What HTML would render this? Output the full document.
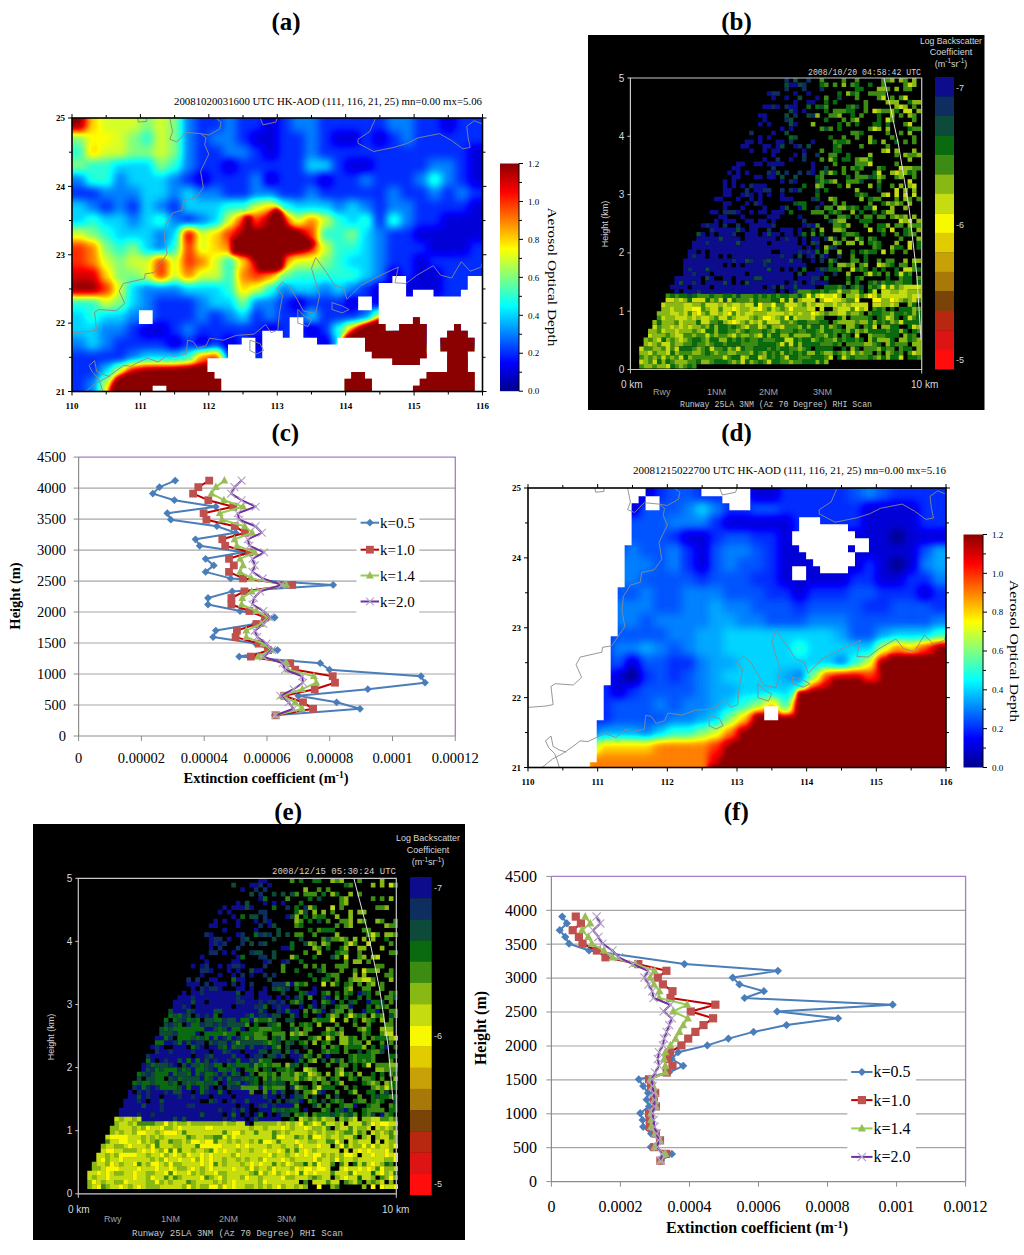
<!DOCTYPE html><html><head><meta charset="utf-8"><style>html,body{margin:0;padding:0;background:#fff;overflow:hidden;width:1024px;height:1255px;}svg{display:block;}</style></head><body><svg width="1024" height="1255" viewBox="0 0 1024 1255">
<defs><filter id="jet" color-interpolation-filters="sRGB" x="0" y="0" width="1" height="1"><feComponentTransfer><feFuncR type="table" tableValues="0 0 0 0 0.5 1 1 1 0.545"/><feFuncG type="table" tableValues="0 0 0.5 1 1 1 0.5 0 0"/><feFuncB type="table" tableValues="0.545 1 1 1 0.5 0 0 0 0"/></feComponentTransfer></filter></defs>
<rect width="1024" height="1255" fill="#fff"/>
<text x="286.0" y="30.0" font-family="Liberation Serif" font-size="25" fill="#000" text-anchor="middle" font-weight="bold" >(a)</text>
<text x="736.5" y="30.0" font-family="Liberation Serif" font-size="25" fill="#000" text-anchor="middle" font-weight="bold" >(b)</text>
<text x="285.3" y="440.7" font-family="Liberation Serif" font-size="25" fill="#000" text-anchor="middle" font-weight="bold" >(c)</text>
<text x="736.5" y="440.7" font-family="Liberation Serif" font-size="25" fill="#000" text-anchor="middle" font-weight="bold" >(d)</text>
<text x="288.1" y="819.8" font-family="Liberation Serif" font-size="25" fill="#000" text-anchor="middle" font-weight="bold" >(e)</text>
<text x="736.3" y="819.8" font-family="Liberation Serif" font-size="25" fill="#000" text-anchor="middle" font-weight="bold" >(f)</text>
<clipPath id="clipA"><rect x="72" y="118" width="410.50" height="273.50"/></clipPath>
<filter id="blA" color-interpolation-filters="sRGB" x="-5%" y="-5%" width="110%" height="110%"><feGaussianBlur stdDeviation="4.0"/></filter>
<filter id="sbA" color-interpolation-filters="sRGB" x="-20%" y="-20%" width="140%" height="140%"><feGaussianBlur stdDeviation="2"/></filter>
<g clip-path="url(#clipA)">
<g filter="url(#jet)">
<g filter="url(#blA)">
<rect x="44.6" y="90.7" width="14.3" height="14.3" fill="#ffffff"/>
<rect x="58.3" y="90.7" width="14.3" height="14.3" fill="#ffffff"/>
<rect x="72.0" y="90.7" width="14.3" height="14.3" fill="#ffffff"/>
<rect x="85.7" y="90.7" width="14.3" height="14.3" fill="#aaaaaa"/>
<rect x="99.4" y="90.7" width="14.3" height="14.3" fill="#959595"/>
<rect x="113.0" y="90.7" width="14.3" height="14.3" fill="#959595"/>
<rect x="126.7" y="90.7" width="14.3" height="14.3" fill="#959595"/>
<rect x="140.4" y="90.7" width="14.3" height="14.3" fill="#808080"/>
<rect x="154.1" y="90.7" width="14.3" height="14.3" fill="#959595"/>
<rect x="167.8" y="90.7" width="14.3" height="14.3" fill="#808080"/>
<rect x="181.5" y="90.7" width="14.3" height="14.3" fill="#404040"/>
<rect x="195.2" y="90.7" width="14.3" height="14.3" fill="#2b2b2b"/>
<rect x="208.8" y="90.7" width="14.3" height="14.3" fill="#2b2b2b"/>
<rect x="222.5" y="90.7" width="14.3" height="14.3" fill="#404040"/>
<rect x="236.2" y="90.7" width="14.3" height="14.3" fill="#2b2b2b"/>
<rect x="249.9" y="90.7" width="14.3" height="14.3" fill="#2b2b2b"/>
<rect x="263.6" y="90.7" width="14.3" height="14.3" fill="#151515"/>
<rect x="277.2" y="90.7" width="14.3" height="14.3" fill="#2b2b2b"/>
<rect x="290.9" y="90.7" width="14.3" height="14.3" fill="#404040"/>
<rect x="304.6" y="90.7" width="14.3" height="14.3" fill="#404040"/>
<rect x="318.3" y="90.7" width="14.3" height="14.3" fill="#2b2b2b"/>
<rect x="332.0" y="90.7" width="14.3" height="14.3" fill="#2b2b2b"/>
<rect x="345.7" y="90.7" width="14.3" height="14.3" fill="#2b2b2b"/>
<rect x="359.4" y="90.7" width="14.3" height="14.3" fill="#2b2b2b"/>
<rect x="373.0" y="90.7" width="14.3" height="14.3" fill="#2b2b2b"/>
<rect x="386.7" y="90.7" width="14.3" height="14.3" fill="#404040"/>
<rect x="400.4" y="90.7" width="14.3" height="14.3" fill="#404040"/>
<rect x="414.1" y="90.7" width="14.3" height="14.3" fill="#2b2b2b"/>
<rect x="427.8" y="90.7" width="14.3" height="14.3" fill="#2b2b2b"/>
<rect x="441.4" y="90.7" width="14.3" height="14.3" fill="#151515"/>
<rect x="455.1" y="90.7" width="14.3" height="14.3" fill="#2b2b2b"/>
<rect x="468.8" y="90.7" width="14.3" height="14.3" fill="#2b2b2b"/>
<rect x="482.5" y="90.7" width="14.3" height="14.3" fill="#2b2b2b"/>
<rect x="496.2" y="90.7" width="14.3" height="14.3" fill="#2b2b2b"/>
<rect x="44.6" y="104.3" width="14.3" height="14.3" fill="#ffffff"/>
<rect x="58.3" y="104.3" width="14.3" height="14.3" fill="#ffffff"/>
<rect x="72.0" y="104.3" width="14.3" height="14.3" fill="#ffffff"/>
<rect x="85.7" y="104.3" width="14.3" height="14.3" fill="#aaaaaa"/>
<rect x="99.4" y="104.3" width="14.3" height="14.3" fill="#959595"/>
<rect x="113.0" y="104.3" width="14.3" height="14.3" fill="#959595"/>
<rect x="126.7" y="104.3" width="14.3" height="14.3" fill="#959595"/>
<rect x="140.4" y="104.3" width="14.3" height="14.3" fill="#808080"/>
<rect x="154.1" y="104.3" width="14.3" height="14.3" fill="#959595"/>
<rect x="167.8" y="104.3" width="14.3" height="14.3" fill="#808080"/>
<rect x="181.5" y="104.3" width="14.3" height="14.3" fill="#404040"/>
<rect x="195.2" y="104.3" width="14.3" height="14.3" fill="#2b2b2b"/>
<rect x="208.8" y="104.3" width="14.3" height="14.3" fill="#2b2b2b"/>
<rect x="222.5" y="104.3" width="14.3" height="14.3" fill="#404040"/>
<rect x="236.2" y="104.3" width="14.3" height="14.3" fill="#2b2b2b"/>
<rect x="249.9" y="104.3" width="14.3" height="14.3" fill="#2b2b2b"/>
<rect x="263.6" y="104.3" width="14.3" height="14.3" fill="#151515"/>
<rect x="277.2" y="104.3" width="14.3" height="14.3" fill="#2b2b2b"/>
<rect x="290.9" y="104.3" width="14.3" height="14.3" fill="#404040"/>
<rect x="304.6" y="104.3" width="14.3" height="14.3" fill="#404040"/>
<rect x="318.3" y="104.3" width="14.3" height="14.3" fill="#2b2b2b"/>
<rect x="332.0" y="104.3" width="14.3" height="14.3" fill="#2b2b2b"/>
<rect x="345.7" y="104.3" width="14.3" height="14.3" fill="#2b2b2b"/>
<rect x="359.4" y="104.3" width="14.3" height="14.3" fill="#2b2b2b"/>
<rect x="373.0" y="104.3" width="14.3" height="14.3" fill="#2b2b2b"/>
<rect x="386.7" y="104.3" width="14.3" height="14.3" fill="#404040"/>
<rect x="400.4" y="104.3" width="14.3" height="14.3" fill="#404040"/>
<rect x="414.1" y="104.3" width="14.3" height="14.3" fill="#2b2b2b"/>
<rect x="427.8" y="104.3" width="14.3" height="14.3" fill="#2b2b2b"/>
<rect x="441.4" y="104.3" width="14.3" height="14.3" fill="#151515"/>
<rect x="455.1" y="104.3" width="14.3" height="14.3" fill="#2b2b2b"/>
<rect x="468.8" y="104.3" width="14.3" height="14.3" fill="#2b2b2b"/>
<rect x="482.5" y="104.3" width="14.3" height="14.3" fill="#2b2b2b"/>
<rect x="496.2" y="104.3" width="14.3" height="14.3" fill="#2b2b2b"/>
<rect x="44.6" y="118.0" width="14.3" height="14.3" fill="#ffffff"/>
<rect x="58.3" y="118.0" width="14.3" height="14.3" fill="#ffffff"/>
<rect x="72.0" y="118.0" width="14.3" height="14.3" fill="#ffffff"/>
<rect x="85.7" y="118.0" width="14.3" height="14.3" fill="#aaaaaa"/>
<rect x="99.4" y="118.0" width="14.3" height="14.3" fill="#959595"/>
<rect x="113.0" y="118.0" width="14.3" height="14.3" fill="#959595"/>
<rect x="126.7" y="118.0" width="14.3" height="14.3" fill="#959595"/>
<rect x="140.4" y="118.0" width="14.3" height="14.3" fill="#808080"/>
<rect x="154.1" y="118.0" width="14.3" height="14.3" fill="#959595"/>
<rect x="167.8" y="118.0" width="14.3" height="14.3" fill="#808080"/>
<rect x="181.5" y="118.0" width="14.3" height="14.3" fill="#404040"/>
<rect x="195.2" y="118.0" width="14.3" height="14.3" fill="#2b2b2b"/>
<rect x="208.8" y="118.0" width="14.3" height="14.3" fill="#2b2b2b"/>
<rect x="222.5" y="118.0" width="14.3" height="14.3" fill="#404040"/>
<rect x="236.2" y="118.0" width="14.3" height="14.3" fill="#2b2b2b"/>
<rect x="249.9" y="118.0" width="14.3" height="14.3" fill="#2b2b2b"/>
<rect x="263.6" y="118.0" width="14.3" height="14.3" fill="#151515"/>
<rect x="277.2" y="118.0" width="14.3" height="14.3" fill="#2b2b2b"/>
<rect x="290.9" y="118.0" width="14.3" height="14.3" fill="#404040"/>
<rect x="304.6" y="118.0" width="14.3" height="14.3" fill="#404040"/>
<rect x="318.3" y="118.0" width="14.3" height="14.3" fill="#2b2b2b"/>
<rect x="332.0" y="118.0" width="14.3" height="14.3" fill="#2b2b2b"/>
<rect x="345.7" y="118.0" width="14.3" height="14.3" fill="#2b2b2b"/>
<rect x="359.4" y="118.0" width="14.3" height="14.3" fill="#2b2b2b"/>
<rect x="373.0" y="118.0" width="14.3" height="14.3" fill="#2b2b2b"/>
<rect x="386.7" y="118.0" width="14.3" height="14.3" fill="#404040"/>
<rect x="400.4" y="118.0" width="14.3" height="14.3" fill="#404040"/>
<rect x="414.1" y="118.0" width="14.3" height="14.3" fill="#2b2b2b"/>
<rect x="427.8" y="118.0" width="14.3" height="14.3" fill="#2b2b2b"/>
<rect x="441.4" y="118.0" width="14.3" height="14.3" fill="#151515"/>
<rect x="455.1" y="118.0" width="14.3" height="14.3" fill="#2b2b2b"/>
<rect x="468.8" y="118.0" width="14.3" height="14.3" fill="#2b2b2b"/>
<rect x="482.5" y="118.0" width="14.3" height="14.3" fill="#2b2b2b"/>
<rect x="496.2" y="118.0" width="14.3" height="14.3" fill="#2b2b2b"/>
<rect x="44.6" y="131.7" width="14.3" height="14.3" fill="#808080"/>
<rect x="58.3" y="131.7" width="14.3" height="14.3" fill="#808080"/>
<rect x="72.0" y="131.7" width="14.3" height="14.3" fill="#808080"/>
<rect x="85.7" y="131.7" width="14.3" height="14.3" fill="#9f9f9f"/>
<rect x="99.4" y="131.7" width="14.3" height="14.3" fill="#9f9f9f"/>
<rect x="113.0" y="131.7" width="14.3" height="14.3" fill="#959595"/>
<rect x="126.7" y="131.7" width="14.3" height="14.3" fill="#808080"/>
<rect x="140.4" y="131.7" width="14.3" height="14.3" fill="#6a6a6a"/>
<rect x="154.1" y="131.7" width="14.3" height="14.3" fill="#959595"/>
<rect x="167.8" y="131.7" width="14.3" height="14.3" fill="#808080"/>
<rect x="181.5" y="131.7" width="14.3" height="14.3" fill="#404040"/>
<rect x="195.2" y="131.7" width="14.3" height="14.3" fill="#2b2b2b"/>
<rect x="208.8" y="131.7" width="14.3" height="14.3" fill="#404040"/>
<rect x="222.5" y="131.7" width="14.3" height="14.3" fill="#404040"/>
<rect x="236.2" y="131.7" width="14.3" height="14.3" fill="#2b2b2b"/>
<rect x="249.9" y="131.7" width="14.3" height="14.3" fill="#151515"/>
<rect x="263.6" y="131.7" width="14.3" height="14.3" fill="#151515"/>
<rect x="277.2" y="131.7" width="14.3" height="14.3" fill="#2b2b2b"/>
<rect x="290.9" y="131.7" width="14.3" height="14.3" fill="#2b2b2b"/>
<rect x="304.6" y="131.7" width="14.3" height="14.3" fill="#404040"/>
<rect x="318.3" y="131.7" width="14.3" height="14.3" fill="#2b2b2b"/>
<rect x="332.0" y="131.7" width="14.3" height="14.3" fill="#151515"/>
<rect x="345.7" y="131.7" width="14.3" height="14.3" fill="#151515"/>
<rect x="359.4" y="131.7" width="14.3" height="14.3" fill="#2b2b2b"/>
<rect x="373.0" y="131.7" width="14.3" height="14.3" fill="#151515"/>
<rect x="386.7" y="131.7" width="14.3" height="14.3" fill="#2b2b2b"/>
<rect x="400.4" y="131.7" width="14.3" height="14.3" fill="#404040"/>
<rect x="414.1" y="131.7" width="14.3" height="14.3" fill="#2b2b2b"/>
<rect x="427.8" y="131.7" width="14.3" height="14.3" fill="#2b2b2b"/>
<rect x="441.4" y="131.7" width="14.3" height="14.3" fill="#2b2b2b"/>
<rect x="455.1" y="131.7" width="14.3" height="14.3" fill="#2b2b2b"/>
<rect x="468.8" y="131.7" width="14.3" height="14.3" fill="#2b2b2b"/>
<rect x="482.5" y="131.7" width="14.3" height="14.3" fill="#2b2b2b"/>
<rect x="496.2" y="131.7" width="14.3" height="14.3" fill="#2b2b2b"/>
<rect x="44.6" y="145.3" width="14.3" height="14.3" fill="#6a6a6a"/>
<rect x="58.3" y="145.3" width="14.3" height="14.3" fill="#6a6a6a"/>
<rect x="72.0" y="145.3" width="14.3" height="14.3" fill="#6a6a6a"/>
<rect x="85.7" y="145.3" width="14.3" height="14.3" fill="#aaaaaa"/>
<rect x="99.4" y="145.3" width="14.3" height="14.3" fill="#959595"/>
<rect x="113.0" y="145.3" width="14.3" height="14.3" fill="#959595"/>
<rect x="126.7" y="145.3" width="14.3" height="14.3" fill="#808080"/>
<rect x="140.4" y="145.3" width="14.3" height="14.3" fill="#808080"/>
<rect x="154.1" y="145.3" width="14.3" height="14.3" fill="#959595"/>
<rect x="167.8" y="145.3" width="14.3" height="14.3" fill="#808080"/>
<rect x="181.5" y="145.3" width="14.3" height="14.3" fill="#404040"/>
<rect x="195.2" y="145.3" width="14.3" height="14.3" fill="#2b2b2b"/>
<rect x="208.8" y="145.3" width="14.3" height="14.3" fill="#2b2b2b"/>
<rect x="222.5" y="145.3" width="14.3" height="14.3" fill="#404040"/>
<rect x="236.2" y="145.3" width="14.3" height="14.3" fill="#404040"/>
<rect x="249.9" y="145.3" width="14.3" height="14.3" fill="#2b2b2b"/>
<rect x="263.6" y="145.3" width="14.3" height="14.3" fill="#151515"/>
<rect x="277.2" y="145.3" width="14.3" height="14.3" fill="#2b2b2b"/>
<rect x="290.9" y="145.3" width="14.3" height="14.3" fill="#2b2b2b"/>
<rect x="304.6" y="145.3" width="14.3" height="14.3" fill="#404040"/>
<rect x="318.3" y="145.3" width="14.3" height="14.3" fill="#2b2b2b"/>
<rect x="332.0" y="145.3" width="14.3" height="14.3" fill="#2b2b2b"/>
<rect x="345.7" y="145.3" width="14.3" height="14.3" fill="#2b2b2b"/>
<rect x="359.4" y="145.3" width="14.3" height="14.3" fill="#2b2b2b"/>
<rect x="373.0" y="145.3" width="14.3" height="14.3" fill="#2b2b2b"/>
<rect x="386.7" y="145.3" width="14.3" height="14.3" fill="#2b2b2b"/>
<rect x="400.4" y="145.3" width="14.3" height="14.3" fill="#2b2b2b"/>
<rect x="414.1" y="145.3" width="14.3" height="14.3" fill="#2b2b2b"/>
<rect x="427.8" y="145.3" width="14.3" height="14.3" fill="#2b2b2b"/>
<rect x="441.4" y="145.3" width="14.3" height="14.3" fill="#2b2b2b"/>
<rect x="455.1" y="145.3" width="14.3" height="14.3" fill="#2b2b2b"/>
<rect x="468.8" y="145.3" width="14.3" height="14.3" fill="#151515"/>
<rect x="482.5" y="145.3" width="14.3" height="14.3" fill="#151515"/>
<rect x="496.2" y="145.3" width="14.3" height="14.3" fill="#151515"/>
<rect x="44.6" y="159.0" width="14.3" height="14.3" fill="#808080"/>
<rect x="58.3" y="159.0" width="14.3" height="14.3" fill="#808080"/>
<rect x="72.0" y="159.0" width="14.3" height="14.3" fill="#808080"/>
<rect x="85.7" y="159.0" width="14.3" height="14.3" fill="#6a6a6a"/>
<rect x="99.4" y="159.0" width="14.3" height="14.3" fill="#6a6a6a"/>
<rect x="113.0" y="159.0" width="14.3" height="14.3" fill="#555555"/>
<rect x="126.7" y="159.0" width="14.3" height="14.3" fill="#555555"/>
<rect x="140.4" y="159.0" width="14.3" height="14.3" fill="#555555"/>
<rect x="154.1" y="159.0" width="14.3" height="14.3" fill="#808080"/>
<rect x="167.8" y="159.0" width="14.3" height="14.3" fill="#6a6a6a"/>
<rect x="181.5" y="159.0" width="14.3" height="14.3" fill="#404040"/>
<rect x="195.2" y="159.0" width="14.3" height="14.3" fill="#2b2b2b"/>
<rect x="208.8" y="159.0" width="14.3" height="14.3" fill="#2b2b2b"/>
<rect x="222.5" y="159.0" width="14.3" height="14.3" fill="#151515"/>
<rect x="236.2" y="159.0" width="14.3" height="14.3" fill="#2b2b2b"/>
<rect x="249.9" y="159.0" width="14.3" height="14.3" fill="#2b2b2b"/>
<rect x="263.6" y="159.0" width="14.3" height="14.3" fill="#2b2b2b"/>
<rect x="277.2" y="159.0" width="14.3" height="14.3" fill="#2b2b2b"/>
<rect x="290.9" y="159.0" width="14.3" height="14.3" fill="#2b2b2b"/>
<rect x="304.6" y="159.0" width="14.3" height="14.3" fill="#555555"/>
<rect x="318.3" y="159.0" width="14.3" height="14.3" fill="#555555"/>
<rect x="332.0" y="159.0" width="14.3" height="14.3" fill="#2b2b2b"/>
<rect x="345.7" y="159.0" width="14.3" height="14.3" fill="#151515"/>
<rect x="359.4" y="159.0" width="14.3" height="14.3" fill="#151515"/>
<rect x="373.0" y="159.0" width="14.3" height="14.3" fill="#2b2b2b"/>
<rect x="386.7" y="159.0" width="14.3" height="14.3" fill="#2b2b2b"/>
<rect x="400.4" y="159.0" width="14.3" height="14.3" fill="#2b2b2b"/>
<rect x="414.1" y="159.0" width="14.3" height="14.3" fill="#2b2b2b"/>
<rect x="427.8" y="159.0" width="14.3" height="14.3" fill="#404040"/>
<rect x="441.4" y="159.0" width="14.3" height="14.3" fill="#404040"/>
<rect x="455.1" y="159.0" width="14.3" height="14.3" fill="#2b2b2b"/>
<rect x="468.8" y="159.0" width="14.3" height="14.3" fill="#151515"/>
<rect x="482.5" y="159.0" width="14.3" height="14.3" fill="#151515"/>
<rect x="496.2" y="159.0" width="14.3" height="14.3" fill="#151515"/>
<rect x="44.6" y="172.7" width="14.3" height="14.3" fill="#404040"/>
<rect x="58.3" y="172.7" width="14.3" height="14.3" fill="#404040"/>
<rect x="72.0" y="172.7" width="14.3" height="14.3" fill="#404040"/>
<rect x="85.7" y="172.7" width="14.3" height="14.3" fill="#6a6a6a"/>
<rect x="99.4" y="172.7" width="14.3" height="14.3" fill="#6a6a6a"/>
<rect x="113.0" y="172.7" width="14.3" height="14.3" fill="#404040"/>
<rect x="126.7" y="172.7" width="14.3" height="14.3" fill="#555555"/>
<rect x="140.4" y="172.7" width="14.3" height="14.3" fill="#555555"/>
<rect x="154.1" y="172.7" width="14.3" height="14.3" fill="#555555"/>
<rect x="167.8" y="172.7" width="14.3" height="14.3" fill="#404040"/>
<rect x="181.5" y="172.7" width="14.3" height="14.3" fill="#2b2b2b"/>
<rect x="195.2" y="172.7" width="14.3" height="14.3" fill="#151515"/>
<rect x="208.8" y="172.7" width="14.3" height="14.3" fill="#2b2b2b"/>
<rect x="222.5" y="172.7" width="14.3" height="14.3" fill="#2b2b2b"/>
<rect x="236.2" y="172.7" width="14.3" height="14.3" fill="#2b2b2b"/>
<rect x="249.9" y="172.7" width="14.3" height="14.3" fill="#404040"/>
<rect x="263.6" y="172.7" width="14.3" height="14.3" fill="#151515"/>
<rect x="277.2" y="172.7" width="14.3" height="14.3" fill="#2b2b2b"/>
<rect x="290.9" y="172.7" width="14.3" height="14.3" fill="#2b2b2b"/>
<rect x="304.6" y="172.7" width="14.3" height="14.3" fill="#2b2b2b"/>
<rect x="318.3" y="172.7" width="14.3" height="14.3" fill="#151515"/>
<rect x="332.0" y="172.7" width="14.3" height="14.3" fill="#2b2b2b"/>
<rect x="345.7" y="172.7" width="14.3" height="14.3" fill="#2b2b2b"/>
<rect x="359.4" y="172.7" width="14.3" height="14.3" fill="#404040"/>
<rect x="373.0" y="172.7" width="14.3" height="14.3" fill="#2b2b2b"/>
<rect x="386.7" y="172.7" width="14.3" height="14.3" fill="#2b2b2b"/>
<rect x="400.4" y="172.7" width="14.3" height="14.3" fill="#2b2b2b"/>
<rect x="414.1" y="172.7" width="14.3" height="14.3" fill="#404040"/>
<rect x="427.8" y="172.7" width="14.3" height="14.3" fill="#6a6a6a"/>
<rect x="441.4" y="172.7" width="14.3" height="14.3" fill="#404040"/>
<rect x="455.1" y="172.7" width="14.3" height="14.3" fill="#2b2b2b"/>
<rect x="468.8" y="172.7" width="14.3" height="14.3" fill="#151515"/>
<rect x="482.5" y="172.7" width="14.3" height="14.3" fill="#151515"/>
<rect x="496.2" y="172.7" width="14.3" height="14.3" fill="#151515"/>
<rect x="44.6" y="186.4" width="14.3" height="14.3" fill="#2b2b2b"/>
<rect x="58.3" y="186.4" width="14.3" height="14.3" fill="#2b2b2b"/>
<rect x="72.0" y="186.4" width="14.3" height="14.3" fill="#2b2b2b"/>
<rect x="85.7" y="186.4" width="14.3" height="14.3" fill="#2b2b2b"/>
<rect x="99.4" y="186.4" width="14.3" height="14.3" fill="#404040"/>
<rect x="113.0" y="186.4" width="14.3" height="14.3" fill="#404040"/>
<rect x="126.7" y="186.4" width="14.3" height="14.3" fill="#404040"/>
<rect x="140.4" y="186.4" width="14.3" height="14.3" fill="#555555"/>
<rect x="154.1" y="186.4" width="14.3" height="14.3" fill="#555555"/>
<rect x="167.8" y="186.4" width="14.3" height="14.3" fill="#404040"/>
<rect x="181.5" y="186.4" width="14.3" height="14.3" fill="#555555"/>
<rect x="195.2" y="186.4" width="14.3" height="14.3" fill="#404040"/>
<rect x="208.8" y="186.4" width="14.3" height="14.3" fill="#404040"/>
<rect x="222.5" y="186.4" width="14.3" height="14.3" fill="#2b2b2b"/>
<rect x="236.2" y="186.4" width="14.3" height="14.3" fill="#2b2b2b"/>
<rect x="249.9" y="186.4" width="14.3" height="14.3" fill="#404040"/>
<rect x="263.6" y="186.4" width="14.3" height="14.3" fill="#404040"/>
<rect x="277.2" y="186.4" width="14.3" height="14.3" fill="#2b2b2b"/>
<rect x="290.9" y="186.4" width="14.3" height="14.3" fill="#2b2b2b"/>
<rect x="304.6" y="186.4" width="14.3" height="14.3" fill="#404040"/>
<rect x="318.3" y="186.4" width="14.3" height="14.3" fill="#2b2b2b"/>
<rect x="332.0" y="186.4" width="14.3" height="14.3" fill="#2b2b2b"/>
<rect x="345.7" y="186.4" width="14.3" height="14.3" fill="#2b2b2b"/>
<rect x="359.4" y="186.4" width="14.3" height="14.3" fill="#2b2b2b"/>
<rect x="373.0" y="186.4" width="14.3" height="14.3" fill="#2b2b2b"/>
<rect x="386.7" y="186.4" width="14.3" height="14.3" fill="#404040"/>
<rect x="400.4" y="186.4" width="14.3" height="14.3" fill="#2b2b2b"/>
<rect x="414.1" y="186.4" width="14.3" height="14.3" fill="#2b2b2b"/>
<rect x="427.8" y="186.4" width="14.3" height="14.3" fill="#404040"/>
<rect x="441.4" y="186.4" width="14.3" height="14.3" fill="#2b2b2b"/>
<rect x="455.1" y="186.4" width="14.3" height="14.3" fill="#404040"/>
<rect x="468.8" y="186.4" width="14.3" height="14.3" fill="#2b2b2b"/>
<rect x="482.5" y="186.4" width="14.3" height="14.3" fill="#2b2b2b"/>
<rect x="496.2" y="186.4" width="14.3" height="14.3" fill="#2b2b2b"/>
<rect x="44.6" y="200.1" width="14.3" height="14.3" fill="#555555"/>
<rect x="58.3" y="200.1" width="14.3" height="14.3" fill="#555555"/>
<rect x="72.0" y="200.1" width="14.3" height="14.3" fill="#555555"/>
<rect x="85.7" y="200.1" width="14.3" height="14.3" fill="#404040"/>
<rect x="99.4" y="200.1" width="14.3" height="14.3" fill="#2b2b2b"/>
<rect x="113.0" y="200.1" width="14.3" height="14.3" fill="#404040"/>
<rect x="126.7" y="200.1" width="14.3" height="14.3" fill="#2b2b2b"/>
<rect x="140.4" y="200.1" width="14.3" height="14.3" fill="#555555"/>
<rect x="154.1" y="200.1" width="14.3" height="14.3" fill="#404040"/>
<rect x="167.8" y="200.1" width="14.3" height="14.3" fill="#2b2b2b"/>
<rect x="181.5" y="200.1" width="14.3" height="14.3" fill="#555555"/>
<rect x="195.2" y="200.1" width="14.3" height="14.3" fill="#555555"/>
<rect x="208.8" y="200.1" width="14.3" height="14.3" fill="#555555"/>
<rect x="222.5" y="200.1" width="14.3" height="14.3" fill="#6a6a6a"/>
<rect x="236.2" y="200.1" width="14.3" height="14.3" fill="#6a6a6a"/>
<rect x="249.9" y="200.1" width="14.3" height="14.3" fill="#959595"/>
<rect x="263.6" y="200.1" width="14.3" height="14.3" fill="#aaaaaa"/>
<rect x="277.2" y="200.1" width="14.3" height="14.3" fill="#6a6a6a"/>
<rect x="290.9" y="200.1" width="14.3" height="14.3" fill="#555555"/>
<rect x="304.6" y="200.1" width="14.3" height="14.3" fill="#555555"/>
<rect x="318.3" y="200.1" width="14.3" height="14.3" fill="#555555"/>
<rect x="332.0" y="200.1" width="14.3" height="14.3" fill="#404040"/>
<rect x="345.7" y="200.1" width="14.3" height="14.3" fill="#555555"/>
<rect x="359.4" y="200.1" width="14.3" height="14.3" fill="#404040"/>
<rect x="373.0" y="200.1" width="14.3" height="14.3" fill="#2b2b2b"/>
<rect x="386.7" y="200.1" width="14.3" height="14.3" fill="#404040"/>
<rect x="400.4" y="200.1" width="14.3" height="14.3" fill="#404040"/>
<rect x="414.1" y="200.1" width="14.3" height="14.3" fill="#2b2b2b"/>
<rect x="427.8" y="200.1" width="14.3" height="14.3" fill="#2b2b2b"/>
<rect x="441.4" y="200.1" width="14.3" height="14.3" fill="#2b2b2b"/>
<rect x="455.1" y="200.1" width="14.3" height="14.3" fill="#2b2b2b"/>
<rect x="468.8" y="200.1" width="14.3" height="14.3" fill="#151515"/>
<rect x="482.5" y="200.1" width="14.3" height="14.3" fill="#151515"/>
<rect x="496.2" y="200.1" width="14.3" height="14.3" fill="#151515"/>
<rect x="44.6" y="213.7" width="14.3" height="14.3" fill="#555555"/>
<rect x="58.3" y="213.7" width="14.3" height="14.3" fill="#555555"/>
<rect x="72.0" y="213.7" width="14.3" height="14.3" fill="#555555"/>
<rect x="85.7" y="213.7" width="14.3" height="14.3" fill="#6a6a6a"/>
<rect x="99.4" y="213.7" width="14.3" height="14.3" fill="#555555"/>
<rect x="113.0" y="213.7" width="14.3" height="14.3" fill="#555555"/>
<rect x="126.7" y="213.7" width="14.3" height="14.3" fill="#404040"/>
<rect x="140.4" y="213.7" width="14.3" height="14.3" fill="#555555"/>
<rect x="154.1" y="213.7" width="14.3" height="14.3" fill="#6a6a6a"/>
<rect x="167.8" y="213.7" width="14.3" height="14.3" fill="#404040"/>
<rect x="181.5" y="213.7" width="14.3" height="14.3" fill="#2b2b2b"/>
<rect x="195.2" y="213.7" width="14.3" height="14.3" fill="#404040"/>
<rect x="208.8" y="213.7" width="14.3" height="14.3" fill="#555555"/>
<rect x="222.5" y="213.7" width="14.3" height="14.3" fill="#959595"/>
<rect x="236.2" y="213.7" width="14.3" height="14.3" fill="#d4d4d4"/>
<rect x="249.9" y="213.7" width="14.3" height="14.3" fill="#d4d4d4"/>
<rect x="263.6" y="213.7" width="14.3" height="14.3" fill="#ffffff"/>
<rect x="277.2" y="213.7" width="14.3" height="14.3" fill="#d4d4d4"/>
<rect x="290.9" y="213.7" width="14.3" height="14.3" fill="#959595"/>
<rect x="304.6" y="213.7" width="14.3" height="14.3" fill="#bfbfbf"/>
<rect x="318.3" y="213.7" width="14.3" height="14.3" fill="#959595"/>
<rect x="332.0" y="213.7" width="14.3" height="14.3" fill="#6a6a6a"/>
<rect x="345.7" y="213.7" width="14.3" height="14.3" fill="#555555"/>
<rect x="359.4" y="213.7" width="14.3" height="14.3" fill="#6a6a6a"/>
<rect x="373.0" y="213.7" width="14.3" height="14.3" fill="#2b2b2b"/>
<rect x="386.7" y="213.7" width="14.3" height="14.3" fill="#6a6a6a"/>
<rect x="400.4" y="213.7" width="14.3" height="14.3" fill="#404040"/>
<rect x="414.1" y="213.7" width="14.3" height="14.3" fill="#2b2b2b"/>
<rect x="427.8" y="213.7" width="14.3" height="14.3" fill="#2b2b2b"/>
<rect x="441.4" y="213.7" width="14.3" height="14.3" fill="#151515"/>
<rect x="455.1" y="213.7" width="14.3" height="14.3" fill="#151515"/>
<rect x="468.8" y="213.7" width="14.3" height="14.3" fill="#151515"/>
<rect x="482.5" y="213.7" width="14.3" height="14.3" fill="#151515"/>
<rect x="496.2" y="213.7" width="14.3" height="14.3" fill="#151515"/>
<rect x="44.6" y="227.4" width="14.3" height="14.3" fill="#959595"/>
<rect x="58.3" y="227.4" width="14.3" height="14.3" fill="#959595"/>
<rect x="72.0" y="227.4" width="14.3" height="14.3" fill="#959595"/>
<rect x="85.7" y="227.4" width="14.3" height="14.3" fill="#808080"/>
<rect x="99.4" y="227.4" width="14.3" height="14.3" fill="#6a6a6a"/>
<rect x="113.0" y="227.4" width="14.3" height="14.3" fill="#555555"/>
<rect x="126.7" y="227.4" width="14.3" height="14.3" fill="#555555"/>
<rect x="140.4" y="227.4" width="14.3" height="14.3" fill="#555555"/>
<rect x="154.1" y="227.4" width="14.3" height="14.3" fill="#404040"/>
<rect x="167.8" y="227.4" width="14.3" height="14.3" fill="#555555"/>
<rect x="181.5" y="227.4" width="14.3" height="14.3" fill="#eaeaea"/>
<rect x="195.2" y="227.4" width="14.3" height="14.3" fill="#959595"/>
<rect x="208.8" y="227.4" width="14.3" height="14.3" fill="#aaaaaa"/>
<rect x="222.5" y="227.4" width="14.3" height="14.3" fill="#d4d4d4"/>
<rect x="236.2" y="227.4" width="14.3" height="14.3" fill="#ffffff"/>
<rect x="249.9" y="227.4" width="14.3" height="14.3" fill="#ffffff"/>
<rect x="263.6" y="227.4" width="14.3" height="14.3" fill="#ffffff"/>
<rect x="277.2" y="227.4" width="14.3" height="14.3" fill="#ffffff"/>
<rect x="290.9" y="227.4" width="14.3" height="14.3" fill="#ffffff"/>
<rect x="304.6" y="227.4" width="14.3" height="14.3" fill="#d4d4d4"/>
<rect x="318.3" y="227.4" width="14.3" height="14.3" fill="#6a6a6a"/>
<rect x="332.0" y="227.4" width="14.3" height="14.3" fill="#6a6a6a"/>
<rect x="345.7" y="227.4" width="14.3" height="14.3" fill="#808080"/>
<rect x="359.4" y="227.4" width="14.3" height="14.3" fill="#555555"/>
<rect x="373.0" y="227.4" width="14.3" height="14.3" fill="#404040"/>
<rect x="386.7" y="227.4" width="14.3" height="14.3" fill="#2b2b2b"/>
<rect x="400.4" y="227.4" width="14.3" height="14.3" fill="#2b2b2b"/>
<rect x="414.1" y="227.4" width="14.3" height="14.3" fill="#151515"/>
<rect x="427.8" y="227.4" width="14.3" height="14.3" fill="#151515"/>
<rect x="441.4" y="227.4" width="14.3" height="14.3" fill="#151515"/>
<rect x="455.1" y="227.4" width="14.3" height="14.3" fill="#151515"/>
<rect x="468.8" y="227.4" width="14.3" height="14.3" fill="#151515"/>
<rect x="482.5" y="227.4" width="14.3" height="14.3" fill="#151515"/>
<rect x="496.2" y="227.4" width="14.3" height="14.3" fill="#151515"/>
<rect x="44.6" y="241.1" width="14.3" height="14.3" fill="#d4d4d4"/>
<rect x="58.3" y="241.1" width="14.3" height="14.3" fill="#d4d4d4"/>
<rect x="72.0" y="241.1" width="14.3" height="14.3" fill="#d4d4d4"/>
<rect x="85.7" y="241.1" width="14.3" height="14.3" fill="#bfbfbf"/>
<rect x="99.4" y="241.1" width="14.3" height="14.3" fill="#808080"/>
<rect x="113.0" y="241.1" width="14.3" height="14.3" fill="#6a6a6a"/>
<rect x="126.7" y="241.1" width="14.3" height="14.3" fill="#808080"/>
<rect x="140.4" y="241.1" width="14.3" height="14.3" fill="#555555"/>
<rect x="154.1" y="241.1" width="14.3" height="14.3" fill="#404040"/>
<rect x="167.8" y="241.1" width="14.3" height="14.3" fill="#6a6a6a"/>
<rect x="181.5" y="241.1" width="14.3" height="14.3" fill="#d4d4d4"/>
<rect x="195.2" y="241.1" width="14.3" height="14.3" fill="#959595"/>
<rect x="208.8" y="241.1" width="14.3" height="14.3" fill="#aaaaaa"/>
<rect x="222.5" y="241.1" width="14.3" height="14.3" fill="#bfbfbf"/>
<rect x="236.2" y="241.1" width="14.3" height="14.3" fill="#ffffff"/>
<rect x="249.9" y="241.1" width="14.3" height="14.3" fill="#ffffff"/>
<rect x="263.6" y="241.1" width="14.3" height="14.3" fill="#ffffff"/>
<rect x="277.2" y="241.1" width="14.3" height="14.3" fill="#ffffff"/>
<rect x="290.9" y="241.1" width="14.3" height="14.3" fill="#ffffff"/>
<rect x="304.6" y="241.1" width="14.3" height="14.3" fill="#d4d4d4"/>
<rect x="318.3" y="241.1" width="14.3" height="14.3" fill="#959595"/>
<rect x="332.0" y="241.1" width="14.3" height="14.3" fill="#6a6a6a"/>
<rect x="345.7" y="241.1" width="14.3" height="14.3" fill="#6a6a6a"/>
<rect x="359.4" y="241.1" width="14.3" height="14.3" fill="#555555"/>
<rect x="373.0" y="241.1" width="14.3" height="14.3" fill="#404040"/>
<rect x="386.7" y="241.1" width="14.3" height="14.3" fill="#2b2b2b"/>
<rect x="400.4" y="241.1" width="14.3" height="14.3" fill="#2b2b2b"/>
<rect x="414.1" y="241.1" width="14.3" height="14.3" fill="#2b2b2b"/>
<rect x="427.8" y="241.1" width="14.3" height="14.3" fill="#151515"/>
<rect x="441.4" y="241.1" width="14.3" height="14.3" fill="#151515"/>
<rect x="455.1" y="241.1" width="14.3" height="14.3" fill="#151515"/>
<rect x="468.8" y="241.1" width="14.3" height="14.3" fill="#2b2b2b"/>
<rect x="482.5" y="241.1" width="14.3" height="14.3" fill="#2b2b2b"/>
<rect x="496.2" y="241.1" width="14.3" height="14.3" fill="#2b2b2b"/>
<rect x="44.6" y="254.8" width="14.3" height="14.3" fill="#d4d4d4"/>
<rect x="58.3" y="254.8" width="14.3" height="14.3" fill="#d4d4d4"/>
<rect x="72.0" y="254.8" width="14.3" height="14.3" fill="#d4d4d4"/>
<rect x="85.7" y="254.8" width="14.3" height="14.3" fill="#bfbfbf"/>
<rect x="99.4" y="254.8" width="14.3" height="14.3" fill="#959595"/>
<rect x="113.0" y="254.8" width="14.3" height="14.3" fill="#808080"/>
<rect x="126.7" y="254.8" width="14.3" height="14.3" fill="#959595"/>
<rect x="140.4" y="254.8" width="14.3" height="14.3" fill="#959595"/>
<rect x="154.1" y="254.8" width="14.3" height="14.3" fill="#d4d4d4"/>
<rect x="167.8" y="254.8" width="14.3" height="14.3" fill="#959595"/>
<rect x="181.5" y="254.8" width="14.3" height="14.3" fill="#d4d4d4"/>
<rect x="195.2" y="254.8" width="14.3" height="14.3" fill="#bfbfbf"/>
<rect x="208.8" y="254.8" width="14.3" height="14.3" fill="#959595"/>
<rect x="222.5" y="254.8" width="14.3" height="14.3" fill="#6a6a6a"/>
<rect x="236.2" y="254.8" width="14.3" height="14.3" fill="#aaaaaa"/>
<rect x="249.9" y="254.8" width="14.3" height="14.3" fill="#eaeaea"/>
<rect x="263.6" y="254.8" width="14.3" height="14.3" fill="#ffffff"/>
<rect x="277.2" y="254.8" width="14.3" height="14.3" fill="#bfbfbf"/>
<rect x="290.9" y="254.8" width="14.3" height="14.3" fill="#959595"/>
<rect x="304.6" y="254.8" width="14.3" height="14.3" fill="#959595"/>
<rect x="318.3" y="254.8" width="14.3" height="14.3" fill="#808080"/>
<rect x="332.0" y="254.8" width="14.3" height="14.3" fill="#6a6a6a"/>
<rect x="345.7" y="254.8" width="14.3" height="14.3" fill="#555555"/>
<rect x="359.4" y="254.8" width="14.3" height="14.3" fill="#555555"/>
<rect x="373.0" y="254.8" width="14.3" height="14.3" fill="#404040"/>
<rect x="386.7" y="254.8" width="14.3" height="14.3" fill="#2b2b2b"/>
<rect x="400.4" y="254.8" width="14.3" height="14.3" fill="#2b2b2b"/>
<rect x="414.1" y="254.8" width="14.3" height="14.3" fill="#151515"/>
<rect x="427.8" y="254.8" width="14.3" height="14.3" fill="#2b2b2b"/>
<rect x="441.4" y="254.8" width="14.3" height="14.3" fill="#2b2b2b"/>
<rect x="455.1" y="254.8" width="14.3" height="14.3" fill="#2b2b2b"/>
<rect x="468.8" y="254.8" width="14.3" height="14.3" fill="#2b2b2b"/>
<rect x="482.5" y="254.8" width="14.3" height="14.3" fill="#2b2b2b"/>
<rect x="496.2" y="254.8" width="14.3" height="14.3" fill="#2b2b2b"/>
<rect x="44.6" y="268.4" width="14.3" height="14.3" fill="#eaeaea"/>
<rect x="58.3" y="268.4" width="14.3" height="14.3" fill="#eaeaea"/>
<rect x="72.0" y="268.4" width="14.3" height="14.3" fill="#eaeaea"/>
<rect x="85.7" y="268.4" width="14.3" height="14.3" fill="#eaeaea"/>
<rect x="99.4" y="268.4" width="14.3" height="14.3" fill="#aaaaaa"/>
<rect x="113.0" y="268.4" width="14.3" height="14.3" fill="#808080"/>
<rect x="126.7" y="268.4" width="14.3" height="14.3" fill="#808080"/>
<rect x="140.4" y="268.4" width="14.3" height="14.3" fill="#959595"/>
<rect x="154.1" y="268.4" width="14.3" height="14.3" fill="#d4d4d4"/>
<rect x="167.8" y="268.4" width="14.3" height="14.3" fill="#959595"/>
<rect x="181.5" y="268.4" width="14.3" height="14.3" fill="#bfbfbf"/>
<rect x="195.2" y="268.4" width="14.3" height="14.3" fill="#959595"/>
<rect x="208.8" y="268.4" width="14.3" height="14.3" fill="#959595"/>
<rect x="222.5" y="268.4" width="14.3" height="14.3" fill="#6a6a6a"/>
<rect x="236.2" y="268.4" width="14.3" height="14.3" fill="#bfbfbf"/>
<rect x="249.9" y="268.4" width="14.3" height="14.3" fill="#d4d4d4"/>
<rect x="263.6" y="268.4" width="14.3" height="14.3" fill="#bfbfbf"/>
<rect x="277.2" y="268.4" width="14.3" height="14.3" fill="#808080"/>
<rect x="290.9" y="268.4" width="14.3" height="14.3" fill="#6a6a6a"/>
<rect x="304.6" y="268.4" width="14.3" height="14.3" fill="#6a6a6a"/>
<rect x="318.3" y="268.4" width="14.3" height="14.3" fill="#6a6a6a"/>
<rect x="332.0" y="268.4" width="14.3" height="14.3" fill="#6a6a6a"/>
<rect x="345.7" y="268.4" width="14.3" height="14.3" fill="#6a6a6a"/>
<rect x="359.4" y="268.4" width="14.3" height="14.3" fill="#555555"/>
<rect x="373.0" y="268.4" width="14.3" height="14.3" fill="#404040"/>
<rect x="386.7" y="268.4" width="14.3" height="14.3" fill="#151515"/>
<rect x="400.4" y="268.4" width="14.3" height="14.3" fill="#2b2b2b"/>
<rect x="414.1" y="268.4" width="14.3" height="14.3" fill="#151515"/>
<rect x="427.8" y="268.4" width="14.3" height="14.3" fill="#151515"/>
<rect x="441.4" y="268.4" width="14.3" height="14.3" fill="#2b2b2b"/>
<rect x="455.1" y="268.4" width="14.3" height="14.3" fill="#2b2b2b"/>
<rect x="468.8" y="268.4" width="14.3" height="14.3" fill="#2b2b2b"/>
<rect x="482.5" y="268.4" width="14.3" height="14.3" fill="#2b2b2b"/>
<rect x="496.2" y="268.4" width="14.3" height="14.3" fill="#2b2b2b"/>
<rect x="44.6" y="282.1" width="14.3" height="14.3" fill="#ffffff"/>
<rect x="58.3" y="282.1" width="14.3" height="14.3" fill="#ffffff"/>
<rect x="72.0" y="282.1" width="14.3" height="14.3" fill="#ffffff"/>
<rect x="85.7" y="282.1" width="14.3" height="14.3" fill="#ffffff"/>
<rect x="99.4" y="282.1" width="14.3" height="14.3" fill="#d4d4d4"/>
<rect x="113.0" y="282.1" width="14.3" height="14.3" fill="#959595"/>
<rect x="126.7" y="282.1" width="14.3" height="14.3" fill="#555555"/>
<rect x="140.4" y="282.1" width="14.3" height="14.3" fill="#404040"/>
<rect x="154.1" y="282.1" width="14.3" height="14.3" fill="#404040"/>
<rect x="167.8" y="282.1" width="14.3" height="14.3" fill="#404040"/>
<rect x="181.5" y="282.1" width="14.3" height="14.3" fill="#555555"/>
<rect x="195.2" y="282.1" width="14.3" height="14.3" fill="#555555"/>
<rect x="208.8" y="282.1" width="14.3" height="14.3" fill="#555555"/>
<rect x="222.5" y="282.1" width="14.3" height="14.3" fill="#6a6a6a"/>
<rect x="236.2" y="282.1" width="14.3" height="14.3" fill="#aaaaaa"/>
<rect x="249.9" y="282.1" width="14.3" height="14.3" fill="#959595"/>
<rect x="263.6" y="282.1" width="14.3" height="14.3" fill="#6a6a6a"/>
<rect x="277.2" y="282.1" width="14.3" height="14.3" fill="#404040"/>
<rect x="290.9" y="282.1" width="14.3" height="14.3" fill="#555555"/>
<rect x="304.6" y="282.1" width="14.3" height="14.3" fill="#555555"/>
<rect x="318.3" y="282.1" width="14.3" height="14.3" fill="#404040"/>
<rect x="332.0" y="282.1" width="14.3" height="14.3" fill="#555555"/>
<rect x="345.7" y="282.1" width="14.3" height="14.3" fill="#404040"/>
<rect x="359.4" y="282.1" width="14.3" height="14.3" fill="#2b2b2b"/>
<rect x="373.0" y="282.1" width="14.3" height="14.3" fill="#151515"/>
<rect x="386.7" y="282.1" width="14.3" height="14.3" fill="#151515"/>
<rect x="400.4" y="282.1" width="14.3" height="14.3" fill="#151515"/>
<rect x="414.1" y="282.1" width="14.3" height="14.3" fill="#151515"/>
<rect x="427.8" y="282.1" width="14.3" height="14.3" fill="#151515"/>
<rect x="441.4" y="282.1" width="14.3" height="14.3" fill="#2b2b2b"/>
<rect x="455.1" y="282.1" width="14.3" height="14.3" fill="#2b2b2b"/>
<rect x="468.8" y="282.1" width="14.3" height="14.3" fill="#2b2b2b"/>
<rect x="482.5" y="282.1" width="14.3" height="14.3" fill="#2b2b2b"/>
<rect x="496.2" y="282.1" width="14.3" height="14.3" fill="#2b2b2b"/>
<rect x="44.6" y="295.8" width="14.3" height="14.3" fill="#6a6a6a"/>
<rect x="58.3" y="295.8" width="14.3" height="14.3" fill="#6a6a6a"/>
<rect x="72.0" y="295.8" width="14.3" height="14.3" fill="#6a6a6a"/>
<rect x="85.7" y="295.8" width="14.3" height="14.3" fill="#6a6a6a"/>
<rect x="99.4" y="295.8" width="14.3" height="14.3" fill="#959595"/>
<rect x="113.0" y="295.8" width="14.3" height="14.3" fill="#808080"/>
<rect x="126.7" y="295.8" width="14.3" height="14.3" fill="#555555"/>
<rect x="140.4" y="295.8" width="14.3" height="14.3" fill="#404040"/>
<rect x="154.1" y="295.8" width="14.3" height="14.3" fill="#2b2b2b"/>
<rect x="167.8" y="295.8" width="14.3" height="14.3" fill="#2b2b2b"/>
<rect x="181.5" y="295.8" width="14.3" height="14.3" fill="#2b2b2b"/>
<rect x="195.2" y="295.8" width="14.3" height="14.3" fill="#404040"/>
<rect x="208.8" y="295.8" width="14.3" height="14.3" fill="#555555"/>
<rect x="222.5" y="295.8" width="14.3" height="14.3" fill="#555555"/>
<rect x="236.2" y="295.8" width="14.3" height="14.3" fill="#808080"/>
<rect x="249.9" y="295.8" width="14.3" height="14.3" fill="#404040"/>
<rect x="263.6" y="295.8" width="14.3" height="14.3" fill="#404040"/>
<rect x="277.2" y="295.8" width="14.3" height="14.3" fill="#2b2b2b"/>
<rect x="290.9" y="295.8" width="14.3" height="14.3" fill="#151515"/>
<rect x="304.6" y="295.8" width="14.3" height="14.3" fill="#2b2b2b"/>
<rect x="318.3" y="295.8" width="14.3" height="14.3" fill="#2b2b2b"/>
<rect x="332.0" y="295.8" width="14.3" height="14.3" fill="#2b2b2b"/>
<rect x="345.7" y="295.8" width="14.3" height="14.3" fill="#151515"/>
<rect x="359.4" y="295.8" width="14.3" height="14.3" fill="#2b2b2b"/>
<rect x="373.0" y="295.8" width="14.3" height="14.3" fill="#151515"/>
<rect x="386.7" y="295.8" width="14.3" height="14.3" fill="#2b2b2b"/>
<rect x="400.4" y="295.8" width="14.3" height="14.3" fill="#2b2b2b"/>
<rect x="414.1" y="295.8" width="14.3" height="14.3" fill="#2b2b2b"/>
<rect x="427.8" y="295.8" width="14.3" height="14.3" fill="#2b2b2b"/>
<rect x="441.4" y="295.8" width="14.3" height="14.3" fill="#2b2b2b"/>
<rect x="455.1" y="295.8" width="14.3" height="14.3" fill="#2b2b2b"/>
<rect x="468.8" y="295.8" width="14.3" height="14.3" fill="#2b2b2b"/>
<rect x="482.5" y="295.8" width="14.3" height="14.3" fill="#2b2b2b"/>
<rect x="496.2" y="295.8" width="14.3" height="14.3" fill="#2b2b2b"/>
<rect x="44.6" y="309.5" width="14.3" height="14.3" fill="#555555"/>
<rect x="58.3" y="309.5" width="14.3" height="14.3" fill="#555555"/>
<rect x="72.0" y="309.5" width="14.3" height="14.3" fill="#555555"/>
<rect x="85.7" y="309.5" width="14.3" height="14.3" fill="#6a6a6a"/>
<rect x="99.4" y="309.5" width="14.3" height="14.3" fill="#555555"/>
<rect x="113.0" y="309.5" width="14.3" height="14.3" fill="#555555"/>
<rect x="126.7" y="309.5" width="14.3" height="14.3" fill="#404040"/>
<rect x="140.4" y="309.5" width="14.3" height="14.3" fill="#404040"/>
<rect x="154.1" y="309.5" width="14.3" height="14.3" fill="#2b2b2b"/>
<rect x="167.8" y="309.5" width="14.3" height="14.3" fill="#2b2b2b"/>
<rect x="181.5" y="309.5" width="14.3" height="14.3" fill="#2b2b2b"/>
<rect x="195.2" y="309.5" width="14.3" height="14.3" fill="#404040"/>
<rect x="208.8" y="309.5" width="14.3" height="14.3" fill="#2b2b2b"/>
<rect x="222.5" y="309.5" width="14.3" height="14.3" fill="#404040"/>
<rect x="236.2" y="309.5" width="14.3" height="14.3" fill="#555555"/>
<rect x="249.9" y="309.5" width="14.3" height="14.3" fill="#2b2b2b"/>
<rect x="263.6" y="309.5" width="14.3" height="14.3" fill="#404040"/>
<rect x="277.2" y="309.5" width="14.3" height="14.3" fill="#2b2b2b"/>
<rect x="290.9" y="309.5" width="14.3" height="14.3" fill="#2b2b2b"/>
<rect x="304.6" y="309.5" width="14.3" height="14.3" fill="#555555"/>
<rect x="318.3" y="309.5" width="14.3" height="14.3" fill="#2b2b2b"/>
<rect x="332.0" y="309.5" width="14.3" height="14.3" fill="#2b2b2b"/>
<rect x="345.7" y="309.5" width="14.3" height="14.3" fill="#2b2b2b"/>
<rect x="359.4" y="309.5" width="14.3" height="14.3" fill="#404040"/>
<rect x="373.0" y="309.5" width="14.3" height="14.3" fill="#959595"/>
<rect x="386.7" y="309.5" width="14.3" height="14.3" fill="#2b2b2b"/>
<rect x="400.4" y="309.5" width="14.3" height="14.3" fill="#2b2b2b"/>
<rect x="414.1" y="309.5" width="14.3" height="14.3" fill="#2b2b2b"/>
<rect x="427.8" y="309.5" width="14.3" height="14.3" fill="#2b2b2b"/>
<rect x="441.4" y="309.5" width="14.3" height="14.3" fill="#2b2b2b"/>
<rect x="455.1" y="309.5" width="14.3" height="14.3" fill="#2b2b2b"/>
<rect x="468.8" y="309.5" width="14.3" height="14.3" fill="#2b2b2b"/>
<rect x="482.5" y="309.5" width="14.3" height="14.3" fill="#2b2b2b"/>
<rect x="496.2" y="309.5" width="14.3" height="14.3" fill="#2b2b2b"/>
<rect x="44.6" y="323.1" width="14.3" height="14.3" fill="#555555"/>
<rect x="58.3" y="323.1" width="14.3" height="14.3" fill="#555555"/>
<rect x="72.0" y="323.1" width="14.3" height="14.3" fill="#555555"/>
<rect x="85.7" y="323.1" width="14.3" height="14.3" fill="#555555"/>
<rect x="99.4" y="323.1" width="14.3" height="14.3" fill="#404040"/>
<rect x="113.0" y="323.1" width="14.3" height="14.3" fill="#404040"/>
<rect x="126.7" y="323.1" width="14.3" height="14.3" fill="#2b2b2b"/>
<rect x="140.4" y="323.1" width="14.3" height="14.3" fill="#151515"/>
<rect x="154.1" y="323.1" width="14.3" height="14.3" fill="#151515"/>
<rect x="167.8" y="323.1" width="14.3" height="14.3" fill="#2b2b2b"/>
<rect x="181.5" y="323.1" width="14.3" height="14.3" fill="#404040"/>
<rect x="195.2" y="323.1" width="14.3" height="14.3" fill="#2b2b2b"/>
<rect x="208.8" y="323.1" width="14.3" height="14.3" fill="#2b2b2b"/>
<rect x="222.5" y="323.1" width="14.3" height="14.3" fill="#2b2b2b"/>
<rect x="236.2" y="323.1" width="14.3" height="14.3" fill="#2b2b2b"/>
<rect x="249.9" y="323.1" width="14.3" height="14.3" fill="#2b2b2b"/>
<rect x="263.6" y="323.1" width="14.3" height="14.3" fill="#151515"/>
<rect x="277.2" y="323.1" width="14.3" height="14.3" fill="#2b2b2b"/>
<rect x="290.9" y="323.1" width="14.3" height="14.3" fill="#2b2b2b"/>
<rect x="304.6" y="323.1" width="14.3" height="14.3" fill="#151515"/>
<rect x="318.3" y="323.1" width="14.3" height="14.3" fill="#2b2b2b"/>
<rect x="332.0" y="323.1" width="14.3" height="14.3" fill="#6a6a6a"/>
<rect x="345.7" y="323.1" width="14.3" height="14.3" fill="#bfbfbf"/>
<rect x="359.4" y="323.1" width="14.3" height="14.3" fill="#ffffff"/>
<rect x="373.0" y="323.1" width="14.3" height="14.3" fill="#ffffff"/>
<rect x="386.7" y="323.1" width="14.3" height="14.3" fill="#2b2b2b"/>
<rect x="400.4" y="323.1" width="14.3" height="14.3" fill="#151515"/>
<rect x="414.1" y="323.1" width="14.3" height="14.3" fill="#151515"/>
<rect x="427.8" y="323.1" width="14.3" height="14.3" fill="#151515"/>
<rect x="441.4" y="323.1" width="14.3" height="14.3" fill="#151515"/>
<rect x="455.1" y="323.1" width="14.3" height="14.3" fill="#2b2b2b"/>
<rect x="468.8" y="323.1" width="14.3" height="14.3" fill="#2b2b2b"/>
<rect x="482.5" y="323.1" width="14.3" height="14.3" fill="#2b2b2b"/>
<rect x="496.2" y="323.1" width="14.3" height="14.3" fill="#2b2b2b"/>
<rect x="44.6" y="336.8" width="14.3" height="14.3" fill="#404040"/>
<rect x="58.3" y="336.8" width="14.3" height="14.3" fill="#404040"/>
<rect x="72.0" y="336.8" width="14.3" height="14.3" fill="#404040"/>
<rect x="85.7" y="336.8" width="14.3" height="14.3" fill="#555555"/>
<rect x="99.4" y="336.8" width="14.3" height="14.3" fill="#404040"/>
<rect x="113.0" y="336.8" width="14.3" height="14.3" fill="#2b2b2b"/>
<rect x="126.7" y="336.8" width="14.3" height="14.3" fill="#2b2b2b"/>
<rect x="140.4" y="336.8" width="14.3" height="14.3" fill="#2b2b2b"/>
<rect x="154.1" y="336.8" width="14.3" height="14.3" fill="#2b2b2b"/>
<rect x="167.8" y="336.8" width="14.3" height="14.3" fill="#151515"/>
<rect x="181.5" y="336.8" width="14.3" height="14.3" fill="#2b2b2b"/>
<rect x="195.2" y="336.8" width="14.3" height="14.3" fill="#151515"/>
<rect x="208.8" y="336.8" width="14.3" height="14.3" fill="#2b2b2b"/>
<rect x="222.5" y="336.8" width="14.3" height="14.3" fill="#151515"/>
<rect x="236.2" y="336.8" width="14.3" height="14.3" fill="#2b2b2b"/>
<rect x="249.9" y="336.8" width="14.3" height="14.3" fill="#151515"/>
<rect x="263.6" y="336.8" width="14.3" height="14.3" fill="#2b2b2b"/>
<rect x="277.2" y="336.8" width="14.3" height="14.3" fill="#2b2b2b"/>
<rect x="290.9" y="336.8" width="14.3" height="14.3" fill="#2b2b2b"/>
<rect x="304.6" y="336.8" width="14.3" height="14.3" fill="#2b2b2b"/>
<rect x="318.3" y="336.8" width="14.3" height="14.3" fill="#151515"/>
<rect x="332.0" y="336.8" width="14.3" height="14.3" fill="#555555"/>
<rect x="345.7" y="336.8" width="14.3" height="14.3" fill="#ffffff"/>
<rect x="359.4" y="336.8" width="14.3" height="14.3" fill="#ffffff"/>
<rect x="373.0" y="336.8" width="14.3" height="14.3" fill="#ffffff"/>
<rect x="386.7" y="336.8" width="14.3" height="14.3" fill="#2b2b2b"/>
<rect x="400.4" y="336.8" width="14.3" height="14.3" fill="#2b2b2b"/>
<rect x="414.1" y="336.8" width="14.3" height="14.3" fill="#2b2b2b"/>
<rect x="427.8" y="336.8" width="14.3" height="14.3" fill="#2b2b2b"/>
<rect x="441.4" y="336.8" width="14.3" height="14.3" fill="#2b2b2b"/>
<rect x="455.1" y="336.8" width="14.3" height="14.3" fill="#2b2b2b"/>
<rect x="468.8" y="336.8" width="14.3" height="14.3" fill="#2b2b2b"/>
<rect x="482.5" y="336.8" width="14.3" height="14.3" fill="#2b2b2b"/>
<rect x="496.2" y="336.8" width="14.3" height="14.3" fill="#2b2b2b"/>
<rect x="44.6" y="350.5" width="14.3" height="14.3" fill="#2b2b2b"/>
<rect x="58.3" y="350.5" width="14.3" height="14.3" fill="#2b2b2b"/>
<rect x="72.0" y="350.5" width="14.3" height="14.3" fill="#2b2b2b"/>
<rect x="85.7" y="350.5" width="14.3" height="14.3" fill="#2b2b2b"/>
<rect x="99.4" y="350.5" width="14.3" height="14.3" fill="#2b2b2b"/>
<rect x="113.0" y="350.5" width="14.3" height="14.3" fill="#2b2b2b"/>
<rect x="126.7" y="350.5" width="14.3" height="14.3" fill="#404040"/>
<rect x="140.4" y="350.5" width="14.3" height="14.3" fill="#555555"/>
<rect x="154.1" y="350.5" width="14.3" height="14.3" fill="#555555"/>
<rect x="167.8" y="350.5" width="14.3" height="14.3" fill="#555555"/>
<rect x="181.5" y="350.5" width="14.3" height="14.3" fill="#6a6a6a"/>
<rect x="195.2" y="350.5" width="14.3" height="14.3" fill="#bfbfbf"/>
<rect x="208.8" y="350.5" width="14.3" height="14.3" fill="#d4d4d4"/>
<rect x="222.5" y="350.5" width="14.3" height="14.3" fill="#2b2b2b"/>
<rect x="236.2" y="350.5" width="14.3" height="14.3" fill="#2b2b2b"/>
<rect x="249.9" y="350.5" width="14.3" height="14.3" fill="#2b2b2b"/>
<rect x="263.6" y="350.5" width="14.3" height="14.3" fill="#2b2b2b"/>
<rect x="277.2" y="350.5" width="14.3" height="14.3" fill="#2b2b2b"/>
<rect x="290.9" y="350.5" width="14.3" height="14.3" fill="#2b2b2b"/>
<rect x="304.6" y="350.5" width="14.3" height="14.3" fill="#2b2b2b"/>
<rect x="318.3" y="350.5" width="14.3" height="14.3" fill="#2b2b2b"/>
<rect x="332.0" y="350.5" width="14.3" height="14.3" fill="#6a6a6a"/>
<rect x="345.7" y="350.5" width="14.3" height="14.3" fill="#d4d4d4"/>
<rect x="359.4" y="350.5" width="14.3" height="14.3" fill="#eaeaea"/>
<rect x="373.0" y="350.5" width="14.3" height="14.3" fill="#ffffff"/>
<rect x="386.7" y="350.5" width="14.3" height="14.3" fill="#ffffff"/>
<rect x="400.4" y="350.5" width="14.3" height="14.3" fill="#ffffff"/>
<rect x="414.1" y="350.5" width="14.3" height="14.3" fill="#ffffff"/>
<rect x="427.8" y="350.5" width="14.3" height="14.3" fill="#ffffff"/>
<rect x="441.4" y="350.5" width="14.3" height="14.3" fill="#ffffff"/>
<rect x="455.1" y="350.5" width="14.3" height="14.3" fill="#ffffff"/>
<rect x="468.8" y="350.5" width="14.3" height="14.3" fill="#ffffff"/>
<rect x="482.5" y="350.5" width="14.3" height="14.3" fill="#ffffff"/>
<rect x="496.2" y="350.5" width="14.3" height="14.3" fill="#ffffff"/>
<rect x="44.6" y="364.1" width="14.3" height="14.3" fill="#2b2b2b"/>
<rect x="58.3" y="364.1" width="14.3" height="14.3" fill="#2b2b2b"/>
<rect x="72.0" y="364.1" width="14.3" height="14.3" fill="#2b2b2b"/>
<rect x="85.7" y="364.1" width="14.3" height="14.3" fill="#2b2b2b"/>
<rect x="99.4" y="364.1" width="14.3" height="14.3" fill="#555555"/>
<rect x="113.0" y="364.1" width="14.3" height="14.3" fill="#959595"/>
<rect x="126.7" y="364.1" width="14.3" height="14.3" fill="#eaeaea"/>
<rect x="140.4" y="364.1" width="14.3" height="14.3" fill="#ffffff"/>
<rect x="154.1" y="364.1" width="14.3" height="14.3" fill="#ffffff"/>
<rect x="167.8" y="364.1" width="14.3" height="14.3" fill="#ffffff"/>
<rect x="181.5" y="364.1" width="14.3" height="14.3" fill="#ffffff"/>
<rect x="195.2" y="364.1" width="14.3" height="14.3" fill="#ffffff"/>
<rect x="208.8" y="364.1" width="14.3" height="14.3" fill="#ffffff"/>
<rect x="222.5" y="364.1" width="14.3" height="14.3" fill="#ffffff"/>
<rect x="236.2" y="364.1" width="14.3" height="14.3" fill="#2b2b2b"/>
<rect x="249.9" y="364.1" width="14.3" height="14.3" fill="#2b2b2b"/>
<rect x="263.6" y="364.1" width="14.3" height="14.3" fill="#2b2b2b"/>
<rect x="277.2" y="364.1" width="14.3" height="14.3" fill="#2b2b2b"/>
<rect x="290.9" y="364.1" width="14.3" height="14.3" fill="#2b2b2b"/>
<rect x="304.6" y="364.1" width="14.3" height="14.3" fill="#2b2b2b"/>
<rect x="318.3" y="364.1" width="14.3" height="14.3" fill="#2b2b2b"/>
<rect x="332.0" y="364.1" width="14.3" height="14.3" fill="#2b2b2b"/>
<rect x="345.7" y="364.1" width="14.3" height="14.3" fill="#ffffff"/>
<rect x="359.4" y="364.1" width="14.3" height="14.3" fill="#ffffff"/>
<rect x="373.0" y="364.1" width="14.3" height="14.3" fill="#ffffff"/>
<rect x="386.7" y="364.1" width="14.3" height="14.3" fill="#ffffff"/>
<rect x="400.4" y="364.1" width="14.3" height="14.3" fill="#ffffff"/>
<rect x="414.1" y="364.1" width="14.3" height="14.3" fill="#ffffff"/>
<rect x="427.8" y="364.1" width="14.3" height="14.3" fill="#ffffff"/>
<rect x="441.4" y="364.1" width="14.3" height="14.3" fill="#ffffff"/>
<rect x="455.1" y="364.1" width="14.3" height="14.3" fill="#ffffff"/>
<rect x="468.8" y="364.1" width="14.3" height="14.3" fill="#ffffff"/>
<rect x="482.5" y="364.1" width="14.3" height="14.3" fill="#ffffff"/>
<rect x="496.2" y="364.1" width="14.3" height="14.3" fill="#ffffff"/>
<rect x="44.6" y="377.8" width="14.3" height="14.3" fill="#2b2b2b"/>
<rect x="58.3" y="377.8" width="14.3" height="14.3" fill="#2b2b2b"/>
<rect x="72.0" y="377.8" width="14.3" height="14.3" fill="#2b2b2b"/>
<rect x="85.7" y="377.8" width="14.3" height="14.3" fill="#404040"/>
<rect x="99.4" y="377.8" width="14.3" height="14.3" fill="#959595"/>
<rect x="113.0" y="377.8" width="14.3" height="14.3" fill="#ffffff"/>
<rect x="126.7" y="377.8" width="14.3" height="14.3" fill="#ffffff"/>
<rect x="140.4" y="377.8" width="14.3" height="14.3" fill="#ffffff"/>
<rect x="154.1" y="377.8" width="14.3" height="14.3" fill="#ffffff"/>
<rect x="167.8" y="377.8" width="14.3" height="14.3" fill="#ffffff"/>
<rect x="181.5" y="377.8" width="14.3" height="14.3" fill="#ffffff"/>
<rect x="195.2" y="377.8" width="14.3" height="14.3" fill="#ffffff"/>
<rect x="208.8" y="377.8" width="14.3" height="14.3" fill="#ffffff"/>
<rect x="222.5" y="377.8" width="14.3" height="14.3" fill="#ffffff"/>
<rect x="236.2" y="377.8" width="14.3" height="14.3" fill="#2b2b2b"/>
<rect x="249.9" y="377.8" width="14.3" height="14.3" fill="#2b2b2b"/>
<rect x="263.6" y="377.8" width="14.3" height="14.3" fill="#2b2b2b"/>
<rect x="277.2" y="377.8" width="14.3" height="14.3" fill="#2b2b2b"/>
<rect x="290.9" y="377.8" width="14.3" height="14.3" fill="#2b2b2b"/>
<rect x="304.6" y="377.8" width="14.3" height="14.3" fill="#2b2b2b"/>
<rect x="318.3" y="377.8" width="14.3" height="14.3" fill="#2b2b2b"/>
<rect x="332.0" y="377.8" width="14.3" height="14.3" fill="#2b2b2b"/>
<rect x="345.7" y="377.8" width="14.3" height="14.3" fill="#ffffff"/>
<rect x="359.4" y="377.8" width="14.3" height="14.3" fill="#ffffff"/>
<rect x="373.0" y="377.8" width="14.3" height="14.3" fill="#ffffff"/>
<rect x="386.7" y="377.8" width="14.3" height="14.3" fill="#ffffff"/>
<rect x="400.4" y="377.8" width="14.3" height="14.3" fill="#ffffff"/>
<rect x="414.1" y="377.8" width="14.3" height="14.3" fill="#ffffff"/>
<rect x="427.8" y="377.8" width="14.3" height="14.3" fill="#ffffff"/>
<rect x="441.4" y="377.8" width="14.3" height="14.3" fill="#ffffff"/>
<rect x="455.1" y="377.8" width="14.3" height="14.3" fill="#ffffff"/>
<rect x="468.8" y="377.8" width="14.3" height="14.3" fill="#ffffff"/>
<rect x="482.5" y="377.8" width="14.3" height="14.3" fill="#ffffff"/>
<rect x="496.2" y="377.8" width="14.3" height="14.3" fill="#ffffff"/>
<rect x="44.6" y="391.5" width="14.3" height="14.3" fill="#2b2b2b"/>
<rect x="58.3" y="391.5" width="14.3" height="14.3" fill="#2b2b2b"/>
<rect x="72.0" y="391.5" width="14.3" height="14.3" fill="#2b2b2b"/>
<rect x="85.7" y="391.5" width="14.3" height="14.3" fill="#404040"/>
<rect x="99.4" y="391.5" width="14.3" height="14.3" fill="#959595"/>
<rect x="113.0" y="391.5" width="14.3" height="14.3" fill="#ffffff"/>
<rect x="126.7" y="391.5" width="14.3" height="14.3" fill="#ffffff"/>
<rect x="140.4" y="391.5" width="14.3" height="14.3" fill="#ffffff"/>
<rect x="154.1" y="391.5" width="14.3" height="14.3" fill="#ffffff"/>
<rect x="167.8" y="391.5" width="14.3" height="14.3" fill="#ffffff"/>
<rect x="181.5" y="391.5" width="14.3" height="14.3" fill="#ffffff"/>
<rect x="195.2" y="391.5" width="14.3" height="14.3" fill="#ffffff"/>
<rect x="208.8" y="391.5" width="14.3" height="14.3" fill="#ffffff"/>
<rect x="222.5" y="391.5" width="14.3" height="14.3" fill="#ffffff"/>
<rect x="236.2" y="391.5" width="14.3" height="14.3" fill="#2b2b2b"/>
<rect x="249.9" y="391.5" width="14.3" height="14.3" fill="#2b2b2b"/>
<rect x="263.6" y="391.5" width="14.3" height="14.3" fill="#2b2b2b"/>
<rect x="277.2" y="391.5" width="14.3" height="14.3" fill="#2b2b2b"/>
<rect x="290.9" y="391.5" width="14.3" height="14.3" fill="#2b2b2b"/>
<rect x="304.6" y="391.5" width="14.3" height="14.3" fill="#2b2b2b"/>
<rect x="318.3" y="391.5" width="14.3" height="14.3" fill="#2b2b2b"/>
<rect x="332.0" y="391.5" width="14.3" height="14.3" fill="#2b2b2b"/>
<rect x="345.7" y="391.5" width="14.3" height="14.3" fill="#ffffff"/>
<rect x="359.4" y="391.5" width="14.3" height="14.3" fill="#ffffff"/>
<rect x="373.0" y="391.5" width="14.3" height="14.3" fill="#ffffff"/>
<rect x="386.7" y="391.5" width="14.3" height="14.3" fill="#ffffff"/>
<rect x="400.4" y="391.5" width="14.3" height="14.3" fill="#ffffff"/>
<rect x="414.1" y="391.5" width="14.3" height="14.3" fill="#ffffff"/>
<rect x="427.8" y="391.5" width="14.3" height="14.3" fill="#ffffff"/>
<rect x="441.4" y="391.5" width="14.3" height="14.3" fill="#ffffff"/>
<rect x="455.1" y="391.5" width="14.3" height="14.3" fill="#ffffff"/>
<rect x="468.8" y="391.5" width="14.3" height="14.3" fill="#ffffff"/>
<rect x="482.5" y="391.5" width="14.3" height="14.3" fill="#ffffff"/>
<rect x="496.2" y="391.5" width="14.3" height="14.3" fill="#ffffff"/>
<rect x="44.6" y="405.2" width="14.3" height="14.3" fill="#2b2b2b"/>
<rect x="58.3" y="405.2" width="14.3" height="14.3" fill="#2b2b2b"/>
<rect x="72.0" y="405.2" width="14.3" height="14.3" fill="#2b2b2b"/>
<rect x="85.7" y="405.2" width="14.3" height="14.3" fill="#404040"/>
<rect x="99.4" y="405.2" width="14.3" height="14.3" fill="#959595"/>
<rect x="113.0" y="405.2" width="14.3" height="14.3" fill="#ffffff"/>
<rect x="126.7" y="405.2" width="14.3" height="14.3" fill="#ffffff"/>
<rect x="140.4" y="405.2" width="14.3" height="14.3" fill="#ffffff"/>
<rect x="154.1" y="405.2" width="14.3" height="14.3" fill="#ffffff"/>
<rect x="167.8" y="405.2" width="14.3" height="14.3" fill="#ffffff"/>
<rect x="181.5" y="405.2" width="14.3" height="14.3" fill="#ffffff"/>
<rect x="195.2" y="405.2" width="14.3" height="14.3" fill="#ffffff"/>
<rect x="208.8" y="405.2" width="14.3" height="14.3" fill="#ffffff"/>
<rect x="222.5" y="405.2" width="14.3" height="14.3" fill="#ffffff"/>
<rect x="236.2" y="405.2" width="14.3" height="14.3" fill="#2b2b2b"/>
<rect x="249.9" y="405.2" width="14.3" height="14.3" fill="#2b2b2b"/>
<rect x="263.6" y="405.2" width="14.3" height="14.3" fill="#2b2b2b"/>
<rect x="277.2" y="405.2" width="14.3" height="14.3" fill="#2b2b2b"/>
<rect x="290.9" y="405.2" width="14.3" height="14.3" fill="#2b2b2b"/>
<rect x="304.6" y="405.2" width="14.3" height="14.3" fill="#2b2b2b"/>
<rect x="318.3" y="405.2" width="14.3" height="14.3" fill="#2b2b2b"/>
<rect x="332.0" y="405.2" width="14.3" height="14.3" fill="#2b2b2b"/>
<rect x="345.7" y="405.2" width="14.3" height="14.3" fill="#ffffff"/>
<rect x="359.4" y="405.2" width="14.3" height="14.3" fill="#ffffff"/>
<rect x="373.0" y="405.2" width="14.3" height="14.3" fill="#ffffff"/>
<rect x="386.7" y="405.2" width="14.3" height="14.3" fill="#ffffff"/>
<rect x="400.4" y="405.2" width="14.3" height="14.3" fill="#ffffff"/>
<rect x="414.1" y="405.2" width="14.3" height="14.3" fill="#ffffff"/>
<rect x="427.8" y="405.2" width="14.3" height="14.3" fill="#ffffff"/>
<rect x="441.4" y="405.2" width="14.3" height="14.3" fill="#ffffff"/>
<rect x="455.1" y="405.2" width="14.3" height="14.3" fill="#ffffff"/>
<rect x="468.8" y="405.2" width="14.3" height="14.3" fill="#ffffff"/>
<rect x="482.5" y="405.2" width="14.3" height="14.3" fill="#ffffff"/>
<rect x="496.2" y="405.2" width="14.3" height="14.3" fill="#ffffff"/>
</g>
<g filter="url(#sbA)">
<path d="M231 238L243 236L244 216L252 216L253 229L268 229L270 212L276.6 207L283 212L287 226L300 232L312 240L316 243L310 250L295 252L285 255L284 268L278 272L258 272L255 262L248 256L231 254Z" fill="#ffffff"/>
<path d="M108 393L112 385L117 377L126 373L150 370.5L171 369.5L190 367L204 364.5L210 362L210 393Z" fill="#ffffff"/>
<path d="M339 342L345 336L357 328L370 322L381 318L386 318L386 346L339 346Z" fill="#ffffff"/>
</g>
</g>
<path d="M138.95 310.30H145.80V324.00H138.95ZM145.80 310.30H152.65V324.00H145.80ZM152.65 385.65H159.50V392.50H152.65ZM159.50 385.65H166.35V392.50H159.50ZM207.45 358.25H214.30V371.95H207.45ZM214.30 358.25H221.15V378.80H214.30ZM221.15 358.25H228.00V392.50H221.15ZM228.00 344.55H234.85V392.50H228.00ZM234.85 344.55H241.70V392.50H234.85ZM241.70 337.70H248.55V392.50H241.70ZM248.55 337.70H255.40V392.50H248.55ZM255.40 358.25H262.25V392.50H255.40ZM262.25 330.85H269.10V392.50H262.25ZM269.10 330.85H275.95V392.50H269.10ZM275.95 330.85H282.80V392.50H275.95ZM282.80 337.70H289.65V392.50H282.80ZM289.65 317.15H296.50V392.50H289.65ZM296.50 317.15H303.35V392.50H296.50ZM303.35 337.70H310.20V392.50H303.35ZM310.20 337.70H317.05V392.50H310.20ZM317.05 344.55H323.90V392.50H317.05ZM323.90 344.55H330.75V392.50H323.90ZM330.75 344.55H337.60V392.50H330.75ZM337.60 337.70H344.45V392.50H337.60ZM344.45 337.70H351.30V378.80H344.45ZM351.30 337.70H358.15V371.95H351.30ZM358.15 296.60H365.00V310.30H358.15ZM358.15 337.70H365.00V371.95H358.15ZM365.00 296.60H371.85V310.30H365.00ZM365.00 351.40H371.85V378.80H365.00ZM371.85 358.25H378.70V392.50H371.85ZM378.70 282.90H385.55V324.00H378.70ZM378.70 358.25H385.55V392.50H378.70ZM385.55 282.90H392.40V330.85H385.55ZM385.55 358.25H392.40V392.50H385.55ZM392.40 276.05H399.25V330.85H392.40ZM392.40 365.10H399.25V392.50H392.40ZM399.25 276.05H406.10V324.00H399.25ZM399.25 365.10H406.10V392.50H399.25ZM406.10 296.60H412.95V324.00H406.10ZM406.10 365.10H412.95V392.50H406.10ZM412.95 289.75H419.80V317.15H412.95ZM412.95 365.10H419.80V385.65H412.95ZM419.80 289.75H426.65V324.00H419.80ZM419.80 358.25H426.65V378.80H419.80ZM426.65 289.75H433.50V371.95H426.65ZM433.50 296.60H440.35V371.95H433.50ZM440.35 296.60H447.20V337.70H440.35ZM440.35 351.40H447.20V371.95H440.35ZM447.20 296.60H454.05V330.85H447.20ZM454.05 296.60H460.90V324.00H454.05ZM460.90 289.75H467.75V330.85H460.90ZM467.75 276.05H474.60V337.70H467.75ZM467.75 351.40H474.60V371.95H467.75ZM474.60 276.05H481.45V392.50H474.60ZM481.45 276.05H488.30V392.50H481.45ZM488.30 276.05H495.15V392.50H488.30Z" fill="#fff"/>
<path d="M207.45 371.95H214.30V392.50H207.45ZM214.30 378.80H221.15V392.50H214.30ZM344.45 378.80H351.30V392.50H344.45ZM351.30 371.95H358.15V392.50H351.30ZM358.15 371.95H365.00V392.50H358.15ZM365.00 337.70H371.85V351.40H365.00ZM365.00 378.80H371.85V392.50H365.00ZM371.85 337.70H378.70V358.25H371.85ZM378.70 324.00H385.55V358.25H378.70ZM385.55 330.85H392.40V358.25H385.55ZM392.40 330.85H399.25V365.10H392.40ZM399.25 324.00H406.10V365.10H399.25ZM406.10 324.00H412.95V365.10H406.10ZM412.95 317.15H419.80V365.10H412.95ZM412.95 385.65H419.80V392.50H412.95ZM419.80 324.00H426.65V358.25H419.80ZM419.80 378.80H426.65V392.50H419.80ZM426.65 371.95H433.50V392.50H426.65ZM433.50 371.95H440.35V392.50H433.50ZM440.35 337.70H447.20V351.40H440.35ZM440.35 371.95H447.20V392.50H440.35ZM447.20 330.85H454.05V392.50H447.20ZM454.05 324.00H460.90V392.50H454.05ZM460.90 330.85H467.75V392.50H460.90ZM467.75 337.70H474.60V351.40H467.75ZM467.75 371.95H474.60V392.50H467.75Z" fill="#8b0000"/>
</g>
<path d="M169.8 118.0L172.6 131.7L169.8 139.2L176.7 141.9L186.3 132.4L200.6 133.7L206.1 137.8L204.7 144.7L208.8 154.2L200.6 171.3L203.4 187.7L195.8 198.0L183.5 200.7L182.2 210.3L172.6 213.0L165.7 224.0L164.4 238.3L167.1 253.4L166.4 254.8L154.1 272.5L145.2 273.9L144.5 278.7L123.3 283.5L119.2 291.0L124.7 303.3L116.5 310.8L98.7 309.5L94.6 312.2L96.6 330.0L89.8 331.3L72.0 332.7M85.7 391.5L95.9 383.3L106.2 377.8L115.1 371.7L123.3 365.5L130.8 366.2L139.0 362.1L147.3 358.0L158.2 362.1L168.5 353.9L173.9 356.6L186.3 353.9L187.6 340.2L193.1 341.6L197.9 348.4L206.1 345.7L209.5 338.2L223.2 340.2L236.2 335.4L254.0 334.1L265.6 324.5L271.1 332.7L277.9 330.0L279.3 313.6L282.7 295.1L276.6 288.3L282.7 282.1L290.9 288.9L297.1 299.2L303.2 310.8L315.6 313.6L319.7 295.1L311.5 268.4L315.6 257.5L326.5 272.5L334.7 285.5L343.6 288.3L347.0 299.2L360.7 285.5L380.6 275.3L398.3 267.1L394.9 282.8L405.9 283.5L416.8 275.3L433.2 265.7L440.8 275.3L451.7 278.0L461.3 261.6L470.2 271.2L481.1 267.1L482.5 261.6M375.1 119.4L369.6 131.7L358.0 139.2L358.0 143.3L373.7 151.5L394.2 147.4L407.2 143.3L418.2 137.8L439.4 133.7L451.7 140.6L462.7 148.8L470.2 147.4L468.1 137.8L466.8 126.2L474.3 120.7L481.1 123.5L482.5 122.8M260.1 118.0L262.9 124.8L275.9 122.1L277.2 118.0M137.7 118.0L138.4 122.1L146.6 121.4L146.6 118.0M200.6 133.7L208.8 135.1L219.8 128.9L221.1 122.1L215.7 118.0M102.8 391.5L100.7 384.7L98.0 377.8L92.5 372.4L89.1 365.5L94.6 360.7L96.6 371.0L102.8 374.4L109.6 376.5M297.8 309.5L304.6 316.3L311.5 319.7L308.0 326.5L297.8 323.1L297.8 309.5M332.0 302.6L342.2 306.0L349.1 309.5L342.2 312.9L332.0 309.5L332.0 302.6M249.9 340.2L260.1 343.6L263.6 350.5L256.7 353.9L249.9 350.5L249.9 340.2" fill="none" stroke="#8a8a8a" stroke-width="0.9" clip-path="url(#clipA)"/>
<line x1="72.00" y1="118" x2="72.00" y2="114" stroke="#000" stroke-width="1"/>
<line x1="72.00" y1="391.5" x2="72.00" y2="395.5" stroke="#000" stroke-width="1"/>
<text x="72.0" y="408.5" font-family="Liberation Serif" font-size="9" fill="#000" text-anchor="middle" font-weight="bold" >110</text>
<line x1="106.21" y1="118" x2="106.21" y2="115" stroke="#000" stroke-width="1"/>
<line x1="106.21" y1="391.5" x2="106.21" y2="394.5" stroke="#000" stroke-width="1"/>
<line x1="140.42" y1="118" x2="140.42" y2="114" stroke="#000" stroke-width="1"/>
<line x1="140.42" y1="391.5" x2="140.42" y2="395.5" stroke="#000" stroke-width="1"/>
<text x="140.4" y="408.5" font-family="Liberation Serif" font-size="9" fill="#000" text-anchor="middle" font-weight="bold" >111</text>
<line x1="174.62" y1="118" x2="174.62" y2="115" stroke="#000" stroke-width="1"/>
<line x1="174.62" y1="391.5" x2="174.62" y2="394.5" stroke="#000" stroke-width="1"/>
<line x1="208.83" y1="118" x2="208.83" y2="114" stroke="#000" stroke-width="1"/>
<line x1="208.83" y1="391.5" x2="208.83" y2="395.5" stroke="#000" stroke-width="1"/>
<text x="208.8" y="408.5" font-family="Liberation Serif" font-size="9" fill="#000" text-anchor="middle" font-weight="bold" >112</text>
<line x1="243.04" y1="118" x2="243.04" y2="115" stroke="#000" stroke-width="1"/>
<line x1="243.04" y1="391.5" x2="243.04" y2="394.5" stroke="#000" stroke-width="1"/>
<line x1="277.25" y1="118" x2="277.25" y2="114" stroke="#000" stroke-width="1"/>
<line x1="277.25" y1="391.5" x2="277.25" y2="395.5" stroke="#000" stroke-width="1"/>
<text x="277.2" y="408.5" font-family="Liberation Serif" font-size="9" fill="#000" text-anchor="middle" font-weight="bold" >113</text>
<line x1="311.46" y1="118" x2="311.46" y2="115" stroke="#000" stroke-width="1"/>
<line x1="311.46" y1="391.5" x2="311.46" y2="394.5" stroke="#000" stroke-width="1"/>
<line x1="345.67" y1="118" x2="345.67" y2="114" stroke="#000" stroke-width="1"/>
<line x1="345.67" y1="391.5" x2="345.67" y2="395.5" stroke="#000" stroke-width="1"/>
<text x="345.7" y="408.5" font-family="Liberation Serif" font-size="9" fill="#000" text-anchor="middle" font-weight="bold" >114</text>
<line x1="379.88" y1="118" x2="379.88" y2="115" stroke="#000" stroke-width="1"/>
<line x1="379.88" y1="391.5" x2="379.88" y2="394.5" stroke="#000" stroke-width="1"/>
<line x1="414.08" y1="118" x2="414.08" y2="114" stroke="#000" stroke-width="1"/>
<line x1="414.08" y1="391.5" x2="414.08" y2="395.5" stroke="#000" stroke-width="1"/>
<text x="414.1" y="408.5" font-family="Liberation Serif" font-size="9" fill="#000" text-anchor="middle" font-weight="bold" >115</text>
<line x1="448.29" y1="118" x2="448.29" y2="115" stroke="#000" stroke-width="1"/>
<line x1="448.29" y1="391.5" x2="448.29" y2="394.5" stroke="#000" stroke-width="1"/>
<line x1="482.50" y1="118" x2="482.50" y2="114" stroke="#000" stroke-width="1"/>
<line x1="482.50" y1="391.5" x2="482.50" y2="395.5" stroke="#000" stroke-width="1"/>
<text x="482.5" y="408.5" font-family="Liberation Serif" font-size="9" fill="#000" text-anchor="middle" font-weight="bold" >116</text>
<line x1="72" y1="391.50" x2="68" y2="391.50" stroke="#000" stroke-width="1"/>
<line x1="482.5" y1="391.50" x2="486.5" y2="391.50" stroke="#000" stroke-width="1"/>
<text x="65.0" y="394.7" font-family="Liberation Serif" font-size="9" fill="#000" text-anchor="end" font-weight="bold" >21</text>
<line x1="72" y1="357.31" x2="69" y2="357.31" stroke="#000" stroke-width="1"/>
<line x1="482.5" y1="357.31" x2="485.5" y2="357.31" stroke="#000" stroke-width="1"/>
<line x1="72" y1="323.12" x2="68" y2="323.12" stroke="#000" stroke-width="1"/>
<line x1="482.5" y1="323.12" x2="486.5" y2="323.12" stroke="#000" stroke-width="1"/>
<text x="65.0" y="326.3" font-family="Liberation Serif" font-size="9" fill="#000" text-anchor="end" font-weight="bold" >22</text>
<line x1="72" y1="288.94" x2="69" y2="288.94" stroke="#000" stroke-width="1"/>
<line x1="482.5" y1="288.94" x2="485.5" y2="288.94" stroke="#000" stroke-width="1"/>
<line x1="72" y1="254.75" x2="68" y2="254.75" stroke="#000" stroke-width="1"/>
<line x1="482.5" y1="254.75" x2="486.5" y2="254.75" stroke="#000" stroke-width="1"/>
<text x="65.0" y="257.9" font-family="Liberation Serif" font-size="9" fill="#000" text-anchor="end" font-weight="bold" >23</text>
<line x1="72" y1="220.56" x2="69" y2="220.56" stroke="#000" stroke-width="1"/>
<line x1="482.5" y1="220.56" x2="485.5" y2="220.56" stroke="#000" stroke-width="1"/>
<line x1="72" y1="186.38" x2="68" y2="186.38" stroke="#000" stroke-width="1"/>
<line x1="482.5" y1="186.38" x2="486.5" y2="186.38" stroke="#000" stroke-width="1"/>
<text x="65.0" y="189.6" font-family="Liberation Serif" font-size="9" fill="#000" text-anchor="end" font-weight="bold" >24</text>
<line x1="72" y1="152.19" x2="69" y2="152.19" stroke="#000" stroke-width="1"/>
<line x1="482.5" y1="152.19" x2="485.5" y2="152.19" stroke="#000" stroke-width="1"/>
<line x1="72" y1="118.00" x2="68" y2="118.00" stroke="#000" stroke-width="1"/>
<line x1="482.5" y1="118.00" x2="486.5" y2="118.00" stroke="#000" stroke-width="1"/>
<text x="65.0" y="121.2" font-family="Liberation Serif" font-size="9" fill="#000" text-anchor="end" font-weight="bold" >25</text>
<rect x="72" y="118" width="410.50" height="273.50" fill="none" stroke="#000" stroke-width="1.6"/>
<text x="174.0" y="104.5" font-family="Liberation Serif" font-size="10" fill="#000" text-anchor="start" font-weight="normal" textLength="308" lengthAdjust="spacingAndGlyphs">20081020031600 UTC HK-AOD (111, 116, 21, 25) mn=0.00 mx=5.06</text>
<linearGradient id="cb500" x1="0" y1="0" x2="0" y2="1"><stop offset="0" stop-color="#8b0000"/><stop offset="0.125" stop-color="#ff0000"/><stop offset="0.375" stop-color="#ffff00"/><stop offset="0.625" stop-color="#00ffff"/><stop offset="0.875" stop-color="#0000ff"/><stop offset="1" stop-color="#00008b"/></linearGradient>
<rect x="500" y="163.5" width="19" height="227.70" fill="url(#cb500)"/>
<line x1="519" y1="391.20" x2="523" y2="391.20" stroke="#000" stroke-width="1"/>
<text x="528.0" y="394.4" font-family="Liberation Serif" font-size="9" fill="#000" text-anchor="start" font-weight="normal" >0.0</text>
<line x1="519" y1="372.22" x2="522" y2="372.22" stroke="#000" stroke-width="1"/>
<line x1="519" y1="353.25" x2="523" y2="353.25" stroke="#000" stroke-width="1"/>
<text x="528.0" y="356.4" font-family="Liberation Serif" font-size="9" fill="#000" text-anchor="start" font-weight="normal" >0.2</text>
<line x1="519" y1="334.27" x2="522" y2="334.27" stroke="#000" stroke-width="1"/>
<line x1="519" y1="315.30" x2="523" y2="315.30" stroke="#000" stroke-width="1"/>
<text x="528.0" y="318.5" font-family="Liberation Serif" font-size="9" fill="#000" text-anchor="start" font-weight="normal" >0.4</text>
<line x1="519" y1="296.32" x2="522" y2="296.32" stroke="#000" stroke-width="1"/>
<line x1="519" y1="277.35" x2="523" y2="277.35" stroke="#000" stroke-width="1"/>
<text x="528.0" y="280.6" font-family="Liberation Serif" font-size="9" fill="#000" text-anchor="start" font-weight="normal" >0.6</text>
<line x1="519" y1="258.38" x2="522" y2="258.38" stroke="#000" stroke-width="1"/>
<line x1="519" y1="239.40" x2="523" y2="239.40" stroke="#000" stroke-width="1"/>
<text x="528.0" y="242.6" font-family="Liberation Serif" font-size="9" fill="#000" text-anchor="start" font-weight="normal" >0.8</text>
<line x1="519" y1="220.43" x2="522" y2="220.43" stroke="#000" stroke-width="1"/>
<line x1="519" y1="201.45" x2="523" y2="201.45" stroke="#000" stroke-width="1"/>
<text x="528.0" y="204.6" font-family="Liberation Serif" font-size="9" fill="#000" text-anchor="start" font-weight="normal" >1.0</text>
<line x1="519" y1="182.47" x2="522" y2="182.47" stroke="#000" stroke-width="1"/>
<line x1="519" y1="163.50" x2="523" y2="163.50" stroke="#000" stroke-width="1"/>
<text x="528.0" y="166.7" font-family="Liberation Serif" font-size="9" fill="#000" text-anchor="start" font-weight="normal" >1.2</text>
<line x1="519" y1="163.5" x2="519" y2="391.2" stroke="#000" stroke-width="1"/>
<text transform="translate(548,277) rotate(90)" font-family="Liberation Serif" font-size="11.5" text-anchor="middle" textLength="139" lengthAdjust="spacingAndGlyphs">Aerosol Optical Depth</text>
<clipPath id="clipD"><rect x="528" y="488" width="418.00" height="279.50"/></clipPath>
<filter id="blD" color-interpolation-filters="sRGB" x="-5%" y="-5%" width="110%" height="110%"><feGaussianBlur stdDeviation="4.2"/></filter>
<filter id="sbD" color-interpolation-filters="sRGB" x="-20%" y="-20%" width="140%" height="140%"><feGaussianBlur stdDeviation="2"/></filter>
<g clip-path="url(#clipD)">
<g filter="url(#jet)">
<g filter="url(#blD)">
<rect x="500.1" y="460.1" width="14.5" height="14.6" fill="#2b2b2b"/>
<rect x="514.1" y="460.1" width="14.5" height="14.6" fill="#2b2b2b"/>
<rect x="528.0" y="460.1" width="14.5" height="14.6" fill="#2b2b2b"/>
<rect x="541.9" y="460.1" width="14.5" height="14.6" fill="#2b2b2b"/>
<rect x="555.9" y="460.1" width="14.5" height="14.6" fill="#2b2b2b"/>
<rect x="569.8" y="460.1" width="14.5" height="14.6" fill="#2b2b2b"/>
<rect x="583.7" y="460.1" width="14.5" height="14.6" fill="#2b2b2b"/>
<rect x="597.7" y="460.1" width="14.5" height="14.6" fill="#2b2b2b"/>
<rect x="611.6" y="460.1" width="14.5" height="14.6" fill="#2b2b2b"/>
<rect x="625.5" y="460.1" width="14.5" height="14.6" fill="#151515"/>
<rect x="639.5" y="460.1" width="14.5" height="14.6" fill="#151515"/>
<rect x="653.4" y="460.1" width="14.5" height="14.6" fill="#2b2b2b"/>
<rect x="667.3" y="460.1" width="14.5" height="14.6" fill="#353535"/>
<rect x="681.3" y="460.1" width="14.5" height="14.6" fill="#353535"/>
<rect x="695.2" y="460.1" width="14.5" height="14.6" fill="#2b2b2b"/>
<rect x="709.1" y="460.1" width="14.5" height="14.6" fill="#2b2b2b"/>
<rect x="723.1" y="460.1" width="14.5" height="14.6" fill="#2b2b2b"/>
<rect x="737.0" y="460.1" width="14.5" height="14.6" fill="#2b2b2b"/>
<rect x="750.9" y="460.1" width="14.5" height="14.6" fill="#151515"/>
<rect x="764.9" y="460.1" width="14.5" height="14.6" fill="#151515"/>
<rect x="778.8" y="460.1" width="14.5" height="14.6" fill="#2b2b2b"/>
<rect x="792.7" y="460.1" width="14.5" height="14.6" fill="#2b2b2b"/>
<rect x="806.7" y="460.1" width="14.5" height="14.6" fill="#2b2b2b"/>
<rect x="820.6" y="460.1" width="14.5" height="14.6" fill="#2b2b2b"/>
<rect x="834.5" y="460.1" width="14.5" height="14.6" fill="#2b2b2b"/>
<rect x="848.5" y="460.1" width="14.5" height="14.6" fill="#353535"/>
<rect x="862.4" y="460.1" width="14.5" height="14.6" fill="#404040"/>
<rect x="876.3" y="460.1" width="14.5" height="14.6" fill="#353535"/>
<rect x="890.3" y="460.1" width="14.5" height="14.6" fill="#2b2b2b"/>
<rect x="904.2" y="460.1" width="14.5" height="14.6" fill="#2b2b2b"/>
<rect x="918.1" y="460.1" width="14.5" height="14.6" fill="#2b2b2b"/>
<rect x="932.1" y="460.1" width="14.5" height="14.6" fill="#2b2b2b"/>
<rect x="946.0" y="460.1" width="14.5" height="14.6" fill="#2b2b2b"/>
<rect x="959.9" y="460.1" width="14.5" height="14.6" fill="#2b2b2b"/>
<rect x="500.1" y="474.0" width="14.5" height="14.6" fill="#2b2b2b"/>
<rect x="514.1" y="474.0" width="14.5" height="14.6" fill="#2b2b2b"/>
<rect x="528.0" y="474.0" width="14.5" height="14.6" fill="#2b2b2b"/>
<rect x="541.9" y="474.0" width="14.5" height="14.6" fill="#2b2b2b"/>
<rect x="555.9" y="474.0" width="14.5" height="14.6" fill="#2b2b2b"/>
<rect x="569.8" y="474.0" width="14.5" height="14.6" fill="#2b2b2b"/>
<rect x="583.7" y="474.0" width="14.5" height="14.6" fill="#2b2b2b"/>
<rect x="597.7" y="474.0" width="14.5" height="14.6" fill="#2b2b2b"/>
<rect x="611.6" y="474.0" width="14.5" height="14.6" fill="#2b2b2b"/>
<rect x="625.5" y="474.0" width="14.5" height="14.6" fill="#151515"/>
<rect x="639.5" y="474.0" width="14.5" height="14.6" fill="#151515"/>
<rect x="653.4" y="474.0" width="14.5" height="14.6" fill="#2b2b2b"/>
<rect x="667.3" y="474.0" width="14.5" height="14.6" fill="#353535"/>
<rect x="681.3" y="474.0" width="14.5" height="14.6" fill="#353535"/>
<rect x="695.2" y="474.0" width="14.5" height="14.6" fill="#2b2b2b"/>
<rect x="709.1" y="474.0" width="14.5" height="14.6" fill="#2b2b2b"/>
<rect x="723.1" y="474.0" width="14.5" height="14.6" fill="#2b2b2b"/>
<rect x="737.0" y="474.0" width="14.5" height="14.6" fill="#2b2b2b"/>
<rect x="750.9" y="474.0" width="14.5" height="14.6" fill="#151515"/>
<rect x="764.9" y="474.0" width="14.5" height="14.6" fill="#151515"/>
<rect x="778.8" y="474.0" width="14.5" height="14.6" fill="#2b2b2b"/>
<rect x="792.7" y="474.0" width="14.5" height="14.6" fill="#2b2b2b"/>
<rect x="806.7" y="474.0" width="14.5" height="14.6" fill="#2b2b2b"/>
<rect x="820.6" y="474.0" width="14.5" height="14.6" fill="#2b2b2b"/>
<rect x="834.5" y="474.0" width="14.5" height="14.6" fill="#2b2b2b"/>
<rect x="848.5" y="474.0" width="14.5" height="14.6" fill="#353535"/>
<rect x="862.4" y="474.0" width="14.5" height="14.6" fill="#404040"/>
<rect x="876.3" y="474.0" width="14.5" height="14.6" fill="#353535"/>
<rect x="890.3" y="474.0" width="14.5" height="14.6" fill="#2b2b2b"/>
<rect x="904.2" y="474.0" width="14.5" height="14.6" fill="#2b2b2b"/>
<rect x="918.1" y="474.0" width="14.5" height="14.6" fill="#2b2b2b"/>
<rect x="932.1" y="474.0" width="14.5" height="14.6" fill="#2b2b2b"/>
<rect x="946.0" y="474.0" width="14.5" height="14.6" fill="#2b2b2b"/>
<rect x="959.9" y="474.0" width="14.5" height="14.6" fill="#2b2b2b"/>
<rect x="500.1" y="488.0" width="14.5" height="14.6" fill="#2b2b2b"/>
<rect x="514.1" y="488.0" width="14.5" height="14.6" fill="#2b2b2b"/>
<rect x="528.0" y="488.0" width="14.5" height="14.6" fill="#2b2b2b"/>
<rect x="541.9" y="488.0" width="14.5" height="14.6" fill="#2b2b2b"/>
<rect x="555.9" y="488.0" width="14.5" height="14.6" fill="#2b2b2b"/>
<rect x="569.8" y="488.0" width="14.5" height="14.6" fill="#2b2b2b"/>
<rect x="583.7" y="488.0" width="14.5" height="14.6" fill="#2b2b2b"/>
<rect x="597.7" y="488.0" width="14.5" height="14.6" fill="#2b2b2b"/>
<rect x="611.6" y="488.0" width="14.5" height="14.6" fill="#2b2b2b"/>
<rect x="625.5" y="488.0" width="14.5" height="14.6" fill="#151515"/>
<rect x="639.5" y="488.0" width="14.5" height="14.6" fill="#151515"/>
<rect x="653.4" y="488.0" width="14.5" height="14.6" fill="#2b2b2b"/>
<rect x="667.3" y="488.0" width="14.5" height="14.6" fill="#353535"/>
<rect x="681.3" y="488.0" width="14.5" height="14.6" fill="#353535"/>
<rect x="695.2" y="488.0" width="14.5" height="14.6" fill="#2b2b2b"/>
<rect x="709.1" y="488.0" width="14.5" height="14.6" fill="#2b2b2b"/>
<rect x="723.1" y="488.0" width="14.5" height="14.6" fill="#2b2b2b"/>
<rect x="737.0" y="488.0" width="14.5" height="14.6" fill="#2b2b2b"/>
<rect x="750.9" y="488.0" width="14.5" height="14.6" fill="#151515"/>
<rect x="764.9" y="488.0" width="14.5" height="14.6" fill="#151515"/>
<rect x="778.8" y="488.0" width="14.5" height="14.6" fill="#2b2b2b"/>
<rect x="792.7" y="488.0" width="14.5" height="14.6" fill="#2b2b2b"/>
<rect x="806.7" y="488.0" width="14.5" height="14.6" fill="#2b2b2b"/>
<rect x="820.6" y="488.0" width="14.5" height="14.6" fill="#2b2b2b"/>
<rect x="834.5" y="488.0" width="14.5" height="14.6" fill="#2b2b2b"/>
<rect x="848.5" y="488.0" width="14.5" height="14.6" fill="#353535"/>
<rect x="862.4" y="488.0" width="14.5" height="14.6" fill="#404040"/>
<rect x="876.3" y="488.0" width="14.5" height="14.6" fill="#353535"/>
<rect x="890.3" y="488.0" width="14.5" height="14.6" fill="#2b2b2b"/>
<rect x="904.2" y="488.0" width="14.5" height="14.6" fill="#2b2b2b"/>
<rect x="918.1" y="488.0" width="14.5" height="14.6" fill="#2b2b2b"/>
<rect x="932.1" y="488.0" width="14.5" height="14.6" fill="#2b2b2b"/>
<rect x="946.0" y="488.0" width="14.5" height="14.6" fill="#2b2b2b"/>
<rect x="959.9" y="488.0" width="14.5" height="14.6" fill="#2b2b2b"/>
<rect x="500.1" y="502.0" width="14.5" height="14.6" fill="#2b2b2b"/>
<rect x="514.1" y="502.0" width="14.5" height="14.6" fill="#2b2b2b"/>
<rect x="528.0" y="502.0" width="14.5" height="14.6" fill="#2b2b2b"/>
<rect x="541.9" y="502.0" width="14.5" height="14.6" fill="#2b2b2b"/>
<rect x="555.9" y="502.0" width="14.5" height="14.6" fill="#2b2b2b"/>
<rect x="569.8" y="502.0" width="14.5" height="14.6" fill="#2b2b2b"/>
<rect x="583.7" y="502.0" width="14.5" height="14.6" fill="#2b2b2b"/>
<rect x="597.7" y="502.0" width="14.5" height="14.6" fill="#2b2b2b"/>
<rect x="611.6" y="502.0" width="14.5" height="14.6" fill="#2b2b2b"/>
<rect x="625.5" y="502.0" width="14.5" height="14.6" fill="#151515"/>
<rect x="639.5" y="502.0" width="14.5" height="14.6" fill="#353535"/>
<rect x="653.4" y="502.0" width="14.5" height="14.6" fill="#353535"/>
<rect x="667.3" y="502.0" width="14.5" height="14.6" fill="#353535"/>
<rect x="681.3" y="502.0" width="14.5" height="14.6" fill="#404040"/>
<rect x="695.2" y="502.0" width="14.5" height="14.6" fill="#555555"/>
<rect x="709.1" y="502.0" width="14.5" height="14.6" fill="#404040"/>
<rect x="723.1" y="502.0" width="14.5" height="14.6" fill="#2b2b2b"/>
<rect x="737.0" y="502.0" width="14.5" height="14.6" fill="#2b2b2b"/>
<rect x="750.9" y="502.0" width="14.5" height="14.6" fill="#353535"/>
<rect x="764.9" y="502.0" width="14.5" height="14.6" fill="#353535"/>
<rect x="778.8" y="502.0" width="14.5" height="14.6" fill="#2b2b2b"/>
<rect x="792.7" y="502.0" width="14.5" height="14.6" fill="#2b2b2b"/>
<rect x="806.7" y="502.0" width="14.5" height="14.6" fill="#2b2b2b"/>
<rect x="820.6" y="502.0" width="14.5" height="14.6" fill="#2b2b2b"/>
<rect x="834.5" y="502.0" width="14.5" height="14.6" fill="#2b2b2b"/>
<rect x="848.5" y="502.0" width="14.5" height="14.6" fill="#2b2b2b"/>
<rect x="862.4" y="502.0" width="14.5" height="14.6" fill="#151515"/>
<rect x="876.3" y="502.0" width="14.5" height="14.6" fill="#151515"/>
<rect x="890.3" y="502.0" width="14.5" height="14.6" fill="#151515"/>
<rect x="904.2" y="502.0" width="14.5" height="14.6" fill="#151515"/>
<rect x="918.1" y="502.0" width="14.5" height="14.6" fill="#2b2b2b"/>
<rect x="932.1" y="502.0" width="14.5" height="14.6" fill="#2b2b2b"/>
<rect x="946.0" y="502.0" width="14.5" height="14.6" fill="#2b2b2b"/>
<rect x="959.9" y="502.0" width="14.5" height="14.6" fill="#2b2b2b"/>
<rect x="500.1" y="516.0" width="14.5" height="14.6" fill="#2b2b2b"/>
<rect x="514.1" y="516.0" width="14.5" height="14.6" fill="#2b2b2b"/>
<rect x="528.0" y="516.0" width="14.5" height="14.6" fill="#2b2b2b"/>
<rect x="541.9" y="516.0" width="14.5" height="14.6" fill="#2b2b2b"/>
<rect x="555.9" y="516.0" width="14.5" height="14.6" fill="#2b2b2b"/>
<rect x="569.8" y="516.0" width="14.5" height="14.6" fill="#2b2b2b"/>
<rect x="583.7" y="516.0" width="14.5" height="14.6" fill="#2b2b2b"/>
<rect x="597.7" y="516.0" width="14.5" height="14.6" fill="#2b2b2b"/>
<rect x="611.6" y="516.0" width="14.5" height="14.6" fill="#2b2b2b"/>
<rect x="625.5" y="516.0" width="14.5" height="14.6" fill="#353535"/>
<rect x="639.5" y="516.0" width="14.5" height="14.6" fill="#353535"/>
<rect x="653.4" y="516.0" width="14.5" height="14.6" fill="#353535"/>
<rect x="667.3" y="516.0" width="14.5" height="14.6" fill="#404040"/>
<rect x="681.3" y="516.0" width="14.5" height="14.6" fill="#404040"/>
<rect x="695.2" y="516.0" width="14.5" height="14.6" fill="#404040"/>
<rect x="709.1" y="516.0" width="14.5" height="14.6" fill="#2b2b2b"/>
<rect x="723.1" y="516.0" width="14.5" height="14.6" fill="#151515"/>
<rect x="737.0" y="516.0" width="14.5" height="14.6" fill="#151515"/>
<rect x="750.9" y="516.0" width="14.5" height="14.6" fill="#151515"/>
<rect x="764.9" y="516.0" width="14.5" height="14.6" fill="#151515"/>
<rect x="778.8" y="516.0" width="14.5" height="14.6" fill="#151515"/>
<rect x="792.7" y="516.0" width="14.5" height="14.6" fill="#2b2b2b"/>
<rect x="806.7" y="516.0" width="14.5" height="14.6" fill="#2b2b2b"/>
<rect x="820.6" y="516.0" width="14.5" height="14.6" fill="#2b2b2b"/>
<rect x="834.5" y="516.0" width="14.5" height="14.6" fill="#2b2b2b"/>
<rect x="848.5" y="516.0" width="14.5" height="14.6" fill="#2b2b2b"/>
<rect x="862.4" y="516.0" width="14.5" height="14.6" fill="#151515"/>
<rect x="876.3" y="516.0" width="14.5" height="14.6" fill="#151515"/>
<rect x="890.3" y="516.0" width="14.5" height="14.6" fill="#151515"/>
<rect x="904.2" y="516.0" width="14.5" height="14.6" fill="#151515"/>
<rect x="918.1" y="516.0" width="14.5" height="14.6" fill="#2b2b2b"/>
<rect x="932.1" y="516.0" width="14.5" height="14.6" fill="#2b2b2b"/>
<rect x="946.0" y="516.0" width="14.5" height="14.6" fill="#2b2b2b"/>
<rect x="959.9" y="516.0" width="14.5" height="14.6" fill="#2b2b2b"/>
<rect x="500.1" y="529.9" width="14.5" height="14.6" fill="#2b2b2b"/>
<rect x="514.1" y="529.9" width="14.5" height="14.6" fill="#2b2b2b"/>
<rect x="528.0" y="529.9" width="14.5" height="14.6" fill="#2b2b2b"/>
<rect x="541.9" y="529.9" width="14.5" height="14.6" fill="#2b2b2b"/>
<rect x="555.9" y="529.9" width="14.5" height="14.6" fill="#2b2b2b"/>
<rect x="569.8" y="529.9" width="14.5" height="14.6" fill="#2b2b2b"/>
<rect x="583.7" y="529.9" width="14.5" height="14.6" fill="#2b2b2b"/>
<rect x="597.7" y="529.9" width="14.5" height="14.6" fill="#2b2b2b"/>
<rect x="611.6" y="529.9" width="14.5" height="14.6" fill="#2b2b2b"/>
<rect x="625.5" y="529.9" width="14.5" height="14.6" fill="#353535"/>
<rect x="639.5" y="529.9" width="14.5" height="14.6" fill="#353535"/>
<rect x="653.4" y="529.9" width="14.5" height="14.6" fill="#353535"/>
<rect x="667.3" y="529.9" width="14.5" height="14.6" fill="#2b2b2b"/>
<rect x="681.3" y="529.9" width="14.5" height="14.6" fill="#151515"/>
<rect x="695.2" y="529.9" width="14.5" height="14.6" fill="#151515"/>
<rect x="709.1" y="529.9" width="14.5" height="14.6" fill="#2b2b2b"/>
<rect x="723.1" y="529.9" width="14.5" height="14.6" fill="#353535"/>
<rect x="737.0" y="529.9" width="14.5" height="14.6" fill="#353535"/>
<rect x="750.9" y="529.9" width="14.5" height="14.6" fill="#2b2b2b"/>
<rect x="764.9" y="529.9" width="14.5" height="14.6" fill="#2b2b2b"/>
<rect x="778.8" y="529.9" width="14.5" height="14.6" fill="#151515"/>
<rect x="792.7" y="529.9" width="14.5" height="14.6" fill="#2b2b2b"/>
<rect x="806.7" y="529.9" width="14.5" height="14.6" fill="#151515"/>
<rect x="820.6" y="529.9" width="14.5" height="14.6" fill="#151515"/>
<rect x="834.5" y="529.9" width="14.5" height="14.6" fill="#151515"/>
<rect x="848.5" y="529.9" width="14.5" height="14.6" fill="#151515"/>
<rect x="862.4" y="529.9" width="14.5" height="14.6" fill="#151515"/>
<rect x="876.3" y="529.9" width="14.5" height="14.6" fill="#151515"/>
<rect x="890.3" y="529.9" width="14.5" height="14.6" fill="#000000"/>
<rect x="904.2" y="529.9" width="14.5" height="14.6" fill="#151515"/>
<rect x="918.1" y="529.9" width="14.5" height="14.6" fill="#151515"/>
<rect x="932.1" y="529.9" width="14.5" height="14.6" fill="#151515"/>
<rect x="946.0" y="529.9" width="14.5" height="14.6" fill="#151515"/>
<rect x="959.9" y="529.9" width="14.5" height="14.6" fill="#151515"/>
<rect x="500.1" y="543.9" width="14.5" height="14.6" fill="#2b2b2b"/>
<rect x="514.1" y="543.9" width="14.5" height="14.6" fill="#2b2b2b"/>
<rect x="528.0" y="543.9" width="14.5" height="14.6" fill="#2b2b2b"/>
<rect x="541.9" y="543.9" width="14.5" height="14.6" fill="#2b2b2b"/>
<rect x="555.9" y="543.9" width="14.5" height="14.6" fill="#2b2b2b"/>
<rect x="569.8" y="543.9" width="14.5" height="14.6" fill="#2b2b2b"/>
<rect x="583.7" y="543.9" width="14.5" height="14.6" fill="#2b2b2b"/>
<rect x="597.7" y="543.9" width="14.5" height="14.6" fill="#2b2b2b"/>
<rect x="611.6" y="543.9" width="14.5" height="14.6" fill="#353535"/>
<rect x="625.5" y="543.9" width="14.5" height="14.6" fill="#404040"/>
<rect x="639.5" y="543.9" width="14.5" height="14.6" fill="#353535"/>
<rect x="653.4" y="543.9" width="14.5" height="14.6" fill="#353535"/>
<rect x="667.3" y="543.9" width="14.5" height="14.6" fill="#404040"/>
<rect x="681.3" y="543.9" width="14.5" height="14.6" fill="#2b2b2b"/>
<rect x="695.2" y="543.9" width="14.5" height="14.6" fill="#151515"/>
<rect x="709.1" y="543.9" width="14.5" height="14.6" fill="#353535"/>
<rect x="723.1" y="543.9" width="14.5" height="14.6" fill="#404040"/>
<rect x="737.0" y="543.9" width="14.5" height="14.6" fill="#404040"/>
<rect x="750.9" y="543.9" width="14.5" height="14.6" fill="#353535"/>
<rect x="764.9" y="543.9" width="14.5" height="14.6" fill="#2b2b2b"/>
<rect x="778.8" y="543.9" width="14.5" height="14.6" fill="#151515"/>
<rect x="792.7" y="543.9" width="14.5" height="14.6" fill="#151515"/>
<rect x="806.7" y="543.9" width="14.5" height="14.6" fill="#151515"/>
<rect x="820.6" y="543.9" width="14.5" height="14.6" fill="#151515"/>
<rect x="834.5" y="543.9" width="14.5" height="14.6" fill="#151515"/>
<rect x="848.5" y="543.9" width="14.5" height="14.6" fill="#151515"/>
<rect x="862.4" y="543.9" width="14.5" height="14.6" fill="#151515"/>
<rect x="876.3" y="543.9" width="14.5" height="14.6" fill="#151515"/>
<rect x="890.3" y="543.9" width="14.5" height="14.6" fill="#151515"/>
<rect x="904.2" y="543.9" width="14.5" height="14.6" fill="#151515"/>
<rect x="918.1" y="543.9" width="14.5" height="14.6" fill="#353535"/>
<rect x="932.1" y="543.9" width="14.5" height="14.6" fill="#4a4a4a"/>
<rect x="946.0" y="543.9" width="14.5" height="14.6" fill="#4a4a4a"/>
<rect x="959.9" y="543.9" width="14.5" height="14.6" fill="#4a4a4a"/>
<rect x="500.1" y="557.9" width="14.5" height="14.6" fill="#2b2b2b"/>
<rect x="514.1" y="557.9" width="14.5" height="14.6" fill="#2b2b2b"/>
<rect x="528.0" y="557.9" width="14.5" height="14.6" fill="#2b2b2b"/>
<rect x="541.9" y="557.9" width="14.5" height="14.6" fill="#2b2b2b"/>
<rect x="555.9" y="557.9" width="14.5" height="14.6" fill="#2b2b2b"/>
<rect x="569.8" y="557.9" width="14.5" height="14.6" fill="#2b2b2b"/>
<rect x="583.7" y="557.9" width="14.5" height="14.6" fill="#2b2b2b"/>
<rect x="597.7" y="557.9" width="14.5" height="14.6" fill="#2b2b2b"/>
<rect x="611.6" y="557.9" width="14.5" height="14.6" fill="#404040"/>
<rect x="625.5" y="557.9" width="14.5" height="14.6" fill="#404040"/>
<rect x="639.5" y="557.9" width="14.5" height="14.6" fill="#404040"/>
<rect x="653.4" y="557.9" width="14.5" height="14.6" fill="#353535"/>
<rect x="667.3" y="557.9" width="14.5" height="14.6" fill="#404040"/>
<rect x="681.3" y="557.9" width="14.5" height="14.6" fill="#2b2b2b"/>
<rect x="695.2" y="557.9" width="14.5" height="14.6" fill="#151515"/>
<rect x="709.1" y="557.9" width="14.5" height="14.6" fill="#353535"/>
<rect x="723.1" y="557.9" width="14.5" height="14.6" fill="#404040"/>
<rect x="737.0" y="557.9" width="14.5" height="14.6" fill="#353535"/>
<rect x="750.9" y="557.9" width="14.5" height="14.6" fill="#353535"/>
<rect x="764.9" y="557.9" width="14.5" height="14.6" fill="#2b2b2b"/>
<rect x="778.8" y="557.9" width="14.5" height="14.6" fill="#151515"/>
<rect x="792.7" y="557.9" width="14.5" height="14.6" fill="#151515"/>
<rect x="806.7" y="557.9" width="14.5" height="14.6" fill="#151515"/>
<rect x="820.6" y="557.9" width="14.5" height="14.6" fill="#151515"/>
<rect x="834.5" y="557.9" width="14.5" height="14.6" fill="#151515"/>
<rect x="848.5" y="557.9" width="14.5" height="14.6" fill="#151515"/>
<rect x="862.4" y="557.9" width="14.5" height="14.6" fill="#2b2b2b"/>
<rect x="876.3" y="557.9" width="14.5" height="14.6" fill="#151515"/>
<rect x="890.3" y="557.9" width="14.5" height="14.6" fill="#000000"/>
<rect x="904.2" y="557.9" width="14.5" height="14.6" fill="#151515"/>
<rect x="918.1" y="557.9" width="14.5" height="14.6" fill="#404040"/>
<rect x="932.1" y="557.9" width="14.5" height="14.6" fill="#4a4a4a"/>
<rect x="946.0" y="557.9" width="14.5" height="14.6" fill="#4a4a4a"/>
<rect x="959.9" y="557.9" width="14.5" height="14.6" fill="#4a4a4a"/>
<rect x="500.1" y="571.9" width="14.5" height="14.6" fill="#2b2b2b"/>
<rect x="514.1" y="571.9" width="14.5" height="14.6" fill="#2b2b2b"/>
<rect x="528.0" y="571.9" width="14.5" height="14.6" fill="#2b2b2b"/>
<rect x="541.9" y="571.9" width="14.5" height="14.6" fill="#2b2b2b"/>
<rect x="555.9" y="571.9" width="14.5" height="14.6" fill="#2b2b2b"/>
<rect x="569.8" y="571.9" width="14.5" height="14.6" fill="#2b2b2b"/>
<rect x="583.7" y="571.9" width="14.5" height="14.6" fill="#2b2b2b"/>
<rect x="597.7" y="571.9" width="14.5" height="14.6" fill="#2b2b2b"/>
<rect x="611.6" y="571.9" width="14.5" height="14.6" fill="#404040"/>
<rect x="625.5" y="571.9" width="14.5" height="14.6" fill="#404040"/>
<rect x="639.5" y="571.9" width="14.5" height="14.6" fill="#353535"/>
<rect x="653.4" y="571.9" width="14.5" height="14.6" fill="#353535"/>
<rect x="667.3" y="571.9" width="14.5" height="14.6" fill="#353535"/>
<rect x="681.3" y="571.9" width="14.5" height="14.6" fill="#353535"/>
<rect x="695.2" y="571.9" width="14.5" height="14.6" fill="#2b2b2b"/>
<rect x="709.1" y="571.9" width="14.5" height="14.6" fill="#353535"/>
<rect x="723.1" y="571.9" width="14.5" height="14.6" fill="#353535"/>
<rect x="737.0" y="571.9" width="14.5" height="14.6" fill="#353535"/>
<rect x="750.9" y="571.9" width="14.5" height="14.6" fill="#2b2b2b"/>
<rect x="764.9" y="571.9" width="14.5" height="14.6" fill="#2b2b2b"/>
<rect x="778.8" y="571.9" width="14.5" height="14.6" fill="#151515"/>
<rect x="792.7" y="571.9" width="14.5" height="14.6" fill="#151515"/>
<rect x="806.7" y="571.9" width="14.5" height="14.6" fill="#151515"/>
<rect x="820.6" y="571.9" width="14.5" height="14.6" fill="#151515"/>
<rect x="834.5" y="571.9" width="14.5" height="14.6" fill="#151515"/>
<rect x="848.5" y="571.9" width="14.5" height="14.6" fill="#2b2b2b"/>
<rect x="862.4" y="571.9" width="14.5" height="14.6" fill="#2b2b2b"/>
<rect x="876.3" y="571.9" width="14.5" height="14.6" fill="#151515"/>
<rect x="890.3" y="571.9" width="14.5" height="14.6" fill="#151515"/>
<rect x="904.2" y="571.9" width="14.5" height="14.6" fill="#2b2b2b"/>
<rect x="918.1" y="571.9" width="14.5" height="14.6" fill="#2b2b2b"/>
<rect x="932.1" y="571.9" width="14.5" height="14.6" fill="#404040"/>
<rect x="946.0" y="571.9" width="14.5" height="14.6" fill="#404040"/>
<rect x="959.9" y="571.9" width="14.5" height="14.6" fill="#404040"/>
<rect x="500.1" y="585.8" width="14.5" height="14.6" fill="#2b2b2b"/>
<rect x="514.1" y="585.8" width="14.5" height="14.6" fill="#2b2b2b"/>
<rect x="528.0" y="585.8" width="14.5" height="14.6" fill="#2b2b2b"/>
<rect x="541.9" y="585.8" width="14.5" height="14.6" fill="#2b2b2b"/>
<rect x="555.9" y="585.8" width="14.5" height="14.6" fill="#2b2b2b"/>
<rect x="569.8" y="585.8" width="14.5" height="14.6" fill="#2b2b2b"/>
<rect x="583.7" y="585.8" width="14.5" height="14.6" fill="#2b2b2b"/>
<rect x="597.7" y="585.8" width="14.5" height="14.6" fill="#2b2b2b"/>
<rect x="611.6" y="585.8" width="14.5" height="14.6" fill="#353535"/>
<rect x="625.5" y="585.8" width="14.5" height="14.6" fill="#353535"/>
<rect x="639.5" y="585.8" width="14.5" height="14.6" fill="#404040"/>
<rect x="653.4" y="585.8" width="14.5" height="14.6" fill="#353535"/>
<rect x="667.3" y="585.8" width="14.5" height="14.6" fill="#353535"/>
<rect x="681.3" y="585.8" width="14.5" height="14.6" fill="#404040"/>
<rect x="695.2" y="585.8" width="14.5" height="14.6" fill="#404040"/>
<rect x="709.1" y="585.8" width="14.5" height="14.6" fill="#404040"/>
<rect x="723.1" y="585.8" width="14.5" height="14.6" fill="#353535"/>
<rect x="737.0" y="585.8" width="14.5" height="14.6" fill="#353535"/>
<rect x="750.9" y="585.8" width="14.5" height="14.6" fill="#353535"/>
<rect x="764.9" y="585.8" width="14.5" height="14.6" fill="#2b2b2b"/>
<rect x="778.8" y="585.8" width="14.5" height="14.6" fill="#2b2b2b"/>
<rect x="792.7" y="585.8" width="14.5" height="14.6" fill="#151515"/>
<rect x="806.7" y="585.8" width="14.5" height="14.6" fill="#2b2b2b"/>
<rect x="820.6" y="585.8" width="14.5" height="14.6" fill="#2b2b2b"/>
<rect x="834.5" y="585.8" width="14.5" height="14.6" fill="#2b2b2b"/>
<rect x="848.5" y="585.8" width="14.5" height="14.6" fill="#353535"/>
<rect x="862.4" y="585.8" width="14.5" height="14.6" fill="#353535"/>
<rect x="876.3" y="585.8" width="14.5" height="14.6" fill="#2b2b2b"/>
<rect x="890.3" y="585.8" width="14.5" height="14.6" fill="#2b2b2b"/>
<rect x="904.2" y="585.8" width="14.5" height="14.6" fill="#2b2b2b"/>
<rect x="918.1" y="585.8" width="14.5" height="14.6" fill="#151515"/>
<rect x="932.1" y="585.8" width="14.5" height="14.6" fill="#2b2b2b"/>
<rect x="946.0" y="585.8" width="14.5" height="14.6" fill="#2b2b2b"/>
<rect x="959.9" y="585.8" width="14.5" height="14.6" fill="#2b2b2b"/>
<rect x="500.1" y="599.8" width="14.5" height="14.6" fill="#2b2b2b"/>
<rect x="514.1" y="599.8" width="14.5" height="14.6" fill="#2b2b2b"/>
<rect x="528.0" y="599.8" width="14.5" height="14.6" fill="#2b2b2b"/>
<rect x="541.9" y="599.8" width="14.5" height="14.6" fill="#2b2b2b"/>
<rect x="555.9" y="599.8" width="14.5" height="14.6" fill="#2b2b2b"/>
<rect x="569.8" y="599.8" width="14.5" height="14.6" fill="#2b2b2b"/>
<rect x="583.7" y="599.8" width="14.5" height="14.6" fill="#2b2b2b"/>
<rect x="597.7" y="599.8" width="14.5" height="14.6" fill="#2b2b2b"/>
<rect x="611.6" y="599.8" width="14.5" height="14.6" fill="#404040"/>
<rect x="625.5" y="599.8" width="14.5" height="14.6" fill="#404040"/>
<rect x="639.5" y="599.8" width="14.5" height="14.6" fill="#404040"/>
<rect x="653.4" y="599.8" width="14.5" height="14.6" fill="#353535"/>
<rect x="667.3" y="599.8" width="14.5" height="14.6" fill="#353535"/>
<rect x="681.3" y="599.8" width="14.5" height="14.6" fill="#404040"/>
<rect x="695.2" y="599.8" width="14.5" height="14.6" fill="#404040"/>
<rect x="709.1" y="599.8" width="14.5" height="14.6" fill="#4a4a4a"/>
<rect x="723.1" y="599.8" width="14.5" height="14.6" fill="#404040"/>
<rect x="737.0" y="599.8" width="14.5" height="14.6" fill="#404040"/>
<rect x="750.9" y="599.8" width="14.5" height="14.6" fill="#353535"/>
<rect x="764.9" y="599.8" width="14.5" height="14.6" fill="#353535"/>
<rect x="778.8" y="599.8" width="14.5" height="14.6" fill="#353535"/>
<rect x="792.7" y="599.8" width="14.5" height="14.6" fill="#2b2b2b"/>
<rect x="806.7" y="599.8" width="14.5" height="14.6" fill="#353535"/>
<rect x="820.6" y="599.8" width="14.5" height="14.6" fill="#353535"/>
<rect x="834.5" y="599.8" width="14.5" height="14.6" fill="#353535"/>
<rect x="848.5" y="599.8" width="14.5" height="14.6" fill="#353535"/>
<rect x="862.4" y="599.8" width="14.5" height="14.6" fill="#2b2b2b"/>
<rect x="876.3" y="599.8" width="14.5" height="14.6" fill="#2b2b2b"/>
<rect x="890.3" y="599.8" width="14.5" height="14.6" fill="#353535"/>
<rect x="904.2" y="599.8" width="14.5" height="14.6" fill="#353535"/>
<rect x="918.1" y="599.8" width="14.5" height="14.6" fill="#353535"/>
<rect x="932.1" y="599.8" width="14.5" height="14.6" fill="#2b2b2b"/>
<rect x="946.0" y="599.8" width="14.5" height="14.6" fill="#2b2b2b"/>
<rect x="959.9" y="599.8" width="14.5" height="14.6" fill="#2b2b2b"/>
<rect x="500.1" y="613.8" width="14.5" height="14.6" fill="#2b2b2b"/>
<rect x="514.1" y="613.8" width="14.5" height="14.6" fill="#2b2b2b"/>
<rect x="528.0" y="613.8" width="14.5" height="14.6" fill="#2b2b2b"/>
<rect x="541.9" y="613.8" width="14.5" height="14.6" fill="#2b2b2b"/>
<rect x="555.9" y="613.8" width="14.5" height="14.6" fill="#2b2b2b"/>
<rect x="569.8" y="613.8" width="14.5" height="14.6" fill="#2b2b2b"/>
<rect x="583.7" y="613.8" width="14.5" height="14.6" fill="#2b2b2b"/>
<rect x="597.7" y="613.8" width="14.5" height="14.6" fill="#2b2b2b"/>
<rect x="611.6" y="613.8" width="14.5" height="14.6" fill="#404040"/>
<rect x="625.5" y="613.8" width="14.5" height="14.6" fill="#404040"/>
<rect x="639.5" y="613.8" width="14.5" height="14.6" fill="#353535"/>
<rect x="653.4" y="613.8" width="14.5" height="14.6" fill="#404040"/>
<rect x="667.3" y="613.8" width="14.5" height="14.6" fill="#404040"/>
<rect x="681.3" y="613.8" width="14.5" height="14.6" fill="#404040"/>
<rect x="695.2" y="613.8" width="14.5" height="14.6" fill="#404040"/>
<rect x="709.1" y="613.8" width="14.5" height="14.6" fill="#4a4a4a"/>
<rect x="723.1" y="613.8" width="14.5" height="14.6" fill="#4a4a4a"/>
<rect x="737.0" y="613.8" width="14.5" height="14.6" fill="#404040"/>
<rect x="750.9" y="613.8" width="14.5" height="14.6" fill="#404040"/>
<rect x="764.9" y="613.8" width="14.5" height="14.6" fill="#353535"/>
<rect x="778.8" y="613.8" width="14.5" height="14.6" fill="#353535"/>
<rect x="792.7" y="613.8" width="14.5" height="14.6" fill="#353535"/>
<rect x="806.7" y="613.8" width="14.5" height="14.6" fill="#404040"/>
<rect x="820.6" y="613.8" width="14.5" height="14.6" fill="#404040"/>
<rect x="834.5" y="613.8" width="14.5" height="14.6" fill="#404040"/>
<rect x="848.5" y="613.8" width="14.5" height="14.6" fill="#353535"/>
<rect x="862.4" y="613.8" width="14.5" height="14.6" fill="#353535"/>
<rect x="876.3" y="613.8" width="14.5" height="14.6" fill="#353535"/>
<rect x="890.3" y="613.8" width="14.5" height="14.6" fill="#353535"/>
<rect x="904.2" y="613.8" width="14.5" height="14.6" fill="#353535"/>
<rect x="918.1" y="613.8" width="14.5" height="14.6" fill="#353535"/>
<rect x="932.1" y="613.8" width="14.5" height="14.6" fill="#404040"/>
<rect x="946.0" y="613.8" width="14.5" height="14.6" fill="#404040"/>
<rect x="959.9" y="613.8" width="14.5" height="14.6" fill="#404040"/>
<rect x="500.1" y="627.8" width="14.5" height="14.6" fill="#2b2b2b"/>
<rect x="514.1" y="627.8" width="14.5" height="14.6" fill="#2b2b2b"/>
<rect x="528.0" y="627.8" width="14.5" height="14.6" fill="#2b2b2b"/>
<rect x="541.9" y="627.8" width="14.5" height="14.6" fill="#2b2b2b"/>
<rect x="555.9" y="627.8" width="14.5" height="14.6" fill="#2b2b2b"/>
<rect x="569.8" y="627.8" width="14.5" height="14.6" fill="#2b2b2b"/>
<rect x="583.7" y="627.8" width="14.5" height="14.6" fill="#2b2b2b"/>
<rect x="597.7" y="627.8" width="14.5" height="14.6" fill="#2b2b2b"/>
<rect x="611.6" y="627.8" width="14.5" height="14.6" fill="#353535"/>
<rect x="625.5" y="627.8" width="14.5" height="14.6" fill="#353535"/>
<rect x="639.5" y="627.8" width="14.5" height="14.6" fill="#353535"/>
<rect x="653.4" y="627.8" width="14.5" height="14.6" fill="#353535"/>
<rect x="667.3" y="627.8" width="14.5" height="14.6" fill="#404040"/>
<rect x="681.3" y="627.8" width="14.5" height="14.6" fill="#404040"/>
<rect x="695.2" y="627.8" width="14.5" height="14.6" fill="#4a4a4a"/>
<rect x="709.1" y="627.8" width="14.5" height="14.6" fill="#4a4a4a"/>
<rect x="723.1" y="627.8" width="14.5" height="14.6" fill="#555555"/>
<rect x="737.0" y="627.8" width="14.5" height="14.6" fill="#555555"/>
<rect x="750.9" y="627.8" width="14.5" height="14.6" fill="#555555"/>
<rect x="764.9" y="627.8" width="14.5" height="14.6" fill="#555555"/>
<rect x="778.8" y="627.8" width="14.5" height="14.6" fill="#555555"/>
<rect x="792.7" y="627.8" width="14.5" height="14.6" fill="#555555"/>
<rect x="806.7" y="627.8" width="14.5" height="14.6" fill="#555555"/>
<rect x="820.6" y="627.8" width="14.5" height="14.6" fill="#555555"/>
<rect x="834.5" y="627.8" width="14.5" height="14.6" fill="#4a4a4a"/>
<rect x="848.5" y="627.8" width="14.5" height="14.6" fill="#353535"/>
<rect x="862.4" y="627.8" width="14.5" height="14.6" fill="#353535"/>
<rect x="876.3" y="627.8" width="14.5" height="14.6" fill="#4a4a4a"/>
<rect x="890.3" y="627.8" width="14.5" height="14.6" fill="#555555"/>
<rect x="904.2" y="627.8" width="14.5" height="14.6" fill="#555555"/>
<rect x="918.1" y="627.8" width="14.5" height="14.6" fill="#555555"/>
<rect x="932.1" y="627.8" width="14.5" height="14.6" fill="#6a6a6a"/>
<rect x="946.0" y="627.8" width="14.5" height="14.6" fill="#6a6a6a"/>
<rect x="959.9" y="627.8" width="14.5" height="14.6" fill="#6a6a6a"/>
<rect x="500.1" y="641.7" width="14.5" height="14.6" fill="#2b2b2b"/>
<rect x="514.1" y="641.7" width="14.5" height="14.6" fill="#2b2b2b"/>
<rect x="528.0" y="641.7" width="14.5" height="14.6" fill="#2b2b2b"/>
<rect x="541.9" y="641.7" width="14.5" height="14.6" fill="#2b2b2b"/>
<rect x="555.9" y="641.7" width="14.5" height="14.6" fill="#2b2b2b"/>
<rect x="569.8" y="641.7" width="14.5" height="14.6" fill="#2b2b2b"/>
<rect x="583.7" y="641.7" width="14.5" height="14.6" fill="#2b2b2b"/>
<rect x="597.7" y="641.7" width="14.5" height="14.6" fill="#2b2b2b"/>
<rect x="611.6" y="641.7" width="14.5" height="14.6" fill="#404040"/>
<rect x="625.5" y="641.7" width="14.5" height="14.6" fill="#404040"/>
<rect x="639.5" y="641.7" width="14.5" height="14.6" fill="#4a4a4a"/>
<rect x="653.4" y="641.7" width="14.5" height="14.6" fill="#404040"/>
<rect x="667.3" y="641.7" width="14.5" height="14.6" fill="#353535"/>
<rect x="681.3" y="641.7" width="14.5" height="14.6" fill="#404040"/>
<rect x="695.2" y="641.7" width="14.5" height="14.6" fill="#4a4a4a"/>
<rect x="709.1" y="641.7" width="14.5" height="14.6" fill="#4a4a4a"/>
<rect x="723.1" y="641.7" width="14.5" height="14.6" fill="#555555"/>
<rect x="737.0" y="641.7" width="14.5" height="14.6" fill="#555555"/>
<rect x="750.9" y="641.7" width="14.5" height="14.6" fill="#555555"/>
<rect x="764.9" y="641.7" width="14.5" height="14.6" fill="#555555"/>
<rect x="778.8" y="641.7" width="14.5" height="14.6" fill="#555555"/>
<rect x="792.7" y="641.7" width="14.5" height="14.6" fill="#6a6a6a"/>
<rect x="806.7" y="641.7" width="14.5" height="14.6" fill="#555555"/>
<rect x="820.6" y="641.7" width="14.5" height="14.6" fill="#555555"/>
<rect x="834.5" y="641.7" width="14.5" height="14.6" fill="#555555"/>
<rect x="848.5" y="641.7" width="14.5" height="14.6" fill="#555555"/>
<rect x="862.4" y="641.7" width="14.5" height="14.6" fill="#555555"/>
<rect x="876.3" y="641.7" width="14.5" height="14.6" fill="#959595"/>
<rect x="890.3" y="641.7" width="14.5" height="14.6" fill="#bfbfbf"/>
<rect x="904.2" y="641.7" width="14.5" height="14.6" fill="#aaaaaa"/>
<rect x="918.1" y="641.7" width="14.5" height="14.6" fill="#d4d4d4"/>
<rect x="932.1" y="641.7" width="14.5" height="14.6" fill="#ffffff"/>
<rect x="946.0" y="641.7" width="14.5" height="14.6" fill="#ffffff"/>
<rect x="959.9" y="641.7" width="14.5" height="14.6" fill="#ffffff"/>
<rect x="500.1" y="655.7" width="14.5" height="14.6" fill="#2b2b2b"/>
<rect x="514.1" y="655.7" width="14.5" height="14.6" fill="#2b2b2b"/>
<rect x="528.0" y="655.7" width="14.5" height="14.6" fill="#2b2b2b"/>
<rect x="541.9" y="655.7" width="14.5" height="14.6" fill="#2b2b2b"/>
<rect x="555.9" y="655.7" width="14.5" height="14.6" fill="#2b2b2b"/>
<rect x="569.8" y="655.7" width="14.5" height="14.6" fill="#2b2b2b"/>
<rect x="583.7" y="655.7" width="14.5" height="14.6" fill="#2b2b2b"/>
<rect x="597.7" y="655.7" width="14.5" height="14.6" fill="#2b2b2b"/>
<rect x="611.6" y="655.7" width="14.5" height="14.6" fill="#353535"/>
<rect x="625.5" y="655.7" width="14.5" height="14.6" fill="#151515"/>
<rect x="639.5" y="655.7" width="14.5" height="14.6" fill="#353535"/>
<rect x="653.4" y="655.7" width="14.5" height="14.6" fill="#353535"/>
<rect x="667.3" y="655.7" width="14.5" height="14.6" fill="#2b2b2b"/>
<rect x="681.3" y="655.7" width="14.5" height="14.6" fill="#2b2b2b"/>
<rect x="695.2" y="655.7" width="14.5" height="14.6" fill="#404040"/>
<rect x="709.1" y="655.7" width="14.5" height="14.6" fill="#4a4a4a"/>
<rect x="723.1" y="655.7" width="14.5" height="14.6" fill="#4a4a4a"/>
<rect x="737.0" y="655.7" width="14.5" height="14.6" fill="#555555"/>
<rect x="750.9" y="655.7" width="14.5" height="14.6" fill="#555555"/>
<rect x="764.9" y="655.7" width="14.5" height="14.6" fill="#555555"/>
<rect x="778.8" y="655.7" width="14.5" height="14.6" fill="#555555"/>
<rect x="792.7" y="655.7" width="14.5" height="14.6" fill="#555555"/>
<rect x="806.7" y="655.7" width="14.5" height="14.6" fill="#555555"/>
<rect x="820.6" y="655.7" width="14.5" height="14.6" fill="#555555"/>
<rect x="834.5" y="655.7" width="14.5" height="14.6" fill="#404040"/>
<rect x="848.5" y="655.7" width="14.5" height="14.6" fill="#6a6a6a"/>
<rect x="862.4" y="655.7" width="14.5" height="14.6" fill="#959595"/>
<rect x="876.3" y="655.7" width="14.5" height="14.6" fill="#ffffff"/>
<rect x="890.3" y="655.7" width="14.5" height="14.6" fill="#ffffff"/>
<rect x="904.2" y="655.7" width="14.5" height="14.6" fill="#ffffff"/>
<rect x="918.1" y="655.7" width="14.5" height="14.6" fill="#ffffff"/>
<rect x="932.1" y="655.7" width="14.5" height="14.6" fill="#ffffff"/>
<rect x="946.0" y="655.7" width="14.5" height="14.6" fill="#ffffff"/>
<rect x="959.9" y="655.7" width="14.5" height="14.6" fill="#ffffff"/>
<rect x="500.1" y="669.7" width="14.5" height="14.6" fill="#2b2b2b"/>
<rect x="514.1" y="669.7" width="14.5" height="14.6" fill="#2b2b2b"/>
<rect x="528.0" y="669.7" width="14.5" height="14.6" fill="#2b2b2b"/>
<rect x="541.9" y="669.7" width="14.5" height="14.6" fill="#2b2b2b"/>
<rect x="555.9" y="669.7" width="14.5" height="14.6" fill="#2b2b2b"/>
<rect x="569.8" y="669.7" width="14.5" height="14.6" fill="#2b2b2b"/>
<rect x="583.7" y="669.7" width="14.5" height="14.6" fill="#2b2b2b"/>
<rect x="597.7" y="669.7" width="14.5" height="14.6" fill="#2b2b2b"/>
<rect x="611.6" y="669.7" width="14.5" height="14.6" fill="#151515"/>
<rect x="625.5" y="669.7" width="14.5" height="14.6" fill="#000000"/>
<rect x="639.5" y="669.7" width="14.5" height="14.6" fill="#2b2b2b"/>
<rect x="653.4" y="669.7" width="14.5" height="14.6" fill="#353535"/>
<rect x="667.3" y="669.7" width="14.5" height="14.6" fill="#2b2b2b"/>
<rect x="681.3" y="669.7" width="14.5" height="14.6" fill="#353535"/>
<rect x="695.2" y="669.7" width="14.5" height="14.6" fill="#404040"/>
<rect x="709.1" y="669.7" width="14.5" height="14.6" fill="#4a4a4a"/>
<rect x="723.1" y="669.7" width="14.5" height="14.6" fill="#555555"/>
<rect x="737.0" y="669.7" width="14.5" height="14.6" fill="#555555"/>
<rect x="750.9" y="669.7" width="14.5" height="14.6" fill="#555555"/>
<rect x="764.9" y="669.7" width="14.5" height="14.6" fill="#555555"/>
<rect x="778.8" y="669.7" width="14.5" height="14.6" fill="#4a4a4a"/>
<rect x="792.7" y="669.7" width="14.5" height="14.6" fill="#404040"/>
<rect x="806.7" y="669.7" width="14.5" height="14.6" fill="#808080"/>
<rect x="820.6" y="669.7" width="14.5" height="14.6" fill="#d4d4d4"/>
<rect x="834.5" y="669.7" width="14.5" height="14.6" fill="#eaeaea"/>
<rect x="848.5" y="669.7" width="14.5" height="14.6" fill="#eaeaea"/>
<rect x="862.4" y="669.7" width="14.5" height="14.6" fill="#d4d4d4"/>
<rect x="876.3" y="669.7" width="14.5" height="14.6" fill="#eaeaea"/>
<rect x="890.3" y="669.7" width="14.5" height="14.6" fill="#ffffff"/>
<rect x="904.2" y="669.7" width="14.5" height="14.6" fill="#ffffff"/>
<rect x="918.1" y="669.7" width="14.5" height="14.6" fill="#ffffff"/>
<rect x="932.1" y="669.7" width="14.5" height="14.6" fill="#ffffff"/>
<rect x="946.0" y="669.7" width="14.5" height="14.6" fill="#ffffff"/>
<rect x="959.9" y="669.7" width="14.5" height="14.6" fill="#ffffff"/>
<rect x="500.1" y="683.6" width="14.5" height="14.6" fill="#2b2b2b"/>
<rect x="514.1" y="683.6" width="14.5" height="14.6" fill="#2b2b2b"/>
<rect x="528.0" y="683.6" width="14.5" height="14.6" fill="#2b2b2b"/>
<rect x="541.9" y="683.6" width="14.5" height="14.6" fill="#2b2b2b"/>
<rect x="555.9" y="683.6" width="14.5" height="14.6" fill="#2b2b2b"/>
<rect x="569.8" y="683.6" width="14.5" height="14.6" fill="#2b2b2b"/>
<rect x="583.7" y="683.6" width="14.5" height="14.6" fill="#2b2b2b"/>
<rect x="597.7" y="683.6" width="14.5" height="14.6" fill="#2b2b2b"/>
<rect x="611.6" y="683.6" width="14.5" height="14.6" fill="#151515"/>
<rect x="625.5" y="683.6" width="14.5" height="14.6" fill="#2b2b2b"/>
<rect x="639.5" y="683.6" width="14.5" height="14.6" fill="#353535"/>
<rect x="653.4" y="683.6" width="14.5" height="14.6" fill="#353535"/>
<rect x="667.3" y="683.6" width="14.5" height="14.6" fill="#353535"/>
<rect x="681.3" y="683.6" width="14.5" height="14.6" fill="#353535"/>
<rect x="695.2" y="683.6" width="14.5" height="14.6" fill="#404040"/>
<rect x="709.1" y="683.6" width="14.5" height="14.6" fill="#4a4a4a"/>
<rect x="723.1" y="683.6" width="14.5" height="14.6" fill="#4a4a4a"/>
<rect x="737.0" y="683.6" width="14.5" height="14.6" fill="#555555"/>
<rect x="750.9" y="683.6" width="14.5" height="14.6" fill="#555555"/>
<rect x="764.9" y="683.6" width="14.5" height="14.6" fill="#555555"/>
<rect x="778.8" y="683.6" width="14.5" height="14.6" fill="#555555"/>
<rect x="792.7" y="683.6" width="14.5" height="14.6" fill="#6a6a6a"/>
<rect x="806.7" y="683.6" width="14.5" height="14.6" fill="#eaeaea"/>
<rect x="820.6" y="683.6" width="14.5" height="14.6" fill="#ffffff"/>
<rect x="834.5" y="683.6" width="14.5" height="14.6" fill="#ffffff"/>
<rect x="848.5" y="683.6" width="14.5" height="14.6" fill="#ffffff"/>
<rect x="862.4" y="683.6" width="14.5" height="14.6" fill="#ffffff"/>
<rect x="876.3" y="683.6" width="14.5" height="14.6" fill="#ffffff"/>
<rect x="890.3" y="683.6" width="14.5" height="14.6" fill="#ffffff"/>
<rect x="904.2" y="683.6" width="14.5" height="14.6" fill="#ffffff"/>
<rect x="918.1" y="683.6" width="14.5" height="14.6" fill="#ffffff"/>
<rect x="932.1" y="683.6" width="14.5" height="14.6" fill="#ffffff"/>
<rect x="946.0" y="683.6" width="14.5" height="14.6" fill="#ffffff"/>
<rect x="959.9" y="683.6" width="14.5" height="14.6" fill="#ffffff"/>
<rect x="500.1" y="697.6" width="14.5" height="14.6" fill="#2b2b2b"/>
<rect x="514.1" y="697.6" width="14.5" height="14.6" fill="#2b2b2b"/>
<rect x="528.0" y="697.6" width="14.5" height="14.6" fill="#2b2b2b"/>
<rect x="541.9" y="697.6" width="14.5" height="14.6" fill="#2b2b2b"/>
<rect x="555.9" y="697.6" width="14.5" height="14.6" fill="#2b2b2b"/>
<rect x="569.8" y="697.6" width="14.5" height="14.6" fill="#2b2b2b"/>
<rect x="583.7" y="697.6" width="14.5" height="14.6" fill="#2b2b2b"/>
<rect x="597.7" y="697.6" width="14.5" height="14.6" fill="#2b2b2b"/>
<rect x="611.6" y="697.6" width="14.5" height="14.6" fill="#353535"/>
<rect x="625.5" y="697.6" width="14.5" height="14.6" fill="#353535"/>
<rect x="639.5" y="697.6" width="14.5" height="14.6" fill="#353535"/>
<rect x="653.4" y="697.6" width="14.5" height="14.6" fill="#404040"/>
<rect x="667.3" y="697.6" width="14.5" height="14.6" fill="#353535"/>
<rect x="681.3" y="697.6" width="14.5" height="14.6" fill="#404040"/>
<rect x="695.2" y="697.6" width="14.5" height="14.6" fill="#404040"/>
<rect x="709.1" y="697.6" width="14.5" height="14.6" fill="#4a4a4a"/>
<rect x="723.1" y="697.6" width="14.5" height="14.6" fill="#555555"/>
<rect x="737.0" y="697.6" width="14.5" height="14.6" fill="#6a6a6a"/>
<rect x="750.9" y="697.6" width="14.5" height="14.6" fill="#808080"/>
<rect x="764.9" y="697.6" width="14.5" height="14.6" fill="#aaaaaa"/>
<rect x="778.8" y="697.6" width="14.5" height="14.6" fill="#6a6a6a"/>
<rect x="792.7" y="697.6" width="14.5" height="14.6" fill="#eaeaea"/>
<rect x="806.7" y="697.6" width="14.5" height="14.6" fill="#ffffff"/>
<rect x="820.6" y="697.6" width="14.5" height="14.6" fill="#ffffff"/>
<rect x="834.5" y="697.6" width="14.5" height="14.6" fill="#ffffff"/>
<rect x="848.5" y="697.6" width="14.5" height="14.6" fill="#ffffff"/>
<rect x="862.4" y="697.6" width="14.5" height="14.6" fill="#ffffff"/>
<rect x="876.3" y="697.6" width="14.5" height="14.6" fill="#ffffff"/>
<rect x="890.3" y="697.6" width="14.5" height="14.6" fill="#ffffff"/>
<rect x="904.2" y="697.6" width="14.5" height="14.6" fill="#ffffff"/>
<rect x="918.1" y="697.6" width="14.5" height="14.6" fill="#ffffff"/>
<rect x="932.1" y="697.6" width="14.5" height="14.6" fill="#ffffff"/>
<rect x="946.0" y="697.6" width="14.5" height="14.6" fill="#ffffff"/>
<rect x="959.9" y="697.6" width="14.5" height="14.6" fill="#ffffff"/>
<rect x="500.1" y="711.6" width="14.5" height="14.6" fill="#2b2b2b"/>
<rect x="514.1" y="711.6" width="14.5" height="14.6" fill="#2b2b2b"/>
<rect x="528.0" y="711.6" width="14.5" height="14.6" fill="#2b2b2b"/>
<rect x="541.9" y="711.6" width="14.5" height="14.6" fill="#2b2b2b"/>
<rect x="555.9" y="711.6" width="14.5" height="14.6" fill="#2b2b2b"/>
<rect x="569.8" y="711.6" width="14.5" height="14.6" fill="#2b2b2b"/>
<rect x="583.7" y="711.6" width="14.5" height="14.6" fill="#2b2b2b"/>
<rect x="597.7" y="711.6" width="14.5" height="14.6" fill="#2b2b2b"/>
<rect x="611.6" y="711.6" width="14.5" height="14.6" fill="#353535"/>
<rect x="625.5" y="711.6" width="14.5" height="14.6" fill="#353535"/>
<rect x="639.5" y="711.6" width="14.5" height="14.6" fill="#353535"/>
<rect x="653.4" y="711.6" width="14.5" height="14.6" fill="#353535"/>
<rect x="667.3" y="711.6" width="14.5" height="14.6" fill="#404040"/>
<rect x="681.3" y="711.6" width="14.5" height="14.6" fill="#404040"/>
<rect x="695.2" y="711.6" width="14.5" height="14.6" fill="#4a4a4a"/>
<rect x="709.1" y="711.6" width="14.5" height="14.6" fill="#555555"/>
<rect x="723.1" y="711.6" width="14.5" height="14.6" fill="#808080"/>
<rect x="737.0" y="711.6" width="14.5" height="14.6" fill="#aaaaaa"/>
<rect x="750.9" y="711.6" width="14.5" height="14.6" fill="#ffffff"/>
<rect x="764.9" y="711.6" width="14.5" height="14.6" fill="#ffffff"/>
<rect x="778.8" y="711.6" width="14.5" height="14.6" fill="#bfbfbf"/>
<rect x="792.7" y="711.6" width="14.5" height="14.6" fill="#ffffff"/>
<rect x="806.7" y="711.6" width="14.5" height="14.6" fill="#ffffff"/>
<rect x="820.6" y="711.6" width="14.5" height="14.6" fill="#ffffff"/>
<rect x="834.5" y="711.6" width="14.5" height="14.6" fill="#ffffff"/>
<rect x="848.5" y="711.6" width="14.5" height="14.6" fill="#ffffff"/>
<rect x="862.4" y="711.6" width="14.5" height="14.6" fill="#ffffff"/>
<rect x="876.3" y="711.6" width="14.5" height="14.6" fill="#ffffff"/>
<rect x="890.3" y="711.6" width="14.5" height="14.6" fill="#ffffff"/>
<rect x="904.2" y="711.6" width="14.5" height="14.6" fill="#ffffff"/>
<rect x="918.1" y="711.6" width="14.5" height="14.6" fill="#ffffff"/>
<rect x="932.1" y="711.6" width="14.5" height="14.6" fill="#ffffff"/>
<rect x="946.0" y="711.6" width="14.5" height="14.6" fill="#ffffff"/>
<rect x="959.9" y="711.6" width="14.5" height="14.6" fill="#ffffff"/>
<rect x="500.1" y="725.6" width="14.5" height="14.6" fill="#2b2b2b"/>
<rect x="514.1" y="725.6" width="14.5" height="14.6" fill="#2b2b2b"/>
<rect x="528.0" y="725.6" width="14.5" height="14.6" fill="#2b2b2b"/>
<rect x="541.9" y="725.6" width="14.5" height="14.6" fill="#2b2b2b"/>
<rect x="555.9" y="725.6" width="14.5" height="14.6" fill="#2b2b2b"/>
<rect x="569.8" y="725.6" width="14.5" height="14.6" fill="#2b2b2b"/>
<rect x="583.7" y="725.6" width="14.5" height="14.6" fill="#353535"/>
<rect x="597.7" y="725.6" width="14.5" height="14.6" fill="#4a4a4a"/>
<rect x="611.6" y="725.6" width="14.5" height="14.6" fill="#4a4a4a"/>
<rect x="625.5" y="725.6" width="14.5" height="14.6" fill="#4a4a4a"/>
<rect x="639.5" y="725.6" width="14.5" height="14.6" fill="#404040"/>
<rect x="653.4" y="725.6" width="14.5" height="14.6" fill="#555555"/>
<rect x="667.3" y="725.6" width="14.5" height="14.6" fill="#6a6a6a"/>
<rect x="681.3" y="725.6" width="14.5" height="14.6" fill="#6a6a6a"/>
<rect x="695.2" y="725.6" width="14.5" height="14.6" fill="#808080"/>
<rect x="709.1" y="725.6" width="14.5" height="14.6" fill="#959595"/>
<rect x="723.1" y="725.6" width="14.5" height="14.6" fill="#bfbfbf"/>
<rect x="737.0" y="725.6" width="14.5" height="14.6" fill="#ffffff"/>
<rect x="750.9" y="725.6" width="14.5" height="14.6" fill="#ffffff"/>
<rect x="764.9" y="725.6" width="14.5" height="14.6" fill="#ffffff"/>
<rect x="778.8" y="725.6" width="14.5" height="14.6" fill="#ffffff"/>
<rect x="792.7" y="725.6" width="14.5" height="14.6" fill="#ffffff"/>
<rect x="806.7" y="725.6" width="14.5" height="14.6" fill="#ffffff"/>
<rect x="820.6" y="725.6" width="14.5" height="14.6" fill="#ffffff"/>
<rect x="834.5" y="725.6" width="14.5" height="14.6" fill="#ffffff"/>
<rect x="848.5" y="725.6" width="14.5" height="14.6" fill="#ffffff"/>
<rect x="862.4" y="725.6" width="14.5" height="14.6" fill="#ffffff"/>
<rect x="876.3" y="725.6" width="14.5" height="14.6" fill="#ffffff"/>
<rect x="890.3" y="725.6" width="14.5" height="14.6" fill="#ffffff"/>
<rect x="904.2" y="725.6" width="14.5" height="14.6" fill="#ffffff"/>
<rect x="918.1" y="725.6" width="14.5" height="14.6" fill="#ffffff"/>
<rect x="932.1" y="725.6" width="14.5" height="14.6" fill="#ffffff"/>
<rect x="946.0" y="725.6" width="14.5" height="14.6" fill="#ffffff"/>
<rect x="959.9" y="725.6" width="14.5" height="14.6" fill="#ffffff"/>
<rect x="500.1" y="739.5" width="14.5" height="14.6" fill="#2b2b2b"/>
<rect x="514.1" y="739.5" width="14.5" height="14.6" fill="#2b2b2b"/>
<rect x="528.0" y="739.5" width="14.5" height="14.6" fill="#2b2b2b"/>
<rect x="541.9" y="739.5" width="14.5" height="14.6" fill="#2b2b2b"/>
<rect x="555.9" y="739.5" width="14.5" height="14.6" fill="#2b2b2b"/>
<rect x="569.8" y="739.5" width="14.5" height="14.6" fill="#2b2b2b"/>
<rect x="583.7" y="739.5" width="14.5" height="14.6" fill="#808080"/>
<rect x="597.7" y="739.5" width="14.5" height="14.6" fill="#aaaaaa"/>
<rect x="611.6" y="739.5" width="14.5" height="14.6" fill="#aaaaaa"/>
<rect x="625.5" y="739.5" width="14.5" height="14.6" fill="#aaaaaa"/>
<rect x="639.5" y="739.5" width="14.5" height="14.6" fill="#aaaaaa"/>
<rect x="653.4" y="739.5" width="14.5" height="14.6" fill="#bfbfbf"/>
<rect x="667.3" y="739.5" width="14.5" height="14.6" fill="#bfbfbf"/>
<rect x="681.3" y="739.5" width="14.5" height="14.6" fill="#bfbfbf"/>
<rect x="695.2" y="739.5" width="14.5" height="14.6" fill="#bfbfbf"/>
<rect x="709.1" y="739.5" width="14.5" height="14.6" fill="#d4d4d4"/>
<rect x="723.1" y="739.5" width="14.5" height="14.6" fill="#ffffff"/>
<rect x="737.0" y="739.5" width="14.5" height="14.6" fill="#ffffff"/>
<rect x="750.9" y="739.5" width="14.5" height="14.6" fill="#ffffff"/>
<rect x="764.9" y="739.5" width="14.5" height="14.6" fill="#ffffff"/>
<rect x="778.8" y="739.5" width="14.5" height="14.6" fill="#ffffff"/>
<rect x="792.7" y="739.5" width="14.5" height="14.6" fill="#ffffff"/>
<rect x="806.7" y="739.5" width="14.5" height="14.6" fill="#ffffff"/>
<rect x="820.6" y="739.5" width="14.5" height="14.6" fill="#ffffff"/>
<rect x="834.5" y="739.5" width="14.5" height="14.6" fill="#ffffff"/>
<rect x="848.5" y="739.5" width="14.5" height="14.6" fill="#ffffff"/>
<rect x="862.4" y="739.5" width="14.5" height="14.6" fill="#ffffff"/>
<rect x="876.3" y="739.5" width="14.5" height="14.6" fill="#ffffff"/>
<rect x="890.3" y="739.5" width="14.5" height="14.6" fill="#ffffff"/>
<rect x="904.2" y="739.5" width="14.5" height="14.6" fill="#ffffff"/>
<rect x="918.1" y="739.5" width="14.5" height="14.6" fill="#ffffff"/>
<rect x="932.1" y="739.5" width="14.5" height="14.6" fill="#ffffff"/>
<rect x="946.0" y="739.5" width="14.5" height="14.6" fill="#ffffff"/>
<rect x="959.9" y="739.5" width="14.5" height="14.6" fill="#ffffff"/>
<rect x="500.1" y="753.5" width="14.5" height="14.6" fill="#2b2b2b"/>
<rect x="514.1" y="753.5" width="14.5" height="14.6" fill="#2b2b2b"/>
<rect x="528.0" y="753.5" width="14.5" height="14.6" fill="#2b2b2b"/>
<rect x="541.9" y="753.5" width="14.5" height="14.6" fill="#2b2b2b"/>
<rect x="555.9" y="753.5" width="14.5" height="14.6" fill="#2b2b2b"/>
<rect x="569.8" y="753.5" width="14.5" height="14.6" fill="#2b2b2b"/>
<rect x="583.7" y="753.5" width="14.5" height="14.6" fill="#bfbfbf"/>
<rect x="597.7" y="753.5" width="14.5" height="14.6" fill="#bfbfbf"/>
<rect x="611.6" y="753.5" width="14.5" height="14.6" fill="#bfbfbf"/>
<rect x="625.5" y="753.5" width="14.5" height="14.6" fill="#bfbfbf"/>
<rect x="639.5" y="753.5" width="14.5" height="14.6" fill="#bfbfbf"/>
<rect x="653.4" y="753.5" width="14.5" height="14.6" fill="#bfbfbf"/>
<rect x="667.3" y="753.5" width="14.5" height="14.6" fill="#bfbfbf"/>
<rect x="681.3" y="753.5" width="14.5" height="14.6" fill="#bfbfbf"/>
<rect x="695.2" y="753.5" width="14.5" height="14.6" fill="#bfbfbf"/>
<rect x="709.1" y="753.5" width="14.5" height="14.6" fill="#eaeaea"/>
<rect x="723.1" y="753.5" width="14.5" height="14.6" fill="#ffffff"/>
<rect x="737.0" y="753.5" width="14.5" height="14.6" fill="#ffffff"/>
<rect x="750.9" y="753.5" width="14.5" height="14.6" fill="#ffffff"/>
<rect x="764.9" y="753.5" width="14.5" height="14.6" fill="#ffffff"/>
<rect x="778.8" y="753.5" width="14.5" height="14.6" fill="#ffffff"/>
<rect x="792.7" y="753.5" width="14.5" height="14.6" fill="#ffffff"/>
<rect x="806.7" y="753.5" width="14.5" height="14.6" fill="#ffffff"/>
<rect x="820.6" y="753.5" width="14.5" height="14.6" fill="#ffffff"/>
<rect x="834.5" y="753.5" width="14.5" height="14.6" fill="#ffffff"/>
<rect x="848.5" y="753.5" width="14.5" height="14.6" fill="#ffffff"/>
<rect x="862.4" y="753.5" width="14.5" height="14.6" fill="#ffffff"/>
<rect x="876.3" y="753.5" width="14.5" height="14.6" fill="#ffffff"/>
<rect x="890.3" y="753.5" width="14.5" height="14.6" fill="#ffffff"/>
<rect x="904.2" y="753.5" width="14.5" height="14.6" fill="#ffffff"/>
<rect x="918.1" y="753.5" width="14.5" height="14.6" fill="#ffffff"/>
<rect x="932.1" y="753.5" width="14.5" height="14.6" fill="#ffffff"/>
<rect x="946.0" y="753.5" width="14.5" height="14.6" fill="#ffffff"/>
<rect x="959.9" y="753.5" width="14.5" height="14.6" fill="#ffffff"/>
<rect x="500.1" y="767.5" width="14.5" height="14.6" fill="#2b2b2b"/>
<rect x="514.1" y="767.5" width="14.5" height="14.6" fill="#2b2b2b"/>
<rect x="528.0" y="767.5" width="14.5" height="14.6" fill="#2b2b2b"/>
<rect x="541.9" y="767.5" width="14.5" height="14.6" fill="#2b2b2b"/>
<rect x="555.9" y="767.5" width="14.5" height="14.6" fill="#2b2b2b"/>
<rect x="569.8" y="767.5" width="14.5" height="14.6" fill="#2b2b2b"/>
<rect x="583.7" y="767.5" width="14.5" height="14.6" fill="#bfbfbf"/>
<rect x="597.7" y="767.5" width="14.5" height="14.6" fill="#bfbfbf"/>
<rect x="611.6" y="767.5" width="14.5" height="14.6" fill="#bfbfbf"/>
<rect x="625.5" y="767.5" width="14.5" height="14.6" fill="#bfbfbf"/>
<rect x="639.5" y="767.5" width="14.5" height="14.6" fill="#bfbfbf"/>
<rect x="653.4" y="767.5" width="14.5" height="14.6" fill="#bfbfbf"/>
<rect x="667.3" y="767.5" width="14.5" height="14.6" fill="#bfbfbf"/>
<rect x="681.3" y="767.5" width="14.5" height="14.6" fill="#bfbfbf"/>
<rect x="695.2" y="767.5" width="14.5" height="14.6" fill="#bfbfbf"/>
<rect x="709.1" y="767.5" width="14.5" height="14.6" fill="#eaeaea"/>
<rect x="723.1" y="767.5" width="14.5" height="14.6" fill="#ffffff"/>
<rect x="737.0" y="767.5" width="14.5" height="14.6" fill="#ffffff"/>
<rect x="750.9" y="767.5" width="14.5" height="14.6" fill="#ffffff"/>
<rect x="764.9" y="767.5" width="14.5" height="14.6" fill="#ffffff"/>
<rect x="778.8" y="767.5" width="14.5" height="14.6" fill="#ffffff"/>
<rect x="792.7" y="767.5" width="14.5" height="14.6" fill="#ffffff"/>
<rect x="806.7" y="767.5" width="14.5" height="14.6" fill="#ffffff"/>
<rect x="820.6" y="767.5" width="14.5" height="14.6" fill="#ffffff"/>
<rect x="834.5" y="767.5" width="14.5" height="14.6" fill="#ffffff"/>
<rect x="848.5" y="767.5" width="14.5" height="14.6" fill="#ffffff"/>
<rect x="862.4" y="767.5" width="14.5" height="14.6" fill="#ffffff"/>
<rect x="876.3" y="767.5" width="14.5" height="14.6" fill="#ffffff"/>
<rect x="890.3" y="767.5" width="14.5" height="14.6" fill="#ffffff"/>
<rect x="904.2" y="767.5" width="14.5" height="14.6" fill="#ffffff"/>
<rect x="918.1" y="767.5" width="14.5" height="14.6" fill="#ffffff"/>
<rect x="932.1" y="767.5" width="14.5" height="14.6" fill="#ffffff"/>
<rect x="946.0" y="767.5" width="14.5" height="14.6" fill="#ffffff"/>
<rect x="959.9" y="767.5" width="14.5" height="14.6" fill="#ffffff"/>
<rect x="500.1" y="781.5" width="14.5" height="14.6" fill="#2b2b2b"/>
<rect x="514.1" y="781.5" width="14.5" height="14.6" fill="#2b2b2b"/>
<rect x="528.0" y="781.5" width="14.5" height="14.6" fill="#2b2b2b"/>
<rect x="541.9" y="781.5" width="14.5" height="14.6" fill="#2b2b2b"/>
<rect x="555.9" y="781.5" width="14.5" height="14.6" fill="#2b2b2b"/>
<rect x="569.8" y="781.5" width="14.5" height="14.6" fill="#2b2b2b"/>
<rect x="583.7" y="781.5" width="14.5" height="14.6" fill="#bfbfbf"/>
<rect x="597.7" y="781.5" width="14.5" height="14.6" fill="#bfbfbf"/>
<rect x="611.6" y="781.5" width="14.5" height="14.6" fill="#bfbfbf"/>
<rect x="625.5" y="781.5" width="14.5" height="14.6" fill="#bfbfbf"/>
<rect x="639.5" y="781.5" width="14.5" height="14.6" fill="#bfbfbf"/>
<rect x="653.4" y="781.5" width="14.5" height="14.6" fill="#bfbfbf"/>
<rect x="667.3" y="781.5" width="14.5" height="14.6" fill="#bfbfbf"/>
<rect x="681.3" y="781.5" width="14.5" height="14.6" fill="#bfbfbf"/>
<rect x="695.2" y="781.5" width="14.5" height="14.6" fill="#bfbfbf"/>
<rect x="709.1" y="781.5" width="14.5" height="14.6" fill="#eaeaea"/>
<rect x="723.1" y="781.5" width="14.5" height="14.6" fill="#ffffff"/>
<rect x="737.0" y="781.5" width="14.5" height="14.6" fill="#ffffff"/>
<rect x="750.9" y="781.5" width="14.5" height="14.6" fill="#ffffff"/>
<rect x="764.9" y="781.5" width="14.5" height="14.6" fill="#ffffff"/>
<rect x="778.8" y="781.5" width="14.5" height="14.6" fill="#ffffff"/>
<rect x="792.7" y="781.5" width="14.5" height="14.6" fill="#ffffff"/>
<rect x="806.7" y="781.5" width="14.5" height="14.6" fill="#ffffff"/>
<rect x="820.6" y="781.5" width="14.5" height="14.6" fill="#ffffff"/>
<rect x="834.5" y="781.5" width="14.5" height="14.6" fill="#ffffff"/>
<rect x="848.5" y="781.5" width="14.5" height="14.6" fill="#ffffff"/>
<rect x="862.4" y="781.5" width="14.5" height="14.6" fill="#ffffff"/>
<rect x="876.3" y="781.5" width="14.5" height="14.6" fill="#ffffff"/>
<rect x="890.3" y="781.5" width="14.5" height="14.6" fill="#ffffff"/>
<rect x="904.2" y="781.5" width="14.5" height="14.6" fill="#ffffff"/>
<rect x="918.1" y="781.5" width="14.5" height="14.6" fill="#ffffff"/>
<rect x="932.1" y="781.5" width="14.5" height="14.6" fill="#ffffff"/>
<rect x="946.0" y="781.5" width="14.5" height="14.6" fill="#ffffff"/>
<rect x="959.9" y="781.5" width="14.5" height="14.6" fill="#ffffff"/>
</g>
<g filter="url(#sbD)">
<path d="M709 770L709 764.7L720 764.7L720 757.9L725.4 757.9L725.4 748.3L732.3 748.3L732.3 741.5L741.8 741.5L741.8 733.3L750 733.3L750 723.7L755.5 723.7L755.5 715.5L796.5 715.5L796.5 690.5L831.2 689.5L831.2 678.6L862.7 678.6L862.7 682.7L880.5 682.7L880.5 662.2L888.7 662.2L888.7 655.3L939.3 655.3L939.3 645.8L952 645.8L952 770Z" fill="#ffffff"/>
</g>
</g>
<path d="M526.92 482.20H533.90V776.20H526.92ZM533.90 482.20H540.88V776.20H533.90ZM540.88 482.20H547.86V776.20H540.88ZM547.86 482.20H554.84V776.20H547.86ZM554.84 482.20H561.82V776.20H554.84ZM561.82 482.20H568.80V776.20H561.82ZM568.80 482.20H575.78V776.20H568.80ZM575.78 482.20H582.76V776.20H575.78ZM582.76 482.20H589.74V776.20H582.76ZM589.74 482.20H596.72V762.20H589.74ZM596.72 482.20H603.70V720.20H596.72ZM603.70 482.20H610.68V685.20H603.70ZM610.68 482.20H617.66V636.20H610.68ZM617.66 482.20H624.64V587.20H617.66ZM624.64 482.20H631.62V545.20H624.64ZM631.62 482.20H638.60V503.20H631.62ZM638.60 482.20H645.58V496.20H638.60ZM645.58 496.20H652.56V510.20H645.58ZM652.56 496.20H659.54V510.20H652.56ZM701.42 482.20H708.40V496.20H701.42ZM708.40 482.20H715.38V496.20H708.40ZM715.38 482.20H722.36V496.20H715.38ZM722.36 482.20H729.34V503.20H722.36ZM729.34 482.20H736.32V510.20H729.34ZM736.32 482.20H743.30V510.20H736.32ZM743.30 482.20H750.28V510.20H743.30ZM764.24 706.20H771.22V720.20H764.24ZM771.22 706.20H778.20V720.20H771.22ZM792.16 531.20H799.14V545.20H792.16ZM792.16 566.20H799.14V580.20H792.16ZM799.14 517.20H806.12V552.20H799.14ZM799.14 566.20H806.12V580.20H799.14ZM806.12 517.20H813.10V559.20H806.12ZM813.10 517.20H820.08V566.20H813.10ZM820.08 524.20H827.06V573.20H820.08ZM827.06 524.20H834.04V573.20H827.06ZM834.04 524.20H841.02V573.20H834.04ZM841.02 524.20H848.00V573.20H841.02ZM848.00 531.20H854.98V545.20H848.00ZM848.00 552.20H854.98V566.20H848.00ZM854.98 538.20H861.96V552.20H854.98ZM861.96 538.20H868.94V552.20H861.96Z" fill="#fff"/>
</g>
<path d="M627.6 488.0L630.4 502.0L627.6 509.7L634.6 512.5L644.3 502.7L659.0 504.1L664.5 508.3L663.2 515.3L667.3 525.0L659.0 542.5L661.8 559.3L654.1 569.8L641.6 572.5L640.2 582.3L630.4 585.1L623.4 596.3L622.0 611.0L624.8 626.4L624.1 627.8L611.6 645.9L602.5 647.3L601.8 652.2L580.2 657.1L576.1 664.8L581.6 677.4L573.3 685.0L555.2 683.7L551.0 686.4L553.1 704.6L546.1 706.0L528.0 707.4M541.9 767.5L552.4 759.1L562.8 753.5L571.9 747.2L580.2 740.9L587.9 741.6L596.3 737.5L604.6 733.3L615.8 737.5L626.2 729.1L631.8 731.9L644.3 729.1L645.7 715.1L651.3 716.5L656.2 723.5L664.5 720.7L668.0 713.0L682.0 715.1L695.2 710.2L713.3 708.8L725.2 699.0L730.7 707.4L737.7 704.6L739.1 687.8L742.6 669.0L736.3 662.0L742.6 655.7L750.9 662.7L757.2 673.2L763.5 685.0L776.0 687.8L780.2 669.0L771.8 641.7L776.0 630.5L787.2 645.9L795.5 659.2L804.6 662.0L808.1 673.2L822.0 659.2L842.2 648.7L860.3 640.3L856.8 656.4L868.0 657.1L879.1 648.7L895.8 638.9L903.5 648.7L914.6 651.5L924.4 634.7L933.5 644.5L944.6 640.3L946.0 634.7M836.6 489.4L831.0 502.0L819.2 509.7L819.2 513.9L835.2 522.2L856.1 518.0L869.4 513.9L880.5 508.3L902.1 504.1L914.6 511.1L925.8 519.4L933.5 518.0L931.4 508.3L930.0 496.4L937.6 490.8L944.6 493.6L946.0 492.9M719.6 488.0L722.4 495.0L735.6 492.2L737.0 488.0M594.9 488.0L595.6 492.2L603.9 491.5L603.9 488.0M659.0 504.1L667.3 505.5L678.5 499.2L679.9 492.2L674.3 488.0M559.4 767.5L557.3 760.5L554.5 753.5L548.9 747.9L545.4 740.9L551.0 736.1L553.1 746.5L559.4 750.0L566.3 752.1M757.9 683.7L764.9 690.6L771.8 694.1L768.4 701.1L757.9 697.6L757.9 683.7M792.7 676.7L803.2 680.2L810.1 683.7L803.2 687.1L792.7 683.7L792.7 676.7M709.1 715.1L719.6 718.6L723.1 725.6L716.1 729.1L709.1 725.6L709.1 715.1" fill="none" stroke="#8a8a8a" stroke-width="0.9" clip-path="url(#clipD)"/>
<line x1="528.00" y1="488" x2="528.00" y2="484" stroke="#000" stroke-width="1"/>
<line x1="528.00" y1="767.5" x2="528.00" y2="771.5" stroke="#000" stroke-width="1"/>
<text x="528.0" y="784.5" font-family="Liberation Serif" font-size="9" fill="#000" text-anchor="middle" font-weight="bold" >110</text>
<line x1="562.83" y1="488" x2="562.83" y2="485" stroke="#000" stroke-width="1"/>
<line x1="562.83" y1="767.5" x2="562.83" y2="770.5" stroke="#000" stroke-width="1"/>
<line x1="597.67" y1="488" x2="597.67" y2="484" stroke="#000" stroke-width="1"/>
<line x1="597.67" y1="767.5" x2="597.67" y2="771.5" stroke="#000" stroke-width="1"/>
<text x="597.7" y="784.5" font-family="Liberation Serif" font-size="9" fill="#000" text-anchor="middle" font-weight="bold" >111</text>
<line x1="632.50" y1="488" x2="632.50" y2="485" stroke="#000" stroke-width="1"/>
<line x1="632.50" y1="767.5" x2="632.50" y2="770.5" stroke="#000" stroke-width="1"/>
<line x1="667.33" y1="488" x2="667.33" y2="484" stroke="#000" stroke-width="1"/>
<line x1="667.33" y1="767.5" x2="667.33" y2="771.5" stroke="#000" stroke-width="1"/>
<text x="667.3" y="784.5" font-family="Liberation Serif" font-size="9" fill="#000" text-anchor="middle" font-weight="bold" >112</text>
<line x1="702.17" y1="488" x2="702.17" y2="485" stroke="#000" stroke-width="1"/>
<line x1="702.17" y1="767.5" x2="702.17" y2="770.5" stroke="#000" stroke-width="1"/>
<line x1="737.00" y1="488" x2="737.00" y2="484" stroke="#000" stroke-width="1"/>
<line x1="737.00" y1="767.5" x2="737.00" y2="771.5" stroke="#000" stroke-width="1"/>
<text x="737.0" y="784.5" font-family="Liberation Serif" font-size="9" fill="#000" text-anchor="middle" font-weight="bold" >113</text>
<line x1="771.83" y1="488" x2="771.83" y2="485" stroke="#000" stroke-width="1"/>
<line x1="771.83" y1="767.5" x2="771.83" y2="770.5" stroke="#000" stroke-width="1"/>
<line x1="806.67" y1="488" x2="806.67" y2="484" stroke="#000" stroke-width="1"/>
<line x1="806.67" y1="767.5" x2="806.67" y2="771.5" stroke="#000" stroke-width="1"/>
<text x="806.7" y="784.5" font-family="Liberation Serif" font-size="9" fill="#000" text-anchor="middle" font-weight="bold" >114</text>
<line x1="841.50" y1="488" x2="841.50" y2="485" stroke="#000" stroke-width="1"/>
<line x1="841.50" y1="767.5" x2="841.50" y2="770.5" stroke="#000" stroke-width="1"/>
<line x1="876.33" y1="488" x2="876.33" y2="484" stroke="#000" stroke-width="1"/>
<line x1="876.33" y1="767.5" x2="876.33" y2="771.5" stroke="#000" stroke-width="1"/>
<text x="876.3" y="784.5" font-family="Liberation Serif" font-size="9" fill="#000" text-anchor="middle" font-weight="bold" >115</text>
<line x1="911.17" y1="488" x2="911.17" y2="485" stroke="#000" stroke-width="1"/>
<line x1="911.17" y1="767.5" x2="911.17" y2="770.5" stroke="#000" stroke-width="1"/>
<line x1="946.00" y1="488" x2="946.00" y2="484" stroke="#000" stroke-width="1"/>
<line x1="946.00" y1="767.5" x2="946.00" y2="771.5" stroke="#000" stroke-width="1"/>
<text x="946.0" y="784.5" font-family="Liberation Serif" font-size="9" fill="#000" text-anchor="middle" font-weight="bold" >116</text>
<line x1="528" y1="767.50" x2="524" y2="767.50" stroke="#000" stroke-width="1"/>
<line x1="946" y1="767.50" x2="950" y2="767.50" stroke="#000" stroke-width="1"/>
<text x="521.0" y="770.7" font-family="Liberation Serif" font-size="9" fill="#000" text-anchor="end" font-weight="bold" >21</text>
<line x1="528" y1="732.56" x2="525" y2="732.56" stroke="#000" stroke-width="1"/>
<line x1="946" y1="732.56" x2="949" y2="732.56" stroke="#000" stroke-width="1"/>
<line x1="528" y1="697.62" x2="524" y2="697.62" stroke="#000" stroke-width="1"/>
<line x1="946" y1="697.62" x2="950" y2="697.62" stroke="#000" stroke-width="1"/>
<text x="521.0" y="700.8" font-family="Liberation Serif" font-size="9" fill="#000" text-anchor="end" font-weight="bold" >22</text>
<line x1="528" y1="662.69" x2="525" y2="662.69" stroke="#000" stroke-width="1"/>
<line x1="946" y1="662.69" x2="949" y2="662.69" stroke="#000" stroke-width="1"/>
<line x1="528" y1="627.75" x2="524" y2="627.75" stroke="#000" stroke-width="1"/>
<line x1="946" y1="627.75" x2="950" y2="627.75" stroke="#000" stroke-width="1"/>
<text x="521.0" y="631.0" font-family="Liberation Serif" font-size="9" fill="#000" text-anchor="end" font-weight="bold" >23</text>
<line x1="528" y1="592.81" x2="525" y2="592.81" stroke="#000" stroke-width="1"/>
<line x1="946" y1="592.81" x2="949" y2="592.81" stroke="#000" stroke-width="1"/>
<line x1="528" y1="557.88" x2="524" y2="557.88" stroke="#000" stroke-width="1"/>
<line x1="946" y1="557.88" x2="950" y2="557.88" stroke="#000" stroke-width="1"/>
<text x="521.0" y="561.1" font-family="Liberation Serif" font-size="9" fill="#000" text-anchor="end" font-weight="bold" >24</text>
<line x1="528" y1="522.94" x2="525" y2="522.94" stroke="#000" stroke-width="1"/>
<line x1="946" y1="522.94" x2="949" y2="522.94" stroke="#000" stroke-width="1"/>
<line x1="528" y1="488.00" x2="524" y2="488.00" stroke="#000" stroke-width="1"/>
<line x1="946" y1="488.00" x2="950" y2="488.00" stroke="#000" stroke-width="1"/>
<text x="521.0" y="491.2" font-family="Liberation Serif" font-size="9" fill="#000" text-anchor="end" font-weight="bold" >25</text>
<rect x="528" y="488" width="418.00" height="279.50" fill="none" stroke="#000" stroke-width="1.6"/>
<text x="633.0" y="474.0" font-family="Liberation Serif" font-size="10" fill="#000" text-anchor="start" font-weight="normal" textLength="313" lengthAdjust="spacingAndGlyphs">20081215022700 UTC HK-AOD (111, 116, 21, 25) mn=0.00 mx=5.16</text>
<linearGradient id="cb963" x1="0" y1="0" x2="0" y2="1"><stop offset="0" stop-color="#8b0000"/><stop offset="0.125" stop-color="#ff0000"/><stop offset="0.375" stop-color="#ffff00"/><stop offset="0.625" stop-color="#00ffff"/><stop offset="0.875" stop-color="#0000ff"/><stop offset="1" stop-color="#00008b"/></linearGradient>
<rect x="963.5" y="534.5" width="19.5" height="233.00" fill="url(#cb963)"/>
<line x1="983" y1="767.50" x2="987" y2="767.50" stroke="#000" stroke-width="1"/>
<text x="992.0" y="770.7" font-family="Liberation Serif" font-size="9" fill="#000" text-anchor="start" font-weight="normal" >0.0</text>
<line x1="983" y1="748.08" x2="986" y2="748.08" stroke="#000" stroke-width="1"/>
<line x1="983" y1="728.67" x2="987" y2="728.67" stroke="#000" stroke-width="1"/>
<text x="992.0" y="731.9" font-family="Liberation Serif" font-size="9" fill="#000" text-anchor="start" font-weight="normal" >0.2</text>
<line x1="983" y1="709.25" x2="986" y2="709.25" stroke="#000" stroke-width="1"/>
<line x1="983" y1="689.83" x2="987" y2="689.83" stroke="#000" stroke-width="1"/>
<text x="992.0" y="693.0" font-family="Liberation Serif" font-size="9" fill="#000" text-anchor="start" font-weight="normal" >0.4</text>
<line x1="983" y1="670.42" x2="986" y2="670.42" stroke="#000" stroke-width="1"/>
<line x1="983" y1="651.00" x2="987" y2="651.00" stroke="#000" stroke-width="1"/>
<text x="992.0" y="654.2" font-family="Liberation Serif" font-size="9" fill="#000" text-anchor="start" font-weight="normal" >0.6</text>
<line x1="983" y1="631.58" x2="986" y2="631.58" stroke="#000" stroke-width="1"/>
<line x1="983" y1="612.17" x2="987" y2="612.17" stroke="#000" stroke-width="1"/>
<text x="992.0" y="615.4" font-family="Liberation Serif" font-size="9" fill="#000" text-anchor="start" font-weight="normal" >0.8</text>
<line x1="983" y1="592.75" x2="986" y2="592.75" stroke="#000" stroke-width="1"/>
<line x1="983" y1="573.33" x2="987" y2="573.33" stroke="#000" stroke-width="1"/>
<text x="992.0" y="576.5" font-family="Liberation Serif" font-size="9" fill="#000" text-anchor="start" font-weight="normal" >1.0</text>
<line x1="983" y1="553.92" x2="986" y2="553.92" stroke="#000" stroke-width="1"/>
<line x1="983" y1="534.50" x2="987" y2="534.50" stroke="#000" stroke-width="1"/>
<text x="992.0" y="537.7" font-family="Liberation Serif" font-size="9" fill="#000" text-anchor="start" font-weight="normal" >1.2</text>
<line x1="983" y1="534.5" x2="983" y2="767.5" stroke="#000" stroke-width="1"/>
<text transform="translate(1010,651) rotate(90)" font-family="Liberation Serif" font-size="11.5" text-anchor="middle" textLength="142" lengthAdjust="spacingAndGlyphs">Aerosol Optical Depth</text>
<rect x="588" y="35" width="396.5" height="375" fill="#000"/>
<path d="M784.4 78.0h4.55v4.55h-4.55zM806.4 78.0h4.55v4.55h-4.55zM802.0 82.4h4.55v4.55h-4.55zM784.4 86.8h4.55v4.55h-4.55zM802.0 86.8h4.55v4.55h-4.55zM819.6 86.8h4.55v4.55h-4.55zM771.2 91.2h4.55v4.55h-4.55zM775.6 91.2h4.55v4.55h-4.55zM771.2 104.4h4.55v4.55h-4.55zM784.4 104.4h4.55v4.55h-4.55zM793.2 113.2h4.55v4.55h-4.55zM810.8 113.2h4.55v4.55h-4.55zM784.4 117.6h4.55v4.55h-4.55zM749.2 130.8h4.55v4.55h-4.55zM788.8 139.6h4.55v4.55h-4.55zM797.6 144.0h4.55v4.55h-4.55zM802.0 152.8h4.55v4.55h-4.55zM815.2 152.8h4.55v4.55h-4.55zM775.6 157.2h4.55v4.55h-4.55zM802.0 157.2h4.55v4.55h-4.55zM771.2 166.0h4.55v4.55h-4.55zM766.8 170.4h4.55v4.55h-4.55zM784.4 170.4h4.55v4.55h-4.55zM797.6 170.4h4.55v4.55h-4.55zM806.4 170.4h4.55v4.55h-4.55zM788.8 179.2h4.55v4.55h-4.55zM749.2 183.6h4.55v4.55h-4.55zM744.8 188.0h4.55v4.55h-4.55zM762.4 188.0h4.55v4.55h-4.55zM766.8 188.0h4.55v4.55h-4.55zM780.0 188.0h4.55v4.55h-4.55zM788.8 188.0h4.55v4.55h-4.55zM744.8 192.4h4.55v4.55h-4.55zM810.8 196.8h4.55v4.55h-4.55zM753.6 201.2h4.55v4.55h-4.55zM815.2 205.6h4.55v4.55h-4.55zM722.8 210.0h4.55v4.55h-4.55zM727.2 210.0h4.55v4.55h-4.55zM731.6 210.0h4.55v4.55h-4.55zM802.0 218.8h4.55v4.55h-4.55zM705.2 223.2h4.55v4.55h-4.55zM722.8 223.2h4.55v4.55h-4.55zM736.0 223.2h4.55v4.55h-4.55zM771.2 223.2h4.55v4.55h-4.55zM806.4 223.2h4.55v4.55h-4.55zM709.6 227.6h4.55v4.55h-4.55zM766.8 227.6h4.55v4.55h-4.55zM731.6 232.0h4.55v4.55h-4.55zM784.4 236.4h4.55v4.55h-4.55zM824.0 236.4h4.55v4.55h-4.55zM705.2 240.8h4.55v4.55h-4.55zM815.2 240.8h4.55v4.55h-4.55zM832.8 245.2h4.55v4.55h-4.55zM797.6 249.6h4.55v4.55h-4.55zM806.4 249.6h4.55v4.55h-4.55zM692.0 254.0h4.55v4.55h-4.55zM780.0 254.0h4.55v4.55h-4.55zM810.8 254.0h4.55v4.55h-4.55zM837.2 254.0h4.55v4.55h-4.55zM731.6 258.4h4.55v4.55h-4.55zM749.2 258.4h4.55v4.55h-4.55zM762.4 258.4h4.55v4.55h-4.55zM819.6 258.4h4.55v4.55h-4.55zM762.4 262.8h4.55v4.55h-4.55zM687.6 267.2h4.55v4.55h-4.55zM824.0 267.2h4.55v4.55h-4.55zM692.0 271.6h4.55v4.55h-4.55zM832.8 271.6h4.55v4.55h-4.55zM810.8 276.0h4.55v4.55h-4.55zM815.2 276.0h4.55v4.55h-4.55zM692.0 280.4h4.55v4.55h-4.55zM793.2 280.4h4.55v4.55h-4.55zM810.8 280.4h4.55v4.55h-4.55zM771.2 284.8h4.55v4.55h-4.55zM696.4 289.2h4.55v4.55h-4.55zM793.2 289.2h4.55v4.55h-4.55z" fill="#0e2e60"/>
<path d="M793.2 78.0h4.55v4.55h-4.55zM784.4 82.4h4.55v4.55h-4.55zM797.6 82.4h4.55v4.55h-4.55zM797.6 95.6h4.55v4.55h-4.55zM837.2 95.6h4.55v4.55h-4.55zM819.6 104.4h4.55v4.55h-4.55zM854.8 104.4h4.55v4.55h-4.55zM788.8 108.8h4.55v4.55h-4.55zM784.4 113.2h4.55v4.55h-4.55zM806.4 113.2h4.55v4.55h-4.55zM788.8 117.6h4.55v4.55h-4.55zM788.8 122.0h4.55v4.55h-4.55zM824.0 126.4h4.55v4.55h-4.55zM784.4 130.8h4.55v4.55h-4.55zM793.2 135.2h4.55v4.55h-4.55zM780.0 144.0h4.55v4.55h-4.55zM806.4 144.0h4.55v4.55h-4.55zM824.0 166.0h4.55v4.55h-4.55zM775.6 170.4h4.55v4.55h-4.55zM824.0 170.4h4.55v4.55h-4.55zM780.0 174.8h4.55v4.55h-4.55zM793.2 174.8h4.55v4.55h-4.55zM868.0 174.8h4.55v4.55h-4.55zM815.2 179.2h4.55v4.55h-4.55zM859.2 179.2h4.55v4.55h-4.55zM797.6 188.0h4.55v4.55h-4.55zM815.2 188.0h4.55v4.55h-4.55zM876.8 188.0h4.55v4.55h-4.55zM815.2 196.8h4.55v4.55h-4.55zM793.2 201.2h4.55v4.55h-4.55zM784.4 205.6h4.55v4.55h-4.55zM868.0 205.6h4.55v4.55h-4.55zM828.4 218.8h4.55v4.55h-4.55zM736.0 227.6h4.55v4.55h-4.55zM810.8 227.6h4.55v4.55h-4.55zM696.4 232.0h4.55v4.55h-4.55zM766.8 232.0h4.55v4.55h-4.55zM718.4 236.4h4.55v4.55h-4.55zM832.8 236.4h4.55v4.55h-4.55zM736.0 240.8h4.55v4.55h-4.55zM810.8 240.8h4.55v4.55h-4.55zM828.4 245.2h4.55v4.55h-4.55zM797.6 254.0h4.55v4.55h-4.55zM819.6 254.0h4.55v4.55h-4.55zM744.8 258.4h4.55v4.55h-4.55zM766.8 258.4h4.55v4.55h-4.55zM788.8 258.4h4.55v4.55h-4.55zM832.8 258.4h4.55v4.55h-4.55zM705.2 267.2h4.55v4.55h-4.55zM766.8 267.2h4.55v4.55h-4.55zM819.6 267.2h4.55v4.55h-4.55zM797.6 271.6h4.55v4.55h-4.55zM705.2 276.0h4.55v4.55h-4.55zM753.6 276.0h4.55v4.55h-4.55zM758.0 276.0h4.55v4.55h-4.55zM678.8 280.4h4.55v4.55h-4.55zM722.8 280.4h4.55v4.55h-4.55zM744.8 280.4h4.55v4.55h-4.55zM876.8 280.4h4.55v4.55h-4.55zM780.0 284.8h4.55v4.55h-4.55zM793.2 284.8h4.55v4.55h-4.55zM841.6 284.8h4.55v4.55h-4.55zM859.2 284.8h4.55v4.55h-4.55zM687.6 293.6h4.55v4.55h-4.55zM736.0 293.6h4.55v4.55h-4.55zM797.6 293.6h4.55v4.55h-4.55zM722.8 298.0h4.55v4.55h-4.55zM793.2 298.0h4.55v4.55h-4.55z" fill="#0e4a3a"/>
<path d="M819.6 78.0h4.55v4.55h-4.55zM841.6 78.0h4.55v4.55h-4.55zM854.8 78.0h4.55v4.55h-4.55zM881.2 78.0h4.55v4.55h-4.55zM885.6 78.0h4.55v4.55h-4.55zM903.2 78.0h4.55v4.55h-4.55zM824.0 82.4h4.55v4.55h-4.55zM832.8 82.4h4.55v4.55h-4.55zM850.4 82.4h4.55v4.55h-4.55zM881.2 82.4h4.55v4.55h-4.55zM903.2 82.4h4.55v4.55h-4.55zM885.6 86.8h4.55v4.55h-4.55zM903.2 86.8h4.55v4.55h-4.55zM907.6 86.8h4.55v4.55h-4.55zM854.8 91.2h4.55v4.55h-4.55zM868.0 91.2h4.55v4.55h-4.55zM872.4 91.2h4.55v4.55h-4.55zM876.8 91.2h4.55v4.55h-4.55zM881.2 91.2h4.55v4.55h-4.55zM824.0 95.6h4.55v4.55h-4.55zM854.8 95.6h4.55v4.55h-4.55zM876.8 95.6h4.55v4.55h-4.55zM890.0 95.6h4.55v4.55h-4.55zM898.8 95.6h4.55v4.55h-4.55zM863.6 100.0h4.55v4.55h-4.55zM824.0 104.4h4.55v4.55h-4.55zM850.4 104.4h4.55v4.55h-4.55zM863.6 104.4h4.55v4.55h-4.55zM912.0 104.4h4.55v4.55h-4.55zM832.8 108.8h4.55v4.55h-4.55zM837.2 108.8h4.55v4.55h-4.55zM841.6 108.8h4.55v4.55h-4.55zM863.6 108.8h4.55v4.55h-4.55zM881.2 108.8h4.55v4.55h-4.55zM885.6 108.8h4.55v4.55h-4.55zM828.4 113.2h4.55v4.55h-4.55zM832.8 113.2h4.55v4.55h-4.55zM859.2 113.2h4.55v4.55h-4.55zM898.8 113.2h4.55v4.55h-4.55zM912.0 113.2h4.55v4.55h-4.55zM841.6 117.6h4.55v4.55h-4.55zM850.4 117.6h4.55v4.55h-4.55zM890.0 117.6h4.55v4.55h-4.55zM912.0 117.6h4.55v4.55h-4.55zM846.0 122.0h4.55v4.55h-4.55zM903.2 122.0h4.55v4.55h-4.55zM819.6 126.4h4.55v4.55h-4.55zM828.4 126.4h4.55v4.55h-4.55zM868.0 126.4h4.55v4.55h-4.55zM912.0 126.4h4.55v4.55h-4.55zM916.4 126.4h4.55v4.55h-4.55zM850.4 130.8h4.55v4.55h-4.55zM854.8 130.8h4.55v4.55h-4.55zM885.6 130.8h4.55v4.55h-4.55zM898.8 130.8h4.55v4.55h-4.55zM841.6 135.2h4.55v4.55h-4.55zM854.8 135.2h4.55v4.55h-4.55zM890.0 135.2h4.55v4.55h-4.55zM912.0 135.2h4.55v4.55h-4.55zM832.8 139.6h4.55v4.55h-4.55zM846.0 139.6h4.55v4.55h-4.55zM903.2 139.6h4.55v4.55h-4.55zM912.0 139.6h4.55v4.55h-4.55zM837.2 144.0h4.55v4.55h-4.55zM859.2 144.0h4.55v4.55h-4.55zM885.6 144.0h4.55v4.55h-4.55zM819.6 148.4h4.55v4.55h-4.55zM828.4 152.8h4.55v4.55h-4.55zM832.8 152.8h4.55v4.55h-4.55zM894.4 152.8h4.55v4.55h-4.55zM907.6 152.8h4.55v4.55h-4.55zM912.0 152.8h4.55v4.55h-4.55zM819.6 157.2h4.55v4.55h-4.55zM854.8 157.2h4.55v4.55h-4.55zM832.8 161.6h4.55v4.55h-4.55zM854.8 161.6h4.55v4.55h-4.55zM859.2 161.6h4.55v4.55h-4.55zM863.6 161.6h4.55v4.55h-4.55zM894.4 161.6h4.55v4.55h-4.55zM841.6 166.0h4.55v4.55h-4.55zM850.4 166.0h4.55v4.55h-4.55zM859.2 166.0h4.55v4.55h-4.55zM876.8 166.0h4.55v4.55h-4.55zM912.0 166.0h4.55v4.55h-4.55zM916.4 166.0h4.55v4.55h-4.55zM819.6 170.4h4.55v4.55h-4.55zM841.6 170.4h4.55v4.55h-4.55zM854.8 170.4h4.55v4.55h-4.55zM912.0 170.4h4.55v4.55h-4.55zM819.6 174.8h4.55v4.55h-4.55zM854.8 174.8h4.55v4.55h-4.55zM859.2 174.8h4.55v4.55h-4.55zM863.6 174.8h4.55v4.55h-4.55zM881.2 174.8h4.55v4.55h-4.55zM894.4 174.8h4.55v4.55h-4.55zM912.0 174.8h4.55v4.55h-4.55zM819.6 179.2h4.55v4.55h-4.55zM828.4 179.2h4.55v4.55h-4.55zM846.0 179.2h4.55v4.55h-4.55zM850.4 179.2h4.55v4.55h-4.55zM854.8 179.2h4.55v4.55h-4.55zM876.8 179.2h4.55v4.55h-4.55zM819.6 183.6h4.55v4.55h-4.55zM890.0 183.6h4.55v4.55h-4.55zM859.2 192.4h4.55v4.55h-4.55zM832.8 196.8h4.55v4.55h-4.55zM872.4 196.8h4.55v4.55h-4.55zM876.8 196.8h4.55v4.55h-4.55zM894.4 196.8h4.55v4.55h-4.55zM907.6 196.8h4.55v4.55h-4.55zM916.4 196.8h4.55v4.55h-4.55zM832.8 201.2h4.55v4.55h-4.55zM841.6 201.2h4.55v4.55h-4.55zM868.0 201.2h4.55v4.55h-4.55zM890.0 201.2h4.55v4.55h-4.55zM898.8 201.2h4.55v4.55h-4.55zM824.0 205.6h4.55v4.55h-4.55zM828.4 205.6h4.55v4.55h-4.55zM850.4 205.6h4.55v4.55h-4.55zM810.8 210.0h4.55v4.55h-4.55zM815.2 210.0h4.55v4.55h-4.55zM819.6 210.0h4.55v4.55h-4.55zM832.8 210.0h4.55v4.55h-4.55zM824.0 214.4h4.55v4.55h-4.55zM837.2 214.4h4.55v4.55h-4.55zM841.6 214.4h4.55v4.55h-4.55zM863.6 214.4h4.55v4.55h-4.55zM868.0 214.4h4.55v4.55h-4.55zM876.8 214.4h4.55v4.55h-4.55zM881.2 214.4h4.55v4.55h-4.55zM890.0 214.4h4.55v4.55h-4.55zM898.8 214.4h4.55v4.55h-4.55zM832.8 218.8h4.55v4.55h-4.55zM815.2 223.2h4.55v4.55h-4.55zM832.8 223.2h4.55v4.55h-4.55zM837.2 223.2h4.55v4.55h-4.55zM863.6 223.2h4.55v4.55h-4.55zM894.4 223.2h4.55v4.55h-4.55zM898.8 223.2h4.55v4.55h-4.55zM912.0 223.2h4.55v4.55h-4.55zM916.4 223.2h4.55v4.55h-4.55zM841.6 227.6h4.55v4.55h-4.55zM881.2 227.6h4.55v4.55h-4.55zM907.6 227.6h4.55v4.55h-4.55zM810.8 232.0h4.55v4.55h-4.55zM846.0 232.0h4.55v4.55h-4.55zM850.4 232.0h4.55v4.55h-4.55zM894.4 232.0h4.55v4.55h-4.55zM907.6 232.0h4.55v4.55h-4.55zM912.0 232.0h4.55v4.55h-4.55zM841.6 236.4h4.55v4.55h-4.55zM868.0 236.4h4.55v4.55h-4.55zM898.8 236.4h4.55v4.55h-4.55zM837.2 240.8h4.55v4.55h-4.55zM872.4 240.8h4.55v4.55h-4.55zM872.4 245.2h4.55v4.55h-4.55zM824.0 249.6h4.55v4.55h-4.55zM863.6 249.6h4.55v4.55h-4.55zM890.0 249.6h4.55v4.55h-4.55zM903.2 249.6h4.55v4.55h-4.55zM850.4 254.0h4.55v4.55h-4.55zM828.4 258.4h4.55v4.55h-4.55zM850.4 258.4h4.55v4.55h-4.55zM854.8 258.4h4.55v4.55h-4.55zM876.8 258.4h4.55v4.55h-4.55zM885.6 258.4h4.55v4.55h-4.55zM890.0 258.4h4.55v4.55h-4.55zM846.0 262.8h4.55v4.55h-4.55zM859.2 262.8h4.55v4.55h-4.55zM885.6 262.8h4.55v4.55h-4.55zM898.8 262.8h4.55v4.55h-4.55zM903.2 262.8h4.55v4.55h-4.55zM912.0 262.8h4.55v4.55h-4.55zM837.2 267.2h4.55v4.55h-4.55zM859.2 267.2h4.55v4.55h-4.55zM912.0 267.2h4.55v4.55h-4.55zM863.6 271.6h4.55v4.55h-4.55zM876.8 271.6h4.55v4.55h-4.55zM885.6 271.6h4.55v4.55h-4.55zM907.6 271.6h4.55v4.55h-4.55zM859.2 276.0h4.55v4.55h-4.55zM898.8 276.0h4.55v4.55h-4.55zM916.4 276.0h4.55v4.55h-4.55zM846.0 280.4h4.55v4.55h-4.55zM872.4 280.4h4.55v4.55h-4.55zM881.2 280.4h4.55v4.55h-4.55zM894.4 280.4h4.55v4.55h-4.55zM898.8 280.4h4.55v4.55h-4.55zM837.2 284.8h4.55v4.55h-4.55zM854.8 284.8h4.55v4.55h-4.55zM868.0 284.8h4.55v4.55h-4.55zM876.8 284.8h4.55v4.55h-4.55zM885.6 284.8h4.55v4.55h-4.55zM894.4 284.8h4.55v4.55h-4.55zM797.6 289.2h4.55v4.55h-4.55zM802.0 289.2h4.55v4.55h-4.55zM806.4 289.2h4.55v4.55h-4.55zM819.6 289.2h4.55v4.55h-4.55zM828.4 289.2h4.55v4.55h-4.55zM832.8 289.2h4.55v4.55h-4.55zM841.6 289.2h4.55v4.55h-4.55zM846.0 289.2h4.55v4.55h-4.55zM665.6 293.6h4.55v4.55h-4.55zM674.4 293.6h4.55v4.55h-4.55zM696.4 293.6h4.55v4.55h-4.55zM700.8 293.6h4.55v4.55h-4.55zM705.2 293.6h4.55v4.55h-4.55zM714.0 293.6h4.55v4.55h-4.55zM718.4 293.6h4.55v4.55h-4.55zM731.6 293.6h4.55v4.55h-4.55zM740.4 293.6h4.55v4.55h-4.55zM744.8 293.6h4.55v4.55h-4.55zM749.2 293.6h4.55v4.55h-4.55zM758.0 293.6h4.55v4.55h-4.55zM766.8 293.6h4.55v4.55h-4.55zM775.6 293.6h4.55v4.55h-4.55zM788.8 293.6h4.55v4.55h-4.55zM793.2 293.6h4.55v4.55h-4.55zM802.0 293.6h4.55v4.55h-4.55zM810.8 293.6h4.55v4.55h-4.55zM859.2 293.6h4.55v4.55h-4.55zM876.8 293.6h4.55v4.55h-4.55zM714.0 298.0h4.55v4.55h-4.55zM736.0 298.0h4.55v4.55h-4.55zM740.4 298.0h4.55v4.55h-4.55zM744.8 298.0h4.55v4.55h-4.55zM758.0 298.0h4.55v4.55h-4.55zM762.4 298.0h4.55v4.55h-4.55zM766.8 298.0h4.55v4.55h-4.55zM846.0 298.0h4.55v4.55h-4.55zM850.4 298.0h4.55v4.55h-4.55zM903.2 298.0h4.55v4.55h-4.55zM916.4 298.0h4.55v4.55h-4.55zM700.8 302.4h4.55v4.55h-4.55zM775.6 302.4h4.55v4.55h-4.55zM780.0 302.4h4.55v4.55h-4.55zM802.0 302.4h4.55v4.55h-4.55zM700.8 306.8h4.55v4.55h-4.55zM718.4 306.8h4.55v4.55h-4.55zM766.8 306.8h4.55v4.55h-4.55zM780.0 306.8h4.55v4.55h-4.55zM850.4 306.8h4.55v4.55h-4.55zM872.4 306.8h4.55v4.55h-4.55zM881.2 306.8h4.55v4.55h-4.55zM916.4 306.8h4.55v4.55h-4.55zM687.6 311.2h4.55v4.55h-4.55zM705.2 311.2h4.55v4.55h-4.55zM731.6 311.2h4.55v4.55h-4.55zM824.0 311.2h4.55v4.55h-4.55zM846.0 311.2h4.55v4.55h-4.55zM859.2 311.2h4.55v4.55h-4.55zM868.0 311.2h4.55v4.55h-4.55zM881.2 311.2h4.55v4.55h-4.55zM885.6 311.2h4.55v4.55h-4.55zM903.2 311.2h4.55v4.55h-4.55zM656.8 315.6h4.55v4.55h-4.55zM714.0 315.6h4.55v4.55h-4.55zM727.2 315.6h4.55v4.55h-4.55zM753.6 315.6h4.55v4.55h-4.55zM780.0 315.6h4.55v4.55h-4.55zM815.2 315.6h4.55v4.55h-4.55zM819.6 315.6h4.55v4.55h-4.55zM850.4 315.6h4.55v4.55h-4.55zM854.8 315.6h4.55v4.55h-4.55zM859.2 315.6h4.55v4.55h-4.55zM863.6 315.6h4.55v4.55h-4.55zM881.2 315.6h4.55v4.55h-4.55zM912.0 315.6h4.55v4.55h-4.55zM674.4 320.0h4.55v4.55h-4.55zM709.6 320.0h4.55v4.55h-4.55zM714.0 320.0h4.55v4.55h-4.55zM744.8 320.0h4.55v4.55h-4.55zM762.4 320.0h4.55v4.55h-4.55zM780.0 320.0h4.55v4.55h-4.55zM784.4 320.0h4.55v4.55h-4.55zM793.2 320.0h4.55v4.55h-4.55zM806.4 320.0h4.55v4.55h-4.55zM810.8 320.0h4.55v4.55h-4.55zM815.2 320.0h4.55v4.55h-4.55zM832.8 320.0h4.55v4.55h-4.55zM854.8 320.0h4.55v4.55h-4.55zM881.2 320.0h4.55v4.55h-4.55zM894.4 320.0h4.55v4.55h-4.55zM656.8 324.4h4.55v4.55h-4.55zM700.8 324.4h4.55v4.55h-4.55zM727.2 324.4h4.55v4.55h-4.55zM736.0 324.4h4.55v4.55h-4.55zM749.2 324.4h4.55v4.55h-4.55zM753.6 324.4h4.55v4.55h-4.55zM784.4 324.4h4.55v4.55h-4.55zM788.8 324.4h4.55v4.55h-4.55zM793.2 324.4h4.55v4.55h-4.55zM832.8 324.4h4.55v4.55h-4.55zM863.6 324.4h4.55v4.55h-4.55zM656.8 328.8h4.55v4.55h-4.55zM692.0 328.8h4.55v4.55h-4.55zM727.2 328.8h4.55v4.55h-4.55zM731.6 328.8h4.55v4.55h-4.55zM740.4 328.8h4.55v4.55h-4.55zM749.2 328.8h4.55v4.55h-4.55zM753.6 328.8h4.55v4.55h-4.55zM758.0 328.8h4.55v4.55h-4.55zM766.8 328.8h4.55v4.55h-4.55zM780.0 328.8h4.55v4.55h-4.55zM784.4 328.8h4.55v4.55h-4.55zM788.8 328.8h4.55v4.55h-4.55zM797.6 328.8h4.55v4.55h-4.55zM802.0 328.8h4.55v4.55h-4.55zM815.2 328.8h4.55v4.55h-4.55zM832.8 328.8h4.55v4.55h-4.55zM837.2 328.8h4.55v4.55h-4.55zM859.2 328.8h4.55v4.55h-4.55zM885.6 328.8h4.55v4.55h-4.55zM916.4 328.8h4.55v4.55h-4.55zM665.6 333.2h4.55v4.55h-4.55zM683.2 333.2h4.55v4.55h-4.55zM687.6 333.2h4.55v4.55h-4.55zM696.4 333.2h4.55v4.55h-4.55zM700.8 333.2h4.55v4.55h-4.55zM709.6 333.2h4.55v4.55h-4.55zM718.4 333.2h4.55v4.55h-4.55zM722.8 333.2h4.55v4.55h-4.55zM736.0 333.2h4.55v4.55h-4.55zM749.2 333.2h4.55v4.55h-4.55zM815.2 333.2h4.55v4.55h-4.55zM819.6 333.2h4.55v4.55h-4.55zM832.8 333.2h4.55v4.55h-4.55zM841.6 333.2h4.55v4.55h-4.55zM872.4 333.2h4.55v4.55h-4.55zM876.8 333.2h4.55v4.55h-4.55zM881.2 333.2h4.55v4.55h-4.55zM912.0 333.2h4.55v4.55h-4.55zM648.0 337.6h4.55v4.55h-4.55zM670.0 337.6h4.55v4.55h-4.55zM687.6 337.6h4.55v4.55h-4.55zM700.8 337.6h4.55v4.55h-4.55zM731.6 337.6h4.55v4.55h-4.55zM740.4 337.6h4.55v4.55h-4.55zM749.2 337.6h4.55v4.55h-4.55zM753.6 337.6h4.55v4.55h-4.55zM762.4 337.6h4.55v4.55h-4.55zM766.8 337.6h4.55v4.55h-4.55zM771.2 337.6h4.55v4.55h-4.55zM797.6 337.6h4.55v4.55h-4.55zM815.2 337.6h4.55v4.55h-4.55zM824.0 337.6h4.55v4.55h-4.55zM828.4 337.6h4.55v4.55h-4.55zM841.6 337.6h4.55v4.55h-4.55zM854.8 337.6h4.55v4.55h-4.55zM912.0 337.6h4.55v4.55h-4.55zM656.8 342.0h4.55v4.55h-4.55zM670.0 342.0h4.55v4.55h-4.55zM683.2 342.0h4.55v4.55h-4.55zM687.6 342.0h4.55v4.55h-4.55zM696.4 342.0h4.55v4.55h-4.55zM700.8 342.0h4.55v4.55h-4.55zM709.6 342.0h4.55v4.55h-4.55zM722.8 342.0h4.55v4.55h-4.55zM740.4 342.0h4.55v4.55h-4.55zM744.8 342.0h4.55v4.55h-4.55zM749.2 342.0h4.55v4.55h-4.55zM753.6 342.0h4.55v4.55h-4.55zM775.6 342.0h4.55v4.55h-4.55zM819.6 342.0h4.55v4.55h-4.55zM824.0 342.0h4.55v4.55h-4.55zM828.4 342.0h4.55v4.55h-4.55zM837.2 342.0h4.55v4.55h-4.55zM846.0 342.0h4.55v4.55h-4.55zM850.4 342.0h4.55v4.55h-4.55zM854.8 342.0h4.55v4.55h-4.55zM859.2 342.0h4.55v4.55h-4.55zM872.4 342.0h4.55v4.55h-4.55zM894.4 342.0h4.55v4.55h-4.55zM898.8 342.0h4.55v4.55h-4.55zM903.2 342.0h4.55v4.55h-4.55zM643.6 346.4h4.55v4.55h-4.55zM648.0 346.4h4.55v4.55h-4.55zM661.2 346.4h4.55v4.55h-4.55zM670.0 346.4h4.55v4.55h-4.55zM692.0 346.4h4.55v4.55h-4.55zM700.8 346.4h4.55v4.55h-4.55zM714.0 346.4h4.55v4.55h-4.55zM718.4 346.4h4.55v4.55h-4.55zM731.6 346.4h4.55v4.55h-4.55zM744.8 346.4h4.55v4.55h-4.55zM749.2 346.4h4.55v4.55h-4.55zM766.8 346.4h4.55v4.55h-4.55zM775.6 346.4h4.55v4.55h-4.55zM788.8 346.4h4.55v4.55h-4.55zM793.2 346.4h4.55v4.55h-4.55zM802.0 346.4h4.55v4.55h-4.55zM863.6 346.4h4.55v4.55h-4.55zM868.0 346.4h4.55v4.55h-4.55zM872.4 346.4h4.55v4.55h-4.55zM885.6 346.4h4.55v4.55h-4.55zM890.0 346.4h4.55v4.55h-4.55zM898.8 346.4h4.55v4.55h-4.55zM652.4 350.8h4.55v4.55h-4.55zM678.8 350.8h4.55v4.55h-4.55zM683.2 350.8h4.55v4.55h-4.55zM687.6 350.8h4.55v4.55h-4.55zM700.8 350.8h4.55v4.55h-4.55zM709.6 350.8h4.55v4.55h-4.55zM718.4 350.8h4.55v4.55h-4.55zM722.8 350.8h4.55v4.55h-4.55zM736.0 350.8h4.55v4.55h-4.55zM740.4 350.8h4.55v4.55h-4.55zM744.8 350.8h4.55v4.55h-4.55zM758.0 350.8h4.55v4.55h-4.55zM771.2 350.8h4.55v4.55h-4.55zM788.8 350.8h4.55v4.55h-4.55zM797.6 350.8h4.55v4.55h-4.55zM819.6 350.8h4.55v4.55h-4.55zM837.2 350.8h4.55v4.55h-4.55zM846.0 350.8h4.55v4.55h-4.55zM854.8 350.8h4.55v4.55h-4.55zM863.6 350.8h4.55v4.55h-4.55zM868.0 350.8h4.55v4.55h-4.55zM876.8 350.8h4.55v4.55h-4.55zM890.0 350.8h4.55v4.55h-4.55zM898.8 350.8h4.55v4.55h-4.55zM907.6 350.8h4.55v4.55h-4.55zM639.2 355.2h4.55v4.55h-4.55zM648.0 355.2h4.55v4.55h-4.55zM656.8 355.2h4.55v4.55h-4.55zM665.6 355.2h4.55v4.55h-4.55zM674.4 355.2h4.55v4.55h-4.55zM692.0 355.2h4.55v4.55h-4.55zM696.4 355.2h4.55v4.55h-4.55zM700.8 355.2h4.55v4.55h-4.55zM705.2 355.2h4.55v4.55h-4.55zM709.6 355.2h4.55v4.55h-4.55zM714.0 355.2h4.55v4.55h-4.55zM718.4 355.2h4.55v4.55h-4.55zM727.2 355.2h4.55v4.55h-4.55zM771.2 355.2h4.55v4.55h-4.55zM780.0 355.2h4.55v4.55h-4.55zM797.6 355.2h4.55v4.55h-4.55zM802.0 355.2h4.55v4.55h-4.55zM806.4 355.2h4.55v4.55h-4.55zM824.0 355.2h4.55v4.55h-4.55zM846.0 355.2h4.55v4.55h-4.55zM854.8 355.2h4.55v4.55h-4.55zM859.2 355.2h4.55v4.55h-4.55zM863.6 355.2h4.55v4.55h-4.55zM872.4 355.2h4.55v4.55h-4.55zM916.4 355.2h4.55v4.55h-4.55zM648.0 359.6h4.55v4.55h-4.55zM670.0 359.6h4.55v4.55h-4.55zM687.6 359.6h4.55v4.55h-4.55zM692.0 359.6h4.55v4.55h-4.55zM709.6 359.6h4.55v4.55h-4.55zM727.2 359.6h4.55v4.55h-4.55zM736.0 359.6h4.55v4.55h-4.55zM753.6 359.6h4.55v4.55h-4.55zM762.4 359.6h4.55v4.55h-4.55zM780.0 359.6h4.55v4.55h-4.55zM784.4 359.6h4.55v4.55h-4.55zM793.2 359.6h4.55v4.55h-4.55zM797.6 359.6h4.55v4.55h-4.55zM639.2 364.0h4.55v4.55h-4.55zM652.4 364.0h4.55v4.55h-4.55zM674.4 364.0h4.55v4.55h-4.55zM683.2 364.0h4.55v4.55h-4.55zM692.0 364.0h4.55v4.55h-4.55z" fill="#3c8c14"/>
<path d="M890.0 78.0h4.55v4.55h-4.55zM898.8 78.0h4.55v4.55h-4.55zM912.0 78.0h4.55v4.55h-4.55zM841.6 82.4h4.55v4.55h-4.55zM912.0 82.4h4.55v4.55h-4.55zM876.8 86.8h4.55v4.55h-4.55zM881.2 86.8h4.55v4.55h-4.55zM894.4 86.8h4.55v4.55h-4.55zM846.0 91.2h4.55v4.55h-4.55zM885.6 100.0h4.55v4.55h-4.55zM890.0 100.0h4.55v4.55h-4.55zM894.4 100.0h4.55v4.55h-4.55zM912.0 100.0h4.55v4.55h-4.55zM916.4 100.0h4.55v4.55h-4.55zM894.4 104.4h4.55v4.55h-4.55zM903.2 104.4h4.55v4.55h-4.55zM876.8 108.8h4.55v4.55h-4.55zM890.0 108.8h4.55v4.55h-4.55zM916.4 108.8h4.55v4.55h-4.55zM815.2 113.2h4.55v4.55h-4.55zM837.2 113.2h4.55v4.55h-4.55zM890.0 113.2h4.55v4.55h-4.55zM907.6 113.2h4.55v4.55h-4.55zM854.8 117.6h4.55v4.55h-4.55zM810.8 122.0h4.55v4.55h-4.55zM876.8 126.4h4.55v4.55h-4.55zM885.6 126.4h4.55v4.55h-4.55zM907.6 130.8h4.55v4.55h-4.55zM868.0 135.2h4.55v4.55h-4.55zM868.0 139.6h4.55v4.55h-4.55zM881.2 139.6h4.55v4.55h-4.55zM881.2 148.4h4.55v4.55h-4.55zM894.4 148.4h4.55v4.55h-4.55zM912.0 148.4h4.55v4.55h-4.55zM868.0 152.8h4.55v4.55h-4.55zM903.2 152.8h4.55v4.55h-4.55zM916.4 152.8h4.55v4.55h-4.55zM828.4 157.2h4.55v4.55h-4.55zM859.2 157.2h4.55v4.55h-4.55zM863.6 157.2h4.55v4.55h-4.55zM907.6 157.2h4.55v4.55h-4.55zM903.2 166.0h4.55v4.55h-4.55zM907.6 166.0h4.55v4.55h-4.55zM828.4 170.4h4.55v4.55h-4.55zM890.0 170.4h4.55v4.55h-4.55zM898.8 170.4h4.55v4.55h-4.55zM903.2 170.4h4.55v4.55h-4.55zM876.8 174.8h4.55v4.55h-4.55zM898.8 174.8h4.55v4.55h-4.55zM832.8 179.2h4.55v4.55h-4.55zM815.2 183.6h4.55v4.55h-4.55zM846.0 183.6h4.55v4.55h-4.55zM868.0 183.6h4.55v4.55h-4.55zM898.8 183.6h4.55v4.55h-4.55zM907.6 183.6h4.55v4.55h-4.55zM854.8 188.0h4.55v4.55h-4.55zM903.2 188.0h4.55v4.55h-4.55zM912.0 188.0h4.55v4.55h-4.55zM881.2 192.4h4.55v4.55h-4.55zM828.4 196.8h4.55v4.55h-4.55zM859.2 196.8h4.55v4.55h-4.55zM903.2 196.8h4.55v4.55h-4.55zM885.6 201.2h4.55v4.55h-4.55zM894.4 201.2h4.55v4.55h-4.55zM907.6 201.2h4.55v4.55h-4.55zM837.2 205.6h4.55v4.55h-4.55zM841.6 205.6h4.55v4.55h-4.55zM890.0 205.6h4.55v4.55h-4.55zM903.2 205.6h4.55v4.55h-4.55zM850.4 210.0h4.55v4.55h-4.55zM885.6 210.0h4.55v4.55h-4.55zM890.0 210.0h4.55v4.55h-4.55zM894.4 214.4h4.55v4.55h-4.55zM903.2 214.4h4.55v4.55h-4.55zM912.0 214.4h4.55v4.55h-4.55zM837.2 218.8h4.55v4.55h-4.55zM841.6 218.8h4.55v4.55h-4.55zM903.2 218.8h4.55v4.55h-4.55zM916.4 218.8h4.55v4.55h-4.55zM846.0 223.2h4.55v4.55h-4.55zM885.6 223.2h4.55v4.55h-4.55zM907.6 223.2h4.55v4.55h-4.55zM819.6 227.6h4.55v4.55h-4.55zM832.8 227.6h4.55v4.55h-4.55zM837.2 227.6h4.55v4.55h-4.55zM916.4 227.6h4.55v4.55h-4.55zM828.4 236.4h4.55v4.55h-4.55zM854.8 236.4h4.55v4.55h-4.55zM916.4 236.4h4.55v4.55h-4.55zM832.8 240.8h4.55v4.55h-4.55zM846.0 240.8h4.55v4.55h-4.55zM850.4 240.8h4.55v4.55h-4.55zM859.2 240.8h4.55v4.55h-4.55zM894.4 240.8h4.55v4.55h-4.55zM824.0 245.2h4.55v4.55h-4.55zM890.0 245.2h4.55v4.55h-4.55zM837.2 249.6h4.55v4.55h-4.55zM903.2 258.4h4.55v4.55h-4.55zM912.0 258.4h4.55v4.55h-4.55zM916.4 258.4h4.55v4.55h-4.55zM837.2 262.8h4.55v4.55h-4.55zM841.6 262.8h4.55v4.55h-4.55zM850.4 262.8h4.55v4.55h-4.55zM863.6 262.8h4.55v4.55h-4.55zM881.2 262.8h4.55v4.55h-4.55zM846.0 271.6h4.55v4.55h-4.55zM898.8 284.8h4.55v4.55h-4.55zM850.4 289.2h4.55v4.55h-4.55zM854.8 289.2h4.55v4.55h-4.55zM890.0 289.2h4.55v4.55h-4.55zM894.4 289.2h4.55v4.55h-4.55zM907.6 289.2h4.55v4.55h-4.55zM912.0 289.2h4.55v4.55h-4.55zM916.4 289.2h4.55v4.55h-4.55zM837.2 293.6h4.55v4.55h-4.55zM846.0 293.6h4.55v4.55h-4.55zM850.4 293.6h4.55v4.55h-4.55zM863.6 293.6h4.55v4.55h-4.55zM907.6 293.6h4.55v4.55h-4.55zM674.4 298.0h4.55v4.55h-4.55zM683.2 298.0h4.55v4.55h-4.55zM709.6 298.0h4.55v4.55h-4.55zM749.2 298.0h4.55v4.55h-4.55zM797.6 298.0h4.55v4.55h-4.55zM819.6 298.0h4.55v4.55h-4.55zM841.6 298.0h4.55v4.55h-4.55zM881.2 298.0h4.55v4.55h-4.55zM885.6 298.0h4.55v4.55h-4.55zM898.8 298.0h4.55v4.55h-4.55zM907.6 298.0h4.55v4.55h-4.55zM665.6 302.4h4.55v4.55h-4.55zM670.0 302.4h4.55v4.55h-4.55zM674.4 302.4h4.55v4.55h-4.55zM678.8 302.4h4.55v4.55h-4.55zM692.0 302.4h4.55v4.55h-4.55zM696.4 302.4h4.55v4.55h-4.55zM718.4 302.4h4.55v4.55h-4.55zM727.2 302.4h4.55v4.55h-4.55zM740.4 302.4h4.55v4.55h-4.55zM762.4 302.4h4.55v4.55h-4.55zM766.8 302.4h4.55v4.55h-4.55zM797.6 302.4h4.55v4.55h-4.55zM810.8 302.4h4.55v4.55h-4.55zM824.0 302.4h4.55v4.55h-4.55zM828.4 302.4h4.55v4.55h-4.55zM837.2 302.4h4.55v4.55h-4.55zM846.0 302.4h4.55v4.55h-4.55zM881.2 302.4h4.55v4.55h-4.55zM885.6 302.4h4.55v4.55h-4.55zM894.4 302.4h4.55v4.55h-4.55zM907.6 302.4h4.55v4.55h-4.55zM661.2 306.8h4.55v4.55h-4.55zM665.6 306.8h4.55v4.55h-4.55zM674.4 306.8h4.55v4.55h-4.55zM678.8 306.8h4.55v4.55h-4.55zM705.2 306.8h4.55v4.55h-4.55zM740.4 306.8h4.55v4.55h-4.55zM744.8 306.8h4.55v4.55h-4.55zM762.4 306.8h4.55v4.55h-4.55zM775.6 306.8h4.55v4.55h-4.55zM784.4 306.8h4.55v4.55h-4.55zM793.2 306.8h4.55v4.55h-4.55zM797.6 306.8h4.55v4.55h-4.55zM802.0 306.8h4.55v4.55h-4.55zM832.8 306.8h4.55v4.55h-4.55zM859.2 306.8h4.55v4.55h-4.55zM912.0 306.8h4.55v4.55h-4.55zM656.8 311.2h4.55v4.55h-4.55zM661.2 311.2h4.55v4.55h-4.55zM665.6 311.2h4.55v4.55h-4.55zM678.8 311.2h4.55v4.55h-4.55zM700.8 311.2h4.55v4.55h-4.55zM718.4 311.2h4.55v4.55h-4.55zM740.4 311.2h4.55v4.55h-4.55zM753.6 311.2h4.55v4.55h-4.55zM758.0 311.2h4.55v4.55h-4.55zM762.4 311.2h4.55v4.55h-4.55zM784.4 311.2h4.55v4.55h-4.55zM793.2 311.2h4.55v4.55h-4.55zM802.0 311.2h4.55v4.55h-4.55zM806.4 311.2h4.55v4.55h-4.55zM819.6 311.2h4.55v4.55h-4.55zM828.4 311.2h4.55v4.55h-4.55zM832.8 311.2h4.55v4.55h-4.55zM850.4 311.2h4.55v4.55h-4.55zM854.8 311.2h4.55v4.55h-4.55zM890.0 311.2h4.55v4.55h-4.55zM912.0 311.2h4.55v4.55h-4.55zM665.6 315.6h4.55v4.55h-4.55zM670.0 315.6h4.55v4.55h-4.55zM687.6 315.6h4.55v4.55h-4.55zM696.4 315.6h4.55v4.55h-4.55zM709.6 315.6h4.55v4.55h-4.55zM731.6 315.6h4.55v4.55h-4.55zM749.2 315.6h4.55v4.55h-4.55zM758.0 315.6h4.55v4.55h-4.55zM775.6 315.6h4.55v4.55h-4.55zM797.6 315.6h4.55v4.55h-4.55zM802.0 315.6h4.55v4.55h-4.55zM806.4 315.6h4.55v4.55h-4.55zM841.6 315.6h4.55v4.55h-4.55zM890.0 315.6h4.55v4.55h-4.55zM652.4 320.0h4.55v4.55h-4.55zM661.2 320.0h4.55v4.55h-4.55zM665.6 320.0h4.55v4.55h-4.55zM670.0 320.0h4.55v4.55h-4.55zM683.2 320.0h4.55v4.55h-4.55zM687.6 320.0h4.55v4.55h-4.55zM692.0 320.0h4.55v4.55h-4.55zM722.8 320.0h4.55v4.55h-4.55zM740.4 320.0h4.55v4.55h-4.55zM753.6 320.0h4.55v4.55h-4.55zM788.8 320.0h4.55v4.55h-4.55zM837.2 320.0h4.55v4.55h-4.55zM841.6 320.0h4.55v4.55h-4.55zM846.0 320.0h4.55v4.55h-4.55zM850.4 320.0h4.55v4.55h-4.55zM859.2 320.0h4.55v4.55h-4.55zM863.6 320.0h4.55v4.55h-4.55zM872.4 320.0h4.55v4.55h-4.55zM890.0 320.0h4.55v4.55h-4.55zM661.2 324.4h4.55v4.55h-4.55zM665.6 324.4h4.55v4.55h-4.55zM674.4 324.4h4.55v4.55h-4.55zM683.2 324.4h4.55v4.55h-4.55zM692.0 324.4h4.55v4.55h-4.55zM696.4 324.4h4.55v4.55h-4.55zM705.2 324.4h4.55v4.55h-4.55zM714.0 324.4h4.55v4.55h-4.55zM740.4 324.4h4.55v4.55h-4.55zM762.4 324.4h4.55v4.55h-4.55zM771.2 324.4h4.55v4.55h-4.55zM775.6 324.4h4.55v4.55h-4.55zM797.6 324.4h4.55v4.55h-4.55zM806.4 324.4h4.55v4.55h-4.55zM819.6 324.4h4.55v4.55h-4.55zM828.4 324.4h4.55v4.55h-4.55zM846.0 324.4h4.55v4.55h-4.55zM850.4 324.4h4.55v4.55h-4.55zM881.2 324.4h4.55v4.55h-4.55zM885.6 324.4h4.55v4.55h-4.55zM916.4 324.4h4.55v4.55h-4.55zM648.0 328.8h4.55v4.55h-4.55zM652.4 328.8h4.55v4.55h-4.55zM665.6 328.8h4.55v4.55h-4.55zM670.0 328.8h4.55v4.55h-4.55zM678.8 328.8h4.55v4.55h-4.55zM683.2 328.8h4.55v4.55h-4.55zM687.6 328.8h4.55v4.55h-4.55zM696.4 328.8h4.55v4.55h-4.55zM714.0 328.8h4.55v4.55h-4.55zM736.0 328.8h4.55v4.55h-4.55zM771.2 328.8h4.55v4.55h-4.55zM819.6 328.8h4.55v4.55h-4.55zM846.0 328.8h4.55v4.55h-4.55zM854.8 328.8h4.55v4.55h-4.55zM863.6 328.8h4.55v4.55h-4.55zM898.8 328.8h4.55v4.55h-4.55zM652.4 333.2h4.55v4.55h-4.55zM656.8 333.2h4.55v4.55h-4.55zM661.2 333.2h4.55v4.55h-4.55zM670.0 333.2h4.55v4.55h-4.55zM692.0 333.2h4.55v4.55h-4.55zM714.0 333.2h4.55v4.55h-4.55zM727.2 333.2h4.55v4.55h-4.55zM740.4 333.2h4.55v4.55h-4.55zM744.8 333.2h4.55v4.55h-4.55zM753.6 333.2h4.55v4.55h-4.55zM766.8 333.2h4.55v4.55h-4.55zM780.0 333.2h4.55v4.55h-4.55zM784.4 333.2h4.55v4.55h-4.55zM793.2 333.2h4.55v4.55h-4.55zM797.6 333.2h4.55v4.55h-4.55zM802.0 333.2h4.55v4.55h-4.55zM806.4 333.2h4.55v4.55h-4.55zM824.0 333.2h4.55v4.55h-4.55zM868.0 333.2h4.55v4.55h-4.55zM903.2 333.2h4.55v4.55h-4.55zM643.6 337.6h4.55v4.55h-4.55zM652.4 337.6h4.55v4.55h-4.55zM665.6 337.6h4.55v4.55h-4.55zM674.4 337.6h4.55v4.55h-4.55zM683.2 337.6h4.55v4.55h-4.55zM705.2 337.6h4.55v4.55h-4.55zM718.4 337.6h4.55v4.55h-4.55zM722.8 337.6h4.55v4.55h-4.55zM810.8 337.6h4.55v4.55h-4.55zM832.8 337.6h4.55v4.55h-4.55zM868.0 337.6h4.55v4.55h-4.55zM876.8 337.6h4.55v4.55h-4.55zM881.2 337.6h4.55v4.55h-4.55zM885.6 337.6h4.55v4.55h-4.55zM898.8 337.6h4.55v4.55h-4.55zM903.2 337.6h4.55v4.55h-4.55zM916.4 337.6h4.55v4.55h-4.55zM643.6 342.0h4.55v4.55h-4.55zM652.4 342.0h4.55v4.55h-4.55zM674.4 342.0h4.55v4.55h-4.55zM678.8 342.0h4.55v4.55h-4.55zM705.2 342.0h4.55v4.55h-4.55zM797.6 342.0h4.55v4.55h-4.55zM863.6 342.0h4.55v4.55h-4.55zM868.0 342.0h4.55v4.55h-4.55zM885.6 342.0h4.55v4.55h-4.55zM912.0 342.0h4.55v4.55h-4.55zM916.4 342.0h4.55v4.55h-4.55zM652.4 346.4h4.55v4.55h-4.55zM656.8 346.4h4.55v4.55h-4.55zM696.4 346.4h4.55v4.55h-4.55zM727.2 346.4h4.55v4.55h-4.55zM797.6 346.4h4.55v4.55h-4.55zM850.4 346.4h4.55v4.55h-4.55zM876.8 346.4h4.55v4.55h-4.55zM916.4 346.4h4.55v4.55h-4.55zM639.2 350.8h4.55v4.55h-4.55zM643.6 350.8h4.55v4.55h-4.55zM656.8 350.8h4.55v4.55h-4.55zM661.2 350.8h4.55v4.55h-4.55zM674.4 350.8h4.55v4.55h-4.55zM692.0 350.8h4.55v4.55h-4.55zM696.4 350.8h4.55v4.55h-4.55zM714.0 350.8h4.55v4.55h-4.55zM727.2 350.8h4.55v4.55h-4.55zM731.6 350.8h4.55v4.55h-4.55zM749.2 350.8h4.55v4.55h-4.55zM762.4 350.8h4.55v4.55h-4.55zM780.0 350.8h4.55v4.55h-4.55zM806.4 350.8h4.55v4.55h-4.55zM810.8 350.8h4.55v4.55h-4.55zM824.0 350.8h4.55v4.55h-4.55zM828.4 350.8h4.55v4.55h-4.55zM841.6 350.8h4.55v4.55h-4.55zM859.2 350.8h4.55v4.55h-4.55zM885.6 350.8h4.55v4.55h-4.55zM916.4 350.8h4.55v4.55h-4.55zM643.6 355.2h4.55v4.55h-4.55zM652.4 355.2h4.55v4.55h-4.55zM670.0 355.2h4.55v4.55h-4.55zM687.6 355.2h4.55v4.55h-4.55zM744.8 355.2h4.55v4.55h-4.55zM762.4 355.2h4.55v4.55h-4.55zM876.8 355.2h4.55v4.55h-4.55zM885.6 355.2h4.55v4.55h-4.55zM643.6 359.6h4.55v4.55h-4.55zM661.2 359.6h4.55v4.55h-4.55zM674.4 359.6h4.55v4.55h-4.55zM678.8 359.6h4.55v4.55h-4.55zM683.2 359.6h4.55v4.55h-4.55zM700.8 359.6h4.55v4.55h-4.55zM705.2 359.6h4.55v4.55h-4.55zM731.6 359.6h4.55v4.55h-4.55zM749.2 359.6h4.55v4.55h-4.55zM788.8 359.6h4.55v4.55h-4.55zM815.2 359.6h4.55v4.55h-4.55zM824.0 359.6h4.55v4.55h-4.55zM643.6 364.0h4.55v4.55h-4.55zM648.0 364.0h4.55v4.55h-4.55zM656.8 364.0h4.55v4.55h-4.55zM661.2 364.0h4.55v4.55h-4.55zM678.8 364.0h4.55v4.55h-4.55z" fill="#88b814"/>
<path d="M788.8 82.4h4.55v4.55h-4.55zM793.2 82.4h4.55v4.55h-4.55zM766.8 91.2h4.55v4.55h-4.55zM793.2 91.2h4.55v4.55h-4.55zM806.4 91.2h4.55v4.55h-4.55zM771.2 95.6h4.55v4.55h-4.55zM784.4 95.6h4.55v4.55h-4.55zM815.2 95.6h4.55v4.55h-4.55zM793.2 100.0h4.55v4.55h-4.55zM806.4 100.0h4.55v4.55h-4.55zM810.8 100.0h4.55v4.55h-4.55zM762.4 104.4h4.55v4.55h-4.55zM766.8 104.4h4.55v4.55h-4.55zM775.6 104.4h4.55v4.55h-4.55zM788.8 104.4h4.55v4.55h-4.55zM793.2 104.4h4.55v4.55h-4.55zM793.2 108.8h4.55v4.55h-4.55zM802.0 108.8h4.55v4.55h-4.55zM758.0 113.2h4.55v4.55h-4.55zM762.4 113.2h4.55v4.55h-4.55zM762.4 117.6h4.55v4.55h-4.55zM758.0 122.0h4.55v4.55h-4.55zM766.8 122.0h4.55v4.55h-4.55zM793.2 122.0h4.55v4.55h-4.55zM780.0 126.4h4.55v4.55h-4.55zM788.8 126.4h4.55v4.55h-4.55zM771.2 130.8h4.55v4.55h-4.55zM758.0 135.2h4.55v4.55h-4.55zM766.8 135.2h4.55v4.55h-4.55zM744.8 139.6h4.55v4.55h-4.55zM749.2 139.6h4.55v4.55h-4.55zM758.0 139.6h4.55v4.55h-4.55zM775.6 139.6h4.55v4.55h-4.55zM780.0 139.6h4.55v4.55h-4.55zM810.8 139.6h4.55v4.55h-4.55zM740.4 144.0h4.55v4.55h-4.55zM744.8 144.0h4.55v4.55h-4.55zM762.4 144.0h4.55v4.55h-4.55zM766.8 144.0h4.55v4.55h-4.55zM775.6 144.0h4.55v4.55h-4.55zM793.2 144.0h4.55v4.55h-4.55zM749.2 148.4h4.55v4.55h-4.55zM762.4 148.4h4.55v4.55h-4.55zM771.2 148.4h4.55v4.55h-4.55zM775.6 148.4h4.55v4.55h-4.55zM802.0 148.4h4.55v4.55h-4.55zM771.2 152.8h4.55v4.55h-4.55zM793.2 152.8h4.55v4.55h-4.55zM762.4 157.2h4.55v4.55h-4.55zM788.8 157.2h4.55v4.55h-4.55zM736.0 161.6h4.55v4.55h-4.55zM740.4 161.6h4.55v4.55h-4.55zM753.6 161.6h4.55v4.55h-4.55zM758.0 161.6h4.55v4.55h-4.55zM766.8 161.6h4.55v4.55h-4.55zM771.2 161.6h4.55v4.55h-4.55zM775.6 161.6h4.55v4.55h-4.55zM780.0 161.6h4.55v4.55h-4.55zM810.8 161.6h4.55v4.55h-4.55zM731.6 166.0h4.55v4.55h-4.55zM736.0 166.0h4.55v4.55h-4.55zM810.8 166.0h4.55v4.55h-4.55zM727.2 170.4h4.55v4.55h-4.55zM736.0 170.4h4.55v4.55h-4.55zM744.8 170.4h4.55v4.55h-4.55zM771.2 170.4h4.55v4.55h-4.55zM810.8 170.4h4.55v4.55h-4.55zM731.6 174.8h4.55v4.55h-4.55zM736.0 174.8h4.55v4.55h-4.55zM753.6 174.8h4.55v4.55h-4.55zM758.0 174.8h4.55v4.55h-4.55zM766.8 174.8h4.55v4.55h-4.55zM771.2 174.8h4.55v4.55h-4.55zM722.8 179.2h4.55v4.55h-4.55zM731.6 179.2h4.55v4.55h-4.55zM780.0 179.2h4.55v4.55h-4.55zM793.2 179.2h4.55v4.55h-4.55zM722.8 183.6h4.55v4.55h-4.55zM731.6 183.6h4.55v4.55h-4.55zM740.4 183.6h4.55v4.55h-4.55zM753.6 183.6h4.55v4.55h-4.55zM758.0 183.6h4.55v4.55h-4.55zM762.4 183.6h4.55v4.55h-4.55zM722.8 188.0h4.55v4.55h-4.55zM727.2 188.0h4.55v4.55h-4.55zM753.6 188.0h4.55v4.55h-4.55zM758.0 188.0h4.55v4.55h-4.55zM793.2 188.0h4.55v4.55h-4.55zM722.8 192.4h4.55v4.55h-4.55zM727.2 192.4h4.55v4.55h-4.55zM740.4 192.4h4.55v4.55h-4.55zM749.2 192.4h4.55v4.55h-4.55zM758.0 192.4h4.55v4.55h-4.55zM766.8 192.4h4.55v4.55h-4.55zM780.0 192.4h4.55v4.55h-4.55zM714.0 196.8h4.55v4.55h-4.55zM718.4 196.8h4.55v4.55h-4.55zM736.0 196.8h4.55v4.55h-4.55zM749.2 196.8h4.55v4.55h-4.55zM758.0 196.8h4.55v4.55h-4.55zM780.0 196.8h4.55v4.55h-4.55zM784.4 196.8h4.55v4.55h-4.55zM788.8 196.8h4.55v4.55h-4.55zM722.8 201.2h4.55v4.55h-4.55zM727.2 201.2h4.55v4.55h-4.55zM744.8 201.2h4.55v4.55h-4.55zM758.0 201.2h4.55v4.55h-4.55zM819.6 201.2h4.55v4.55h-4.55zM722.8 205.6h4.55v4.55h-4.55zM740.4 205.6h4.55v4.55h-4.55zM762.4 205.6h4.55v4.55h-4.55zM780.0 205.6h4.55v4.55h-4.55zM797.6 205.6h4.55v4.55h-4.55zM709.6 210.0h4.55v4.55h-4.55zM714.0 210.0h4.55v4.55h-4.55zM736.0 210.0h4.55v4.55h-4.55zM749.2 210.0h4.55v4.55h-4.55zM758.0 210.0h4.55v4.55h-4.55zM762.4 210.0h4.55v4.55h-4.55zM771.2 210.0h4.55v4.55h-4.55zM775.6 210.0h4.55v4.55h-4.55zM780.0 210.0h4.55v4.55h-4.55zM718.4 214.4h4.55v4.55h-4.55zM722.8 214.4h4.55v4.55h-4.55zM740.4 214.4h4.55v4.55h-4.55zM766.8 214.4h4.55v4.55h-4.55zM771.2 214.4h4.55v4.55h-4.55zM775.6 214.4h4.55v4.55h-4.55zM797.6 214.4h4.55v4.55h-4.55zM714.0 218.8h4.55v4.55h-4.55zM722.8 218.8h4.55v4.55h-4.55zM727.2 218.8h4.55v4.55h-4.55zM731.6 218.8h4.55v4.55h-4.55zM744.8 218.8h4.55v4.55h-4.55zM749.2 218.8h4.55v4.55h-4.55zM758.0 218.8h4.55v4.55h-4.55zM762.4 218.8h4.55v4.55h-4.55zM771.2 218.8h4.55v4.55h-4.55zM700.8 223.2h4.55v4.55h-4.55zM709.6 223.2h4.55v4.55h-4.55zM714.0 223.2h4.55v4.55h-4.55zM749.2 223.2h4.55v4.55h-4.55zM753.6 223.2h4.55v4.55h-4.55zM758.0 223.2h4.55v4.55h-4.55zM762.4 223.2h4.55v4.55h-4.55zM766.8 223.2h4.55v4.55h-4.55zM802.0 223.2h4.55v4.55h-4.55zM810.8 223.2h4.55v4.55h-4.55zM714.0 227.6h4.55v4.55h-4.55zM718.4 227.6h4.55v4.55h-4.55zM722.8 227.6h4.55v4.55h-4.55zM727.2 227.6h4.55v4.55h-4.55zM731.6 227.6h4.55v4.55h-4.55zM740.4 227.6h4.55v4.55h-4.55zM749.2 227.6h4.55v4.55h-4.55zM753.6 227.6h4.55v4.55h-4.55zM780.0 227.6h4.55v4.55h-4.55zM784.4 227.6h4.55v4.55h-4.55zM788.8 227.6h4.55v4.55h-4.55zM797.6 227.6h4.55v4.55h-4.55zM700.8 232.0h4.55v4.55h-4.55zM709.6 232.0h4.55v4.55h-4.55zM718.4 232.0h4.55v4.55h-4.55zM722.8 232.0h4.55v4.55h-4.55zM727.2 232.0h4.55v4.55h-4.55zM744.8 232.0h4.55v4.55h-4.55zM749.2 232.0h4.55v4.55h-4.55zM753.6 232.0h4.55v4.55h-4.55zM762.4 232.0h4.55v4.55h-4.55zM771.2 232.0h4.55v4.55h-4.55zM775.6 232.0h4.55v4.55h-4.55zM784.4 232.0h4.55v4.55h-4.55zM788.8 232.0h4.55v4.55h-4.55zM797.6 232.0h4.55v4.55h-4.55zM696.4 236.4h4.55v4.55h-4.55zM700.8 236.4h4.55v4.55h-4.55zM705.2 236.4h4.55v4.55h-4.55zM709.6 236.4h4.55v4.55h-4.55zM714.0 236.4h4.55v4.55h-4.55zM722.8 236.4h4.55v4.55h-4.55zM727.2 236.4h4.55v4.55h-4.55zM731.6 236.4h4.55v4.55h-4.55zM736.0 236.4h4.55v4.55h-4.55zM744.8 236.4h4.55v4.55h-4.55zM749.2 236.4h4.55v4.55h-4.55zM753.6 236.4h4.55v4.55h-4.55zM758.0 236.4h4.55v4.55h-4.55zM762.4 236.4h4.55v4.55h-4.55zM766.8 236.4h4.55v4.55h-4.55zM771.2 236.4h4.55v4.55h-4.55zM780.0 236.4h4.55v4.55h-4.55zM788.8 236.4h4.55v4.55h-4.55zM793.2 236.4h4.55v4.55h-4.55zM802.0 236.4h4.55v4.55h-4.55zM810.8 236.4h4.55v4.55h-4.55zM815.2 236.4h4.55v4.55h-4.55zM692.0 240.8h4.55v4.55h-4.55zM696.4 240.8h4.55v4.55h-4.55zM700.8 240.8h4.55v4.55h-4.55zM709.6 240.8h4.55v4.55h-4.55zM714.0 240.8h4.55v4.55h-4.55zM718.4 240.8h4.55v4.55h-4.55zM722.8 240.8h4.55v4.55h-4.55zM727.2 240.8h4.55v4.55h-4.55zM731.6 240.8h4.55v4.55h-4.55zM740.4 240.8h4.55v4.55h-4.55zM744.8 240.8h4.55v4.55h-4.55zM749.2 240.8h4.55v4.55h-4.55zM753.6 240.8h4.55v4.55h-4.55zM758.0 240.8h4.55v4.55h-4.55zM762.4 240.8h4.55v4.55h-4.55zM771.2 240.8h4.55v4.55h-4.55zM775.6 240.8h4.55v4.55h-4.55zM780.0 240.8h4.55v4.55h-4.55zM784.4 240.8h4.55v4.55h-4.55zM788.8 240.8h4.55v4.55h-4.55zM793.2 240.8h4.55v4.55h-4.55zM802.0 240.8h4.55v4.55h-4.55zM692.0 245.2h4.55v4.55h-4.55zM696.4 245.2h4.55v4.55h-4.55zM700.8 245.2h4.55v4.55h-4.55zM705.2 245.2h4.55v4.55h-4.55zM709.6 245.2h4.55v4.55h-4.55zM714.0 245.2h4.55v4.55h-4.55zM718.4 245.2h4.55v4.55h-4.55zM722.8 245.2h4.55v4.55h-4.55zM727.2 245.2h4.55v4.55h-4.55zM731.6 245.2h4.55v4.55h-4.55zM736.0 245.2h4.55v4.55h-4.55zM740.4 245.2h4.55v4.55h-4.55zM744.8 245.2h4.55v4.55h-4.55zM749.2 245.2h4.55v4.55h-4.55zM753.6 245.2h4.55v4.55h-4.55zM758.0 245.2h4.55v4.55h-4.55zM762.4 245.2h4.55v4.55h-4.55zM766.8 245.2h4.55v4.55h-4.55zM771.2 245.2h4.55v4.55h-4.55zM775.6 245.2h4.55v4.55h-4.55zM780.0 245.2h4.55v4.55h-4.55zM784.4 245.2h4.55v4.55h-4.55zM788.8 245.2h4.55v4.55h-4.55zM793.2 245.2h4.55v4.55h-4.55zM797.6 245.2h4.55v4.55h-4.55zM806.4 245.2h4.55v4.55h-4.55zM815.2 245.2h4.55v4.55h-4.55zM687.6 249.6h4.55v4.55h-4.55zM692.0 249.6h4.55v4.55h-4.55zM700.8 249.6h4.55v4.55h-4.55zM709.6 249.6h4.55v4.55h-4.55zM714.0 249.6h4.55v4.55h-4.55zM718.4 249.6h4.55v4.55h-4.55zM722.8 249.6h4.55v4.55h-4.55zM727.2 249.6h4.55v4.55h-4.55zM731.6 249.6h4.55v4.55h-4.55zM736.0 249.6h4.55v4.55h-4.55zM740.4 249.6h4.55v4.55h-4.55zM744.8 249.6h4.55v4.55h-4.55zM749.2 249.6h4.55v4.55h-4.55zM753.6 249.6h4.55v4.55h-4.55zM758.0 249.6h4.55v4.55h-4.55zM762.4 249.6h4.55v4.55h-4.55zM766.8 249.6h4.55v4.55h-4.55zM780.0 249.6h4.55v4.55h-4.55zM784.4 249.6h4.55v4.55h-4.55zM788.8 249.6h4.55v4.55h-4.55zM793.2 249.6h4.55v4.55h-4.55zM802.0 249.6h4.55v4.55h-4.55zM810.8 249.6h4.55v4.55h-4.55zM687.6 254.0h4.55v4.55h-4.55zM696.4 254.0h4.55v4.55h-4.55zM700.8 254.0h4.55v4.55h-4.55zM709.6 254.0h4.55v4.55h-4.55zM714.0 254.0h4.55v4.55h-4.55zM722.8 254.0h4.55v4.55h-4.55zM731.6 254.0h4.55v4.55h-4.55zM736.0 254.0h4.55v4.55h-4.55zM740.4 254.0h4.55v4.55h-4.55zM744.8 254.0h4.55v4.55h-4.55zM749.2 254.0h4.55v4.55h-4.55zM753.6 254.0h4.55v4.55h-4.55zM758.0 254.0h4.55v4.55h-4.55zM762.4 254.0h4.55v4.55h-4.55zM766.8 254.0h4.55v4.55h-4.55zM771.2 254.0h4.55v4.55h-4.55zM775.6 254.0h4.55v4.55h-4.55zM784.4 254.0h4.55v4.55h-4.55zM788.8 254.0h4.55v4.55h-4.55zM806.4 254.0h4.55v4.55h-4.55zM824.0 254.0h4.55v4.55h-4.55zM683.2 258.4h4.55v4.55h-4.55zM687.6 258.4h4.55v4.55h-4.55zM692.0 258.4h4.55v4.55h-4.55zM696.4 258.4h4.55v4.55h-4.55zM700.8 258.4h4.55v4.55h-4.55zM705.2 258.4h4.55v4.55h-4.55zM709.6 258.4h4.55v4.55h-4.55zM714.0 258.4h4.55v4.55h-4.55zM718.4 258.4h4.55v4.55h-4.55zM722.8 258.4h4.55v4.55h-4.55zM727.2 258.4h4.55v4.55h-4.55zM736.0 258.4h4.55v4.55h-4.55zM740.4 258.4h4.55v4.55h-4.55zM753.6 258.4h4.55v4.55h-4.55zM758.0 258.4h4.55v4.55h-4.55zM771.2 258.4h4.55v4.55h-4.55zM775.6 258.4h4.55v4.55h-4.55zM780.0 258.4h4.55v4.55h-4.55zM784.4 258.4h4.55v4.55h-4.55zM793.2 258.4h4.55v4.55h-4.55zM797.6 258.4h4.55v4.55h-4.55zM810.8 258.4h4.55v4.55h-4.55zM683.2 262.8h4.55v4.55h-4.55zM687.6 262.8h4.55v4.55h-4.55zM692.0 262.8h4.55v4.55h-4.55zM696.4 262.8h4.55v4.55h-4.55zM700.8 262.8h4.55v4.55h-4.55zM705.2 262.8h4.55v4.55h-4.55zM709.6 262.8h4.55v4.55h-4.55zM714.0 262.8h4.55v4.55h-4.55zM718.4 262.8h4.55v4.55h-4.55zM727.2 262.8h4.55v4.55h-4.55zM736.0 262.8h4.55v4.55h-4.55zM744.8 262.8h4.55v4.55h-4.55zM749.2 262.8h4.55v4.55h-4.55zM753.6 262.8h4.55v4.55h-4.55zM758.0 262.8h4.55v4.55h-4.55zM766.8 262.8h4.55v4.55h-4.55zM771.2 262.8h4.55v4.55h-4.55zM775.6 262.8h4.55v4.55h-4.55zM780.0 262.8h4.55v4.55h-4.55zM784.4 262.8h4.55v4.55h-4.55zM788.8 262.8h4.55v4.55h-4.55zM793.2 262.8h4.55v4.55h-4.55zM797.6 262.8h4.55v4.55h-4.55zM802.0 262.8h4.55v4.55h-4.55zM683.2 267.2h4.55v4.55h-4.55zM692.0 267.2h4.55v4.55h-4.55zM696.4 267.2h4.55v4.55h-4.55zM700.8 267.2h4.55v4.55h-4.55zM709.6 267.2h4.55v4.55h-4.55zM714.0 267.2h4.55v4.55h-4.55zM718.4 267.2h4.55v4.55h-4.55zM722.8 267.2h4.55v4.55h-4.55zM727.2 267.2h4.55v4.55h-4.55zM731.6 267.2h4.55v4.55h-4.55zM736.0 267.2h4.55v4.55h-4.55zM740.4 267.2h4.55v4.55h-4.55zM744.8 267.2h4.55v4.55h-4.55zM749.2 267.2h4.55v4.55h-4.55zM753.6 267.2h4.55v4.55h-4.55zM758.0 267.2h4.55v4.55h-4.55zM762.4 267.2h4.55v4.55h-4.55zM771.2 267.2h4.55v4.55h-4.55zM775.6 267.2h4.55v4.55h-4.55zM784.4 267.2h4.55v4.55h-4.55zM793.2 267.2h4.55v4.55h-4.55zM815.2 267.2h4.55v4.55h-4.55zM683.2 271.6h4.55v4.55h-4.55zM687.6 271.6h4.55v4.55h-4.55zM696.4 271.6h4.55v4.55h-4.55zM700.8 271.6h4.55v4.55h-4.55zM705.2 271.6h4.55v4.55h-4.55zM714.0 271.6h4.55v4.55h-4.55zM718.4 271.6h4.55v4.55h-4.55zM722.8 271.6h4.55v4.55h-4.55zM727.2 271.6h4.55v4.55h-4.55zM731.6 271.6h4.55v4.55h-4.55zM736.0 271.6h4.55v4.55h-4.55zM740.4 271.6h4.55v4.55h-4.55zM749.2 271.6h4.55v4.55h-4.55zM753.6 271.6h4.55v4.55h-4.55zM758.0 271.6h4.55v4.55h-4.55zM762.4 271.6h4.55v4.55h-4.55zM766.8 271.6h4.55v4.55h-4.55zM771.2 271.6h4.55v4.55h-4.55zM775.6 271.6h4.55v4.55h-4.55zM780.0 271.6h4.55v4.55h-4.55zM784.4 271.6h4.55v4.55h-4.55zM788.8 271.6h4.55v4.55h-4.55zM806.4 271.6h4.55v4.55h-4.55zM810.8 271.6h4.55v4.55h-4.55zM815.2 271.6h4.55v4.55h-4.55zM819.6 271.6h4.55v4.55h-4.55zM674.4 276.0h4.55v4.55h-4.55zM678.8 276.0h4.55v4.55h-4.55zM683.2 276.0h4.55v4.55h-4.55zM687.6 276.0h4.55v4.55h-4.55zM692.0 276.0h4.55v4.55h-4.55zM696.4 276.0h4.55v4.55h-4.55zM709.6 276.0h4.55v4.55h-4.55zM722.8 276.0h4.55v4.55h-4.55zM727.2 276.0h4.55v4.55h-4.55zM736.0 276.0h4.55v4.55h-4.55zM740.4 276.0h4.55v4.55h-4.55zM744.8 276.0h4.55v4.55h-4.55zM749.2 276.0h4.55v4.55h-4.55zM762.4 276.0h4.55v4.55h-4.55zM766.8 276.0h4.55v4.55h-4.55zM771.2 276.0h4.55v4.55h-4.55zM775.6 276.0h4.55v4.55h-4.55zM780.0 276.0h4.55v4.55h-4.55zM784.4 276.0h4.55v4.55h-4.55zM788.8 276.0h4.55v4.55h-4.55zM797.6 276.0h4.55v4.55h-4.55zM802.0 276.0h4.55v4.55h-4.55zM806.4 276.0h4.55v4.55h-4.55zM674.4 280.4h4.55v4.55h-4.55zM683.2 280.4h4.55v4.55h-4.55zM687.6 280.4h4.55v4.55h-4.55zM696.4 280.4h4.55v4.55h-4.55zM705.2 280.4h4.55v4.55h-4.55zM709.6 280.4h4.55v4.55h-4.55zM714.0 280.4h4.55v4.55h-4.55zM718.4 280.4h4.55v4.55h-4.55zM727.2 280.4h4.55v4.55h-4.55zM736.0 280.4h4.55v4.55h-4.55zM749.2 280.4h4.55v4.55h-4.55zM753.6 280.4h4.55v4.55h-4.55zM758.0 280.4h4.55v4.55h-4.55zM762.4 280.4h4.55v4.55h-4.55zM766.8 280.4h4.55v4.55h-4.55zM771.2 280.4h4.55v4.55h-4.55zM775.6 280.4h4.55v4.55h-4.55zM780.0 280.4h4.55v4.55h-4.55zM788.8 280.4h4.55v4.55h-4.55zM797.6 280.4h4.55v4.55h-4.55zM806.4 280.4h4.55v4.55h-4.55zM815.2 280.4h4.55v4.55h-4.55zM819.6 280.4h4.55v4.55h-4.55zM824.0 280.4h4.55v4.55h-4.55zM670.0 284.8h4.55v4.55h-4.55zM674.4 284.8h4.55v4.55h-4.55zM678.8 284.8h4.55v4.55h-4.55zM683.2 284.8h4.55v4.55h-4.55zM692.0 284.8h4.55v4.55h-4.55zM696.4 284.8h4.55v4.55h-4.55zM700.8 284.8h4.55v4.55h-4.55zM705.2 284.8h4.55v4.55h-4.55zM714.0 284.8h4.55v4.55h-4.55zM718.4 284.8h4.55v4.55h-4.55zM722.8 284.8h4.55v4.55h-4.55zM727.2 284.8h4.55v4.55h-4.55zM731.6 284.8h4.55v4.55h-4.55zM736.0 284.8h4.55v4.55h-4.55zM740.4 284.8h4.55v4.55h-4.55zM744.8 284.8h4.55v4.55h-4.55zM749.2 284.8h4.55v4.55h-4.55zM753.6 284.8h4.55v4.55h-4.55zM758.0 284.8h4.55v4.55h-4.55zM766.8 284.8h4.55v4.55h-4.55zM784.4 284.8h4.55v4.55h-4.55zM788.8 284.8h4.55v4.55h-4.55zM797.6 284.8h4.55v4.55h-4.55zM802.0 284.8h4.55v4.55h-4.55zM806.4 284.8h4.55v4.55h-4.55zM810.8 284.8h4.55v4.55h-4.55zM674.4 289.2h4.55v4.55h-4.55zM683.2 289.2h4.55v4.55h-4.55zM687.6 289.2h4.55v4.55h-4.55zM692.0 289.2h4.55v4.55h-4.55zM700.8 289.2h4.55v4.55h-4.55zM705.2 289.2h4.55v4.55h-4.55zM709.6 289.2h4.55v4.55h-4.55zM714.0 289.2h4.55v4.55h-4.55zM718.4 289.2h4.55v4.55h-4.55zM722.8 289.2h4.55v4.55h-4.55zM727.2 289.2h4.55v4.55h-4.55zM731.6 289.2h4.55v4.55h-4.55zM736.0 289.2h4.55v4.55h-4.55zM740.4 289.2h4.55v4.55h-4.55zM744.8 289.2h4.55v4.55h-4.55zM749.2 289.2h4.55v4.55h-4.55zM753.6 289.2h4.55v4.55h-4.55zM758.0 289.2h4.55v4.55h-4.55zM762.4 289.2h4.55v4.55h-4.55zM766.8 289.2h4.55v4.55h-4.55zM771.2 289.2h4.55v4.55h-4.55zM780.0 289.2h4.55v4.55h-4.55zM788.8 289.2h4.55v4.55h-4.55z" fill="#0c0c8c"/>
<path d="M819.6 82.4h4.55v4.55h-4.55zM854.8 82.4h4.55v4.55h-4.55zM868.0 82.4h4.55v4.55h-4.55zM854.8 86.8h4.55v4.55h-4.55zM859.2 86.8h4.55v4.55h-4.55zM837.2 91.2h4.55v4.55h-4.55zM850.4 91.2h4.55v4.55h-4.55zM824.0 100.0h4.55v4.55h-4.55zM832.8 100.0h4.55v4.55h-4.55zM907.6 100.0h4.55v4.55h-4.55zM806.4 104.4h4.55v4.55h-4.55zM815.2 104.4h4.55v4.55h-4.55zM846.0 104.4h4.55v4.55h-4.55zM824.0 108.8h4.55v4.55h-4.55zM846.0 108.8h4.55v4.55h-4.55zM850.4 108.8h4.55v4.55h-4.55zM894.4 108.8h4.55v4.55h-4.55zM850.4 113.2h4.55v4.55h-4.55zM876.8 113.2h4.55v4.55h-4.55zM824.0 117.6h4.55v4.55h-4.55zM876.8 117.6h4.55v4.55h-4.55zM837.2 122.0h4.55v4.55h-4.55zM854.8 122.0h4.55v4.55h-4.55zM872.4 122.0h4.55v4.55h-4.55zM876.8 122.0h4.55v4.55h-4.55zM885.6 122.0h4.55v4.55h-4.55zM837.2 126.4h4.55v4.55h-4.55zM907.6 126.4h4.55v4.55h-4.55zM859.2 130.8h4.55v4.55h-4.55zM788.8 135.2h4.55v4.55h-4.55zM828.4 135.2h4.55v4.55h-4.55zM837.2 139.6h4.55v4.55h-4.55zM841.6 139.6h4.55v4.55h-4.55zM872.4 139.6h4.55v4.55h-4.55zM894.4 139.6h4.55v4.55h-4.55zM832.8 144.0h4.55v4.55h-4.55zM832.8 148.4h4.55v4.55h-4.55zM837.2 148.4h4.55v4.55h-4.55zM846.0 152.8h4.55v4.55h-4.55zM832.8 157.2h4.55v4.55h-4.55zM841.6 157.2h4.55v4.55h-4.55zM846.0 157.2h4.55v4.55h-4.55zM868.0 157.2h4.55v4.55h-4.55zM854.8 166.0h4.55v4.55h-4.55zM881.2 166.0h4.55v4.55h-4.55zM832.8 170.4h4.55v4.55h-4.55zM872.4 170.4h4.55v4.55h-4.55zM907.6 170.4h4.55v4.55h-4.55zM815.2 174.8h4.55v4.55h-4.55zM846.0 174.8h4.55v4.55h-4.55zM872.4 174.8h4.55v4.55h-4.55zM824.0 179.2h4.55v4.55h-4.55zM802.0 183.6h4.55v4.55h-4.55zM837.2 183.6h4.55v4.55h-4.55zM876.8 183.6h4.55v4.55h-4.55zM824.0 188.0h4.55v4.55h-4.55zM815.2 192.4h4.55v4.55h-4.55zM854.8 192.4h4.55v4.55h-4.55zM863.6 192.4h4.55v4.55h-4.55zM868.0 196.8h4.55v4.55h-4.55zM797.6 201.2h4.55v4.55h-4.55zM802.0 201.2h4.55v4.55h-4.55zM881.2 201.2h4.55v4.55h-4.55zM802.0 205.6h4.55v4.55h-4.55zM846.0 205.6h4.55v4.55h-4.55zM854.8 205.6h4.55v4.55h-4.55zM863.6 205.6h4.55v4.55h-4.55zM788.8 210.0h4.55v4.55h-4.55zM828.4 210.0h4.55v4.55h-4.55zM837.2 210.0h4.55v4.55h-4.55zM859.2 210.0h4.55v4.55h-4.55zM872.4 210.0h4.55v4.55h-4.55zM881.2 210.0h4.55v4.55h-4.55zM846.0 214.4h4.55v4.55h-4.55zM854.8 214.4h4.55v4.55h-4.55zM859.2 218.8h4.55v4.55h-4.55zM863.6 218.8h4.55v4.55h-4.55zM868.0 218.8h4.55v4.55h-4.55zM841.6 223.2h4.55v4.55h-4.55zM876.8 223.2h4.55v4.55h-4.55zM881.2 223.2h4.55v4.55h-4.55zM876.8 227.6h4.55v4.55h-4.55zM903.2 227.6h4.55v4.55h-4.55zM802.0 232.0h4.55v4.55h-4.55zM819.6 232.0h4.55v4.55h-4.55zM841.6 232.0h4.55v4.55h-4.55zM854.8 232.0h4.55v4.55h-4.55zM881.2 232.0h4.55v4.55h-4.55zM903.2 232.0h4.55v4.55h-4.55zM859.2 236.4h4.55v4.55h-4.55zM872.4 236.4h4.55v4.55h-4.55zM868.0 240.8h4.55v4.55h-4.55zM876.8 240.8h4.55v4.55h-4.55zM916.4 240.8h4.55v4.55h-4.55zM876.8 245.2h4.55v4.55h-4.55zM894.4 245.2h4.55v4.55h-4.55zM898.8 245.2h4.55v4.55h-4.55zM916.4 245.2h4.55v4.55h-4.55zM815.2 249.6h4.55v4.55h-4.55zM850.4 249.6h4.55v4.55h-4.55zM859.2 249.6h4.55v4.55h-4.55zM868.0 249.6h4.55v4.55h-4.55zM872.4 249.6h4.55v4.55h-4.55zM863.6 254.0h4.55v4.55h-4.55zM863.6 258.4h4.55v4.55h-4.55zM828.4 262.8h4.55v4.55h-4.55zM890.0 262.8h4.55v4.55h-4.55zM802.0 267.2h4.55v4.55h-4.55zM828.4 267.2h4.55v4.55h-4.55zM832.8 267.2h4.55v4.55h-4.55zM854.8 267.2h4.55v4.55h-4.55zM863.6 267.2h4.55v4.55h-4.55zM872.4 267.2h4.55v4.55h-4.55zM881.2 267.2h4.55v4.55h-4.55zM894.4 267.2h4.55v4.55h-4.55zM916.4 267.2h4.55v4.55h-4.55zM872.4 271.6h4.55v4.55h-4.55zM894.4 271.6h4.55v4.55h-4.55zM903.2 271.6h4.55v4.55h-4.55zM824.0 276.0h4.55v4.55h-4.55zM846.0 276.0h4.55v4.55h-4.55zM854.8 276.0h4.55v4.55h-4.55zM885.6 276.0h4.55v4.55h-4.55zM903.2 276.0h4.55v4.55h-4.55zM907.6 276.0h4.55v4.55h-4.55zM854.8 280.4h4.55v4.55h-4.55zM868.0 280.4h4.55v4.55h-4.55zM885.6 280.4h4.55v4.55h-4.55zM890.0 280.4h4.55v4.55h-4.55zM903.2 280.4h4.55v4.55h-4.55zM907.6 280.4h4.55v4.55h-4.55zM916.4 280.4h4.55v4.55h-4.55zM824.0 284.8h4.55v4.55h-4.55zM828.4 284.8h4.55v4.55h-4.55zM832.8 284.8h4.55v4.55h-4.55zM850.4 284.8h4.55v4.55h-4.55zM872.4 284.8h4.55v4.55h-4.55zM810.8 289.2h4.55v4.55h-4.55zM815.2 289.2h4.55v4.55h-4.55zM824.0 289.2h4.55v4.55h-4.55zM859.2 289.2h4.55v4.55h-4.55zM868.0 289.2h4.55v4.55h-4.55zM670.0 293.6h4.55v4.55h-4.55zM678.8 293.6h4.55v4.55h-4.55zM683.2 293.6h4.55v4.55h-4.55zM692.0 293.6h4.55v4.55h-4.55zM709.6 293.6h4.55v4.55h-4.55zM722.8 293.6h4.55v4.55h-4.55zM727.2 293.6h4.55v4.55h-4.55zM753.6 293.6h4.55v4.55h-4.55zM762.4 293.6h4.55v4.55h-4.55zM771.2 293.6h4.55v4.55h-4.55zM780.0 293.6h4.55v4.55h-4.55zM784.4 293.6h4.55v4.55h-4.55zM687.6 298.0h4.55v4.55h-4.55zM705.2 298.0h4.55v4.55h-4.55zM731.6 298.0h4.55v4.55h-4.55zM753.6 298.0h4.55v4.55h-4.55zM771.2 298.0h4.55v4.55h-4.55zM775.6 298.0h4.55v4.55h-4.55zM784.4 298.0h4.55v4.55h-4.55zM753.6 302.4h4.55v4.55h-4.55zM912.0 302.4h4.55v4.55h-4.55zM876.8 306.8h4.55v4.55h-4.55zM890.0 306.8h4.55v4.55h-4.55zM898.8 306.8h4.55v4.55h-4.55zM903.2 306.8h4.55v4.55h-4.55zM907.6 306.8h4.55v4.55h-4.55zM872.4 311.2h4.55v4.55h-4.55zM876.8 311.2h4.55v4.55h-4.55zM894.4 311.2h4.55v4.55h-4.55zM898.8 311.2h4.55v4.55h-4.55zM907.6 311.2h4.55v4.55h-4.55zM916.4 311.2h4.55v4.55h-4.55zM788.8 315.6h4.55v4.55h-4.55zM837.2 315.6h4.55v4.55h-4.55zM868.0 315.6h4.55v4.55h-4.55zM876.8 315.6h4.55v4.55h-4.55zM894.4 315.6h4.55v4.55h-4.55zM903.2 315.6h4.55v4.55h-4.55zM916.4 315.6h4.55v4.55h-4.55zM656.8 320.0h4.55v4.55h-4.55zM696.4 320.0h4.55v4.55h-4.55zM718.4 320.0h4.55v4.55h-4.55zM797.6 320.0h4.55v4.55h-4.55zM802.0 320.0h4.55v4.55h-4.55zM819.6 320.0h4.55v4.55h-4.55zM824.0 320.0h4.55v4.55h-4.55zM868.0 320.0h4.55v4.55h-4.55zM876.8 320.0h4.55v4.55h-4.55zM885.6 320.0h4.55v4.55h-4.55zM903.2 320.0h4.55v4.55h-4.55zM907.6 320.0h4.55v4.55h-4.55zM912.0 320.0h4.55v4.55h-4.55zM916.4 320.0h4.55v4.55h-4.55zM709.6 324.4h4.55v4.55h-4.55zM718.4 324.4h4.55v4.55h-4.55zM722.8 324.4h4.55v4.55h-4.55zM731.6 324.4h4.55v4.55h-4.55zM766.8 324.4h4.55v4.55h-4.55zM802.0 324.4h4.55v4.55h-4.55zM810.8 324.4h4.55v4.55h-4.55zM815.2 324.4h4.55v4.55h-4.55zM824.0 324.4h4.55v4.55h-4.55zM837.2 324.4h4.55v4.55h-4.55zM854.8 324.4h4.55v4.55h-4.55zM868.0 324.4h4.55v4.55h-4.55zM890.0 324.4h4.55v4.55h-4.55zM894.4 324.4h4.55v4.55h-4.55zM907.6 324.4h4.55v4.55h-4.55zM705.2 328.8h4.55v4.55h-4.55zM709.6 328.8h4.55v4.55h-4.55zM718.4 328.8h4.55v4.55h-4.55zM722.8 328.8h4.55v4.55h-4.55zM744.8 328.8h4.55v4.55h-4.55zM762.4 328.8h4.55v4.55h-4.55zM775.6 328.8h4.55v4.55h-4.55zM793.2 328.8h4.55v4.55h-4.55zM806.4 328.8h4.55v4.55h-4.55zM810.8 328.8h4.55v4.55h-4.55zM824.0 328.8h4.55v4.55h-4.55zM828.4 328.8h4.55v4.55h-4.55zM841.6 328.8h4.55v4.55h-4.55zM850.4 328.8h4.55v4.55h-4.55zM868.0 328.8h4.55v4.55h-4.55zM872.4 328.8h4.55v4.55h-4.55zM876.8 328.8h4.55v4.55h-4.55zM881.2 328.8h4.55v4.55h-4.55zM890.0 328.8h4.55v4.55h-4.55zM894.4 328.8h4.55v4.55h-4.55zM903.2 328.8h4.55v4.55h-4.55zM912.0 328.8h4.55v4.55h-4.55zM762.4 333.2h4.55v4.55h-4.55zM771.2 333.2h4.55v4.55h-4.55zM775.6 333.2h4.55v4.55h-4.55zM788.8 333.2h4.55v4.55h-4.55zM810.8 333.2h4.55v4.55h-4.55zM828.4 333.2h4.55v4.55h-4.55zM846.0 333.2h4.55v4.55h-4.55zM885.6 333.2h4.55v4.55h-4.55zM890.0 333.2h4.55v4.55h-4.55zM894.4 333.2h4.55v4.55h-4.55zM907.6 333.2h4.55v4.55h-4.55zM661.2 337.6h4.55v4.55h-4.55zM692.0 337.6h4.55v4.55h-4.55zM696.4 337.6h4.55v4.55h-4.55zM709.6 337.6h4.55v4.55h-4.55zM714.0 337.6h4.55v4.55h-4.55zM727.2 337.6h4.55v4.55h-4.55zM736.0 337.6h4.55v4.55h-4.55zM744.8 337.6h4.55v4.55h-4.55zM758.0 337.6h4.55v4.55h-4.55zM775.6 337.6h4.55v4.55h-4.55zM780.0 337.6h4.55v4.55h-4.55zM793.2 337.6h4.55v4.55h-4.55zM802.0 337.6h4.55v4.55h-4.55zM806.4 337.6h4.55v4.55h-4.55zM819.6 337.6h4.55v4.55h-4.55zM837.2 337.6h4.55v4.55h-4.55zM846.0 337.6h4.55v4.55h-4.55zM850.4 337.6h4.55v4.55h-4.55zM859.2 337.6h4.55v4.55h-4.55zM872.4 337.6h4.55v4.55h-4.55zM890.0 337.6h4.55v4.55h-4.55zM907.6 337.6h4.55v4.55h-4.55zM692.0 342.0h4.55v4.55h-4.55zM714.0 342.0h4.55v4.55h-4.55zM718.4 342.0h4.55v4.55h-4.55zM727.2 342.0h4.55v4.55h-4.55zM731.6 342.0h4.55v4.55h-4.55zM736.0 342.0h4.55v4.55h-4.55zM758.0 342.0h4.55v4.55h-4.55zM762.4 342.0h4.55v4.55h-4.55zM766.8 342.0h4.55v4.55h-4.55zM771.2 342.0h4.55v4.55h-4.55zM784.4 342.0h4.55v4.55h-4.55zM793.2 342.0h4.55v4.55h-4.55zM802.0 342.0h4.55v4.55h-4.55zM806.4 342.0h4.55v4.55h-4.55zM810.8 342.0h4.55v4.55h-4.55zM815.2 342.0h4.55v4.55h-4.55zM832.8 342.0h4.55v4.55h-4.55zM876.8 342.0h4.55v4.55h-4.55zM890.0 342.0h4.55v4.55h-4.55zM678.8 346.4h4.55v4.55h-4.55zM683.2 346.4h4.55v4.55h-4.55zM687.6 346.4h4.55v4.55h-4.55zM705.2 346.4h4.55v4.55h-4.55zM722.8 346.4h4.55v4.55h-4.55zM740.4 346.4h4.55v4.55h-4.55zM753.6 346.4h4.55v4.55h-4.55zM758.0 346.4h4.55v4.55h-4.55zM762.4 346.4h4.55v4.55h-4.55zM771.2 346.4h4.55v4.55h-4.55zM780.0 346.4h4.55v4.55h-4.55zM784.4 346.4h4.55v4.55h-4.55zM806.4 346.4h4.55v4.55h-4.55zM815.2 346.4h4.55v4.55h-4.55zM819.6 346.4h4.55v4.55h-4.55zM824.0 346.4h4.55v4.55h-4.55zM828.4 346.4h4.55v4.55h-4.55zM841.6 346.4h4.55v4.55h-4.55zM854.8 346.4h4.55v4.55h-4.55zM881.2 346.4h4.55v4.55h-4.55zM903.2 346.4h4.55v4.55h-4.55zM907.6 346.4h4.55v4.55h-4.55zM670.0 350.8h4.55v4.55h-4.55zM705.2 350.8h4.55v4.55h-4.55zM753.6 350.8h4.55v4.55h-4.55zM766.8 350.8h4.55v4.55h-4.55zM775.6 350.8h4.55v4.55h-4.55zM784.4 350.8h4.55v4.55h-4.55zM793.2 350.8h4.55v4.55h-4.55zM802.0 350.8h4.55v4.55h-4.55zM815.2 350.8h4.55v4.55h-4.55zM832.8 350.8h4.55v4.55h-4.55zM894.4 350.8h4.55v4.55h-4.55zM683.2 355.2h4.55v4.55h-4.55zM731.6 355.2h4.55v4.55h-4.55zM736.0 355.2h4.55v4.55h-4.55zM749.2 355.2h4.55v4.55h-4.55zM753.6 355.2h4.55v4.55h-4.55zM766.8 355.2h4.55v4.55h-4.55zM775.6 355.2h4.55v4.55h-4.55zM788.8 355.2h4.55v4.55h-4.55zM793.2 355.2h4.55v4.55h-4.55zM810.8 355.2h4.55v4.55h-4.55zM815.2 355.2h4.55v4.55h-4.55zM819.6 355.2h4.55v4.55h-4.55zM837.2 355.2h4.55v4.55h-4.55zM850.4 355.2h4.55v4.55h-4.55zM868.0 355.2h4.55v4.55h-4.55zM881.2 355.2h4.55v4.55h-4.55zM890.0 355.2h4.55v4.55h-4.55zM894.4 355.2h4.55v4.55h-4.55zM907.6 355.2h4.55v4.55h-4.55zM912.0 355.2h4.55v4.55h-4.55zM656.8 359.6h4.55v4.55h-4.55zM665.6 359.6h4.55v4.55h-4.55zM696.4 359.6h4.55v4.55h-4.55zM714.0 359.6h4.55v4.55h-4.55zM718.4 359.6h4.55v4.55h-4.55zM722.8 359.6h4.55v4.55h-4.55zM744.8 359.6h4.55v4.55h-4.55zM758.0 359.6h4.55v4.55h-4.55zM771.2 359.6h4.55v4.55h-4.55zM775.6 359.6h4.55v4.55h-4.55zM802.0 359.6h4.55v4.55h-4.55zM806.4 359.6h4.55v4.55h-4.55zM810.8 359.6h4.55v4.55h-4.55zM819.6 359.6h4.55v4.55h-4.55zM670.0 364.0h4.55v4.55h-4.55zM687.6 364.0h4.55v4.55h-4.55z" fill="#0a6a10"/>
<path d="M907.6 82.4h4.55v4.55h-4.55zM881.2 95.6h4.55v4.55h-4.55zM903.2 95.6h4.55v4.55h-4.55zM898.8 104.4h4.55v4.55h-4.55zM872.4 108.8h4.55v4.55h-4.55zM903.2 108.8h4.55v4.55h-4.55zM907.6 108.8h4.55v4.55h-4.55zM885.6 117.6h4.55v4.55h-4.55zM907.6 122.0h4.55v4.55h-4.55zM872.4 126.4h4.55v4.55h-4.55zM885.6 148.4h4.55v4.55h-4.55zM868.0 161.6h4.55v4.55h-4.55zM898.8 166.0h4.55v4.55h-4.55zM876.8 170.4h4.55v4.55h-4.55zM894.4 170.4h4.55v4.55h-4.55zM907.6 179.2h4.55v4.55h-4.55zM912.0 183.6h4.55v4.55h-4.55zM894.4 188.0h4.55v4.55h-4.55zM885.6 192.4h4.55v4.55h-4.55zM894.4 192.4h4.55v4.55h-4.55zM903.2 192.4h4.55v4.55h-4.55zM912.0 192.4h4.55v4.55h-4.55zM872.4 205.6h4.55v4.55h-4.55zM898.8 218.8h4.55v4.55h-4.55zM907.6 218.8h4.55v4.55h-4.55zM868.0 227.6h4.55v4.55h-4.55zM890.0 227.6h4.55v4.55h-4.55zM907.6 240.8h4.55v4.55h-4.55zM907.6 245.2h4.55v4.55h-4.55zM881.2 249.6h4.55v4.55h-4.55zM876.8 262.8h4.55v4.55h-4.55zM850.4 267.2h4.55v4.55h-4.55zM903.2 267.2h4.55v4.55h-4.55zM907.6 267.2h4.55v4.55h-4.55zM868.0 271.6h4.55v4.55h-4.55zM898.8 271.6h4.55v4.55h-4.55zM890.0 284.8h4.55v4.55h-4.55zM903.2 284.8h4.55v4.55h-4.55zM907.6 284.8h4.55v4.55h-4.55zM912.0 284.8h4.55v4.55h-4.55zM916.4 284.8h4.55v4.55h-4.55zM837.2 289.2h4.55v4.55h-4.55zM872.4 289.2h4.55v4.55h-4.55zM881.2 289.2h4.55v4.55h-4.55zM885.6 289.2h4.55v4.55h-4.55zM898.8 289.2h4.55v4.55h-4.55zM903.2 289.2h4.55v4.55h-4.55zM815.2 293.6h4.55v4.55h-4.55zM824.0 293.6h4.55v4.55h-4.55zM828.4 293.6h4.55v4.55h-4.55zM854.8 293.6h4.55v4.55h-4.55zM872.4 293.6h4.55v4.55h-4.55zM881.2 293.6h4.55v4.55h-4.55zM885.6 293.6h4.55v4.55h-4.55zM890.0 293.6h4.55v4.55h-4.55zM894.4 293.6h4.55v4.55h-4.55zM898.8 293.6h4.55v4.55h-4.55zM903.2 293.6h4.55v4.55h-4.55zM912.0 293.6h4.55v4.55h-4.55zM916.4 293.6h4.55v4.55h-4.55zM665.6 298.0h4.55v4.55h-4.55zM670.0 298.0h4.55v4.55h-4.55zM678.8 298.0h4.55v4.55h-4.55zM692.0 298.0h4.55v4.55h-4.55zM696.4 298.0h4.55v4.55h-4.55zM700.8 298.0h4.55v4.55h-4.55zM718.4 298.0h4.55v4.55h-4.55zM727.2 298.0h4.55v4.55h-4.55zM780.0 298.0h4.55v4.55h-4.55zM788.8 298.0h4.55v4.55h-4.55zM802.0 298.0h4.55v4.55h-4.55zM806.4 298.0h4.55v4.55h-4.55zM810.8 298.0h4.55v4.55h-4.55zM832.8 298.0h4.55v4.55h-4.55zM837.2 298.0h4.55v4.55h-4.55zM894.4 298.0h4.55v4.55h-4.55zM912.0 298.0h4.55v4.55h-4.55zM661.2 302.4h4.55v4.55h-4.55zM683.2 302.4h4.55v4.55h-4.55zM687.6 302.4h4.55v4.55h-4.55zM705.2 302.4h4.55v4.55h-4.55zM709.6 302.4h4.55v4.55h-4.55zM714.0 302.4h4.55v4.55h-4.55zM722.8 302.4h4.55v4.55h-4.55zM731.6 302.4h4.55v4.55h-4.55zM736.0 302.4h4.55v4.55h-4.55zM744.8 302.4h4.55v4.55h-4.55zM749.2 302.4h4.55v4.55h-4.55zM784.4 302.4h4.55v4.55h-4.55zM788.8 302.4h4.55v4.55h-4.55zM793.2 302.4h4.55v4.55h-4.55zM806.4 302.4h4.55v4.55h-4.55zM815.2 302.4h4.55v4.55h-4.55zM819.6 302.4h4.55v4.55h-4.55zM832.8 302.4h4.55v4.55h-4.55zM841.6 302.4h4.55v4.55h-4.55zM850.4 302.4h4.55v4.55h-4.55zM854.8 302.4h4.55v4.55h-4.55zM859.2 302.4h4.55v4.55h-4.55zM863.6 302.4h4.55v4.55h-4.55zM872.4 302.4h4.55v4.55h-4.55zM876.8 302.4h4.55v4.55h-4.55zM890.0 302.4h4.55v4.55h-4.55zM670.0 306.8h4.55v4.55h-4.55zM683.2 306.8h4.55v4.55h-4.55zM687.6 306.8h4.55v4.55h-4.55zM709.6 306.8h4.55v4.55h-4.55zM714.0 306.8h4.55v4.55h-4.55zM722.8 306.8h4.55v4.55h-4.55zM727.2 306.8h4.55v4.55h-4.55zM736.0 306.8h4.55v4.55h-4.55zM749.2 306.8h4.55v4.55h-4.55zM753.6 306.8h4.55v4.55h-4.55zM771.2 306.8h4.55v4.55h-4.55zM806.4 306.8h4.55v4.55h-4.55zM810.8 306.8h4.55v4.55h-4.55zM819.6 306.8h4.55v4.55h-4.55zM837.2 306.8h4.55v4.55h-4.55zM841.6 306.8h4.55v4.55h-4.55zM846.0 306.8h4.55v4.55h-4.55zM863.6 306.8h4.55v4.55h-4.55zM670.0 311.2h4.55v4.55h-4.55zM674.4 311.2h4.55v4.55h-4.55zM683.2 311.2h4.55v4.55h-4.55zM692.0 311.2h4.55v4.55h-4.55zM709.6 311.2h4.55v4.55h-4.55zM714.0 311.2h4.55v4.55h-4.55zM722.8 311.2h4.55v4.55h-4.55zM736.0 311.2h4.55v4.55h-4.55zM744.8 311.2h4.55v4.55h-4.55zM749.2 311.2h4.55v4.55h-4.55zM766.8 311.2h4.55v4.55h-4.55zM771.2 311.2h4.55v4.55h-4.55zM775.6 311.2h4.55v4.55h-4.55zM780.0 311.2h4.55v4.55h-4.55zM788.8 311.2h4.55v4.55h-4.55zM797.6 311.2h4.55v4.55h-4.55zM815.2 311.2h4.55v4.55h-4.55zM837.2 311.2h4.55v4.55h-4.55zM841.6 311.2h4.55v4.55h-4.55zM661.2 315.6h4.55v4.55h-4.55zM674.4 315.6h4.55v4.55h-4.55zM678.8 315.6h4.55v4.55h-4.55zM683.2 315.6h4.55v4.55h-4.55zM692.0 315.6h4.55v4.55h-4.55zM700.8 315.6h4.55v4.55h-4.55zM705.2 315.6h4.55v4.55h-4.55zM718.4 315.6h4.55v4.55h-4.55zM722.8 315.6h4.55v4.55h-4.55zM736.0 315.6h4.55v4.55h-4.55zM740.4 315.6h4.55v4.55h-4.55zM744.8 315.6h4.55v4.55h-4.55zM771.2 315.6h4.55v4.55h-4.55zM793.2 315.6h4.55v4.55h-4.55zM810.8 315.6h4.55v4.55h-4.55zM885.6 315.6h4.55v4.55h-4.55zM907.6 315.6h4.55v4.55h-4.55zM678.8 320.0h4.55v4.55h-4.55zM700.8 320.0h4.55v4.55h-4.55zM705.2 320.0h4.55v4.55h-4.55zM727.2 320.0h4.55v4.55h-4.55zM736.0 320.0h4.55v4.55h-4.55zM749.2 320.0h4.55v4.55h-4.55zM758.0 320.0h4.55v4.55h-4.55zM766.8 320.0h4.55v4.55h-4.55zM771.2 320.0h4.55v4.55h-4.55zM775.6 320.0h4.55v4.55h-4.55zM898.8 320.0h4.55v4.55h-4.55zM652.4 324.4h4.55v4.55h-4.55zM670.0 324.4h4.55v4.55h-4.55zM678.8 324.4h4.55v4.55h-4.55zM687.6 324.4h4.55v4.55h-4.55zM744.8 324.4h4.55v4.55h-4.55zM758.0 324.4h4.55v4.55h-4.55zM780.0 324.4h4.55v4.55h-4.55zM872.4 324.4h4.55v4.55h-4.55zM912.0 324.4h4.55v4.55h-4.55zM661.2 328.8h4.55v4.55h-4.55zM674.4 328.8h4.55v4.55h-4.55zM700.8 328.8h4.55v4.55h-4.55zM648.0 333.2h4.55v4.55h-4.55zM674.4 333.2h4.55v4.55h-4.55zM678.8 333.2h4.55v4.55h-4.55zM705.2 333.2h4.55v4.55h-4.55zM731.6 333.2h4.55v4.55h-4.55zM758.0 333.2h4.55v4.55h-4.55zM854.8 333.2h4.55v4.55h-4.55zM656.8 337.6h4.55v4.55h-4.55zM678.8 337.6h4.55v4.55h-4.55zM784.4 337.6h4.55v4.55h-4.55zM788.8 337.6h4.55v4.55h-4.55zM648.0 342.0h4.55v4.55h-4.55zM661.2 342.0h4.55v4.55h-4.55zM665.6 342.0h4.55v4.55h-4.55zM780.0 342.0h4.55v4.55h-4.55zM788.8 342.0h4.55v4.55h-4.55zM639.2 346.4h4.55v4.55h-4.55zM665.6 346.4h4.55v4.55h-4.55zM674.4 346.4h4.55v4.55h-4.55zM709.6 346.4h4.55v4.55h-4.55zM736.0 346.4h4.55v4.55h-4.55zM648.0 350.8h4.55v4.55h-4.55zM665.6 350.8h4.55v4.55h-4.55zM850.4 350.8h4.55v4.55h-4.55zM912.0 350.8h4.55v4.55h-4.55zM661.2 355.2h4.55v4.55h-4.55zM678.8 355.2h4.55v4.55h-4.55zM722.8 355.2h4.55v4.55h-4.55zM740.4 355.2h4.55v4.55h-4.55zM758.0 355.2h4.55v4.55h-4.55zM784.4 355.2h4.55v4.55h-4.55zM828.4 355.2h4.55v4.55h-4.55zM841.6 355.2h4.55v4.55h-4.55zM898.8 355.2h4.55v4.55h-4.55zM639.2 359.6h4.55v4.55h-4.55zM652.4 359.6h4.55v4.55h-4.55zM740.4 359.6h4.55v4.55h-4.55zM766.8 359.6h4.55v4.55h-4.55zM665.6 364.0h4.55v4.55h-4.55z" fill="#c4dc10"/>
<path d="M881.2 284.8h4.55v4.55h-4.55zM806.4 293.6h4.55v4.55h-4.55zM819.6 293.6h4.55v4.55h-4.55zM832.8 293.6h4.55v4.55h-4.55zM868.0 293.6h4.55v4.55h-4.55zM824.0 298.0h4.55v4.55h-4.55zM828.4 298.0h4.55v4.55h-4.55zM854.8 298.0h4.55v4.55h-4.55zM872.4 298.0h4.55v4.55h-4.55zM876.8 298.0h4.55v4.55h-4.55zM890.0 298.0h4.55v4.55h-4.55zM758.0 302.4h4.55v4.55h-4.55zM771.2 302.4h4.55v4.55h-4.55zM692.0 306.8h4.55v4.55h-4.55zM696.4 306.8h4.55v4.55h-4.55zM731.6 306.8h4.55v4.55h-4.55zM758.0 306.8h4.55v4.55h-4.55zM788.8 306.8h4.55v4.55h-4.55zM854.8 306.8h4.55v4.55h-4.55zM696.4 311.2h4.55v4.55h-4.55zM727.2 311.2h4.55v4.55h-4.55zM810.8 311.2h4.55v4.55h-4.55zM762.4 315.6h4.55v4.55h-4.55zM766.8 315.6h4.55v4.55h-4.55zM784.4 315.6h4.55v4.55h-4.55zM731.6 320.0h4.55v4.55h-4.55z" fill="#f8f800"/>
<path d="M884 78 Q916 210 921 340" fill="none" stroke="#e0e0e0" stroke-width="1"/>
<path d="M630.4 78H921.7V369.5H630.4Z" fill="none" stroke="#c8c8c8" stroke-width="1.2"/>
<line x1="627.4" y1="369.5" x2="630.4" y2="369.5" stroke="#c8c8c8" stroke-width="1"/>
<text x="624.4" y="373.0" font-family="Liberation Sans" font-size="10" fill="#d8d8d8" text-anchor="end" font-weight="normal" >0</text>
<line x1="627.4" y1="311.2" x2="630.4" y2="311.2" stroke="#c8c8c8" stroke-width="1"/>
<text x="624.4" y="314.7" font-family="Liberation Sans" font-size="10" fill="#d8d8d8" text-anchor="end" font-weight="normal" >1</text>
<line x1="627.4" y1="252.9" x2="630.4" y2="252.9" stroke="#c8c8c8" stroke-width="1"/>
<text x="624.4" y="256.4" font-family="Liberation Sans" font-size="10" fill="#d8d8d8" text-anchor="end" font-weight="normal" >2</text>
<line x1="627.4" y1="194.6" x2="630.4" y2="194.6" stroke="#c8c8c8" stroke-width="1"/>
<text x="624.4" y="198.1" font-family="Liberation Sans" font-size="10" fill="#d8d8d8" text-anchor="end" font-weight="normal" >3</text>
<line x1="627.4" y1="136.3" x2="630.4" y2="136.3" stroke="#c8c8c8" stroke-width="1"/>
<text x="624.4" y="139.8" font-family="Liberation Sans" font-size="10" fill="#d8d8d8" text-anchor="end" font-weight="normal" >4</text>
<line x1="627.4" y1="78.0" x2="630.4" y2="78.0" stroke="#c8c8c8" stroke-width="1"/>
<text x="624.4" y="81.5" font-family="Liberation Sans" font-size="10" fill="#d8d8d8" text-anchor="end" font-weight="normal" >5</text>
<line x1="630.4" y1="369.5" x2="630.4" y2="373.5" stroke="#c8c8c8" stroke-width="1"/>
<line x1="921.7" y1="369.5" x2="921.7" y2="373.5" stroke="#c8c8c8" stroke-width="1"/>
<text transform="translate(608,224) rotate(-90)" font-family="Liberation Sans" font-size="9" fill="#d0d0d0" text-anchor="middle">Height (km)</text>
<text x="621.0" y="388.0" font-family="Liberation Sans" font-size="10" fill="#d8d8d8" text-anchor="start" font-weight="normal" >0 km</text>
<text x="911.0" y="388.0" font-family="Liberation Sans" font-size="10" fill="#d8d8d8" text-anchor="start" font-weight="normal" >10 km</text>
<text x="653.0" y="394.5" font-family="Liberation Sans" font-size="9" fill="#a0a0a0" text-anchor="start" font-weight="normal" >Rwy</text>
<text x="707.0" y="394.5" font-family="Liberation Sans" font-size="9" fill="#a0a0a0" text-anchor="start" font-weight="normal" >1NM</text>
<text x="759.0" y="394.5" font-family="Liberation Sans" font-size="9" fill="#a0a0a0" text-anchor="start" font-weight="normal" >2NM</text>
<text x="813.0" y="394.5" font-family="Liberation Sans" font-size="9" fill="#a0a0a0" text-anchor="start" font-weight="normal" >3NM</text>
<text x="680.0" y="407.0" font-family="Liberation Mono" font-size="9" fill="#c8c8c8" text-anchor="start" font-weight="normal" textLength="192" lengthAdjust="spacingAndGlyphs">Runway 25LA 3NM (Az 70 Degree) RHI Scan</text>
<text x="808.0" y="74.5" font-family="Liberation Mono" font-size="9" fill="#d0d0d0" text-anchor="start" font-weight="normal" textLength="113" lengthAdjust="spacingAndGlyphs">2008/10/20 04:58:42 UTC</text>
<text x="951.0" y="44.0" font-family="Liberation Sans" font-size="9" fill="#d8d8d8" text-anchor="middle" font-weight="normal" textLength="62" lengthAdjust="spacingAndGlyphs">Log Backscatter</text>
<text x="951.0" y="55.3" font-family="Liberation Sans" font-size="9" fill="#d8d8d8" text-anchor="middle" font-weight="normal" >Coefficient</text>
<text x="951" y="66.7" font-family="Liberation Sans" font-size="9" fill="#d8d8d8" text-anchor="middle">(m<tspan font-size="6.5" dy="-3.5">-1</tspan><tspan dy="3.5">sr</tspan><tspan font-size="6.5" dy="-3.5">-1</tspan><tspan dy="3.5">)</tspan></text>
<rect x="935" y="77.00" width="19" height="19.78" fill="#0c0c8c"/>
<rect x="935" y="96.48" width="19" height="19.78" fill="#0e2e60"/>
<rect x="935" y="115.96" width="19" height="19.78" fill="#0e4a3a"/>
<rect x="935" y="135.44" width="19" height="19.78" fill="#0a6a10"/>
<rect x="935" y="154.92" width="19" height="19.78" fill="#3c8c14"/>
<rect x="935" y="174.40" width="19" height="19.78" fill="#88b814"/>
<rect x="935" y="193.88" width="19" height="19.78" fill="#c4dc10"/>
<rect x="935" y="213.36" width="19" height="19.78" fill="#f8f800"/>
<rect x="935" y="232.84" width="19" height="19.78" fill="#e0cc00"/>
<rect x="935" y="252.32" width="19" height="19.78" fill="#c8a008"/>
<rect x="935" y="271.80" width="19" height="19.78" fill="#a87808"/>
<rect x="935" y="291.28" width="19" height="19.78" fill="#7a4408"/>
<rect x="935" y="310.76" width="19" height="19.78" fill="#b82810"/>
<rect x="935" y="330.24" width="19" height="19.78" fill="#dc1414"/>
<rect x="935" y="349.72" width="19" height="19.78" fill="#ff0c0c"/>
<text x="956.0" y="91.0" font-family="Liberation Sans" font-size="9" fill="#d8d8d8" text-anchor="start" font-weight="normal" >-7</text>
<text x="956.0" y="227.5" font-family="Liberation Sans" font-size="9" fill="#d8d8d8" text-anchor="start" font-weight="normal" >-6</text>
<text x="956.0" y="363.0" font-family="Liberation Sans" font-size="9" fill="#d8d8d8" text-anchor="start" font-weight="normal" >-5</text>
<rect x="33" y="824" width="432" height="416" fill="#000"/>
<path d="M258.3 878.3h4.65v4.65h-4.65zM262.8 878.3h4.65v4.65h-4.65zM249.3 882.8h4.65v4.65h-4.65zM253.8 882.8h4.65v4.65h-4.65zM267.3 882.8h4.65v4.65h-4.65zM240.3 887.3h4.65v4.65h-4.65zM258.3 896.3h4.65v4.65h-4.65zM235.8 900.8h4.65v4.65h-4.65zM262.8 900.8h4.65v4.65h-4.65zM271.8 900.8h4.65v4.65h-4.65zM280.8 900.8h4.65v4.65h-4.65zM222.3 905.3h4.65v4.65h-4.65zM231.3 905.3h4.65v4.65h-4.65zM235.8 905.3h4.65v4.65h-4.65zM240.3 905.3h4.65v4.65h-4.65zM249.3 905.3h4.65v4.65h-4.65zM217.8 909.8h4.65v4.65h-4.65zM226.8 909.8h4.65v4.65h-4.65zM231.3 914.3h4.65v4.65h-4.65zM285.3 914.3h4.65v4.65h-4.65zM213.3 918.8h4.65v4.65h-4.65zM222.3 918.8h4.65v4.65h-4.65zM235.8 918.8h4.65v4.65h-4.65zM253.8 918.8h4.65v4.65h-4.65zM267.3 918.8h4.65v4.65h-4.65zM208.8 923.3h4.65v4.65h-4.65zM213.3 923.3h4.65v4.65h-4.65zM235.8 923.3h4.65v4.65h-4.65zM267.3 923.3h4.65v4.65h-4.65zM222.3 927.8h4.65v4.65h-4.65zM253.8 927.8h4.65v4.65h-4.65zM208.8 932.3h4.65v4.65h-4.65zM235.8 932.3h4.65v4.65h-4.65zM208.8 936.8h4.65v4.65h-4.65zM226.8 936.8h4.65v4.65h-4.65zM208.8 941.3h4.65v4.65h-4.65zM217.8 941.3h4.65v4.65h-4.65zM208.8 945.8h4.65v4.65h-4.65zM280.8 945.8h4.65v4.65h-4.65zM285.3 945.8h4.65v4.65h-4.65zM222.3 950.3h4.65v4.65h-4.65zM231.3 950.3h4.65v4.65h-4.65zM199.8 954.8h4.65v4.65h-4.65zM235.8 954.8h4.65v4.65h-4.65zM204.3 959.3h4.65v4.65h-4.65zM231.3 959.3h4.65v4.65h-4.65zM235.8 959.3h4.65v4.65h-4.65zM262.8 959.3h4.65v4.65h-4.65zM280.8 959.3h4.65v4.65h-4.65zM190.8 963.8h4.65v4.65h-4.65zM199.8 963.8h4.65v4.65h-4.65zM217.8 963.8h4.65v4.65h-4.65zM226.8 963.8h4.65v4.65h-4.65zM240.3 963.8h4.65v4.65h-4.65zM208.8 968.3h4.65v4.65h-4.65zM226.8 968.3h4.65v4.65h-4.65zM235.8 968.3h4.65v4.65h-4.65zM253.8 968.3h4.65v4.65h-4.65zM258.3 968.3h4.65v4.65h-4.65zM199.8 972.8h4.65v4.65h-4.65zM217.8 972.8h4.65v4.65h-4.65zM231.3 972.8h4.65v4.65h-4.65zM249.3 972.8h4.65v4.65h-4.65zM208.8 977.3h4.65v4.65h-4.65zM213.3 977.3h4.65v4.65h-4.65zM235.8 977.3h4.65v4.65h-4.65zM240.3 977.3h4.65v4.65h-4.65zM186.3 981.8h4.65v4.65h-4.65zM190.8 981.8h4.65v4.65h-4.65zM195.3 981.8h4.65v4.65h-4.65zM213.3 981.8h4.65v4.65h-4.65zM217.8 981.8h4.65v4.65h-4.65zM222.3 981.8h4.65v4.65h-4.65zM240.3 981.8h4.65v4.65h-4.65zM289.8 981.8h4.65v4.65h-4.65zM190.8 986.3h4.65v4.65h-4.65zM204.3 986.3h4.65v4.65h-4.65zM217.8 986.3h4.65v4.65h-4.65zM235.8 986.3h4.65v4.65h-4.65zM240.3 986.3h4.65v4.65h-4.65zM249.3 986.3h4.65v4.65h-4.65zM262.8 986.3h4.65v4.65h-4.65zM312.3 986.3h4.65v4.65h-4.65zM181.8 990.8h4.65v4.65h-4.65zM190.8 990.8h4.65v4.65h-4.65zM195.3 990.8h4.65v4.65h-4.65zM204.3 990.8h4.65v4.65h-4.65zM208.8 990.8h4.65v4.65h-4.65zM213.3 990.8h4.65v4.65h-4.65zM217.8 990.8h4.65v4.65h-4.65zM222.3 990.8h4.65v4.65h-4.65zM226.8 990.8h4.65v4.65h-4.65zM231.3 990.8h4.65v4.65h-4.65zM244.8 990.8h4.65v4.65h-4.65zM249.3 990.8h4.65v4.65h-4.65zM258.3 990.8h4.65v4.65h-4.65zM262.8 990.8h4.65v4.65h-4.65zM307.8 990.8h4.65v4.65h-4.65zM312.3 990.8h4.65v4.65h-4.65zM357.3 990.8h4.65v4.65h-4.65zM177.3 995.3h4.65v4.65h-4.65zM181.8 995.3h4.65v4.65h-4.65zM186.3 995.3h4.65v4.65h-4.65zM195.3 995.3h4.65v4.65h-4.65zM199.8 995.3h4.65v4.65h-4.65zM204.3 995.3h4.65v4.65h-4.65zM208.8 995.3h4.65v4.65h-4.65zM213.3 995.3h4.65v4.65h-4.65zM217.8 995.3h4.65v4.65h-4.65zM222.3 995.3h4.65v4.65h-4.65zM226.8 995.3h4.65v4.65h-4.65zM231.3 995.3h4.65v4.65h-4.65zM240.3 995.3h4.65v4.65h-4.65zM244.8 995.3h4.65v4.65h-4.65zM249.3 995.3h4.65v4.65h-4.65zM258.3 995.3h4.65v4.65h-4.65zM262.8 995.3h4.65v4.65h-4.65zM267.3 995.3h4.65v4.65h-4.65zM276.3 995.3h4.65v4.65h-4.65zM285.3 995.3h4.65v4.65h-4.65zM325.8 995.3h4.65v4.65h-4.65zM172.8 999.8h4.65v4.65h-4.65zM177.3 999.8h4.65v4.65h-4.65zM181.8 999.8h4.65v4.65h-4.65zM186.3 999.8h4.65v4.65h-4.65zM195.3 999.8h4.65v4.65h-4.65zM199.8 999.8h4.65v4.65h-4.65zM208.8 999.8h4.65v4.65h-4.65zM213.3 999.8h4.65v4.65h-4.65zM217.8 999.8h4.65v4.65h-4.65zM222.3 999.8h4.65v4.65h-4.65zM226.8 999.8h4.65v4.65h-4.65zM231.3 999.8h4.65v4.65h-4.65zM244.8 999.8h4.65v4.65h-4.65zM249.3 999.8h4.65v4.65h-4.65zM253.8 999.8h4.65v4.65h-4.65zM262.8 999.8h4.65v4.65h-4.65zM276.3 999.8h4.65v4.65h-4.65zM312.3 999.8h4.65v4.65h-4.65zM330.3 999.8h4.65v4.65h-4.65zM366.3 999.8h4.65v4.65h-4.65zM172.8 1004.3h4.65v4.65h-4.65zM177.3 1004.3h4.65v4.65h-4.65zM186.3 1004.3h4.65v4.65h-4.65zM195.3 1004.3h4.65v4.65h-4.65zM199.8 1004.3h4.65v4.65h-4.65zM204.3 1004.3h4.65v4.65h-4.65zM208.8 1004.3h4.65v4.65h-4.65zM213.3 1004.3h4.65v4.65h-4.65zM217.8 1004.3h4.65v4.65h-4.65zM222.3 1004.3h4.65v4.65h-4.65zM226.8 1004.3h4.65v4.65h-4.65zM235.8 1004.3h4.65v4.65h-4.65zM240.3 1004.3h4.65v4.65h-4.65zM244.8 1004.3h4.65v4.65h-4.65zM249.3 1004.3h4.65v4.65h-4.65zM271.8 1004.3h4.65v4.65h-4.65zM280.8 1004.3h4.65v4.65h-4.65zM285.3 1004.3h4.65v4.65h-4.65zM298.8 1004.3h4.65v4.65h-4.65zM312.3 1004.3h4.65v4.65h-4.65zM348.3 1004.3h4.65v4.65h-4.65zM172.8 1008.8h4.65v4.65h-4.65zM177.3 1008.8h4.65v4.65h-4.65zM181.8 1008.8h4.65v4.65h-4.65zM195.3 1008.8h4.65v4.65h-4.65zM199.8 1008.8h4.65v4.65h-4.65zM204.3 1008.8h4.65v4.65h-4.65zM208.8 1008.8h4.65v4.65h-4.65zM222.3 1008.8h4.65v4.65h-4.65zM226.8 1008.8h4.65v4.65h-4.65zM231.3 1008.8h4.65v4.65h-4.65zM235.8 1008.8h4.65v4.65h-4.65zM240.3 1008.8h4.65v4.65h-4.65zM244.8 1008.8h4.65v4.65h-4.65zM249.3 1008.8h4.65v4.65h-4.65zM253.8 1008.8h4.65v4.65h-4.65zM262.8 1008.8h4.65v4.65h-4.65zM280.8 1008.8h4.65v4.65h-4.65zM289.8 1008.8h4.65v4.65h-4.65zM294.3 1008.8h4.65v4.65h-4.65zM321.3 1008.8h4.65v4.65h-4.65zM361.8 1008.8h4.65v4.65h-4.65zM375.3 1008.8h4.65v4.65h-4.65zM199.8 1013.3h4.65v4.65h-4.65zM208.8 1013.3h4.65v4.65h-4.65zM222.3 1013.3h4.65v4.65h-4.65zM226.8 1013.3h4.65v4.65h-4.65zM231.3 1013.3h4.65v4.65h-4.65zM235.8 1013.3h4.65v4.65h-4.65zM240.3 1013.3h4.65v4.65h-4.65zM253.8 1013.3h4.65v4.65h-4.65zM267.3 1013.3h4.65v4.65h-4.65zM294.3 1013.3h4.65v4.65h-4.65zM316.8 1013.3h4.65v4.65h-4.65zM235.8 1017.8h4.65v4.65h-4.65zM249.3 1017.8h4.65v4.65h-4.65zM204.3 1026.8h4.65v4.65h-4.65zM208.8 1026.8h4.65v4.65h-4.65zM226.8 1026.8h4.65v4.65h-4.65zM240.3 1026.8h4.65v4.65h-4.65zM195.3 1031.3h4.65v4.65h-4.65zM154.8 1035.8h4.65v4.65h-4.65zM159.3 1035.8h4.65v4.65h-4.65zM208.8 1035.8h4.65v4.65h-4.65zM217.8 1035.8h4.65v4.65h-4.65zM231.3 1035.8h4.65v4.65h-4.65zM163.8 1040.3h4.65v4.65h-4.65zM168.3 1040.3h4.65v4.65h-4.65zM181.8 1040.3h4.65v4.65h-4.65zM190.8 1040.3h4.65v4.65h-4.65zM226.8 1040.3h4.65v4.65h-4.65zM150.3 1044.8h4.65v4.65h-4.65zM159.3 1044.8h4.65v4.65h-4.65zM172.8 1044.8h4.65v4.65h-4.65zM177.3 1044.8h4.65v4.65h-4.65zM181.8 1044.8h4.65v4.65h-4.65zM199.8 1044.8h4.65v4.65h-4.65zM208.8 1044.8h4.65v4.65h-4.65zM213.3 1044.8h4.65v4.65h-4.65zM226.8 1044.8h4.65v4.65h-4.65zM244.8 1044.8h4.65v4.65h-4.65zM253.8 1044.8h4.65v4.65h-4.65zM258.3 1044.8h4.65v4.65h-4.65zM267.3 1044.8h4.65v4.65h-4.65zM384.3 1044.8h4.65v4.65h-4.65zM159.3 1049.3h4.65v4.65h-4.65zM163.8 1049.3h4.65v4.65h-4.65zM172.8 1049.3h4.65v4.65h-4.65zM177.3 1049.3h4.65v4.65h-4.65zM181.8 1049.3h4.65v4.65h-4.65zM186.3 1049.3h4.65v4.65h-4.65zM195.3 1049.3h4.65v4.65h-4.65zM199.8 1049.3h4.65v4.65h-4.65zM204.3 1049.3h4.65v4.65h-4.65zM213.3 1049.3h4.65v4.65h-4.65zM217.8 1049.3h4.65v4.65h-4.65zM231.3 1049.3h4.65v4.65h-4.65zM235.8 1049.3h4.65v4.65h-4.65zM244.8 1049.3h4.65v4.65h-4.65zM249.3 1049.3h4.65v4.65h-4.65zM253.8 1049.3h4.65v4.65h-4.65zM289.8 1049.3h4.65v4.65h-4.65zM150.3 1053.8h4.65v4.65h-4.65zM154.8 1053.8h4.65v4.65h-4.65zM159.3 1053.8h4.65v4.65h-4.65zM163.8 1053.8h4.65v4.65h-4.65zM168.3 1053.8h4.65v4.65h-4.65zM172.8 1053.8h4.65v4.65h-4.65zM177.3 1053.8h4.65v4.65h-4.65zM181.8 1053.8h4.65v4.65h-4.65zM186.3 1053.8h4.65v4.65h-4.65zM195.3 1053.8h4.65v4.65h-4.65zM199.8 1053.8h4.65v4.65h-4.65zM213.3 1053.8h4.65v4.65h-4.65zM217.8 1053.8h4.65v4.65h-4.65zM222.3 1053.8h4.65v4.65h-4.65zM226.8 1053.8h4.65v4.65h-4.65zM235.8 1053.8h4.65v4.65h-4.65zM240.3 1053.8h4.65v4.65h-4.65zM249.3 1053.8h4.65v4.65h-4.65zM276.3 1053.8h4.65v4.65h-4.65zM289.8 1053.8h4.65v4.65h-4.65zM294.3 1053.8h4.65v4.65h-4.65zM325.8 1053.8h4.65v4.65h-4.65zM150.3 1058.3h4.65v4.65h-4.65zM159.3 1058.3h4.65v4.65h-4.65zM168.3 1058.3h4.65v4.65h-4.65zM172.8 1058.3h4.65v4.65h-4.65zM181.8 1058.3h4.65v4.65h-4.65zM190.8 1058.3h4.65v4.65h-4.65zM199.8 1058.3h4.65v4.65h-4.65zM208.8 1058.3h4.65v4.65h-4.65zM217.8 1058.3h4.65v4.65h-4.65zM222.3 1058.3h4.65v4.65h-4.65zM231.3 1058.3h4.65v4.65h-4.65zM240.3 1058.3h4.65v4.65h-4.65zM244.8 1058.3h4.65v4.65h-4.65zM294.3 1058.3h4.65v4.65h-4.65zM141.3 1062.8h4.65v4.65h-4.65zM172.8 1062.8h4.65v4.65h-4.65zM186.3 1062.8h4.65v4.65h-4.65zM141.3 1067.3h4.65v4.65h-4.65zM190.8 1067.3h4.65v4.65h-4.65zM213.3 1067.3h4.65v4.65h-4.65zM235.8 1067.3h4.65v4.65h-4.65zM168.3 1071.8h4.65v4.65h-4.65zM190.8 1071.8h4.65v4.65h-4.65zM217.8 1071.8h4.65v4.65h-4.65zM226.8 1071.8h4.65v4.65h-4.65zM244.8 1071.8h4.65v4.65h-4.65zM199.8 1076.3h4.65v4.65h-4.65zM213.3 1076.3h4.65v4.65h-4.65zM222.3 1076.3h4.65v4.65h-4.65zM222.3 1080.8h4.65v4.65h-4.65zM240.3 1080.8h4.65v4.65h-4.65zM136.8 1085.3h4.65v4.65h-4.65zM150.3 1085.3h4.65v4.65h-4.65zM181.8 1085.3h4.65v4.65h-4.65zM190.8 1085.3h4.65v4.65h-4.65zM195.3 1085.3h4.65v4.65h-4.65zM208.8 1085.3h4.65v4.65h-4.65zM258.3 1085.3h4.65v4.65h-4.65zM127.8 1089.8h4.65v4.65h-4.65zM141.3 1089.8h4.65v4.65h-4.65zM150.3 1089.8h4.65v4.65h-4.65zM154.8 1089.8h4.65v4.65h-4.65zM159.3 1089.8h4.65v4.65h-4.65zM168.3 1089.8h4.65v4.65h-4.65zM181.8 1089.8h4.65v4.65h-4.65zM186.3 1089.8h4.65v4.65h-4.65zM195.3 1089.8h4.65v4.65h-4.65zM208.8 1089.8h4.65v4.65h-4.65zM213.3 1089.8h4.65v4.65h-4.65zM222.3 1089.8h4.65v4.65h-4.65zM231.3 1089.8h4.65v4.65h-4.65zM235.8 1089.8h4.65v4.65h-4.65zM240.3 1089.8h4.65v4.65h-4.65zM244.8 1089.8h4.65v4.65h-4.65zM267.3 1089.8h4.65v4.65h-4.65zM276.3 1089.8h4.65v4.65h-4.65zM321.3 1089.8h4.65v4.65h-4.65zM127.8 1094.3h4.65v4.65h-4.65zM132.3 1094.3h4.65v4.65h-4.65zM141.3 1094.3h4.65v4.65h-4.65zM150.3 1094.3h4.65v4.65h-4.65zM154.8 1094.3h4.65v4.65h-4.65zM163.8 1094.3h4.65v4.65h-4.65zM168.3 1094.3h4.65v4.65h-4.65zM172.8 1094.3h4.65v4.65h-4.65zM181.8 1094.3h4.65v4.65h-4.65zM186.3 1094.3h4.65v4.65h-4.65zM195.3 1094.3h4.65v4.65h-4.65zM199.8 1094.3h4.65v4.65h-4.65zM204.3 1094.3h4.65v4.65h-4.65zM213.3 1094.3h4.65v4.65h-4.65zM217.8 1094.3h4.65v4.65h-4.65zM222.3 1094.3h4.65v4.65h-4.65zM226.8 1094.3h4.65v4.65h-4.65zM235.8 1094.3h4.65v4.65h-4.65zM240.3 1094.3h4.65v4.65h-4.65zM244.8 1094.3h4.65v4.65h-4.65zM249.3 1094.3h4.65v4.65h-4.65zM253.8 1094.3h4.65v4.65h-4.65zM258.3 1094.3h4.65v4.65h-4.65zM267.3 1094.3h4.65v4.65h-4.65zM271.8 1094.3h4.65v4.65h-4.65zM289.8 1094.3h4.65v4.65h-4.65zM123.3 1098.8h4.65v4.65h-4.65zM127.8 1098.8h4.65v4.65h-4.65zM132.3 1098.8h4.65v4.65h-4.65zM141.3 1098.8h4.65v4.65h-4.65zM150.3 1098.8h4.65v4.65h-4.65zM154.8 1098.8h4.65v4.65h-4.65zM163.8 1098.8h4.65v4.65h-4.65zM168.3 1098.8h4.65v4.65h-4.65zM172.8 1098.8h4.65v4.65h-4.65zM177.3 1098.8h4.65v4.65h-4.65zM181.8 1098.8h4.65v4.65h-4.65zM186.3 1098.8h4.65v4.65h-4.65zM190.8 1098.8h4.65v4.65h-4.65zM195.3 1098.8h4.65v4.65h-4.65zM217.8 1098.8h4.65v4.65h-4.65zM226.8 1098.8h4.65v4.65h-4.65zM235.8 1098.8h4.65v4.65h-4.65zM240.3 1098.8h4.65v4.65h-4.65zM249.3 1098.8h4.65v4.65h-4.65zM253.8 1098.8h4.65v4.65h-4.65zM258.3 1098.8h4.65v4.65h-4.65zM262.8 1098.8h4.65v4.65h-4.65zM298.8 1098.8h4.65v4.65h-4.65zM123.3 1103.3h4.65v4.65h-4.65zM127.8 1103.3h4.65v4.65h-4.65zM132.3 1103.3h4.65v4.65h-4.65zM136.8 1103.3h4.65v4.65h-4.65zM145.8 1103.3h4.65v4.65h-4.65zM150.3 1103.3h4.65v4.65h-4.65zM154.8 1103.3h4.65v4.65h-4.65zM163.8 1103.3h4.65v4.65h-4.65zM168.3 1103.3h4.65v4.65h-4.65zM172.8 1103.3h4.65v4.65h-4.65zM177.3 1103.3h4.65v4.65h-4.65zM181.8 1103.3h4.65v4.65h-4.65zM195.3 1103.3h4.65v4.65h-4.65zM199.8 1103.3h4.65v4.65h-4.65zM204.3 1103.3h4.65v4.65h-4.65zM208.8 1103.3h4.65v4.65h-4.65zM213.3 1103.3h4.65v4.65h-4.65zM217.8 1103.3h4.65v4.65h-4.65zM222.3 1103.3h4.65v4.65h-4.65zM226.8 1103.3h4.65v4.65h-4.65zM231.3 1103.3h4.65v4.65h-4.65zM240.3 1103.3h4.65v4.65h-4.65zM244.8 1103.3h4.65v4.65h-4.65zM253.8 1103.3h4.65v4.65h-4.65zM267.3 1103.3h4.65v4.65h-4.65zM276.3 1103.3h4.65v4.65h-4.65zM280.8 1103.3h4.65v4.65h-4.65zM285.3 1103.3h4.65v4.65h-4.65zM289.8 1103.3h4.65v4.65h-4.65zM352.8 1103.3h4.65v4.65h-4.65zM118.8 1107.8h4.65v4.65h-4.65zM123.3 1107.8h4.65v4.65h-4.65zM127.8 1107.8h4.65v4.65h-4.65zM132.3 1107.8h4.65v4.65h-4.65zM136.8 1107.8h4.65v4.65h-4.65zM141.3 1107.8h4.65v4.65h-4.65zM145.8 1107.8h4.65v4.65h-4.65zM150.3 1107.8h4.65v4.65h-4.65zM154.8 1107.8h4.65v4.65h-4.65zM163.8 1107.8h4.65v4.65h-4.65zM168.3 1107.8h4.65v4.65h-4.65zM172.8 1107.8h4.65v4.65h-4.65zM177.3 1107.8h4.65v4.65h-4.65zM181.8 1107.8h4.65v4.65h-4.65zM186.3 1107.8h4.65v4.65h-4.65zM190.8 1107.8h4.65v4.65h-4.65zM195.3 1107.8h4.65v4.65h-4.65zM199.8 1107.8h4.65v4.65h-4.65zM204.3 1107.8h4.65v4.65h-4.65zM208.8 1107.8h4.65v4.65h-4.65zM213.3 1107.8h4.65v4.65h-4.65zM222.3 1107.8h4.65v4.65h-4.65zM226.8 1107.8h4.65v4.65h-4.65zM235.8 1107.8h4.65v4.65h-4.65zM244.8 1107.8h4.65v4.65h-4.65zM258.3 1107.8h4.65v4.65h-4.65zM262.8 1107.8h4.65v4.65h-4.65zM267.3 1107.8h4.65v4.65h-4.65zM303.3 1107.8h4.65v4.65h-4.65zM343.8 1107.8h4.65v4.65h-4.65zM118.8 1112.3h4.65v4.65h-4.65zM123.3 1112.3h4.65v4.65h-4.65zM127.8 1112.3h4.65v4.65h-4.65zM132.3 1112.3h4.65v4.65h-4.65zM141.3 1112.3h4.65v4.65h-4.65zM145.8 1112.3h4.65v4.65h-4.65zM154.8 1112.3h4.65v4.65h-4.65zM159.3 1112.3h4.65v4.65h-4.65zM163.8 1112.3h4.65v4.65h-4.65zM168.3 1112.3h4.65v4.65h-4.65zM172.8 1112.3h4.65v4.65h-4.65zM177.3 1112.3h4.65v4.65h-4.65zM181.8 1112.3h4.65v4.65h-4.65zM186.3 1112.3h4.65v4.65h-4.65zM190.8 1112.3h4.65v4.65h-4.65zM195.3 1112.3h4.65v4.65h-4.65zM204.3 1112.3h4.65v4.65h-4.65zM208.8 1112.3h4.65v4.65h-4.65zM213.3 1112.3h4.65v4.65h-4.65zM217.8 1112.3h4.65v4.65h-4.65zM226.8 1112.3h4.65v4.65h-4.65zM235.8 1112.3h4.65v4.65h-4.65zM244.8 1112.3h4.65v4.65h-4.65zM253.8 1112.3h4.65v4.65h-4.65zM267.3 1112.3h4.65v4.65h-4.65zM276.3 1112.3h4.65v4.65h-4.65zM379.8 1112.3h4.65v4.65h-4.65zM141.3 1116.8h4.65v4.65h-4.65zM145.8 1116.8h4.65v4.65h-4.65zM150.3 1116.8h4.65v4.65h-4.65zM154.8 1116.8h4.65v4.65h-4.65zM159.3 1116.8h4.65v4.65h-4.65zM163.8 1116.8h4.65v4.65h-4.65zM168.3 1116.8h4.65v4.65h-4.65zM177.3 1116.8h4.65v4.65h-4.65zM186.3 1116.8h4.65v4.65h-4.65zM190.8 1116.8h4.65v4.65h-4.65zM195.3 1116.8h4.65v4.65h-4.65zM199.8 1116.8h4.65v4.65h-4.65zM204.3 1116.8h4.65v4.65h-4.65zM208.8 1116.8h4.65v4.65h-4.65zM213.3 1116.8h4.65v4.65h-4.65zM217.8 1116.8h4.65v4.65h-4.65zM226.8 1116.8h4.65v4.65h-4.65zM235.8 1116.8h4.65v4.65h-4.65zM240.3 1116.8h4.65v4.65h-4.65zM249.3 1116.8h4.65v4.65h-4.65zM258.3 1116.8h4.65v4.65h-4.65zM262.8 1116.8h4.65v4.65h-4.65zM267.3 1116.8h4.65v4.65h-4.65zM271.8 1116.8h4.65v4.65h-4.65zM276.3 1116.8h4.65v4.65h-4.65zM244.8 1121.3h4.65v4.65h-4.65z" fill="#0c0c8c"/>
<path d="M289.8 878.3h4.65v4.65h-4.65zM334.8 878.3h4.65v4.65h-4.65zM357.3 878.3h4.65v4.65h-4.65zM348.3 882.8h4.65v4.65h-4.65zM393.3 882.8h4.65v4.65h-4.65zM316.8 887.3h4.65v4.65h-4.65zM325.8 887.3h4.65v4.65h-4.65zM294.3 891.8h4.65v4.65h-4.65zM303.3 891.8h4.65v4.65h-4.65zM307.8 891.8h4.65v4.65h-4.65zM312.3 891.8h4.65v4.65h-4.65zM357.3 891.8h4.65v4.65h-4.65zM285.3 896.3h4.65v4.65h-4.65zM339.3 896.3h4.65v4.65h-4.65zM370.8 896.3h4.65v4.65h-4.65zM379.8 896.3h4.65v4.65h-4.65zM339.3 900.8h4.65v4.65h-4.65zM339.3 905.3h4.65v4.65h-4.65zM375.3 905.3h4.65v4.65h-4.65zM379.8 905.3h4.65v4.65h-4.65zM330.3 909.8h4.65v4.65h-4.65zM312.3 914.3h4.65v4.65h-4.65zM298.8 918.8h4.65v4.65h-4.65zM325.8 918.8h4.65v4.65h-4.65zM339.3 918.8h4.65v4.65h-4.65zM343.8 918.8h4.65v4.65h-4.65zM361.8 918.8h4.65v4.65h-4.65zM379.8 918.8h4.65v4.65h-4.65zM393.3 918.8h4.65v4.65h-4.65zM294.3 923.3h4.65v4.65h-4.65zM334.8 923.3h4.65v4.65h-4.65zM343.8 923.3h4.65v4.65h-4.65zM388.8 923.3h4.65v4.65h-4.65zM393.3 923.3h4.65v4.65h-4.65zM316.8 927.8h4.65v4.65h-4.65zM361.8 927.8h4.65v4.65h-4.65zM366.3 927.8h4.65v4.65h-4.65zM294.3 932.3h4.65v4.65h-4.65zM298.8 932.3h4.65v4.65h-4.65zM312.3 932.3h4.65v4.65h-4.65zM366.3 932.3h4.65v4.65h-4.65zM375.3 932.3h4.65v4.65h-4.65zM393.3 932.3h4.65v4.65h-4.65zM321.3 936.8h4.65v4.65h-4.65zM330.3 936.8h4.65v4.65h-4.65zM334.8 936.8h4.65v4.65h-4.65zM343.8 936.8h4.65v4.65h-4.65zM312.3 941.3h4.65v4.65h-4.65zM325.8 941.3h4.65v4.65h-4.65zM343.8 941.3h4.65v4.65h-4.65zM352.8 941.3h4.65v4.65h-4.65zM388.8 941.3h4.65v4.65h-4.65zM316.8 945.8h4.65v4.65h-4.65zM303.3 950.3h4.65v4.65h-4.65zM339.3 950.3h4.65v4.65h-4.65zM343.8 950.3h4.65v4.65h-4.65zM357.3 950.3h4.65v4.65h-4.65zM388.8 950.3h4.65v4.65h-4.65zM393.3 950.3h4.65v4.65h-4.65zM334.8 954.8h4.65v4.65h-4.65zM357.3 954.8h4.65v4.65h-4.65zM343.8 959.3h4.65v4.65h-4.65zM366.3 959.3h4.65v4.65h-4.65zM280.8 963.8h4.65v4.65h-4.65zM303.3 963.8h4.65v4.65h-4.65zM312.3 963.8h4.65v4.65h-4.65zM321.3 963.8h4.65v4.65h-4.65zM334.8 963.8h4.65v4.65h-4.65zM339.3 963.8h4.65v4.65h-4.65zM343.8 963.8h4.65v4.65h-4.65zM375.3 963.8h4.65v4.65h-4.65zM379.8 963.8h4.65v4.65h-4.65zM280.8 968.3h4.65v4.65h-4.65zM321.3 968.3h4.65v4.65h-4.65zM339.3 968.3h4.65v4.65h-4.65zM352.8 968.3h4.65v4.65h-4.65zM366.3 968.3h4.65v4.65h-4.65zM370.8 968.3h4.65v4.65h-4.65zM388.8 968.3h4.65v4.65h-4.65zM330.3 972.8h4.65v4.65h-4.65zM334.8 972.8h4.65v4.65h-4.65zM384.3 972.8h4.65v4.65h-4.65zM388.8 972.8h4.65v4.65h-4.65zM334.8 977.3h4.65v4.65h-4.65zM348.3 977.3h4.65v4.65h-4.65zM370.8 977.3h4.65v4.65h-4.65zM285.3 981.8h4.65v4.65h-4.65zM294.3 981.8h4.65v4.65h-4.65zM303.3 981.8h4.65v4.65h-4.65zM348.3 981.8h4.65v4.65h-4.65zM357.3 981.8h4.65v4.65h-4.65zM366.3 981.8h4.65v4.65h-4.65zM379.8 981.8h4.65v4.65h-4.65zM343.8 986.3h4.65v4.65h-4.65zM361.8 986.3h4.65v4.65h-4.65zM366.3 986.3h4.65v4.65h-4.65zM379.8 986.3h4.65v4.65h-4.65zM325.8 990.8h4.65v4.65h-4.65zM343.8 990.8h4.65v4.65h-4.65zM375.3 990.8h4.65v4.65h-4.65zM388.8 990.8h4.65v4.65h-4.65zM307.8 995.3h4.65v4.65h-4.65zM334.8 995.3h4.65v4.65h-4.65zM384.3 995.3h4.65v4.65h-4.65zM388.8 995.3h4.65v4.65h-4.65zM294.3 999.8h4.65v4.65h-4.65zM321.3 999.8h4.65v4.65h-4.65zM388.8 999.8h4.65v4.65h-4.65zM339.3 1004.3h4.65v4.65h-4.65zM343.8 1004.3h4.65v4.65h-4.65zM375.3 1004.3h4.65v4.65h-4.65zM384.3 1004.3h4.65v4.65h-4.65zM303.3 1008.8h4.65v4.65h-4.65zM312.3 1008.8h4.65v4.65h-4.65zM334.8 1008.8h4.65v4.65h-4.65zM339.3 1008.8h4.65v4.65h-4.65zM348.3 1008.8h4.65v4.65h-4.65zM388.8 1008.8h4.65v4.65h-4.65zM393.3 1008.8h4.65v4.65h-4.65zM334.8 1013.3h4.65v4.65h-4.65zM352.8 1013.3h4.65v4.65h-4.65zM361.8 1013.3h4.65v4.65h-4.65zM379.8 1013.3h4.65v4.65h-4.65zM393.3 1013.3h4.65v4.65h-4.65zM253.8 1017.8h4.65v4.65h-4.65zM267.3 1017.8h4.65v4.65h-4.65zM312.3 1017.8h4.65v4.65h-4.65zM366.3 1017.8h4.65v4.65h-4.65zM388.8 1017.8h4.65v4.65h-4.65zM244.8 1022.3h4.65v4.65h-4.65zM276.3 1022.3h4.65v4.65h-4.65zM289.8 1022.3h4.65v4.65h-4.65zM303.3 1022.3h4.65v4.65h-4.65zM334.8 1022.3h4.65v4.65h-4.65zM352.8 1022.3h4.65v4.65h-4.65zM366.3 1022.3h4.65v4.65h-4.65zM384.3 1022.3h4.65v4.65h-4.65zM388.8 1022.3h4.65v4.65h-4.65zM258.3 1026.8h4.65v4.65h-4.65zM262.8 1026.8h4.65v4.65h-4.65zM267.3 1026.8h4.65v4.65h-4.65zM294.3 1026.8h4.65v4.65h-4.65zM303.3 1026.8h4.65v4.65h-4.65zM307.8 1026.8h4.65v4.65h-4.65zM330.3 1026.8h4.65v4.65h-4.65zM339.3 1026.8h4.65v4.65h-4.65zM357.3 1026.8h4.65v4.65h-4.65zM222.3 1031.3h4.65v4.65h-4.65zM253.8 1031.3h4.65v4.65h-4.65zM258.3 1031.3h4.65v4.65h-4.65zM271.8 1031.3h4.65v4.65h-4.65zM276.3 1031.3h4.65v4.65h-4.65zM280.8 1031.3h4.65v4.65h-4.65zM294.3 1031.3h4.65v4.65h-4.65zM303.3 1031.3h4.65v4.65h-4.65zM325.8 1031.3h4.65v4.65h-4.65zM334.8 1031.3h4.65v4.65h-4.65zM361.8 1031.3h4.65v4.65h-4.65zM379.8 1031.3h4.65v4.65h-4.65zM244.8 1035.8h4.65v4.65h-4.65zM253.8 1035.8h4.65v4.65h-4.65zM258.3 1035.8h4.65v4.65h-4.65zM262.8 1035.8h4.65v4.65h-4.65zM280.8 1035.8h4.65v4.65h-4.65zM312.3 1035.8h4.65v4.65h-4.65zM330.3 1035.8h4.65v4.65h-4.65zM352.8 1035.8h4.65v4.65h-4.65zM361.8 1035.8h4.65v4.65h-4.65zM370.8 1035.8h4.65v4.65h-4.65zM235.8 1040.3h4.65v4.65h-4.65zM267.3 1040.3h4.65v4.65h-4.65zM303.3 1040.3h4.65v4.65h-4.65zM325.8 1040.3h4.65v4.65h-4.65zM352.8 1040.3h4.65v4.65h-4.65zM357.3 1040.3h4.65v4.65h-4.65zM379.8 1040.3h4.65v4.65h-4.65zM388.8 1040.3h4.65v4.65h-4.65zM276.3 1044.8h4.65v4.65h-4.65zM321.3 1044.8h4.65v4.65h-4.65zM330.3 1044.8h4.65v4.65h-4.65zM343.8 1044.8h4.65v4.65h-4.65zM307.8 1049.3h4.65v4.65h-4.65zM325.8 1049.3h4.65v4.65h-4.65zM343.8 1049.3h4.65v4.65h-4.65zM370.8 1049.3h4.65v4.65h-4.65zM375.3 1049.3h4.65v4.65h-4.65zM303.3 1053.8h4.65v4.65h-4.65zM316.8 1053.8h4.65v4.65h-4.65zM352.8 1053.8h4.65v4.65h-4.65zM370.8 1053.8h4.65v4.65h-4.65zM258.3 1058.3h4.65v4.65h-4.65zM307.8 1058.3h4.65v4.65h-4.65zM330.3 1058.3h4.65v4.65h-4.65zM339.3 1058.3h4.65v4.65h-4.65zM352.8 1058.3h4.65v4.65h-4.65zM361.8 1058.3h4.65v4.65h-4.65zM370.8 1058.3h4.65v4.65h-4.65zM388.8 1058.3h4.65v4.65h-4.65zM253.8 1062.8h4.65v4.65h-4.65zM262.8 1062.8h4.65v4.65h-4.65zM271.8 1062.8h4.65v4.65h-4.65zM276.3 1062.8h4.65v4.65h-4.65zM325.8 1062.8h4.65v4.65h-4.65zM339.3 1062.8h4.65v4.65h-4.65zM343.8 1062.8h4.65v4.65h-4.65zM375.3 1062.8h4.65v4.65h-4.65zM379.8 1062.8h4.65v4.65h-4.65zM384.3 1062.8h4.65v4.65h-4.65zM253.8 1067.3h4.65v4.65h-4.65zM285.3 1067.3h4.65v4.65h-4.65zM312.3 1067.3h4.65v4.65h-4.65zM334.8 1067.3h4.65v4.65h-4.65zM384.3 1067.3h4.65v4.65h-4.65zM388.8 1067.3h4.65v4.65h-4.65zM393.3 1067.3h4.65v4.65h-4.65zM258.3 1071.8h4.65v4.65h-4.65zM262.8 1071.8h4.65v4.65h-4.65zM271.8 1071.8h4.65v4.65h-4.65zM280.8 1071.8h4.65v4.65h-4.65zM285.3 1071.8h4.65v4.65h-4.65zM298.8 1071.8h4.65v4.65h-4.65zM316.8 1071.8h4.65v4.65h-4.65zM334.8 1071.8h4.65v4.65h-4.65zM348.3 1071.8h4.65v4.65h-4.65zM388.8 1071.8h4.65v4.65h-4.65zM262.8 1076.3h4.65v4.65h-4.65zM271.8 1076.3h4.65v4.65h-4.65zM280.8 1076.3h4.65v4.65h-4.65zM285.3 1076.3h4.65v4.65h-4.65zM289.8 1076.3h4.65v4.65h-4.65zM303.3 1076.3h4.65v4.65h-4.65zM312.3 1076.3h4.65v4.65h-4.65zM321.3 1076.3h4.65v4.65h-4.65zM334.8 1076.3h4.65v4.65h-4.65zM348.3 1076.3h4.65v4.65h-4.65zM361.8 1076.3h4.65v4.65h-4.65zM366.3 1076.3h4.65v4.65h-4.65zM379.8 1076.3h4.65v4.65h-4.65zM289.8 1080.8h4.65v4.65h-4.65zM312.3 1080.8h4.65v4.65h-4.65zM321.3 1080.8h4.65v4.65h-4.65zM325.8 1080.8h4.65v4.65h-4.65zM366.3 1080.8h4.65v4.65h-4.65zM375.3 1080.8h4.65v4.65h-4.65zM388.8 1080.8h4.65v4.65h-4.65zM240.3 1085.3h4.65v4.65h-4.65zM244.8 1085.3h4.65v4.65h-4.65zM249.3 1085.3h4.65v4.65h-4.65zM253.8 1085.3h4.65v4.65h-4.65zM262.8 1085.3h4.65v4.65h-4.65zM271.8 1085.3h4.65v4.65h-4.65zM276.3 1085.3h4.65v4.65h-4.65zM280.8 1085.3h4.65v4.65h-4.65zM298.8 1085.3h4.65v4.65h-4.65zM312.3 1085.3h4.65v4.65h-4.65zM343.8 1085.3h4.65v4.65h-4.65zM370.8 1085.3h4.65v4.65h-4.65zM379.8 1085.3h4.65v4.65h-4.65zM388.8 1085.3h4.65v4.65h-4.65zM249.3 1089.8h4.65v4.65h-4.65zM262.8 1089.8h4.65v4.65h-4.65zM303.3 1089.8h4.65v4.65h-4.65zM307.8 1089.8h4.65v4.65h-4.65zM334.8 1089.8h4.65v4.65h-4.65zM379.8 1089.8h4.65v4.65h-4.65zM303.3 1094.3h4.65v4.65h-4.65zM325.8 1094.3h4.65v4.65h-4.65zM357.3 1094.3h4.65v4.65h-4.65zM388.8 1094.3h4.65v4.65h-4.65zM307.8 1098.8h4.65v4.65h-4.65zM334.8 1098.8h4.65v4.65h-4.65zM357.3 1098.8h4.65v4.65h-4.65zM361.8 1098.8h4.65v4.65h-4.65zM375.3 1098.8h4.65v4.65h-4.65zM294.3 1103.3h4.65v4.65h-4.65zM316.8 1103.3h4.65v4.65h-4.65zM325.8 1103.3h4.65v4.65h-4.65zM343.8 1103.3h4.65v4.65h-4.65zM348.3 1103.3h4.65v4.65h-4.65zM370.8 1103.3h4.65v4.65h-4.65zM375.3 1103.3h4.65v4.65h-4.65zM388.8 1103.3h4.65v4.65h-4.65zM321.3 1107.8h4.65v4.65h-4.65zM366.3 1107.8h4.65v4.65h-4.65zM370.8 1107.8h4.65v4.65h-4.65zM375.3 1107.8h4.65v4.65h-4.65zM379.8 1107.8h4.65v4.65h-4.65zM294.3 1112.3h4.65v4.65h-4.65zM303.3 1112.3h4.65v4.65h-4.65zM312.3 1112.3h4.65v4.65h-4.65zM339.3 1112.3h4.65v4.65h-4.65zM352.8 1112.3h4.65v4.65h-4.65zM366.3 1112.3h4.65v4.65h-4.65zM384.3 1112.3h4.65v4.65h-4.65zM307.8 1116.8h4.65v4.65h-4.65zM316.8 1116.8h4.65v4.65h-4.65zM343.8 1116.8h4.65v4.65h-4.65zM379.8 1116.8h4.65v4.65h-4.65zM384.3 1116.8h4.65v4.65h-4.65zM393.3 1116.8h4.65v4.65h-4.65zM136.8 1121.3h4.65v4.65h-4.65zM141.3 1121.3h4.65v4.65h-4.65zM145.8 1121.3h4.65v4.65h-4.65zM150.3 1121.3h4.65v4.65h-4.65zM303.3 1121.3h4.65v4.65h-4.65zM321.3 1121.3h4.65v4.65h-4.65zM361.8 1121.3h4.65v4.65h-4.65zM325.8 1125.8h4.65v4.65h-4.65zM348.3 1125.8h4.65v4.65h-4.65zM393.3 1125.8h4.65v4.65h-4.65zM181.8 1130.3h4.65v4.65h-4.65zM222.3 1130.3h4.65v4.65h-4.65zM253.8 1130.3h4.65v4.65h-4.65zM271.8 1130.3h4.65v4.65h-4.65zM343.8 1130.3h4.65v4.65h-4.65zM348.3 1130.3h4.65v4.65h-4.65zM357.3 1130.3h4.65v4.65h-4.65zM388.8 1130.3h4.65v4.65h-4.65zM186.3 1134.8h4.65v4.65h-4.65zM213.3 1134.8h4.65v4.65h-4.65zM217.8 1134.8h4.65v4.65h-4.65zM271.8 1134.8h4.65v4.65h-4.65zM294.3 1134.8h4.65v4.65h-4.65zM307.8 1134.8h4.65v4.65h-4.65zM352.8 1134.8h4.65v4.65h-4.65zM388.8 1134.8h4.65v4.65h-4.65zM105.3 1139.3h4.65v4.65h-4.65zM154.8 1139.3h4.65v4.65h-4.65zM168.3 1139.3h4.65v4.65h-4.65zM213.3 1139.3h4.65v4.65h-4.65zM258.3 1139.3h4.65v4.65h-4.65zM276.3 1139.3h4.65v4.65h-4.65zM325.8 1139.3h4.65v4.65h-4.65zM330.3 1139.3h4.65v4.65h-4.65zM154.8 1143.8h4.65v4.65h-4.65zM195.3 1143.8h4.65v4.65h-4.65zM343.8 1143.8h4.65v4.65h-4.65zM168.3 1148.3h4.65v4.65h-4.65zM177.3 1148.3h4.65v4.65h-4.65zM208.8 1148.3h4.65v4.65h-4.65zM285.3 1148.3h4.65v4.65h-4.65zM294.3 1148.3h4.65v4.65h-4.65zM136.8 1161.8h4.65v4.65h-4.65zM213.3 1161.8h4.65v4.65h-4.65zM271.8 1161.8h4.65v4.65h-4.65zM312.3 1161.8h4.65v4.65h-4.65zM330.3 1161.8h4.65v4.65h-4.65zM339.3 1161.8h4.65v4.65h-4.65zM361.8 1161.8h4.65v4.65h-4.65zM388.8 1161.8h4.65v4.65h-4.65zM375.3 1166.3h4.65v4.65h-4.65zM168.3 1170.8h4.65v4.65h-4.65zM253.8 1170.8h4.65v4.65h-4.65zM298.8 1170.8h4.65v4.65h-4.65zM330.3 1170.8h4.65v4.65h-4.65zM348.3 1170.8h4.65v4.65h-4.65zM163.8 1175.3h4.65v4.65h-4.65zM172.8 1175.3h4.65v4.65h-4.65zM204.3 1175.3h4.65v4.65h-4.65zM312.3 1175.3h4.65v4.65h-4.65zM379.8 1175.3h4.65v4.65h-4.65zM186.3 1179.8h4.65v4.65h-4.65zM303.3 1179.8h4.65v4.65h-4.65zM325.8 1179.8h4.65v4.65h-4.65zM343.8 1179.8h4.65v4.65h-4.65zM357.3 1179.8h4.65v4.65h-4.65zM370.8 1179.8h4.65v4.65h-4.65zM100.8 1184.3h4.65v4.65h-4.65zM334.8 1184.3h4.65v4.65h-4.65z" fill="#3c8c14"/>
<path d="M298.8 878.3h4.65v4.65h-4.65zM312.3 878.3h4.65v4.65h-4.65zM316.8 878.3h4.65v4.65h-4.65zM343.8 882.8h4.65v4.65h-4.65zM321.3 891.8h4.65v4.65h-4.65zM334.8 891.8h4.65v4.65h-4.65zM262.8 896.3h4.65v4.65h-4.65zM307.8 896.3h4.65v4.65h-4.65zM298.8 900.8h4.65v4.65h-4.65zM271.8 905.3h4.65v4.65h-4.65zM294.3 905.3h4.65v4.65h-4.65zM312.3 905.3h4.65v4.65h-4.65zM294.3 909.8h4.65v4.65h-4.65zM240.3 914.3h4.65v4.65h-4.65zM303.3 914.3h4.65v4.65h-4.65zM316.8 914.3h4.65v4.65h-4.65zM321.3 914.3h4.65v4.65h-4.65zM307.8 918.8h4.65v4.65h-4.65zM298.8 923.3h4.65v4.65h-4.65zM307.8 927.8h4.65v4.65h-4.65zM321.3 927.8h4.65v4.65h-4.65zM325.8 927.8h4.65v4.65h-4.65zM330.3 927.8h4.65v4.65h-4.65zM253.8 932.3h4.65v4.65h-4.65zM384.3 936.8h4.65v4.65h-4.65zM289.8 941.3h4.65v4.65h-4.65zM289.8 945.8h4.65v4.65h-4.65zM325.8 945.8h4.65v4.65h-4.65zM339.3 945.8h4.65v4.65h-4.65zM334.8 950.3h4.65v4.65h-4.65zM240.3 954.8h4.65v4.65h-4.65zM294.3 954.8h4.65v4.65h-4.65zM312.3 954.8h4.65v4.65h-4.65zM298.8 959.3h4.65v4.65h-4.65zM294.3 968.3h4.65v4.65h-4.65zM307.8 972.8h4.65v4.65h-4.65zM325.8 972.8h4.65v4.65h-4.65zM231.3 977.3h4.65v4.65h-4.65zM312.3 977.3h4.65v4.65h-4.65zM321.3 977.3h4.65v4.65h-4.65zM325.8 977.3h4.65v4.65h-4.65zM298.8 981.8h4.65v4.65h-4.65zM334.8 981.8h4.65v4.65h-4.65zM343.8 981.8h4.65v4.65h-4.65zM276.3 986.3h4.65v4.65h-4.65zM294.3 986.3h4.65v4.65h-4.65zM298.8 990.8h4.65v4.65h-4.65zM321.3 990.8h4.65v4.65h-4.65zM334.8 990.8h4.65v4.65h-4.65zM348.3 990.8h4.65v4.65h-4.65zM366.3 990.8h4.65v4.65h-4.65zM393.3 990.8h4.65v4.65h-4.65zM298.8 995.3h4.65v4.65h-4.65zM343.8 995.3h4.65v4.65h-4.65zM357.3 995.3h4.65v4.65h-4.65zM366.3 995.3h4.65v4.65h-4.65zM289.8 999.8h4.65v4.65h-4.65zM325.8 999.8h4.65v4.65h-4.65zM339.3 999.8h4.65v4.65h-4.65zM352.8 999.8h4.65v4.65h-4.65zM370.8 999.8h4.65v4.65h-4.65zM375.3 999.8h4.65v4.65h-4.65zM262.8 1004.3h4.65v4.65h-4.65zM307.8 1004.3h4.65v4.65h-4.65zM334.8 1004.3h4.65v4.65h-4.65zM366.3 1004.3h4.65v4.65h-4.65zM379.8 1004.3h4.65v4.65h-4.65zM285.3 1008.8h4.65v4.65h-4.65zM316.8 1008.8h4.65v4.65h-4.65zM366.3 1008.8h4.65v4.65h-4.65zM370.8 1008.8h4.65v4.65h-4.65zM168.3 1013.3h4.65v4.65h-4.65zM177.3 1013.3h4.65v4.65h-4.65zM213.3 1013.3h4.65v4.65h-4.65zM249.3 1013.3h4.65v4.65h-4.65zM289.8 1013.3h4.65v4.65h-4.65zM303.3 1013.3h4.65v4.65h-4.65zM325.8 1013.3h4.65v4.65h-4.65zM343.8 1013.3h4.65v4.65h-4.65zM357.3 1013.3h4.65v4.65h-4.65zM375.3 1013.3h4.65v4.65h-4.65zM163.8 1017.8h4.65v4.65h-4.65zM172.8 1017.8h4.65v4.65h-4.65zM186.3 1017.8h4.65v4.65h-4.65zM195.3 1017.8h4.65v4.65h-4.65zM213.3 1017.8h4.65v4.65h-4.65zM217.8 1017.8h4.65v4.65h-4.65zM240.3 1017.8h4.65v4.65h-4.65zM244.8 1017.8h4.65v4.65h-4.65zM258.3 1017.8h4.65v4.65h-4.65zM262.8 1017.8h4.65v4.65h-4.65zM316.8 1017.8h4.65v4.65h-4.65zM321.3 1017.8h4.65v4.65h-4.65zM325.8 1017.8h4.65v4.65h-4.65zM352.8 1017.8h4.65v4.65h-4.65zM370.8 1017.8h4.65v4.65h-4.65zM177.3 1022.3h4.65v4.65h-4.65zM190.8 1022.3h4.65v4.65h-4.65zM195.3 1022.3h4.65v4.65h-4.65zM253.8 1022.3h4.65v4.65h-4.65zM271.8 1022.3h4.65v4.65h-4.65zM298.8 1022.3h4.65v4.65h-4.65zM307.8 1022.3h4.65v4.65h-4.65zM163.8 1026.8h4.65v4.65h-4.65zM172.8 1026.8h4.65v4.65h-4.65zM177.3 1026.8h4.65v4.65h-4.65zM181.8 1026.8h4.65v4.65h-4.65zM186.3 1026.8h4.65v4.65h-4.65zM190.8 1026.8h4.65v4.65h-4.65zM195.3 1026.8h4.65v4.65h-4.65zM199.8 1026.8h4.65v4.65h-4.65zM217.8 1026.8h4.65v4.65h-4.65zM231.3 1026.8h4.65v4.65h-4.65zM235.8 1026.8h4.65v4.65h-4.65zM249.3 1026.8h4.65v4.65h-4.65zM253.8 1026.8h4.65v4.65h-4.65zM271.8 1026.8h4.65v4.65h-4.65zM276.3 1026.8h4.65v4.65h-4.65zM366.3 1026.8h4.65v4.65h-4.65zM177.3 1031.3h4.65v4.65h-4.65zM181.8 1031.3h4.65v4.65h-4.65zM186.3 1031.3h4.65v4.65h-4.65zM190.8 1031.3h4.65v4.65h-4.65zM204.3 1031.3h4.65v4.65h-4.65zM208.8 1031.3h4.65v4.65h-4.65zM213.3 1031.3h4.65v4.65h-4.65zM217.8 1031.3h4.65v4.65h-4.65zM226.8 1031.3h4.65v4.65h-4.65zM231.3 1031.3h4.65v4.65h-4.65zM240.3 1031.3h4.65v4.65h-4.65zM244.8 1031.3h4.65v4.65h-4.65zM249.3 1031.3h4.65v4.65h-4.65zM262.8 1031.3h4.65v4.65h-4.65zM321.3 1031.3h4.65v4.65h-4.65zM330.3 1031.3h4.65v4.65h-4.65zM366.3 1031.3h4.65v4.65h-4.65zM163.8 1035.8h4.65v4.65h-4.65zM177.3 1035.8h4.65v4.65h-4.65zM181.8 1035.8h4.65v4.65h-4.65zM186.3 1035.8h4.65v4.65h-4.65zM195.3 1035.8h4.65v4.65h-4.65zM204.3 1035.8h4.65v4.65h-4.65zM213.3 1035.8h4.65v4.65h-4.65zM226.8 1035.8h4.65v4.65h-4.65zM240.3 1035.8h4.65v4.65h-4.65zM271.8 1035.8h4.65v4.65h-4.65zM289.8 1035.8h4.65v4.65h-4.65zM294.3 1035.8h4.65v4.65h-4.65zM307.8 1035.8h4.65v4.65h-4.65zM348.3 1035.8h4.65v4.65h-4.65zM375.3 1035.8h4.65v4.65h-4.65zM379.8 1035.8h4.65v4.65h-4.65zM384.3 1035.8h4.65v4.65h-4.65zM154.8 1040.3h4.65v4.65h-4.65zM159.3 1040.3h4.65v4.65h-4.65zM177.3 1040.3h4.65v4.65h-4.65zM262.8 1040.3h4.65v4.65h-4.65zM271.8 1040.3h4.65v4.65h-4.65zM285.3 1040.3h4.65v4.65h-4.65zM298.8 1040.3h4.65v4.65h-4.65zM321.3 1040.3h4.65v4.65h-4.65zM348.3 1040.3h4.65v4.65h-4.65zM190.8 1044.8h4.65v4.65h-4.65zM222.3 1044.8h4.65v4.65h-4.65zM231.3 1044.8h4.65v4.65h-4.65zM271.8 1044.8h4.65v4.65h-4.65zM334.8 1044.8h4.65v4.65h-4.65zM348.3 1044.8h4.65v4.65h-4.65zM352.8 1044.8h4.65v4.65h-4.65zM357.3 1044.8h4.65v4.65h-4.65zM370.8 1044.8h4.65v4.65h-4.65zM379.8 1044.8h4.65v4.65h-4.65zM393.3 1044.8h4.65v4.65h-4.65zM285.3 1049.3h4.65v4.65h-4.65zM321.3 1049.3h4.65v4.65h-4.65zM330.3 1049.3h4.65v4.65h-4.65zM334.8 1049.3h4.65v4.65h-4.65zM366.3 1049.3h4.65v4.65h-4.65zM307.8 1053.8h4.65v4.65h-4.65zM348.3 1053.8h4.65v4.65h-4.65zM357.3 1053.8h4.65v4.65h-4.65zM361.8 1053.8h4.65v4.65h-4.65zM366.3 1053.8h4.65v4.65h-4.65zM388.8 1053.8h4.65v4.65h-4.65zM393.3 1053.8h4.65v4.65h-4.65zM145.8 1058.3h4.65v4.65h-4.65zM186.3 1058.3h4.65v4.65h-4.65zM195.3 1058.3h4.65v4.65h-4.65zM235.8 1058.3h4.65v4.65h-4.65zM262.8 1058.3h4.65v4.65h-4.65zM267.3 1058.3h4.65v4.65h-4.65zM298.8 1058.3h4.65v4.65h-4.65zM348.3 1058.3h4.65v4.65h-4.65zM357.3 1058.3h4.65v4.65h-4.65zM366.3 1058.3h4.65v4.65h-4.65zM150.3 1062.8h4.65v4.65h-4.65zM199.8 1062.8h4.65v4.65h-4.65zM213.3 1062.8h4.65v4.65h-4.65zM217.8 1062.8h4.65v4.65h-4.65zM226.8 1062.8h4.65v4.65h-4.65zM235.8 1062.8h4.65v4.65h-4.65zM240.3 1062.8h4.65v4.65h-4.65zM244.8 1062.8h4.65v4.65h-4.65zM258.3 1062.8h4.65v4.65h-4.65zM267.3 1062.8h4.65v4.65h-4.65zM294.3 1062.8h4.65v4.65h-4.65zM303.3 1062.8h4.65v4.65h-4.65zM352.8 1062.8h4.65v4.65h-4.65zM361.8 1062.8h4.65v4.65h-4.65zM154.8 1067.3h4.65v4.65h-4.65zM163.8 1067.3h4.65v4.65h-4.65zM168.3 1067.3h4.65v4.65h-4.65zM172.8 1067.3h4.65v4.65h-4.65zM181.8 1067.3h4.65v4.65h-4.65zM195.3 1067.3h4.65v4.65h-4.65zM199.8 1067.3h4.65v4.65h-4.65zM217.8 1067.3h4.65v4.65h-4.65zM222.3 1067.3h4.65v4.65h-4.65zM231.3 1067.3h4.65v4.65h-4.65zM244.8 1067.3h4.65v4.65h-4.65zM249.3 1067.3h4.65v4.65h-4.65zM262.8 1067.3h4.65v4.65h-4.65zM276.3 1067.3h4.65v4.65h-4.65zM280.8 1067.3h4.65v4.65h-4.65zM289.8 1067.3h4.65v4.65h-4.65zM352.8 1067.3h4.65v4.65h-4.65zM136.8 1071.8h4.65v4.65h-4.65zM154.8 1071.8h4.65v4.65h-4.65zM159.3 1071.8h4.65v4.65h-4.65zM163.8 1071.8h4.65v4.65h-4.65zM172.8 1071.8h4.65v4.65h-4.65zM186.3 1071.8h4.65v4.65h-4.65zM195.3 1071.8h4.65v4.65h-4.65zM204.3 1071.8h4.65v4.65h-4.65zM208.8 1071.8h4.65v4.65h-4.65zM231.3 1071.8h4.65v4.65h-4.65zM249.3 1071.8h4.65v4.65h-4.65zM267.3 1071.8h4.65v4.65h-4.65zM289.8 1071.8h4.65v4.65h-4.65zM303.3 1071.8h4.65v4.65h-4.65zM343.8 1071.8h4.65v4.65h-4.65zM370.8 1071.8h4.65v4.65h-4.65zM379.8 1071.8h4.65v4.65h-4.65zM393.3 1071.8h4.65v4.65h-4.65zM154.8 1076.3h4.65v4.65h-4.65zM159.3 1076.3h4.65v4.65h-4.65zM177.3 1076.3h4.65v4.65h-4.65zM204.3 1076.3h4.65v4.65h-4.65zM226.8 1076.3h4.65v4.65h-4.65zM244.8 1076.3h4.65v4.65h-4.65zM253.8 1076.3h4.65v4.65h-4.65zM276.3 1076.3h4.65v4.65h-4.65zM298.8 1076.3h4.65v4.65h-4.65zM330.3 1076.3h4.65v4.65h-4.65zM352.8 1076.3h4.65v4.65h-4.65zM370.8 1076.3h4.65v4.65h-4.65zM132.3 1080.8h4.65v4.65h-4.65zM141.3 1080.8h4.65v4.65h-4.65zM145.8 1080.8h4.65v4.65h-4.65zM154.8 1080.8h4.65v4.65h-4.65zM159.3 1080.8h4.65v4.65h-4.65zM163.8 1080.8h4.65v4.65h-4.65zM172.8 1080.8h4.65v4.65h-4.65zM186.3 1080.8h4.65v4.65h-4.65zM195.3 1080.8h4.65v4.65h-4.65zM199.8 1080.8h4.65v4.65h-4.65zM213.3 1080.8h4.65v4.65h-4.65zM235.8 1080.8h4.65v4.65h-4.65zM253.8 1080.8h4.65v4.65h-4.65zM262.8 1080.8h4.65v4.65h-4.65zM271.8 1080.8h4.65v4.65h-4.65zM294.3 1080.8h4.65v4.65h-4.65zM334.8 1080.8h4.65v4.65h-4.65zM361.8 1080.8h4.65v4.65h-4.65zM393.3 1080.8h4.65v4.65h-4.65zM141.3 1085.3h4.65v4.65h-4.65zM159.3 1085.3h4.65v4.65h-4.65zM163.8 1085.3h4.65v4.65h-4.65zM168.3 1085.3h4.65v4.65h-4.65zM172.8 1085.3h4.65v4.65h-4.65zM186.3 1085.3h4.65v4.65h-4.65zM199.8 1085.3h4.65v4.65h-4.65zM267.3 1085.3h4.65v4.65h-4.65zM303.3 1085.3h4.65v4.65h-4.65zM321.3 1085.3h4.65v4.65h-4.65zM325.8 1085.3h4.65v4.65h-4.65zM330.3 1085.3h4.65v4.65h-4.65zM352.8 1085.3h4.65v4.65h-4.65zM393.3 1085.3h4.65v4.65h-4.65zM199.8 1089.8h4.65v4.65h-4.65zM217.8 1089.8h4.65v4.65h-4.65zM271.8 1089.8h4.65v4.65h-4.65zM348.3 1089.8h4.65v4.65h-4.65zM366.3 1089.8h4.65v4.65h-4.65zM370.8 1089.8h4.65v4.65h-4.65zM370.8 1094.3h4.65v4.65h-4.65zM379.8 1094.3h4.65v4.65h-4.65zM384.3 1094.3h4.65v4.65h-4.65zM393.3 1094.3h4.65v4.65h-4.65zM312.3 1098.8h4.65v4.65h-4.65zM330.3 1098.8h4.65v4.65h-4.65zM339.3 1098.8h4.65v4.65h-4.65zM352.8 1098.8h4.65v4.65h-4.65zM370.8 1098.8h4.65v4.65h-4.65zM379.8 1098.8h4.65v4.65h-4.65zM339.3 1103.3h4.65v4.65h-4.65zM366.3 1103.3h4.65v4.65h-4.65zM393.3 1103.3h4.65v4.65h-4.65zM271.8 1107.8h4.65v4.65h-4.65zM280.8 1107.8h4.65v4.65h-4.65zM289.8 1107.8h4.65v4.65h-4.65zM294.3 1107.8h4.65v4.65h-4.65zM325.8 1107.8h4.65v4.65h-4.65zM334.8 1107.8h4.65v4.65h-4.65zM348.3 1107.8h4.65v4.65h-4.65zM361.8 1107.8h4.65v4.65h-4.65zM388.8 1107.8h4.65v4.65h-4.65zM393.3 1107.8h4.65v4.65h-4.65zM231.3 1112.3h4.65v4.65h-4.65zM258.3 1112.3h4.65v4.65h-4.65zM298.8 1112.3h4.65v4.65h-4.65zM316.8 1112.3h4.65v4.65h-4.65zM321.3 1112.3h4.65v4.65h-4.65zM325.8 1112.3h4.65v4.65h-4.65zM334.8 1112.3h4.65v4.65h-4.65zM343.8 1112.3h4.65v4.65h-4.65zM361.8 1112.3h4.65v4.65h-4.65zM388.8 1112.3h4.65v4.65h-4.65zM289.8 1116.8h4.65v4.65h-4.65zM303.3 1161.8h4.65v4.65h-4.65zM352.8 1161.8h4.65v4.65h-4.65zM384.3 1161.8h4.65v4.65h-4.65zM370.8 1170.8h4.65v4.65h-4.65zM393.3 1170.8h4.65v4.65h-4.65zM357.3 1175.3h4.65v4.65h-4.65z" fill="#0a6a10"/>
<path d="M330.3 878.3h4.65v4.65h-4.65zM339.3 878.3h4.65v4.65h-4.65zM379.8 878.3h4.65v4.65h-4.65zM370.8 882.8h4.65v4.65h-4.65zM379.8 882.8h4.65v4.65h-4.65zM303.3 887.3h4.65v4.65h-4.65zM330.3 891.8h4.65v4.65h-4.65zM348.3 891.8h4.65v4.65h-4.65zM343.8 896.3h4.65v4.65h-4.65zM388.8 896.3h4.65v4.65h-4.65zM343.8 900.8h4.65v4.65h-4.65zM307.8 905.3h4.65v4.65h-4.65zM384.3 905.3h4.65v4.65h-4.65zM298.8 909.8h4.65v4.65h-4.65zM312.3 909.8h4.65v4.65h-4.65zM321.3 909.8h4.65v4.65h-4.65zM348.3 909.8h4.65v4.65h-4.65zM357.3 909.8h4.65v4.65h-4.65zM361.8 909.8h4.65v4.65h-4.65zM294.3 914.3h4.65v4.65h-4.65zM334.8 914.3h4.65v4.65h-4.65zM348.3 914.3h4.65v4.65h-4.65zM294.3 918.8h4.65v4.65h-4.65zM348.3 918.8h4.65v4.65h-4.65zM357.3 918.8h4.65v4.65h-4.65zM375.3 918.8h4.65v4.65h-4.65zM348.3 923.3h4.65v4.65h-4.65zM384.3 923.3h4.65v4.65h-4.65zM334.8 932.3h4.65v4.65h-4.65zM384.3 932.3h4.65v4.65h-4.65zM388.8 932.3h4.65v4.65h-4.65zM339.3 936.8h4.65v4.65h-4.65zM352.8 936.8h4.65v4.65h-4.65zM361.8 936.8h4.65v4.65h-4.65zM370.8 936.8h4.65v4.65h-4.65zM307.8 941.3h4.65v4.65h-4.65zM321.3 941.3h4.65v4.65h-4.65zM312.3 945.8h4.65v4.65h-4.65zM343.8 945.8h4.65v4.65h-4.65zM357.3 945.8h4.65v4.65h-4.65zM361.8 945.8h4.65v4.65h-4.65zM379.8 945.8h4.65v4.65h-4.65zM316.8 950.3h4.65v4.65h-4.65zM289.8 954.8h4.65v4.65h-4.65zM361.8 954.8h4.65v4.65h-4.65zM370.8 954.8h4.65v4.65h-4.65zM352.8 959.3h4.65v4.65h-4.65zM357.3 959.3h4.65v4.65h-4.65zM375.3 968.3h4.65v4.65h-4.65zM352.8 972.8h4.65v4.65h-4.65zM361.8 972.8h4.65v4.65h-4.65zM352.8 977.3h4.65v4.65h-4.65zM357.3 977.3h4.65v4.65h-4.65zM388.8 977.3h4.65v4.65h-4.65zM330.3 981.8h4.65v4.65h-4.65zM370.8 981.8h4.65v4.65h-4.65zM348.3 986.3h4.65v4.65h-4.65zM330.3 1013.3h4.65v4.65h-4.65zM370.8 1013.3h4.65v4.65h-4.65zM343.8 1017.8h4.65v4.65h-4.65zM361.8 1017.8h4.65v4.65h-4.65zM379.8 1017.8h4.65v4.65h-4.65zM316.8 1022.3h4.65v4.65h-4.65zM325.8 1026.8h4.65v4.65h-4.65zM361.8 1026.8h4.65v4.65h-4.65zM379.8 1026.8h4.65v4.65h-4.65zM384.3 1026.8h4.65v4.65h-4.65zM388.8 1026.8h4.65v4.65h-4.65zM289.8 1031.3h4.65v4.65h-4.65zM298.8 1031.3h4.65v4.65h-4.65zM339.3 1031.3h4.65v4.65h-4.65zM316.8 1035.8h4.65v4.65h-4.65zM339.3 1035.8h4.65v4.65h-4.65zM343.8 1035.8h4.65v4.65h-4.65zM388.8 1035.8h4.65v4.65h-4.65zM312.3 1040.3h4.65v4.65h-4.65zM339.3 1040.3h4.65v4.65h-4.65zM343.8 1040.3h4.65v4.65h-4.65zM366.3 1040.3h4.65v4.65h-4.65zM361.8 1044.8h4.65v4.65h-4.65zM312.3 1058.3h4.65v4.65h-4.65zM285.3 1062.8h4.65v4.65h-4.65zM388.8 1062.8h4.65v4.65h-4.65zM393.3 1062.8h4.65v4.65h-4.65zM307.8 1067.3h4.65v4.65h-4.65zM339.3 1067.3h4.65v4.65h-4.65zM375.3 1067.3h4.65v4.65h-4.65zM379.8 1067.3h4.65v4.65h-4.65zM294.3 1071.8h4.65v4.65h-4.65zM312.3 1071.8h4.65v4.65h-4.65zM325.8 1071.8h4.65v4.65h-4.65zM357.3 1071.8h4.65v4.65h-4.65zM294.3 1076.3h4.65v4.65h-4.65zM307.8 1076.3h4.65v4.65h-4.65zM316.8 1076.3h4.65v4.65h-4.65zM393.3 1076.3h4.65v4.65h-4.65zM339.3 1080.8h4.65v4.65h-4.65zM370.8 1080.8h4.65v4.65h-4.65zM384.3 1080.8h4.65v4.65h-4.65zM294.3 1085.3h4.65v4.65h-4.65zM375.3 1085.3h4.65v4.65h-4.65zM352.8 1089.8h4.65v4.65h-4.65zM118.8 1116.8h4.65v4.65h-4.65zM132.3 1116.8h4.65v4.65h-4.65zM303.3 1116.8h4.65v4.65h-4.65zM312.3 1116.8h4.65v4.65h-4.65zM325.8 1116.8h4.65v4.65h-4.65zM330.3 1116.8h4.65v4.65h-4.65zM339.3 1116.8h4.65v4.65h-4.65zM348.3 1116.8h4.65v4.65h-4.65zM361.8 1116.8h4.65v4.65h-4.65zM366.3 1116.8h4.65v4.65h-4.65zM388.8 1116.8h4.65v4.65h-4.65zM114.3 1121.3h4.65v4.65h-4.65zM127.8 1121.3h4.65v4.65h-4.65zM154.8 1121.3h4.65v4.65h-4.65zM159.3 1121.3h4.65v4.65h-4.65zM168.3 1121.3h4.65v4.65h-4.65zM177.3 1121.3h4.65v4.65h-4.65zM181.8 1121.3h4.65v4.65h-4.65zM190.8 1121.3h4.65v4.65h-4.65zM195.3 1121.3h4.65v4.65h-4.65zM199.8 1121.3h4.65v4.65h-4.65zM204.3 1121.3h4.65v4.65h-4.65zM208.8 1121.3h4.65v4.65h-4.65zM213.3 1121.3h4.65v4.65h-4.65zM217.8 1121.3h4.65v4.65h-4.65zM226.8 1121.3h4.65v4.65h-4.65zM231.3 1121.3h4.65v4.65h-4.65zM253.8 1121.3h4.65v4.65h-4.65zM258.3 1121.3h4.65v4.65h-4.65zM262.8 1121.3h4.65v4.65h-4.65zM267.3 1121.3h4.65v4.65h-4.65zM271.8 1121.3h4.65v4.65h-4.65zM280.8 1121.3h4.65v4.65h-4.65zM289.8 1121.3h4.65v4.65h-4.65zM307.8 1121.3h4.65v4.65h-4.65zM334.8 1121.3h4.65v4.65h-4.65zM366.3 1121.3h4.65v4.65h-4.65zM109.8 1125.8h4.65v4.65h-4.65zM114.3 1125.8h4.65v4.65h-4.65zM132.3 1125.8h4.65v4.65h-4.65zM141.3 1125.8h4.65v4.65h-4.65zM163.8 1125.8h4.65v4.65h-4.65zM168.3 1125.8h4.65v4.65h-4.65zM249.3 1125.8h4.65v4.65h-4.65zM262.8 1125.8h4.65v4.65h-4.65zM289.8 1125.8h4.65v4.65h-4.65zM312.3 1125.8h4.65v4.65h-4.65zM316.8 1125.8h4.65v4.65h-4.65zM334.8 1125.8h4.65v4.65h-4.65zM357.3 1125.8h4.65v4.65h-4.65zM361.8 1125.8h4.65v4.65h-4.65zM379.8 1125.8h4.65v4.65h-4.65zM388.8 1125.8h4.65v4.65h-4.65zM109.8 1130.3h4.65v4.65h-4.65zM118.8 1130.3h4.65v4.65h-4.65zM132.3 1130.3h4.65v4.65h-4.65zM154.8 1130.3h4.65v4.65h-4.65zM240.3 1130.3h4.65v4.65h-4.65zM276.3 1130.3h4.65v4.65h-4.65zM285.3 1130.3h4.65v4.65h-4.65zM307.8 1130.3h4.65v4.65h-4.65zM316.8 1130.3h4.65v4.65h-4.65zM325.8 1130.3h4.65v4.65h-4.65zM330.3 1130.3h4.65v4.65h-4.65zM339.3 1130.3h4.65v4.65h-4.65zM361.8 1130.3h4.65v4.65h-4.65zM375.3 1130.3h4.65v4.65h-4.65zM384.3 1130.3h4.65v4.65h-4.65zM141.3 1134.8h4.65v4.65h-4.65zM150.3 1134.8h4.65v4.65h-4.65zM159.3 1134.8h4.65v4.65h-4.65zM190.8 1134.8h4.65v4.65h-4.65zM204.3 1134.8h4.65v4.65h-4.65zM208.8 1134.8h4.65v4.65h-4.65zM226.8 1134.8h4.65v4.65h-4.65zM298.8 1134.8h4.65v4.65h-4.65zM325.8 1134.8h4.65v4.65h-4.65zM339.3 1134.8h4.65v4.65h-4.65zM361.8 1134.8h4.65v4.65h-4.65zM375.3 1134.8h4.65v4.65h-4.65zM393.3 1134.8h4.65v4.65h-4.65zM141.3 1139.3h4.65v4.65h-4.65zM150.3 1139.3h4.65v4.65h-4.65zM172.8 1139.3h4.65v4.65h-4.65zM177.3 1139.3h4.65v4.65h-4.65zM186.3 1139.3h4.65v4.65h-4.65zM226.8 1139.3h4.65v4.65h-4.65zM235.8 1139.3h4.65v4.65h-4.65zM249.3 1139.3h4.65v4.65h-4.65zM307.8 1139.3h4.65v4.65h-4.65zM312.3 1139.3h4.65v4.65h-4.65zM339.3 1139.3h4.65v4.65h-4.65zM352.8 1139.3h4.65v4.65h-4.65zM388.8 1139.3h4.65v4.65h-4.65zM393.3 1139.3h4.65v4.65h-4.65zM100.8 1143.8h4.65v4.65h-4.65zM114.3 1143.8h4.65v4.65h-4.65zM118.8 1143.8h4.65v4.65h-4.65zM145.8 1143.8h4.65v4.65h-4.65zM172.8 1143.8h4.65v4.65h-4.65zM177.3 1143.8h4.65v4.65h-4.65zM267.3 1143.8h4.65v4.65h-4.65zM280.8 1143.8h4.65v4.65h-4.65zM294.3 1143.8h4.65v4.65h-4.65zM334.8 1143.8h4.65v4.65h-4.65zM352.8 1143.8h4.65v4.65h-4.65zM357.3 1143.8h4.65v4.65h-4.65zM366.3 1143.8h4.65v4.65h-4.65zM375.3 1143.8h4.65v4.65h-4.65zM388.8 1143.8h4.65v4.65h-4.65zM123.3 1148.3h4.65v4.65h-4.65zM127.8 1148.3h4.65v4.65h-4.65zM132.3 1148.3h4.65v4.65h-4.65zM159.3 1148.3h4.65v4.65h-4.65zM190.8 1148.3h4.65v4.65h-4.65zM204.3 1148.3h4.65v4.65h-4.65zM235.8 1148.3h4.65v4.65h-4.65zM249.3 1148.3h4.65v4.65h-4.65zM312.3 1148.3h4.65v4.65h-4.65zM388.8 1148.3h4.65v4.65h-4.65zM105.3 1152.8h4.65v4.65h-4.65zM114.3 1152.8h4.65v4.65h-4.65zM145.8 1152.8h4.65v4.65h-4.65zM163.8 1152.8h4.65v4.65h-4.65zM181.8 1152.8h4.65v4.65h-4.65zM231.3 1152.8h4.65v4.65h-4.65zM271.8 1152.8h4.65v4.65h-4.65zM285.3 1152.8h4.65v4.65h-4.65zM321.3 1152.8h4.65v4.65h-4.65zM330.3 1152.8h4.65v4.65h-4.65zM339.3 1152.8h4.65v4.65h-4.65zM105.3 1157.3h4.65v4.65h-4.65zM150.3 1157.3h4.65v4.65h-4.65zM159.3 1157.3h4.65v4.65h-4.65zM195.3 1157.3h4.65v4.65h-4.65zM222.3 1157.3h4.65v4.65h-4.65zM235.8 1157.3h4.65v4.65h-4.65zM244.8 1157.3h4.65v4.65h-4.65zM258.3 1157.3h4.65v4.65h-4.65zM289.8 1157.3h4.65v4.65h-4.65zM316.8 1157.3h4.65v4.65h-4.65zM330.3 1157.3h4.65v4.65h-4.65zM339.3 1157.3h4.65v4.65h-4.65zM352.8 1157.3h4.65v4.65h-4.65zM384.3 1157.3h4.65v4.65h-4.65zM388.8 1157.3h4.65v4.65h-4.65zM91.8 1161.8h4.65v4.65h-4.65zM105.3 1161.8h4.65v4.65h-4.65zM118.8 1161.8h4.65v4.65h-4.65zM145.8 1161.8h4.65v4.65h-4.65zM163.8 1161.8h4.65v4.65h-4.65zM172.8 1161.8h4.65v4.65h-4.65zM177.3 1161.8h4.65v4.65h-4.65zM222.3 1161.8h4.65v4.65h-4.65zM240.3 1161.8h4.65v4.65h-4.65zM280.8 1161.8h4.65v4.65h-4.65zM294.3 1161.8h4.65v4.65h-4.65zM298.8 1161.8h4.65v4.65h-4.65zM379.8 1161.8h4.65v4.65h-4.65zM91.8 1166.3h4.65v4.65h-4.65zM96.3 1166.3h4.65v4.65h-4.65zM177.3 1166.3h4.65v4.65h-4.65zM181.8 1166.3h4.65v4.65h-4.65zM199.8 1166.3h4.65v4.65h-4.65zM244.8 1166.3h4.65v4.65h-4.65zM253.8 1166.3h4.65v4.65h-4.65zM267.3 1166.3h4.65v4.65h-4.65zM289.8 1166.3h4.65v4.65h-4.65zM384.3 1166.3h4.65v4.65h-4.65zM388.8 1166.3h4.65v4.65h-4.65zM114.3 1170.8h4.65v4.65h-4.65zM118.8 1170.8h4.65v4.65h-4.65zM145.8 1170.8h4.65v4.65h-4.65zM150.3 1170.8h4.65v4.65h-4.65zM190.8 1170.8h4.65v4.65h-4.65zM199.8 1170.8h4.65v4.65h-4.65zM217.8 1170.8h4.65v4.65h-4.65zM222.3 1170.8h4.65v4.65h-4.65zM249.3 1170.8h4.65v4.65h-4.65zM262.8 1170.8h4.65v4.65h-4.65zM276.3 1170.8h4.65v4.65h-4.65zM384.3 1170.8h4.65v4.65h-4.65zM91.8 1175.3h4.65v4.65h-4.65zM145.8 1175.3h4.65v4.65h-4.65zM177.3 1175.3h4.65v4.65h-4.65zM208.8 1175.3h4.65v4.65h-4.65zM222.3 1175.3h4.65v4.65h-4.65zM240.3 1175.3h4.65v4.65h-4.65zM258.3 1175.3h4.65v4.65h-4.65zM285.3 1175.3h4.65v4.65h-4.65zM289.8 1175.3h4.65v4.65h-4.65zM307.8 1175.3h4.65v4.65h-4.65zM316.8 1175.3h4.65v4.65h-4.65zM334.8 1175.3h4.65v4.65h-4.65zM370.8 1175.3h4.65v4.65h-4.65zM384.3 1175.3h4.65v4.65h-4.65zM393.3 1175.3h4.65v4.65h-4.65zM87.3 1179.8h4.65v4.65h-4.65zM100.8 1179.8h4.65v4.65h-4.65zM114.3 1179.8h4.65v4.65h-4.65zM118.8 1179.8h4.65v4.65h-4.65zM145.8 1179.8h4.65v4.65h-4.65zM150.3 1179.8h4.65v4.65h-4.65zM159.3 1179.8h4.65v4.65h-4.65zM168.3 1179.8h4.65v4.65h-4.65zM190.8 1179.8h4.65v4.65h-4.65zM213.3 1179.8h4.65v4.65h-4.65zM222.3 1179.8h4.65v4.65h-4.65zM258.3 1179.8h4.65v4.65h-4.65zM348.3 1179.8h4.65v4.65h-4.65zM366.3 1179.8h4.65v4.65h-4.65zM375.3 1179.8h4.65v4.65h-4.65zM388.8 1179.8h4.65v4.65h-4.65zM87.3 1184.3h4.65v4.65h-4.65zM105.3 1184.3h4.65v4.65h-4.65zM127.8 1184.3h4.65v4.65h-4.65zM145.8 1184.3h4.65v4.65h-4.65zM150.3 1184.3h4.65v4.65h-4.65zM154.8 1184.3h4.65v4.65h-4.65zM181.8 1184.3h4.65v4.65h-4.65zM190.8 1184.3h4.65v4.65h-4.65zM199.8 1184.3h4.65v4.65h-4.65zM204.3 1184.3h4.65v4.65h-4.65zM217.8 1184.3h4.65v4.65h-4.65zM244.8 1184.3h4.65v4.65h-4.65zM249.3 1184.3h4.65v4.65h-4.65zM258.3 1184.3h4.65v4.65h-4.65zM267.3 1184.3h4.65v4.65h-4.65zM280.8 1184.3h4.65v4.65h-4.65zM294.3 1184.3h4.65v4.65h-4.65zM303.3 1184.3h4.65v4.65h-4.65zM330.3 1184.3h4.65v4.65h-4.65zM361.8 1184.3h4.65v4.65h-4.65z" fill="#88b814"/>
<path d="M231.3 882.8h4.65v4.65h-4.65zM249.3 891.8h4.65v4.65h-4.65zM271.8 891.8h4.65v4.65h-4.65zM280.8 891.8h4.65v4.65h-4.65zM289.8 891.8h4.65v4.65h-4.65zM316.8 896.3h4.65v4.65h-4.65zM244.8 900.8h4.65v4.65h-4.65zM244.8 905.3h4.65v4.65h-4.65zM303.3 909.8h4.65v4.65h-4.65zM249.3 914.3h4.65v4.65h-4.65zM253.8 914.3h4.65v4.65h-4.65zM289.8 914.3h4.65v4.65h-4.65zM316.8 918.8h4.65v4.65h-4.65zM271.8 923.3h4.65v4.65h-4.65zM276.3 927.8h4.65v4.65h-4.65zM262.8 932.3h4.65v4.65h-4.65zM276.3 932.3h4.65v4.65h-4.65zM285.3 932.3h4.65v4.65h-4.65zM244.8 936.8h4.65v4.65h-4.65zM271.8 936.8h4.65v4.65h-4.65zM298.8 936.8h4.65v4.65h-4.65zM325.8 936.8h4.65v4.65h-4.65zM249.3 941.3h4.65v4.65h-4.65zM262.8 941.3h4.65v4.65h-4.65zM303.3 941.3h4.65v4.65h-4.65zM253.8 950.3h4.65v4.65h-4.65zM258.3 950.3h4.65v4.65h-4.65zM271.8 950.3h4.65v4.65h-4.65zM271.8 954.8h4.65v4.65h-4.65zM330.3 954.8h4.65v4.65h-4.65zM249.3 968.3h4.65v4.65h-4.65zM316.8 968.3h4.65v4.65h-4.65zM267.3 977.3h4.65v4.65h-4.65zM271.8 986.3h4.65v4.65h-4.65zM280.8 986.3h4.65v4.65h-4.65zM235.8 990.8h4.65v4.65h-4.65zM280.8 990.8h4.65v4.65h-4.65zM303.3 990.8h4.65v4.65h-4.65zM361.8 990.8h4.65v4.65h-4.65zM321.3 995.3h4.65v4.65h-4.65zM393.3 995.3h4.65v4.65h-4.65zM190.8 999.8h4.65v4.65h-4.65zM298.8 999.8h4.65v4.65h-4.65zM348.3 999.8h4.65v4.65h-4.65zM379.8 999.8h4.65v4.65h-4.65zM321.3 1004.3h4.65v4.65h-4.65zM168.3 1008.8h4.65v4.65h-4.65zM186.3 1008.8h4.65v4.65h-4.65zM213.3 1008.8h4.65v4.65h-4.65zM217.8 1008.8h4.65v4.65h-4.65zM258.3 1008.8h4.65v4.65h-4.65zM330.3 1008.8h4.65v4.65h-4.65zM172.8 1013.3h4.65v4.65h-4.65zM186.3 1013.3h4.65v4.65h-4.65zM271.8 1013.3h4.65v4.65h-4.65zM276.3 1013.3h4.65v4.65h-4.65zM388.8 1013.3h4.65v4.65h-4.65zM177.3 1017.8h4.65v4.65h-4.65zM190.8 1017.8h4.65v4.65h-4.65zM204.3 1017.8h4.65v4.65h-4.65zM208.8 1017.8h4.65v4.65h-4.65zM226.8 1017.8h4.65v4.65h-4.65zM231.3 1017.8h4.65v4.65h-4.65zM271.8 1017.8h4.65v4.65h-4.65zM285.3 1017.8h4.65v4.65h-4.65zM289.8 1017.8h4.65v4.65h-4.65zM163.8 1022.3h4.65v4.65h-4.65zM172.8 1022.3h4.65v4.65h-4.65zM204.3 1022.3h4.65v4.65h-4.65zM208.8 1022.3h4.65v4.65h-4.65zM217.8 1022.3h4.65v4.65h-4.65zM226.8 1022.3h4.65v4.65h-4.65zM231.3 1022.3h4.65v4.65h-4.65zM235.8 1022.3h4.65v4.65h-4.65zM240.3 1022.3h4.65v4.65h-4.65zM267.3 1022.3h4.65v4.65h-4.65zM159.3 1026.8h4.65v4.65h-4.65zM168.3 1026.8h4.65v4.65h-4.65zM213.3 1026.8h4.65v4.65h-4.65zM222.3 1026.8h4.65v4.65h-4.65zM289.8 1026.8h4.65v4.65h-4.65zM159.3 1031.3h4.65v4.65h-4.65zM163.8 1031.3h4.65v4.65h-4.65zM168.3 1031.3h4.65v4.65h-4.65zM190.8 1035.8h4.65v4.65h-4.65zM199.8 1035.8h4.65v4.65h-4.65zM249.3 1035.8h4.65v4.65h-4.65zM276.3 1035.8h4.65v4.65h-4.65zM186.3 1040.3h4.65v4.65h-4.65zM208.8 1040.3h4.65v4.65h-4.65zM217.8 1040.3h4.65v4.65h-4.65zM222.3 1040.3h4.65v4.65h-4.65zM231.3 1040.3h4.65v4.65h-4.65zM240.3 1040.3h4.65v4.65h-4.65zM244.8 1040.3h4.65v4.65h-4.65zM249.3 1040.3h4.65v4.65h-4.65zM253.8 1040.3h4.65v4.65h-4.65zM258.3 1040.3h4.65v4.65h-4.65zM276.3 1040.3h4.65v4.65h-4.65zM289.8 1040.3h4.65v4.65h-4.65zM217.8 1044.8h4.65v4.65h-4.65zM235.8 1044.8h4.65v4.65h-4.65zM240.3 1044.8h4.65v4.65h-4.65zM249.3 1044.8h4.65v4.65h-4.65zM285.3 1044.8h4.65v4.65h-4.65zM303.3 1044.8h4.65v4.65h-4.65zM222.3 1049.3h4.65v4.65h-4.65zM258.3 1049.3h4.65v4.65h-4.65zM262.8 1049.3h4.65v4.65h-4.65zM271.8 1049.3h4.65v4.65h-4.65zM276.3 1049.3h4.65v4.65h-4.65zM294.3 1049.3h4.65v4.65h-4.65zM357.3 1049.3h4.65v4.65h-4.65zM379.8 1049.3h4.65v4.65h-4.65zM208.8 1053.8h4.65v4.65h-4.65zM231.3 1053.8h4.65v4.65h-4.65zM267.3 1053.8h4.65v4.65h-4.65zM271.8 1053.8h4.65v4.65h-4.65zM280.8 1053.8h4.65v4.65h-4.65zM177.3 1058.3h4.65v4.65h-4.65zM204.3 1058.3h4.65v4.65h-4.65zM249.3 1058.3h4.65v4.65h-4.65zM321.3 1058.3h4.65v4.65h-4.65zM334.8 1058.3h4.65v4.65h-4.65zM154.8 1062.8h4.65v4.65h-4.65zM159.3 1062.8h4.65v4.65h-4.65zM163.8 1062.8h4.65v4.65h-4.65zM181.8 1062.8h4.65v4.65h-4.65zM190.8 1062.8h4.65v4.65h-4.65zM195.3 1062.8h4.65v4.65h-4.65zM204.3 1062.8h4.65v4.65h-4.65zM231.3 1062.8h4.65v4.65h-4.65zM289.8 1062.8h4.65v4.65h-4.65zM145.8 1067.3h4.65v4.65h-4.65zM159.3 1067.3h4.65v4.65h-4.65zM186.3 1067.3h4.65v4.65h-4.65zM204.3 1067.3h4.65v4.65h-4.65zM226.8 1067.3h4.65v4.65h-4.65zM267.3 1067.3h4.65v4.65h-4.65zM141.3 1071.8h4.65v4.65h-4.65zM150.3 1071.8h4.65v4.65h-4.65zM177.3 1071.8h4.65v4.65h-4.65zM181.8 1071.8h4.65v4.65h-4.65zM213.3 1071.8h4.65v4.65h-4.65zM222.3 1071.8h4.65v4.65h-4.65zM235.8 1071.8h4.65v4.65h-4.65zM136.8 1076.3h4.65v4.65h-4.65zM145.8 1076.3h4.65v4.65h-4.65zM150.3 1076.3h4.65v4.65h-4.65zM168.3 1076.3h4.65v4.65h-4.65zM181.8 1076.3h4.65v4.65h-4.65zM186.3 1076.3h4.65v4.65h-4.65zM190.8 1076.3h4.65v4.65h-4.65zM195.3 1076.3h4.65v4.65h-4.65zM208.8 1076.3h4.65v4.65h-4.65zM217.8 1076.3h4.65v4.65h-4.65zM240.3 1076.3h4.65v4.65h-4.65zM249.3 1076.3h4.65v4.65h-4.65zM267.3 1076.3h4.65v4.65h-4.65zM136.8 1080.8h4.65v4.65h-4.65zM150.3 1080.8h4.65v4.65h-4.65zM168.3 1080.8h4.65v4.65h-4.65zM181.8 1080.8h4.65v4.65h-4.65zM190.8 1080.8h4.65v4.65h-4.65zM204.3 1080.8h4.65v4.65h-4.65zM208.8 1080.8h4.65v4.65h-4.65zM226.8 1080.8h4.65v4.65h-4.65zM231.3 1080.8h4.65v4.65h-4.65zM249.3 1080.8h4.65v4.65h-4.65zM267.3 1080.8h4.65v4.65h-4.65zM276.3 1080.8h4.65v4.65h-4.65zM280.8 1080.8h4.65v4.65h-4.65zM177.3 1085.3h4.65v4.65h-4.65zM204.3 1085.3h4.65v4.65h-4.65zM226.8 1085.3h4.65v4.65h-4.65zM172.8 1089.8h4.65v4.65h-4.65zM177.3 1089.8h4.65v4.65h-4.65zM280.8 1089.8h4.65v4.65h-4.65zM294.3 1089.8h4.65v4.65h-4.65zM316.8 1089.8h4.65v4.65h-4.65zM384.3 1089.8h4.65v4.65h-4.65zM136.8 1094.3h4.65v4.65h-4.65zM262.8 1094.3h4.65v4.65h-4.65zM294.3 1094.3h4.65v4.65h-4.65zM298.8 1094.3h4.65v4.65h-4.65zM312.3 1094.3h4.65v4.65h-4.65zM334.8 1094.3h4.65v4.65h-4.65zM375.3 1094.3h4.65v4.65h-4.65zM159.3 1098.8h4.65v4.65h-4.65zM208.8 1098.8h4.65v4.65h-4.65zM244.8 1098.8h4.65v4.65h-4.65zM276.3 1098.8h4.65v4.65h-4.65zM289.8 1098.8h4.65v4.65h-4.65zM294.3 1098.8h4.65v4.65h-4.65zM321.3 1098.8h4.65v4.65h-4.65zM393.3 1098.8h4.65v4.65h-4.65zM141.3 1103.3h4.65v4.65h-4.65zM262.8 1103.3h4.65v4.65h-4.65zM312.3 1103.3h4.65v4.65h-4.65zM240.3 1107.8h4.65v4.65h-4.65zM276.3 1107.8h4.65v4.65h-4.65zM285.3 1107.8h4.65v4.65h-4.65zM339.3 1107.8h4.65v4.65h-4.65zM199.8 1112.3h4.65v4.65h-4.65zM280.8 1112.3h4.65v4.65h-4.65zM285.3 1112.3h4.65v4.65h-4.65zM330.3 1112.3h4.65v4.65h-4.65zM348.3 1112.3h4.65v4.65h-4.65zM370.8 1112.3h4.65v4.65h-4.65zM172.8 1116.8h4.65v4.65h-4.65zM181.8 1116.8h4.65v4.65h-4.65zM253.8 1116.8h4.65v4.65h-4.65z" fill="#0e4a3a"/>
<path d="M258.3 882.8h4.65v4.65h-4.65zM253.8 887.3h4.65v4.65h-4.65zM262.8 887.3h4.65v4.65h-4.65zM258.3 891.8h4.65v4.65h-4.65zM285.3 905.3h4.65v4.65h-4.65zM303.3 905.3h4.65v4.65h-4.65zM258.3 909.8h4.65v4.65h-4.65zM262.8 909.8h4.65v4.65h-4.65zM262.8 914.3h4.65v4.65h-4.65zM262.8 918.8h4.65v4.65h-4.65zM258.3 923.3h4.65v4.65h-4.65zM204.3 932.3h4.65v4.65h-4.65zM240.3 932.3h4.65v4.65h-4.65zM258.3 932.3h4.65v4.65h-4.65zM267.3 932.3h4.65v4.65h-4.65zM213.3 936.8h4.65v4.65h-4.65zM217.8 936.8h4.65v4.65h-4.65zM240.3 936.8h4.65v4.65h-4.65zM213.3 941.3h4.65v4.65h-4.65zM222.3 941.3h4.65v4.65h-4.65zM240.3 941.3h4.65v4.65h-4.65zM258.3 941.3h4.65v4.65h-4.65zM217.8 945.8h4.65v4.65h-4.65zM235.8 945.8h4.65v4.65h-4.65zM208.8 950.3h4.65v4.65h-4.65zM213.3 950.3h4.65v4.65h-4.65zM249.3 950.3h4.65v4.65h-4.65zM258.3 954.8h4.65v4.65h-4.65zM262.8 954.8h4.65v4.65h-4.65zM267.3 959.3h4.65v4.65h-4.65zM285.3 959.3h4.65v4.65h-4.65zM204.3 963.8h4.65v4.65h-4.65zM231.3 963.8h4.65v4.65h-4.65zM235.8 963.8h4.65v4.65h-4.65zM262.8 963.8h4.65v4.65h-4.65zM199.8 968.3h4.65v4.65h-4.65zM204.3 968.3h4.65v4.65h-4.65zM240.3 972.8h4.65v4.65h-4.65zM262.8 972.8h4.65v4.65h-4.65zM271.8 972.8h4.65v4.65h-4.65zM186.3 977.3h4.65v4.65h-4.65zM195.3 977.3h4.65v4.65h-4.65zM204.3 981.8h4.65v4.65h-4.65zM231.3 981.8h4.65v4.65h-4.65zM249.3 981.8h4.65v4.65h-4.65zM271.8 981.8h4.65v4.65h-4.65zM276.3 981.8h4.65v4.65h-4.65zM280.8 981.8h4.65v4.65h-4.65zM199.8 986.3h4.65v4.65h-4.65zM208.8 986.3h4.65v4.65h-4.65zM213.3 986.3h4.65v4.65h-4.65zM285.3 986.3h4.65v4.65h-4.65zM199.8 990.8h4.65v4.65h-4.65zM190.8 995.3h4.65v4.65h-4.65zM235.8 995.3h4.65v4.65h-4.65zM294.3 995.3h4.65v4.65h-4.65zM235.8 999.8h4.65v4.65h-4.65zM240.3 999.8h4.65v4.65h-4.65zM258.3 999.8h4.65v4.65h-4.65zM267.3 999.8h4.65v4.65h-4.65zM271.8 999.8h4.65v4.65h-4.65zM280.8 999.8h4.65v4.65h-4.65zM181.8 1004.3h4.65v4.65h-4.65zM253.8 1004.3h4.65v4.65h-4.65zM258.3 1004.3h4.65v4.65h-4.65zM276.3 1004.3h4.65v4.65h-4.65zM190.8 1008.8h4.65v4.65h-4.65zM276.3 1008.8h4.65v4.65h-4.65zM181.8 1013.3h4.65v4.65h-4.65zM195.3 1013.3h4.65v4.65h-4.65zM204.3 1013.3h4.65v4.65h-4.65zM244.8 1013.3h4.65v4.65h-4.65zM258.3 1013.3h4.65v4.65h-4.65zM262.8 1013.3h4.65v4.65h-4.65zM181.8 1017.8h4.65v4.65h-4.65zM222.3 1017.8h4.65v4.65h-4.65zM168.3 1022.3h4.65v4.65h-4.65zM186.3 1022.3h4.65v4.65h-4.65zM199.8 1022.3h4.65v4.65h-4.65zM213.3 1022.3h4.65v4.65h-4.65zM222.3 1022.3h4.65v4.65h-4.65zM172.8 1031.3h4.65v4.65h-4.65zM168.3 1035.8h4.65v4.65h-4.65zM222.3 1035.8h4.65v4.65h-4.65zM235.8 1035.8h4.65v4.65h-4.65zM172.8 1040.3h4.65v4.65h-4.65zM195.3 1040.3h4.65v4.65h-4.65zM199.8 1040.3h4.65v4.65h-4.65zM213.3 1040.3h4.65v4.65h-4.65zM154.8 1044.8h4.65v4.65h-4.65zM195.3 1044.8h4.65v4.65h-4.65zM262.8 1044.8h4.65v4.65h-4.65zM154.8 1049.3h4.65v4.65h-4.65zM168.3 1049.3h4.65v4.65h-4.65zM190.8 1049.3h4.65v4.65h-4.65zM226.8 1049.3h4.65v4.65h-4.65zM145.8 1053.8h4.65v4.65h-4.65zM204.3 1053.8h4.65v4.65h-4.65zM253.8 1053.8h4.65v4.65h-4.65zM258.3 1053.8h4.65v4.65h-4.65zM298.8 1053.8h4.65v4.65h-4.65zM163.8 1058.3h4.65v4.65h-4.65zM213.3 1058.3h4.65v4.65h-4.65zM226.8 1058.3h4.65v4.65h-4.65zM253.8 1058.3h4.65v4.65h-4.65zM145.8 1062.8h4.65v4.65h-4.65zM168.3 1062.8h4.65v4.65h-4.65zM208.8 1062.8h4.65v4.65h-4.65zM249.3 1062.8h4.65v4.65h-4.65zM150.3 1067.3h4.65v4.65h-4.65zM177.3 1067.3h4.65v4.65h-4.65zM208.8 1067.3h4.65v4.65h-4.65zM145.8 1071.8h4.65v4.65h-4.65zM199.8 1071.8h4.65v4.65h-4.65zM172.8 1076.3h4.65v4.65h-4.65zM231.3 1076.3h4.65v4.65h-4.65zM235.8 1076.3h4.65v4.65h-4.65zM244.8 1080.8h4.65v4.65h-4.65zM132.3 1085.3h4.65v4.65h-4.65zM145.8 1085.3h4.65v4.65h-4.65zM154.8 1085.3h4.65v4.65h-4.65zM217.8 1085.3h4.65v4.65h-4.65zM231.3 1085.3h4.65v4.65h-4.65zM235.8 1085.3h4.65v4.65h-4.65zM289.8 1085.3h4.65v4.65h-4.65zM136.8 1089.8h4.65v4.65h-4.65zM145.8 1089.8h4.65v4.65h-4.65zM163.8 1089.8h4.65v4.65h-4.65zM204.3 1089.8h4.65v4.65h-4.65zM145.8 1094.3h4.65v4.65h-4.65zM177.3 1094.3h4.65v4.65h-4.65zM190.8 1094.3h4.65v4.65h-4.65zM280.8 1094.3h4.65v4.65h-4.65zM136.8 1098.8h4.65v4.65h-4.65zM213.3 1098.8h4.65v4.65h-4.65zM231.3 1098.8h4.65v4.65h-4.65zM267.3 1098.8h4.65v4.65h-4.65zM285.3 1098.8h4.65v4.65h-4.65zM159.3 1103.3h4.65v4.65h-4.65zM186.3 1103.3h4.65v4.65h-4.65zM190.8 1103.3h4.65v4.65h-4.65zM258.3 1103.3h4.65v4.65h-4.65zM271.8 1103.3h4.65v4.65h-4.65zM159.3 1107.8h4.65v4.65h-4.65zM217.8 1107.8h4.65v4.65h-4.65zM231.3 1107.8h4.65v4.65h-4.65zM136.8 1112.3h4.65v4.65h-4.65zM150.3 1112.3h4.65v4.65h-4.65zM222.3 1116.8h4.65v4.65h-4.65zM231.3 1116.8h4.65v4.65h-4.65z" fill="#0e2e60"/>
<path d="M388.8 882.8h4.65v4.65h-4.65zM330.3 905.3h4.65v4.65h-4.65zM370.8 932.3h4.65v4.65h-4.65zM348.3 941.3h4.65v4.65h-4.65zM366.3 941.3h4.65v4.65h-4.65zM343.8 954.8h4.65v4.65h-4.65zM375.3 954.8h4.65v4.65h-4.65zM361.8 968.3h4.65v4.65h-4.65zM361.8 977.3h4.65v4.65h-4.65zM366.3 977.3h4.65v4.65h-4.65zM321.3 981.8h4.65v4.65h-4.65zM348.3 1013.3h4.65v4.65h-4.65zM330.3 1017.8h4.65v4.65h-4.65zM384.3 1031.3h4.65v4.65h-4.65zM388.8 1031.3h4.65v4.65h-4.65zM325.8 1035.8h4.65v4.65h-4.65zM393.3 1035.8h4.65v4.65h-4.65zM366.3 1062.8h4.65v4.65h-4.65zM303.3 1067.3h4.65v4.65h-4.65zM307.8 1071.8h4.65v4.65h-4.65zM339.3 1071.8h4.65v4.65h-4.65zM316.8 1085.3h4.65v4.65h-4.65zM384.3 1085.3h4.65v4.65h-4.65zM312.3 1089.8h4.65v4.65h-4.65zM114.3 1116.8h4.65v4.65h-4.65zM123.3 1116.8h4.65v4.65h-4.65zM127.8 1116.8h4.65v4.65h-4.65zM136.8 1116.8h4.65v4.65h-4.65zM298.8 1116.8h4.65v4.65h-4.65zM321.3 1116.8h4.65v4.65h-4.65zM352.8 1116.8h4.65v4.65h-4.65zM370.8 1116.8h4.65v4.65h-4.65zM375.3 1116.8h4.65v4.65h-4.65zM118.8 1121.3h4.65v4.65h-4.65zM123.3 1121.3h4.65v4.65h-4.65zM132.3 1121.3h4.65v4.65h-4.65zM172.8 1121.3h4.65v4.65h-4.65zM186.3 1121.3h4.65v4.65h-4.65zM222.3 1121.3h4.65v4.65h-4.65zM235.8 1121.3h4.65v4.65h-4.65zM240.3 1121.3h4.65v4.65h-4.65zM276.3 1121.3h4.65v4.65h-4.65zM285.3 1121.3h4.65v4.65h-4.65zM294.3 1121.3h4.65v4.65h-4.65zM316.8 1121.3h4.65v4.65h-4.65zM325.8 1121.3h4.65v4.65h-4.65zM330.3 1121.3h4.65v4.65h-4.65zM339.3 1121.3h4.65v4.65h-4.65zM348.3 1121.3h4.65v4.65h-4.65zM352.8 1121.3h4.65v4.65h-4.65zM357.3 1121.3h4.65v4.65h-4.65zM375.3 1121.3h4.65v4.65h-4.65zM388.8 1121.3h4.65v4.65h-4.65zM393.3 1121.3h4.65v4.65h-4.65zM118.8 1125.8h4.65v4.65h-4.65zM123.3 1125.8h4.65v4.65h-4.65zM127.8 1125.8h4.65v4.65h-4.65zM136.8 1125.8h4.65v4.65h-4.65zM150.3 1125.8h4.65v4.65h-4.65zM154.8 1125.8h4.65v4.65h-4.65zM172.8 1125.8h4.65v4.65h-4.65zM181.8 1125.8h4.65v4.65h-4.65zM186.3 1125.8h4.65v4.65h-4.65zM190.8 1125.8h4.65v4.65h-4.65zM195.3 1125.8h4.65v4.65h-4.65zM199.8 1125.8h4.65v4.65h-4.65zM213.3 1125.8h4.65v4.65h-4.65zM217.8 1125.8h4.65v4.65h-4.65zM222.3 1125.8h4.65v4.65h-4.65zM226.8 1125.8h4.65v4.65h-4.65zM231.3 1125.8h4.65v4.65h-4.65zM235.8 1125.8h4.65v4.65h-4.65zM240.3 1125.8h4.65v4.65h-4.65zM244.8 1125.8h4.65v4.65h-4.65zM253.8 1125.8h4.65v4.65h-4.65zM258.3 1125.8h4.65v4.65h-4.65zM267.3 1125.8h4.65v4.65h-4.65zM271.8 1125.8h4.65v4.65h-4.65zM276.3 1125.8h4.65v4.65h-4.65zM285.3 1125.8h4.65v4.65h-4.65zM294.3 1125.8h4.65v4.65h-4.65zM298.8 1125.8h4.65v4.65h-4.65zM307.8 1125.8h4.65v4.65h-4.65zM321.3 1125.8h4.65v4.65h-4.65zM339.3 1125.8h4.65v4.65h-4.65zM343.8 1125.8h4.65v4.65h-4.65zM352.8 1125.8h4.65v4.65h-4.65zM366.3 1125.8h4.65v4.65h-4.65zM375.3 1125.8h4.65v4.65h-4.65zM384.3 1125.8h4.65v4.65h-4.65zM114.3 1130.3h4.65v4.65h-4.65zM123.3 1130.3h4.65v4.65h-4.65zM127.8 1130.3h4.65v4.65h-4.65zM145.8 1130.3h4.65v4.65h-4.65zM150.3 1130.3h4.65v4.65h-4.65zM159.3 1130.3h4.65v4.65h-4.65zM177.3 1130.3h4.65v4.65h-4.65zM186.3 1130.3h4.65v4.65h-4.65zM190.8 1130.3h4.65v4.65h-4.65zM195.3 1130.3h4.65v4.65h-4.65zM199.8 1130.3h4.65v4.65h-4.65zM204.3 1130.3h4.65v4.65h-4.65zM208.8 1130.3h4.65v4.65h-4.65zM213.3 1130.3h4.65v4.65h-4.65zM217.8 1130.3h4.65v4.65h-4.65zM226.8 1130.3h4.65v4.65h-4.65zM244.8 1130.3h4.65v4.65h-4.65zM249.3 1130.3h4.65v4.65h-4.65zM258.3 1130.3h4.65v4.65h-4.65zM262.8 1130.3h4.65v4.65h-4.65zM267.3 1130.3h4.65v4.65h-4.65zM280.8 1130.3h4.65v4.65h-4.65zM289.8 1130.3h4.65v4.65h-4.65zM294.3 1130.3h4.65v4.65h-4.65zM298.8 1130.3h4.65v4.65h-4.65zM303.3 1130.3h4.65v4.65h-4.65zM312.3 1130.3h4.65v4.65h-4.65zM321.3 1130.3h4.65v4.65h-4.65zM334.8 1130.3h4.65v4.65h-4.65zM352.8 1130.3h4.65v4.65h-4.65zM370.8 1130.3h4.65v4.65h-4.65zM379.8 1130.3h4.65v4.65h-4.65zM393.3 1130.3h4.65v4.65h-4.65zM105.3 1134.8h4.65v4.65h-4.65zM127.8 1134.8h4.65v4.65h-4.65zM132.3 1134.8h4.65v4.65h-4.65zM136.8 1134.8h4.65v4.65h-4.65zM145.8 1134.8h4.65v4.65h-4.65zM154.8 1134.8h4.65v4.65h-4.65zM163.8 1134.8h4.65v4.65h-4.65zM168.3 1134.8h4.65v4.65h-4.65zM172.8 1134.8h4.65v4.65h-4.65zM177.3 1134.8h4.65v4.65h-4.65zM181.8 1134.8h4.65v4.65h-4.65zM195.3 1134.8h4.65v4.65h-4.65zM199.8 1134.8h4.65v4.65h-4.65zM235.8 1134.8h4.65v4.65h-4.65zM240.3 1134.8h4.65v4.65h-4.65zM244.8 1134.8h4.65v4.65h-4.65zM249.3 1134.8h4.65v4.65h-4.65zM253.8 1134.8h4.65v4.65h-4.65zM258.3 1134.8h4.65v4.65h-4.65zM262.8 1134.8h4.65v4.65h-4.65zM267.3 1134.8h4.65v4.65h-4.65zM285.3 1134.8h4.65v4.65h-4.65zM289.8 1134.8h4.65v4.65h-4.65zM303.3 1134.8h4.65v4.65h-4.65zM321.3 1134.8h4.65v4.65h-4.65zM330.3 1134.8h4.65v4.65h-4.65zM334.8 1134.8h4.65v4.65h-4.65zM343.8 1134.8h4.65v4.65h-4.65zM348.3 1134.8h4.65v4.65h-4.65zM366.3 1134.8h4.65v4.65h-4.65zM379.8 1134.8h4.65v4.65h-4.65zM384.3 1134.8h4.65v4.65h-4.65zM109.8 1139.3h4.65v4.65h-4.65zM114.3 1139.3h4.65v4.65h-4.65zM127.8 1139.3h4.65v4.65h-4.65zM132.3 1139.3h4.65v4.65h-4.65zM145.8 1139.3h4.65v4.65h-4.65zM159.3 1139.3h4.65v4.65h-4.65zM163.8 1139.3h4.65v4.65h-4.65zM181.8 1139.3h4.65v4.65h-4.65zM199.8 1139.3h4.65v4.65h-4.65zM217.8 1139.3h4.65v4.65h-4.65zM222.3 1139.3h4.65v4.65h-4.65zM231.3 1139.3h4.65v4.65h-4.65zM240.3 1139.3h4.65v4.65h-4.65zM244.8 1139.3h4.65v4.65h-4.65zM253.8 1139.3h4.65v4.65h-4.65zM271.8 1139.3h4.65v4.65h-4.65zM280.8 1139.3h4.65v4.65h-4.65zM285.3 1139.3h4.65v4.65h-4.65zM289.8 1139.3h4.65v4.65h-4.65zM298.8 1139.3h4.65v4.65h-4.65zM303.3 1139.3h4.65v4.65h-4.65zM316.8 1139.3h4.65v4.65h-4.65zM321.3 1139.3h4.65v4.65h-4.65zM348.3 1139.3h4.65v4.65h-4.65zM357.3 1139.3h4.65v4.65h-4.65zM361.8 1139.3h4.65v4.65h-4.65zM366.3 1139.3h4.65v4.65h-4.65zM375.3 1139.3h4.65v4.65h-4.65zM384.3 1139.3h4.65v4.65h-4.65zM105.3 1143.8h4.65v4.65h-4.65zM109.8 1143.8h4.65v4.65h-4.65zM123.3 1143.8h4.65v4.65h-4.65zM132.3 1143.8h4.65v4.65h-4.65zM136.8 1143.8h4.65v4.65h-4.65zM141.3 1143.8h4.65v4.65h-4.65zM159.3 1143.8h4.65v4.65h-4.65zM163.8 1143.8h4.65v4.65h-4.65zM168.3 1143.8h4.65v4.65h-4.65zM181.8 1143.8h4.65v4.65h-4.65zM186.3 1143.8h4.65v4.65h-4.65zM190.8 1143.8h4.65v4.65h-4.65zM222.3 1143.8h4.65v4.65h-4.65zM226.8 1143.8h4.65v4.65h-4.65zM231.3 1143.8h4.65v4.65h-4.65zM240.3 1143.8h4.65v4.65h-4.65zM249.3 1143.8h4.65v4.65h-4.65zM253.8 1143.8h4.65v4.65h-4.65zM258.3 1143.8h4.65v4.65h-4.65zM262.8 1143.8h4.65v4.65h-4.65zM271.8 1143.8h4.65v4.65h-4.65zM276.3 1143.8h4.65v4.65h-4.65zM285.3 1143.8h4.65v4.65h-4.65zM289.8 1143.8h4.65v4.65h-4.65zM303.3 1143.8h4.65v4.65h-4.65zM307.8 1143.8h4.65v4.65h-4.65zM312.3 1143.8h4.65v4.65h-4.65zM321.3 1143.8h4.65v4.65h-4.65zM325.8 1143.8h4.65v4.65h-4.65zM348.3 1143.8h4.65v4.65h-4.65zM379.8 1143.8h4.65v4.65h-4.65zM384.3 1143.8h4.65v4.65h-4.65zM100.8 1148.3h4.65v4.65h-4.65zM114.3 1148.3h4.65v4.65h-4.65zM118.8 1148.3h4.65v4.65h-4.65zM136.8 1148.3h4.65v4.65h-4.65zM145.8 1148.3h4.65v4.65h-4.65zM154.8 1148.3h4.65v4.65h-4.65zM181.8 1148.3h4.65v4.65h-4.65zM186.3 1148.3h4.65v4.65h-4.65zM195.3 1148.3h4.65v4.65h-4.65zM199.8 1148.3h4.65v4.65h-4.65zM217.8 1148.3h4.65v4.65h-4.65zM226.8 1148.3h4.65v4.65h-4.65zM231.3 1148.3h4.65v4.65h-4.65zM240.3 1148.3h4.65v4.65h-4.65zM244.8 1148.3h4.65v4.65h-4.65zM253.8 1148.3h4.65v4.65h-4.65zM258.3 1148.3h4.65v4.65h-4.65zM267.3 1148.3h4.65v4.65h-4.65zM271.8 1148.3h4.65v4.65h-4.65zM280.8 1148.3h4.65v4.65h-4.65zM289.8 1148.3h4.65v4.65h-4.65zM298.8 1148.3h4.65v4.65h-4.65zM307.8 1148.3h4.65v4.65h-4.65zM316.8 1148.3h4.65v4.65h-4.65zM321.3 1148.3h4.65v4.65h-4.65zM325.8 1148.3h4.65v4.65h-4.65zM330.3 1148.3h4.65v4.65h-4.65zM334.8 1148.3h4.65v4.65h-4.65zM343.8 1148.3h4.65v4.65h-4.65zM352.8 1148.3h4.65v4.65h-4.65zM361.8 1148.3h4.65v4.65h-4.65zM370.8 1148.3h4.65v4.65h-4.65zM375.3 1148.3h4.65v4.65h-4.65zM379.8 1148.3h4.65v4.65h-4.65zM96.3 1152.8h4.65v4.65h-4.65zM100.8 1152.8h4.65v4.65h-4.65zM109.8 1152.8h4.65v4.65h-4.65zM136.8 1152.8h4.65v4.65h-4.65zM141.3 1152.8h4.65v4.65h-4.65zM150.3 1152.8h4.65v4.65h-4.65zM154.8 1152.8h4.65v4.65h-4.65zM168.3 1152.8h4.65v4.65h-4.65zM177.3 1152.8h4.65v4.65h-4.65zM190.8 1152.8h4.65v4.65h-4.65zM195.3 1152.8h4.65v4.65h-4.65zM204.3 1152.8h4.65v4.65h-4.65zM213.3 1152.8h4.65v4.65h-4.65zM217.8 1152.8h4.65v4.65h-4.65zM222.3 1152.8h4.65v4.65h-4.65zM226.8 1152.8h4.65v4.65h-4.65zM240.3 1152.8h4.65v4.65h-4.65zM244.8 1152.8h4.65v4.65h-4.65zM249.3 1152.8h4.65v4.65h-4.65zM253.8 1152.8h4.65v4.65h-4.65zM258.3 1152.8h4.65v4.65h-4.65zM262.8 1152.8h4.65v4.65h-4.65zM276.3 1152.8h4.65v4.65h-4.65zM280.8 1152.8h4.65v4.65h-4.65zM289.8 1152.8h4.65v4.65h-4.65zM298.8 1152.8h4.65v4.65h-4.65zM307.8 1152.8h4.65v4.65h-4.65zM325.8 1152.8h4.65v4.65h-4.65zM334.8 1152.8h4.65v4.65h-4.65zM352.8 1152.8h4.65v4.65h-4.65zM361.8 1152.8h4.65v4.65h-4.65zM366.3 1152.8h4.65v4.65h-4.65zM375.3 1152.8h4.65v4.65h-4.65zM379.8 1152.8h4.65v4.65h-4.65zM388.8 1152.8h4.65v4.65h-4.65zM96.3 1157.3h4.65v4.65h-4.65zM109.8 1157.3h4.65v4.65h-4.65zM114.3 1157.3h4.65v4.65h-4.65zM123.3 1157.3h4.65v4.65h-4.65zM127.8 1157.3h4.65v4.65h-4.65zM132.3 1157.3h4.65v4.65h-4.65zM136.8 1157.3h4.65v4.65h-4.65zM141.3 1157.3h4.65v4.65h-4.65zM145.8 1157.3h4.65v4.65h-4.65zM154.8 1157.3h4.65v4.65h-4.65zM168.3 1157.3h4.65v4.65h-4.65zM172.8 1157.3h4.65v4.65h-4.65zM181.8 1157.3h4.65v4.65h-4.65zM186.3 1157.3h4.65v4.65h-4.65zM204.3 1157.3h4.65v4.65h-4.65zM213.3 1157.3h4.65v4.65h-4.65zM217.8 1157.3h4.65v4.65h-4.65zM226.8 1157.3h4.65v4.65h-4.65zM231.3 1157.3h4.65v4.65h-4.65zM240.3 1157.3h4.65v4.65h-4.65zM249.3 1157.3h4.65v4.65h-4.65zM253.8 1157.3h4.65v4.65h-4.65zM267.3 1157.3h4.65v4.65h-4.65zM271.8 1157.3h4.65v4.65h-4.65zM276.3 1157.3h4.65v4.65h-4.65zM285.3 1157.3h4.65v4.65h-4.65zM294.3 1157.3h4.65v4.65h-4.65zM298.8 1157.3h4.65v4.65h-4.65zM303.3 1157.3h4.65v4.65h-4.65zM307.8 1157.3h4.65v4.65h-4.65zM321.3 1157.3h4.65v4.65h-4.65zM325.8 1157.3h4.65v4.65h-4.65zM343.8 1157.3h4.65v4.65h-4.65zM348.3 1157.3h4.65v4.65h-4.65zM357.3 1157.3h4.65v4.65h-4.65zM361.8 1157.3h4.65v4.65h-4.65zM366.3 1157.3h4.65v4.65h-4.65zM370.8 1157.3h4.65v4.65h-4.65zM375.3 1157.3h4.65v4.65h-4.65zM379.8 1157.3h4.65v4.65h-4.65zM96.3 1161.8h4.65v4.65h-4.65zM100.8 1161.8h4.65v4.65h-4.65zM114.3 1161.8h4.65v4.65h-4.65zM123.3 1161.8h4.65v4.65h-4.65zM127.8 1161.8h4.65v4.65h-4.65zM141.3 1161.8h4.65v4.65h-4.65zM159.3 1161.8h4.65v4.65h-4.65zM181.8 1161.8h4.65v4.65h-4.65zM186.3 1161.8h4.65v4.65h-4.65zM190.8 1161.8h4.65v4.65h-4.65zM195.3 1161.8h4.65v4.65h-4.65zM204.3 1161.8h4.65v4.65h-4.65zM217.8 1161.8h4.65v4.65h-4.65zM226.8 1161.8h4.65v4.65h-4.65zM231.3 1161.8h4.65v4.65h-4.65zM235.8 1161.8h4.65v4.65h-4.65zM244.8 1161.8h4.65v4.65h-4.65zM253.8 1161.8h4.65v4.65h-4.65zM262.8 1161.8h4.65v4.65h-4.65zM267.3 1161.8h4.65v4.65h-4.65zM276.3 1161.8h4.65v4.65h-4.65zM289.8 1161.8h4.65v4.65h-4.65zM307.8 1161.8h4.65v4.65h-4.65zM321.3 1161.8h4.65v4.65h-4.65zM325.8 1161.8h4.65v4.65h-4.65zM343.8 1161.8h4.65v4.65h-4.65zM357.3 1161.8h4.65v4.65h-4.65zM366.3 1161.8h4.65v4.65h-4.65zM375.3 1161.8h4.65v4.65h-4.65zM100.8 1166.3h4.65v4.65h-4.65zM118.8 1166.3h4.65v4.65h-4.65zM123.3 1166.3h4.65v4.65h-4.65zM127.8 1166.3h4.65v4.65h-4.65zM132.3 1166.3h4.65v4.65h-4.65zM141.3 1166.3h4.65v4.65h-4.65zM145.8 1166.3h4.65v4.65h-4.65zM150.3 1166.3h4.65v4.65h-4.65zM159.3 1166.3h4.65v4.65h-4.65zM163.8 1166.3h4.65v4.65h-4.65zM172.8 1166.3h4.65v4.65h-4.65zM186.3 1166.3h4.65v4.65h-4.65zM195.3 1166.3h4.65v4.65h-4.65zM204.3 1166.3h4.65v4.65h-4.65zM213.3 1166.3h4.65v4.65h-4.65zM217.8 1166.3h4.65v4.65h-4.65zM222.3 1166.3h4.65v4.65h-4.65zM226.8 1166.3h4.65v4.65h-4.65zM235.8 1166.3h4.65v4.65h-4.65zM240.3 1166.3h4.65v4.65h-4.65zM258.3 1166.3h4.65v4.65h-4.65zM262.8 1166.3h4.65v4.65h-4.65zM276.3 1166.3h4.65v4.65h-4.65zM280.8 1166.3h4.65v4.65h-4.65zM285.3 1166.3h4.65v4.65h-4.65zM298.8 1166.3h4.65v4.65h-4.65zM312.3 1166.3h4.65v4.65h-4.65zM325.8 1166.3h4.65v4.65h-4.65zM339.3 1166.3h4.65v4.65h-4.65zM348.3 1166.3h4.65v4.65h-4.65zM352.8 1166.3h4.65v4.65h-4.65zM361.8 1166.3h4.65v4.65h-4.65zM370.8 1166.3h4.65v4.65h-4.65zM393.3 1166.3h4.65v4.65h-4.65zM87.3 1170.8h4.65v4.65h-4.65zM91.8 1170.8h4.65v4.65h-4.65zM100.8 1170.8h4.65v4.65h-4.65zM109.8 1170.8h4.65v4.65h-4.65zM123.3 1170.8h4.65v4.65h-4.65zM127.8 1170.8h4.65v4.65h-4.65zM136.8 1170.8h4.65v4.65h-4.65zM141.3 1170.8h4.65v4.65h-4.65zM154.8 1170.8h4.65v4.65h-4.65zM159.3 1170.8h4.65v4.65h-4.65zM177.3 1170.8h4.65v4.65h-4.65zM181.8 1170.8h4.65v4.65h-4.65zM195.3 1170.8h4.65v4.65h-4.65zM204.3 1170.8h4.65v4.65h-4.65zM208.8 1170.8h4.65v4.65h-4.65zM226.8 1170.8h4.65v4.65h-4.65zM231.3 1170.8h4.65v4.65h-4.65zM235.8 1170.8h4.65v4.65h-4.65zM240.3 1170.8h4.65v4.65h-4.65zM244.8 1170.8h4.65v4.65h-4.65zM267.3 1170.8h4.65v4.65h-4.65zM280.8 1170.8h4.65v4.65h-4.65zM289.8 1170.8h4.65v4.65h-4.65zM307.8 1170.8h4.65v4.65h-4.65zM316.8 1170.8h4.65v4.65h-4.65zM321.3 1170.8h4.65v4.65h-4.65zM325.8 1170.8h4.65v4.65h-4.65zM334.8 1170.8h4.65v4.65h-4.65zM339.3 1170.8h4.65v4.65h-4.65zM343.8 1170.8h4.65v4.65h-4.65zM357.3 1170.8h4.65v4.65h-4.65zM361.8 1170.8h4.65v4.65h-4.65zM366.3 1170.8h4.65v4.65h-4.65zM375.3 1170.8h4.65v4.65h-4.65zM388.8 1170.8h4.65v4.65h-4.65zM87.3 1175.3h4.65v4.65h-4.65zM96.3 1175.3h4.65v4.65h-4.65zM100.8 1175.3h4.65v4.65h-4.65zM109.8 1175.3h4.65v4.65h-4.65zM114.3 1175.3h4.65v4.65h-4.65zM118.8 1175.3h4.65v4.65h-4.65zM123.3 1175.3h4.65v4.65h-4.65zM127.8 1175.3h4.65v4.65h-4.65zM136.8 1175.3h4.65v4.65h-4.65zM141.3 1175.3h4.65v4.65h-4.65zM154.8 1175.3h4.65v4.65h-4.65zM159.3 1175.3h4.65v4.65h-4.65zM168.3 1175.3h4.65v4.65h-4.65zM181.8 1175.3h4.65v4.65h-4.65zM186.3 1175.3h4.65v4.65h-4.65zM190.8 1175.3h4.65v4.65h-4.65zM195.3 1175.3h4.65v4.65h-4.65zM213.3 1175.3h4.65v4.65h-4.65zM226.8 1175.3h4.65v4.65h-4.65zM231.3 1175.3h4.65v4.65h-4.65zM235.8 1175.3h4.65v4.65h-4.65zM249.3 1175.3h4.65v4.65h-4.65zM253.8 1175.3h4.65v4.65h-4.65zM262.8 1175.3h4.65v4.65h-4.65zM267.3 1175.3h4.65v4.65h-4.65zM271.8 1175.3h4.65v4.65h-4.65zM276.3 1175.3h4.65v4.65h-4.65zM294.3 1175.3h4.65v4.65h-4.65zM298.8 1175.3h4.65v4.65h-4.65zM303.3 1175.3h4.65v4.65h-4.65zM321.3 1175.3h4.65v4.65h-4.65zM325.8 1175.3h4.65v4.65h-4.65zM339.3 1175.3h4.65v4.65h-4.65zM348.3 1175.3h4.65v4.65h-4.65zM352.8 1175.3h4.65v4.65h-4.65zM361.8 1175.3h4.65v4.65h-4.65zM366.3 1175.3h4.65v4.65h-4.65zM96.3 1179.8h4.65v4.65h-4.65zM105.3 1179.8h4.65v4.65h-4.65zM109.8 1179.8h4.65v4.65h-4.65zM127.8 1179.8h4.65v4.65h-4.65zM132.3 1179.8h4.65v4.65h-4.65zM136.8 1179.8h4.65v4.65h-4.65zM141.3 1179.8h4.65v4.65h-4.65zM163.8 1179.8h4.65v4.65h-4.65zM172.8 1179.8h4.65v4.65h-4.65zM177.3 1179.8h4.65v4.65h-4.65zM181.8 1179.8h4.65v4.65h-4.65zM195.3 1179.8h4.65v4.65h-4.65zM199.8 1179.8h4.65v4.65h-4.65zM204.3 1179.8h4.65v4.65h-4.65zM208.8 1179.8h4.65v4.65h-4.65zM217.8 1179.8h4.65v4.65h-4.65zM226.8 1179.8h4.65v4.65h-4.65zM235.8 1179.8h4.65v4.65h-4.65zM240.3 1179.8h4.65v4.65h-4.65zM244.8 1179.8h4.65v4.65h-4.65zM249.3 1179.8h4.65v4.65h-4.65zM253.8 1179.8h4.65v4.65h-4.65zM267.3 1179.8h4.65v4.65h-4.65zM271.8 1179.8h4.65v4.65h-4.65zM276.3 1179.8h4.65v4.65h-4.65zM280.8 1179.8h4.65v4.65h-4.65zM285.3 1179.8h4.65v4.65h-4.65zM289.8 1179.8h4.65v4.65h-4.65zM294.3 1179.8h4.65v4.65h-4.65zM312.3 1179.8h4.65v4.65h-4.65zM316.8 1179.8h4.65v4.65h-4.65zM321.3 1179.8h4.65v4.65h-4.65zM330.3 1179.8h4.65v4.65h-4.65zM334.8 1179.8h4.65v4.65h-4.65zM352.8 1179.8h4.65v4.65h-4.65zM379.8 1179.8h4.65v4.65h-4.65zM91.8 1184.3h4.65v4.65h-4.65zM109.8 1184.3h4.65v4.65h-4.65zM114.3 1184.3h4.65v4.65h-4.65zM123.3 1184.3h4.65v4.65h-4.65zM132.3 1184.3h4.65v4.65h-4.65zM141.3 1184.3h4.65v4.65h-4.65zM159.3 1184.3h4.65v4.65h-4.65zM163.8 1184.3h4.65v4.65h-4.65zM168.3 1184.3h4.65v4.65h-4.65zM172.8 1184.3h4.65v4.65h-4.65zM177.3 1184.3h4.65v4.65h-4.65zM195.3 1184.3h4.65v4.65h-4.65zM226.8 1184.3h4.65v4.65h-4.65zM235.8 1184.3h4.65v4.65h-4.65zM240.3 1184.3h4.65v4.65h-4.65zM253.8 1184.3h4.65v4.65h-4.65zM262.8 1184.3h4.65v4.65h-4.65zM271.8 1184.3h4.65v4.65h-4.65zM285.3 1184.3h4.65v4.65h-4.65zM289.8 1184.3h4.65v4.65h-4.65zM298.8 1184.3h4.65v4.65h-4.65zM384.3 1184.3h4.65v4.65h-4.65zM388.8 1184.3h4.65v4.65h-4.65z" fill="#c4dc10"/>
<path d="M163.8 1121.3h4.65v4.65h-4.65zM298.8 1121.3h4.65v4.65h-4.65zM312.3 1121.3h4.65v4.65h-4.65zM370.8 1121.3h4.65v4.65h-4.65zM379.8 1121.3h4.65v4.65h-4.65zM384.3 1121.3h4.65v4.65h-4.65zM145.8 1125.8h4.65v4.65h-4.65zM159.3 1125.8h4.65v4.65h-4.65zM177.3 1125.8h4.65v4.65h-4.65zM204.3 1125.8h4.65v4.65h-4.65zM208.8 1125.8h4.65v4.65h-4.65zM280.8 1125.8h4.65v4.65h-4.65zM303.3 1125.8h4.65v4.65h-4.65zM136.8 1130.3h4.65v4.65h-4.65zM141.3 1130.3h4.65v4.65h-4.65zM163.8 1130.3h4.65v4.65h-4.65zM168.3 1130.3h4.65v4.65h-4.65zM172.8 1130.3h4.65v4.65h-4.65zM231.3 1130.3h4.65v4.65h-4.65zM235.8 1130.3h4.65v4.65h-4.65zM109.8 1134.8h4.65v4.65h-4.65zM114.3 1134.8h4.65v4.65h-4.65zM118.8 1134.8h4.65v4.65h-4.65zM123.3 1134.8h4.65v4.65h-4.65zM222.3 1134.8h4.65v4.65h-4.65zM231.3 1134.8h4.65v4.65h-4.65zM276.3 1134.8h4.65v4.65h-4.65zM280.8 1134.8h4.65v4.65h-4.65zM312.3 1134.8h4.65v4.65h-4.65zM316.8 1134.8h4.65v4.65h-4.65zM118.8 1139.3h4.65v4.65h-4.65zM123.3 1139.3h4.65v4.65h-4.65zM136.8 1139.3h4.65v4.65h-4.65zM190.8 1139.3h4.65v4.65h-4.65zM195.3 1139.3h4.65v4.65h-4.65zM204.3 1139.3h4.65v4.65h-4.65zM208.8 1139.3h4.65v4.65h-4.65zM262.8 1139.3h4.65v4.65h-4.65zM267.3 1139.3h4.65v4.65h-4.65zM294.3 1139.3h4.65v4.65h-4.65zM334.8 1139.3h4.65v4.65h-4.65zM127.8 1143.8h4.65v4.65h-4.65zM150.3 1143.8h4.65v4.65h-4.65zM199.8 1143.8h4.65v4.65h-4.65zM204.3 1143.8h4.65v4.65h-4.65zM208.8 1143.8h4.65v4.65h-4.65zM213.3 1143.8h4.65v4.65h-4.65zM217.8 1143.8h4.65v4.65h-4.65zM235.8 1143.8h4.65v4.65h-4.65zM244.8 1143.8h4.65v4.65h-4.65zM298.8 1143.8h4.65v4.65h-4.65zM316.8 1143.8h4.65v4.65h-4.65zM339.3 1143.8h4.65v4.65h-4.65zM361.8 1143.8h4.65v4.65h-4.65zM370.8 1143.8h4.65v4.65h-4.65zM393.3 1143.8h4.65v4.65h-4.65zM105.3 1148.3h4.65v4.65h-4.65zM109.8 1148.3h4.65v4.65h-4.65zM141.3 1148.3h4.65v4.65h-4.65zM150.3 1148.3h4.65v4.65h-4.65zM163.8 1148.3h4.65v4.65h-4.65zM172.8 1148.3h4.65v4.65h-4.65zM213.3 1148.3h4.65v4.65h-4.65zM222.3 1148.3h4.65v4.65h-4.65zM262.8 1148.3h4.65v4.65h-4.65zM276.3 1148.3h4.65v4.65h-4.65zM303.3 1148.3h4.65v4.65h-4.65zM357.3 1148.3h4.65v4.65h-4.65zM366.3 1148.3h4.65v4.65h-4.65zM384.3 1148.3h4.65v4.65h-4.65zM118.8 1152.8h4.65v4.65h-4.65zM123.3 1152.8h4.65v4.65h-4.65zM127.8 1152.8h4.65v4.65h-4.65zM132.3 1152.8h4.65v4.65h-4.65zM159.3 1152.8h4.65v4.65h-4.65zM172.8 1152.8h4.65v4.65h-4.65zM186.3 1152.8h4.65v4.65h-4.65zM199.8 1152.8h4.65v4.65h-4.65zM208.8 1152.8h4.65v4.65h-4.65zM235.8 1152.8h4.65v4.65h-4.65zM267.3 1152.8h4.65v4.65h-4.65zM294.3 1152.8h4.65v4.65h-4.65zM303.3 1152.8h4.65v4.65h-4.65zM312.3 1152.8h4.65v4.65h-4.65zM316.8 1152.8h4.65v4.65h-4.65zM343.8 1152.8h4.65v4.65h-4.65zM348.3 1152.8h4.65v4.65h-4.65zM370.8 1152.8h4.65v4.65h-4.65zM384.3 1152.8h4.65v4.65h-4.65zM393.3 1152.8h4.65v4.65h-4.65zM100.8 1157.3h4.65v4.65h-4.65zM118.8 1157.3h4.65v4.65h-4.65zM163.8 1157.3h4.65v4.65h-4.65zM177.3 1157.3h4.65v4.65h-4.65zM190.8 1157.3h4.65v4.65h-4.65zM199.8 1157.3h4.65v4.65h-4.65zM208.8 1157.3h4.65v4.65h-4.65zM262.8 1157.3h4.65v4.65h-4.65zM280.8 1157.3h4.65v4.65h-4.65zM312.3 1157.3h4.65v4.65h-4.65zM334.8 1157.3h4.65v4.65h-4.65zM393.3 1157.3h4.65v4.65h-4.65zM109.8 1161.8h4.65v4.65h-4.65zM132.3 1161.8h4.65v4.65h-4.65zM150.3 1161.8h4.65v4.65h-4.65zM154.8 1161.8h4.65v4.65h-4.65zM168.3 1161.8h4.65v4.65h-4.65zM199.8 1161.8h4.65v4.65h-4.65zM208.8 1161.8h4.65v4.65h-4.65zM249.3 1161.8h4.65v4.65h-4.65zM258.3 1161.8h4.65v4.65h-4.65zM285.3 1161.8h4.65v4.65h-4.65zM316.8 1161.8h4.65v4.65h-4.65zM370.8 1161.8h4.65v4.65h-4.65zM105.3 1166.3h4.65v4.65h-4.65zM109.8 1166.3h4.65v4.65h-4.65zM114.3 1166.3h4.65v4.65h-4.65zM136.8 1166.3h4.65v4.65h-4.65zM154.8 1166.3h4.65v4.65h-4.65zM168.3 1166.3h4.65v4.65h-4.65zM190.8 1166.3h4.65v4.65h-4.65zM208.8 1166.3h4.65v4.65h-4.65zM231.3 1166.3h4.65v4.65h-4.65zM249.3 1166.3h4.65v4.65h-4.65zM271.8 1166.3h4.65v4.65h-4.65zM294.3 1166.3h4.65v4.65h-4.65zM303.3 1166.3h4.65v4.65h-4.65zM307.8 1166.3h4.65v4.65h-4.65zM316.8 1166.3h4.65v4.65h-4.65zM321.3 1166.3h4.65v4.65h-4.65zM343.8 1166.3h4.65v4.65h-4.65zM357.3 1166.3h4.65v4.65h-4.65zM366.3 1166.3h4.65v4.65h-4.65zM379.8 1166.3h4.65v4.65h-4.65zM96.3 1170.8h4.65v4.65h-4.65zM105.3 1170.8h4.65v4.65h-4.65zM132.3 1170.8h4.65v4.65h-4.65zM163.8 1170.8h4.65v4.65h-4.65zM172.8 1170.8h4.65v4.65h-4.65zM186.3 1170.8h4.65v4.65h-4.65zM213.3 1170.8h4.65v4.65h-4.65zM258.3 1170.8h4.65v4.65h-4.65zM271.8 1170.8h4.65v4.65h-4.65zM285.3 1170.8h4.65v4.65h-4.65zM294.3 1170.8h4.65v4.65h-4.65zM303.3 1170.8h4.65v4.65h-4.65zM312.3 1170.8h4.65v4.65h-4.65zM352.8 1170.8h4.65v4.65h-4.65zM379.8 1170.8h4.65v4.65h-4.65zM105.3 1175.3h4.65v4.65h-4.65zM132.3 1175.3h4.65v4.65h-4.65zM150.3 1175.3h4.65v4.65h-4.65zM199.8 1175.3h4.65v4.65h-4.65zM217.8 1175.3h4.65v4.65h-4.65zM244.8 1175.3h4.65v4.65h-4.65zM280.8 1175.3h4.65v4.65h-4.65zM343.8 1175.3h4.65v4.65h-4.65zM388.8 1175.3h4.65v4.65h-4.65zM91.8 1179.8h4.65v4.65h-4.65zM123.3 1179.8h4.65v4.65h-4.65zM154.8 1179.8h4.65v4.65h-4.65zM231.3 1179.8h4.65v4.65h-4.65zM262.8 1179.8h4.65v4.65h-4.65zM96.3 1184.3h4.65v4.65h-4.65zM118.8 1184.3h4.65v4.65h-4.65zM136.8 1184.3h4.65v4.65h-4.65zM186.3 1184.3h4.65v4.65h-4.65zM208.8 1184.3h4.65v4.65h-4.65zM213.3 1184.3h4.65v4.65h-4.65zM222.3 1184.3h4.65v4.65h-4.65zM231.3 1184.3h4.65v4.65h-4.65zM276.3 1184.3h4.65v4.65h-4.65zM316.8 1184.3h4.65v4.65h-4.65zM370.8 1184.3h4.65v4.65h-4.65zM379.8 1184.3h4.65v4.65h-4.65zM393.3 1184.3h4.65v4.65h-4.65z" fill="#f8f800"/>
<path d="M354 879 Q386 990 393 1100" fill="none" stroke="#e0e0e0" stroke-width="1"/>
<path d="M78.3 878.3H396.3V1193.8H78.3Z" fill="none" stroke="#c8c8c8" stroke-width="1.2"/>
<line x1="75.3" y1="1193.8" x2="78.3" y2="1193.8" stroke="#c8c8c8" stroke-width="1"/>
<text x="72.3" y="1197.3" font-family="Liberation Sans" font-size="10" fill="#d8d8d8" text-anchor="end" font-weight="normal" >0</text>
<line x1="75.3" y1="1130.7" x2="78.3" y2="1130.7" stroke="#c8c8c8" stroke-width="1"/>
<text x="72.3" y="1134.2" font-family="Liberation Sans" font-size="10" fill="#d8d8d8" text-anchor="end" font-weight="normal" >1</text>
<line x1="75.3" y1="1067.6" x2="78.3" y2="1067.6" stroke="#c8c8c8" stroke-width="1"/>
<text x="72.3" y="1071.1" font-family="Liberation Sans" font-size="10" fill="#d8d8d8" text-anchor="end" font-weight="normal" >2</text>
<line x1="75.3" y1="1004.5" x2="78.3" y2="1004.5" stroke="#c8c8c8" stroke-width="1"/>
<text x="72.3" y="1008.0" font-family="Liberation Sans" font-size="10" fill="#d8d8d8" text-anchor="end" font-weight="normal" >3</text>
<line x1="75.3" y1="941.4" x2="78.3" y2="941.4" stroke="#c8c8c8" stroke-width="1"/>
<text x="72.3" y="944.9" font-family="Liberation Sans" font-size="10" fill="#d8d8d8" text-anchor="end" font-weight="normal" >4</text>
<line x1="75.3" y1="878.3" x2="78.3" y2="878.3" stroke="#c8c8c8" stroke-width="1"/>
<text x="72.3" y="881.8" font-family="Liberation Sans" font-size="10" fill="#d8d8d8" text-anchor="end" font-weight="normal" >5</text>
<line x1="78.3" y1="1193.8" x2="78.3" y2="1197.8" stroke="#c8c8c8" stroke-width="1"/>
<line x1="396.3" y1="1193.8" x2="396.3" y2="1197.8" stroke="#c8c8c8" stroke-width="1"/>
<text transform="translate(54,1037) rotate(-90)" font-family="Liberation Sans" font-size="9" fill="#d0d0d0" text-anchor="middle">Height (km)</text>
<text x="68.0" y="1213.0" font-family="Liberation Sans" font-size="10" fill="#d8d8d8" text-anchor="start" font-weight="normal" >0 km</text>
<text x="382.0" y="1213.0" font-family="Liberation Sans" font-size="10" fill="#d8d8d8" text-anchor="start" font-weight="normal" >10 km</text>
<text x="104.0" y="1222.0" font-family="Liberation Sans" font-size="9" fill="#a0a0a0" text-anchor="start" font-weight="normal" >Rwy</text>
<text x="161.0" y="1222.0" font-family="Liberation Sans" font-size="9" fill="#a0a0a0" text-anchor="start" font-weight="normal" >1NM</text>
<text x="219.0" y="1222.0" font-family="Liberation Sans" font-size="9" fill="#a0a0a0" text-anchor="start" font-weight="normal" >2NM</text>
<text x="277.0" y="1222.0" font-family="Liberation Sans" font-size="9" fill="#a0a0a0" text-anchor="start" font-weight="normal" >3NM</text>
<text x="132.0" y="1236.0" font-family="Liberation Mono" font-size="9" fill="#c8c8c8" text-anchor="start" font-weight="normal" textLength="211" lengthAdjust="spacingAndGlyphs">Runway 25LA 3NM (Az 70 Degree) RHI Scan</text>
<text x="272.0" y="873.5" font-family="Liberation Mono" font-size="9" fill="#d0d0d0" text-anchor="start" font-weight="normal" textLength="124" lengthAdjust="spacingAndGlyphs">2008/12/15 05:30:24 UTC</text>
<text x="428.0" y="840.5" font-family="Liberation Sans" font-size="9" fill="#d8d8d8" text-anchor="middle" font-weight="normal" textLength="64" lengthAdjust="spacingAndGlyphs">Log Backscatter</text>
<text x="428.0" y="853.0" font-family="Liberation Sans" font-size="9" fill="#d8d8d8" text-anchor="middle" font-weight="normal" >Coefficient</text>
<text x="428" y="865" font-family="Liberation Sans" font-size="9" fill="#d8d8d8" text-anchor="middle">(m<tspan font-size="6.5" dy="-3.5">-1</tspan><tspan dy="3.5">sr</tspan><tspan font-size="6.5" dy="-3.5">-1</tspan><tspan dy="3.5">)</tspan></text>
<rect x="410" y="877.00" width="21.69999999999999" height="21.49" fill="#0c0c8c"/>
<rect x="410" y="898.19" width="21.69999999999999" height="21.49" fill="#0e2e60"/>
<rect x="410" y="919.37" width="21.69999999999999" height="21.49" fill="#0e4a3a"/>
<rect x="410" y="940.56" width="21.69999999999999" height="21.49" fill="#0a6a10"/>
<rect x="410" y="961.75" width="21.69999999999999" height="21.49" fill="#3c8c14"/>
<rect x="410" y="982.93" width="21.69999999999999" height="21.49" fill="#88b814"/>
<rect x="410" y="1004.12" width="21.69999999999999" height="21.49" fill="#c4dc10"/>
<rect x="410" y="1025.31" width="21.69999999999999" height="21.49" fill="#f8f800"/>
<rect x="410" y="1046.49" width="21.69999999999999" height="21.49" fill="#e0cc00"/>
<rect x="410" y="1067.68" width="21.69999999999999" height="21.49" fill="#c8a008"/>
<rect x="410" y="1088.87" width="21.69999999999999" height="21.49" fill="#a87808"/>
<rect x="410" y="1110.05" width="21.69999999999999" height="21.49" fill="#7a4408"/>
<rect x="410" y="1131.24" width="21.69999999999999" height="21.49" fill="#b82810"/>
<rect x="410" y="1152.43" width="21.69999999999999" height="21.49" fill="#dc1414"/>
<rect x="410" y="1173.61" width="21.69999999999999" height="21.49" fill="#ff0c0c"/>
<text x="434.0" y="891.0" font-family="Liberation Sans" font-size="9" fill="#d8d8d8" text-anchor="start" font-weight="normal" >-7</text>
<text x="434.0" y="1039.0" font-family="Liberation Sans" font-size="9" fill="#d8d8d8" text-anchor="start" font-weight="normal" >-6</text>
<text x="434.0" y="1187.0" font-family="Liberation Sans" font-size="9" fill="#d8d8d8" text-anchor="start" font-weight="normal" >-5</text>
<line x1="78.6" y1="705.0" x2="455.3" y2="705.0" stroke="#a6a6a6" stroke-width="1.2"/>
<line x1="78.6" y1="674.0" x2="455.3" y2="674.0" stroke="#a6a6a6" stroke-width="1.2"/>
<line x1="78.6" y1="643.0" x2="455.3" y2="643.0" stroke="#a6a6a6" stroke-width="1.2"/>
<path d="M78.6 612.0H356.7M419.2 612.0H455.3" stroke="#a6a6a6" stroke-width="1.2"/>
<path d="M78.6 581.1H356.7M419.2 581.1H455.3" stroke="#a6a6a6" stroke-width="1.2"/>
<path d="M78.6 550.1H356.7M419.2 550.1H455.3" stroke="#a6a6a6" stroke-width="1.2"/>
<path d="M78.6 519.1H356.7M419.2 519.1H455.3" stroke="#a6a6a6" stroke-width="1.2"/>
<line x1="78.6" y1="488.1" x2="455.3" y2="488.1" stroke="#a6a6a6" stroke-width="1.2"/>
<line x1="78.6" y1="457.1" x2="78.6" y2="736" stroke="#8c8c8c" stroke-width="1.2"/>
<line x1="78.6" y1="736" x2="455.3" y2="736" stroke="#8c8c8c" stroke-width="1.2"/>
<path d="M78.6 457.1H455.3V736" fill="none" stroke="#a47cc8" stroke-width="1.3"/>
<line x1="73.6" y1="736.0" x2="78.6" y2="736.0" stroke="#8c8c8c" stroke-width="1"/>
<text x="66.0" y="740.8" font-family="Liberation Serif" font-size="14.5" fill="#000" text-anchor="end" font-weight="normal" >0</text>
<line x1="73.6" y1="705.0" x2="78.6" y2="705.0" stroke="#8c8c8c" stroke-width="1"/>
<text x="66.0" y="709.8" font-family="Liberation Serif" font-size="14.5" fill="#000" text-anchor="end" font-weight="normal" >500</text>
<line x1="73.6" y1="674.0" x2="78.6" y2="674.0" stroke="#8c8c8c" stroke-width="1"/>
<text x="66.0" y="678.8" font-family="Liberation Serif" font-size="14.5" fill="#000" text-anchor="end" font-weight="normal" >1000</text>
<line x1="73.6" y1="643.0" x2="78.6" y2="643.0" stroke="#8c8c8c" stroke-width="1"/>
<text x="66.0" y="647.8" font-family="Liberation Serif" font-size="14.5" fill="#000" text-anchor="end" font-weight="normal" >1500</text>
<line x1="73.6" y1="612.0" x2="78.6" y2="612.0" stroke="#8c8c8c" stroke-width="1"/>
<text x="66.0" y="616.8" font-family="Liberation Serif" font-size="14.5" fill="#000" text-anchor="end" font-weight="normal" >2000</text>
<line x1="73.6" y1="581.1" x2="78.6" y2="581.1" stroke="#8c8c8c" stroke-width="1"/>
<text x="66.0" y="585.8" font-family="Liberation Serif" font-size="14.5" fill="#000" text-anchor="end" font-weight="normal" >2500</text>
<line x1="73.6" y1="550.1" x2="78.6" y2="550.1" stroke="#8c8c8c" stroke-width="1"/>
<text x="66.0" y="554.9" font-family="Liberation Serif" font-size="14.5" fill="#000" text-anchor="end" font-weight="normal" >3000</text>
<line x1="73.6" y1="519.1" x2="78.6" y2="519.1" stroke="#8c8c8c" stroke-width="1"/>
<text x="66.0" y="523.9" font-family="Liberation Serif" font-size="14.5" fill="#000" text-anchor="end" font-weight="normal" >3500</text>
<line x1="73.6" y1="488.1" x2="78.6" y2="488.1" stroke="#8c8c8c" stroke-width="1"/>
<text x="66.0" y="492.9" font-family="Liberation Serif" font-size="14.5" fill="#000" text-anchor="end" font-weight="normal" >4000</text>
<line x1="73.6" y1="457.1" x2="78.6" y2="457.1" stroke="#8c8c8c" stroke-width="1"/>
<text x="66.0" y="461.9" font-family="Liberation Serif" font-size="14.5" fill="#000" text-anchor="end" font-weight="normal" >4500</text>
<line x1="78.6" y1="736" x2="78.6" y2="741" stroke="#8c8c8c" stroke-width="1"/>
<text x="78.6" y="763.0" font-family="Liberation Serif" font-size="14.5" fill="#000" text-anchor="middle" font-weight="normal" >0</text>
<line x1="141.4" y1="736" x2="141.4" y2="741" stroke="#8c8c8c" stroke-width="1"/>
<text x="141.4" y="763.0" font-family="Liberation Serif" font-size="14.5" fill="#000" text-anchor="middle" font-weight="normal" >0.00002</text>
<line x1="204.2" y1="736" x2="204.2" y2="741" stroke="#8c8c8c" stroke-width="1"/>
<text x="204.2" y="763.0" font-family="Liberation Serif" font-size="14.5" fill="#000" text-anchor="middle" font-weight="normal" >0.00004</text>
<line x1="267.0" y1="736" x2="267.0" y2="741" stroke="#8c8c8c" stroke-width="1"/>
<text x="267.0" y="763.0" font-family="Liberation Serif" font-size="14.5" fill="#000" text-anchor="middle" font-weight="normal" >0.00006</text>
<line x1="329.7" y1="736" x2="329.7" y2="741" stroke="#8c8c8c" stroke-width="1"/>
<text x="329.7" y="763.0" font-family="Liberation Serif" font-size="14.5" fill="#000" text-anchor="middle" font-weight="normal" >0.00008</text>
<line x1="392.5" y1="736" x2="392.5" y2="741" stroke="#8c8c8c" stroke-width="1"/>
<text x="392.5" y="763.0" font-family="Liberation Serif" font-size="14.5" fill="#000" text-anchor="middle" font-weight="normal" >0.0001</text>
<line x1="455.3" y1="736" x2="455.3" y2="741" stroke="#8c8c8c" stroke-width="1"/>
<text x="455.3" y="763.0" font-family="Liberation Serif" font-size="14.5" fill="#000" text-anchor="middle" font-weight="normal" >0.00012</text>
<path d="M175.2 480.6L159.5 487.1L152.8 493.6L174.4 500.2L215.8 506.7L167.3 513.2L170.8 519.7L216.9 526.2L235.6 532.8L195.5 539.3L199.7 545.8L243.1 552.3L205.6 558.8L213.8 565.4L205.6 571.9L230.6 578.4L333.2 584.9L232.2 591.4L208.0 598.0L208.0 604.5L240.0 611.0L274.7 617.5L254.8 624.0L215.8 630.6L213.1 637.1L255.6 643.6L277.5 650.1L239.2 656.6L320.2 663.2L329.5 669.7L421.0 676.2L425.0 682.7L367.8 689.2L298.3 695.8L336.6 702.3L360.0 708.8L274.8 715.3" fill="none" stroke="#4a7ebb" stroke-width="2" stroke-linejoin="round"/>
<path d="M175.2 476.7L179.1 480.6L175.2 484.5L171.3 480.6Z" fill="#4a7ebb"/>
<path d="M159.5 483.2L163.4 487.1L159.5 491.0L155.6 487.1Z" fill="#4a7ebb"/>
<path d="M152.8 489.7L156.7 493.6L152.8 497.5L148.9 493.6Z" fill="#4a7ebb"/>
<path d="M174.4 496.3L178.3 500.2L174.4 504.1L170.5 500.2Z" fill="#4a7ebb"/>
<path d="M215.8 502.8L219.7 506.7L215.8 510.6L211.9 506.7Z" fill="#4a7ebb"/>
<path d="M167.3 509.3L171.2 513.2L167.3 517.1L163.4 513.2Z" fill="#4a7ebb"/>
<path d="M170.8 515.8L174.7 519.7L170.8 523.6L166.9 519.7Z" fill="#4a7ebb"/>
<path d="M216.9 522.3L220.8 526.2L216.9 530.1L213.0 526.2Z" fill="#4a7ebb"/>
<path d="M235.6 528.9L239.5 532.8L235.6 536.7L231.7 532.8Z" fill="#4a7ebb"/>
<path d="M195.5 535.4L199.4 539.3L195.5 543.2L191.6 539.3Z" fill="#4a7ebb"/>
<path d="M199.7 541.9L203.6 545.8L199.7 549.7L195.8 545.8Z" fill="#4a7ebb"/>
<path d="M243.1 548.4L247.0 552.3L243.1 556.2L239.2 552.3Z" fill="#4a7ebb"/>
<path d="M205.6 554.9L209.5 558.8L205.6 562.7L201.7 558.8Z" fill="#4a7ebb"/>
<path d="M213.8 561.5L217.7 565.4L213.8 569.3L209.9 565.4Z" fill="#4a7ebb"/>
<path d="M205.6 568.0L209.5 571.9L205.6 575.8L201.7 571.9Z" fill="#4a7ebb"/>
<path d="M230.6 574.5L234.5 578.4L230.6 582.3L226.7 578.4Z" fill="#4a7ebb"/>
<path d="M333.2 581.0L337.1 584.9L333.2 588.8L329.3 584.9Z" fill="#4a7ebb"/>
<path d="M232.2 587.5L236.1 591.4L232.2 595.3L228.3 591.4Z" fill="#4a7ebb"/>
<path d="M208.0 594.1L211.9 598.0L208.0 601.9L204.1 598.0Z" fill="#4a7ebb"/>
<path d="M208.0 600.6L211.9 604.5L208.0 608.4L204.1 604.5Z" fill="#4a7ebb"/>
<path d="M240.0 607.1L243.9 611.0L240.0 614.9L236.1 611.0Z" fill="#4a7ebb"/>
<path d="M274.7 613.6L278.6 617.5L274.7 621.4L270.8 617.5Z" fill="#4a7ebb"/>
<path d="M254.8 620.1L258.7 624.0L254.8 627.9L250.9 624.0Z" fill="#4a7ebb"/>
<path d="M215.8 626.7L219.7 630.6L215.8 634.5L211.9 630.6Z" fill="#4a7ebb"/>
<path d="M213.1 633.2L217.0 637.1L213.1 641.0L209.2 637.1Z" fill="#4a7ebb"/>
<path d="M255.6 639.7L259.5 643.6L255.6 647.5L251.7 643.6Z" fill="#4a7ebb"/>
<path d="M277.5 646.2L281.4 650.1L277.5 654.0L273.6 650.1Z" fill="#4a7ebb"/>
<path d="M239.2 652.7L243.1 656.6L239.2 660.5L235.3 656.6Z" fill="#4a7ebb"/>
<path d="M320.2 659.3L324.1 663.2L320.2 667.1L316.3 663.2Z" fill="#4a7ebb"/>
<path d="M329.5 665.8L333.4 669.7L329.5 673.6L325.6 669.7Z" fill="#4a7ebb"/>
<path d="M421.0 672.3L424.9 676.2L421.0 680.1L417.1 676.2Z" fill="#4a7ebb"/>
<path d="M425.0 678.8L428.9 682.7L425.0 686.6L421.1 682.7Z" fill="#4a7ebb"/>
<path d="M367.8 685.3L371.7 689.2L367.8 693.1L363.9 689.2Z" fill="#4a7ebb"/>
<path d="M298.3 691.9L302.2 695.8L298.3 699.7L294.4 695.8Z" fill="#4a7ebb"/>
<path d="M336.6 698.4L340.5 702.3L336.6 706.2L332.7 702.3Z" fill="#4a7ebb"/>
<path d="M360.0 704.9L363.9 708.8L360.0 712.7L356.1 708.8Z" fill="#4a7ebb"/>
<path d="M274.8 711.4L278.7 715.3L274.8 719.2L270.9 715.3Z" fill="#4a7ebb"/>
<path d="M209.2 480.6L198.3 487.1L193.1 493.6L208.3 500.2L233.4 506.7L203.6 513.2L206.4 519.7L234.8 526.2L245.0 532.8L222.3 539.3L225.2 545.8L249.4 552.3L229.0 558.8L233.8 565.4L229.0 571.9L243.1 578.4L292.2 584.9L244.4 591.4L231.4 598.0L231.4 604.5L249.4 611.0L265.0 617.5L256.4 624.0L236.9 630.6L235.6 637.1L258.8 643.6L268.1 650.1L250.9 656.6L290.2 663.2L295.2 669.7L332.7 676.2L335.0 682.7L314.7 689.2L284.2 695.8L303.0 702.3L313.1 708.8L275.6 715.3" fill="none" stroke="#c00000" stroke-width="2" stroke-linejoin="round"/>
<rect x="205.3" y="476.7" width="7.8" height="7.8" fill="#c0504d"/>
<rect x="194.4" y="483.2" width="7.8" height="7.8" fill="#c0504d"/>
<rect x="189.2" y="489.7" width="7.8" height="7.8" fill="#c0504d"/>
<rect x="204.4" y="496.3" width="7.8" height="7.8" fill="#c0504d"/>
<rect x="229.5" y="502.8" width="7.8" height="7.8" fill="#c0504d"/>
<rect x="199.7" y="509.3" width="7.8" height="7.8" fill="#c0504d"/>
<rect x="202.5" y="515.8" width="7.8" height="7.8" fill="#c0504d"/>
<rect x="230.9" y="522.3" width="7.8" height="7.8" fill="#c0504d"/>
<rect x="241.1" y="528.9" width="7.8" height="7.8" fill="#c0504d"/>
<rect x="218.4" y="535.4" width="7.8" height="7.8" fill="#c0504d"/>
<rect x="221.3" y="541.9" width="7.8" height="7.8" fill="#c0504d"/>
<rect x="245.5" y="548.4" width="7.8" height="7.8" fill="#c0504d"/>
<rect x="225.1" y="554.9" width="7.8" height="7.8" fill="#c0504d"/>
<rect x="229.9" y="561.5" width="7.8" height="7.8" fill="#c0504d"/>
<rect x="225.1" y="568.0" width="7.8" height="7.8" fill="#c0504d"/>
<rect x="239.2" y="574.5" width="7.8" height="7.8" fill="#c0504d"/>
<rect x="288.3" y="581.0" width="7.8" height="7.8" fill="#c0504d"/>
<rect x="240.5" y="587.5" width="7.8" height="7.8" fill="#c0504d"/>
<rect x="227.5" y="594.1" width="7.8" height="7.8" fill="#c0504d"/>
<rect x="227.5" y="600.6" width="7.8" height="7.8" fill="#c0504d"/>
<rect x="245.5" y="607.1" width="7.8" height="7.8" fill="#c0504d"/>
<rect x="261.1" y="613.6" width="7.8" height="7.8" fill="#c0504d"/>
<rect x="252.5" y="620.1" width="7.8" height="7.8" fill="#c0504d"/>
<rect x="233.0" y="626.7" width="7.8" height="7.8" fill="#c0504d"/>
<rect x="231.7" y="633.2" width="7.8" height="7.8" fill="#c0504d"/>
<rect x="254.9" y="639.7" width="7.8" height="7.8" fill="#c0504d"/>
<rect x="264.2" y="646.2" width="7.8" height="7.8" fill="#c0504d"/>
<rect x="247.0" y="652.7" width="7.8" height="7.8" fill="#c0504d"/>
<rect x="286.3" y="659.3" width="7.8" height="7.8" fill="#c0504d"/>
<rect x="291.3" y="665.8" width="7.8" height="7.8" fill="#c0504d"/>
<rect x="328.8" y="672.3" width="7.8" height="7.8" fill="#c0504d"/>
<rect x="331.1" y="678.8" width="7.8" height="7.8" fill="#c0504d"/>
<rect x="310.8" y="685.3" width="7.8" height="7.8" fill="#c0504d"/>
<rect x="280.3" y="691.9" width="7.8" height="7.8" fill="#c0504d"/>
<rect x="299.1" y="698.4" width="7.8" height="7.8" fill="#c0504d"/>
<rect x="309.2" y="704.9" width="7.8" height="7.8" fill="#c0504d"/>
<rect x="271.7" y="711.4" width="7.8" height="7.8" fill="#c0504d"/>
<path d="M224.4 480.6L215.8 487.1L211.4 493.6L223.9 500.2L243.1 506.7L219.7 513.2L222.0 519.7L244.7 526.2L252.2 532.8L234.5 539.3L236.9 545.8L254.8 552.3L240.0 558.8L243.1 565.4L240.0 571.9L251.3 578.4L286.4 584.9L251.7 591.4L242.3 598.0L241.6 604.5L256.4 611.0L268.1 617.5L261.1 624.0L246.3 630.6L246.3 637.1L263.4 643.6L271.3 650.1L258.0 656.6L286.6 663.2L287.8 669.7L313.9 676.2L316.3 682.7L302.2 689.2L281.9 695.8L295.2 702.3L302.2 708.8L275.6 715.3" fill="none" stroke="#92d050" stroke-width="2" stroke-linejoin="round"/>
<path d="M224.4 476.1L228.3 483.5L220.5 483.5Z" fill="#9bbb59"/>
<path d="M215.8 482.6L219.7 490.0L211.9 490.0Z" fill="#9bbb59"/>
<path d="M211.4 489.2L215.3 496.6L207.5 496.6Z" fill="#9bbb59"/>
<path d="M223.9 495.7L227.8 503.1L220.0 503.1Z" fill="#9bbb59"/>
<path d="M243.1 502.2L247.0 509.6L239.2 509.6Z" fill="#9bbb59"/>
<path d="M219.7 508.7L223.6 516.1L215.8 516.1Z" fill="#9bbb59"/>
<path d="M222.0 515.2L225.9 522.6L218.1 522.6Z" fill="#9bbb59"/>
<path d="M244.7 521.8L248.6 529.2L240.8 529.2Z" fill="#9bbb59"/>
<path d="M252.2 528.3L256.1 535.7L248.3 535.7Z" fill="#9bbb59"/>
<path d="M234.5 534.8L238.4 542.2L230.6 542.2Z" fill="#9bbb59"/>
<path d="M236.9 541.3L240.8 548.7L233.0 548.7Z" fill="#9bbb59"/>
<path d="M254.8 547.8L258.7 555.2L250.9 555.2Z" fill="#9bbb59"/>
<path d="M240.0 554.4L243.9 561.8L236.1 561.8Z" fill="#9bbb59"/>
<path d="M243.1 560.9L247.0 568.3L239.2 568.3Z" fill="#9bbb59"/>
<path d="M240.0 567.4L243.9 574.8L236.1 574.8Z" fill="#9bbb59"/>
<path d="M251.3 573.9L255.2 581.3L247.4 581.3Z" fill="#9bbb59"/>
<path d="M286.4 580.4L290.3 587.8L282.5 587.8Z" fill="#9bbb59"/>
<path d="M251.7 587.0L255.6 594.4L247.8 594.4Z" fill="#9bbb59"/>
<path d="M242.3 593.5L246.2 600.9L238.4 600.9Z" fill="#9bbb59"/>
<path d="M241.6 600.0L245.5 607.4L237.7 607.4Z" fill="#9bbb59"/>
<path d="M256.4 606.5L260.3 613.9L252.5 613.9Z" fill="#9bbb59"/>
<path d="M268.1 613.0L272.0 620.4L264.2 620.4Z" fill="#9bbb59"/>
<path d="M261.1 619.6L265.0 627.0L257.2 627.0Z" fill="#9bbb59"/>
<path d="M246.3 626.1L250.2 633.5L242.4 633.5Z" fill="#9bbb59"/>
<path d="M246.3 632.6L250.2 640.0L242.4 640.0Z" fill="#9bbb59"/>
<path d="M263.4 639.1L267.3 646.5L259.5 646.5Z" fill="#9bbb59"/>
<path d="M271.3 645.6L275.2 653.0L267.4 653.0Z" fill="#9bbb59"/>
<path d="M258.0 652.2L261.9 659.6L254.1 659.6Z" fill="#9bbb59"/>
<path d="M286.6 658.7L290.5 666.1L282.7 666.1Z" fill="#9bbb59"/>
<path d="M287.8 665.2L291.7 672.6L283.9 672.6Z" fill="#9bbb59"/>
<path d="M313.9 671.7L317.8 679.1L310.0 679.1Z" fill="#9bbb59"/>
<path d="M316.3 678.2L320.2 685.6L312.4 685.6Z" fill="#9bbb59"/>
<path d="M302.2 684.8L306.1 692.2L298.3 692.2Z" fill="#9bbb59"/>
<path d="M281.9 691.3L285.8 698.7L278.0 698.7Z" fill="#9bbb59"/>
<path d="M295.2 697.8L299.1 705.2L291.3 705.2Z" fill="#9bbb59"/>
<path d="M302.2 704.3L306.1 711.7L298.3 711.7Z" fill="#9bbb59"/>
<path d="M275.6 710.8L279.5 718.2L271.7 718.2Z" fill="#9bbb59"/>
<path d="M241.6 480.6L234.5 487.1L231.1 493.6L241.6 500.2L255.6 506.7L237.7 513.2L239.2 519.7L255.6 526.2L261.9 532.8L247.8 539.3L249.4 545.8L264.2 552.3L252.5 558.8L254.8 565.4L252.5 571.9L262.7 578.4L281.5 584.9L260.3 591.4L254.0 598.0L252.5 604.5L263.4 611.0L269.7 617.5L263.4 624.0L254.8 630.6L257.2 637.1L266.6 643.6L272.0 650.1L263.4 656.6L282.7 663.2L285.0 669.7L302.2 676.2L303.0 682.7L293.6 689.2L280.3 695.8L288.9 702.3L293.6 708.8L275.6 715.3" fill="none" stroke="#7030a0" stroke-width="2" stroke-linejoin="round"/>
<path d="M237.7 476.7L245.5 484.5M245.5 476.7L237.7 484.5" stroke="#b3a2c7" stroke-width="1.1" fill="none"/>
<path d="M230.6 483.2L238.4 491.0M238.4 483.2L230.6 491.0" stroke="#b3a2c7" stroke-width="1.1" fill="none"/>
<path d="M227.2 489.7L235.0 497.5M235.0 489.7L227.2 497.5" stroke="#b3a2c7" stroke-width="1.1" fill="none"/>
<path d="M237.7 496.3L245.5 504.1M245.5 496.3L237.7 504.1" stroke="#b3a2c7" stroke-width="1.1" fill="none"/>
<path d="M251.7 502.8L259.5 510.6M259.5 502.8L251.7 510.6" stroke="#b3a2c7" stroke-width="1.1" fill="none"/>
<path d="M233.8 509.3L241.6 517.1M241.6 509.3L233.8 517.1" stroke="#b3a2c7" stroke-width="1.1" fill="none"/>
<path d="M235.3 515.8L243.1 523.6M243.1 515.8L235.3 523.6" stroke="#b3a2c7" stroke-width="1.1" fill="none"/>
<path d="M251.7 522.3L259.5 530.1M259.5 522.3L251.7 530.1" stroke="#b3a2c7" stroke-width="1.1" fill="none"/>
<path d="M258.0 528.9L265.8 536.7M265.8 528.9L258.0 536.7" stroke="#b3a2c7" stroke-width="1.1" fill="none"/>
<path d="M243.9 535.4L251.7 543.2M251.7 535.4L243.9 543.2" stroke="#b3a2c7" stroke-width="1.1" fill="none"/>
<path d="M245.5 541.9L253.3 549.7M253.3 541.9L245.5 549.7" stroke="#b3a2c7" stroke-width="1.1" fill="none"/>
<path d="M260.3 548.4L268.1 556.2M268.1 548.4L260.3 556.2" stroke="#b3a2c7" stroke-width="1.1" fill="none"/>
<path d="M248.6 554.9L256.4 562.7M256.4 554.9L248.6 562.7" stroke="#b3a2c7" stroke-width="1.1" fill="none"/>
<path d="M250.9 561.5L258.7 569.3M258.7 561.5L250.9 569.3" stroke="#b3a2c7" stroke-width="1.1" fill="none"/>
<path d="M248.6 568.0L256.4 575.8M256.4 568.0L248.6 575.8" stroke="#b3a2c7" stroke-width="1.1" fill="none"/>
<path d="M258.8 574.5L266.6 582.3M266.6 574.5L258.8 582.3" stroke="#b3a2c7" stroke-width="1.1" fill="none"/>
<path d="M277.6 581.0L285.4 588.8M285.4 581.0L277.6 588.8" stroke="#b3a2c7" stroke-width="1.1" fill="none"/>
<path d="M256.4 587.5L264.2 595.3M264.2 587.5L256.4 595.3" stroke="#b3a2c7" stroke-width="1.1" fill="none"/>
<path d="M250.1 594.1L257.9 601.9M257.9 594.1L250.1 601.9" stroke="#b3a2c7" stroke-width="1.1" fill="none"/>
<path d="M248.6 600.6L256.4 608.4M256.4 600.6L248.6 608.4" stroke="#b3a2c7" stroke-width="1.1" fill="none"/>
<path d="M259.5 607.1L267.3 614.9M267.3 607.1L259.5 614.9" stroke="#b3a2c7" stroke-width="1.1" fill="none"/>
<path d="M265.8 613.6L273.6 621.4M273.6 613.6L265.8 621.4" stroke="#b3a2c7" stroke-width="1.1" fill="none"/>
<path d="M259.5 620.1L267.3 627.9M267.3 620.1L259.5 627.9" stroke="#b3a2c7" stroke-width="1.1" fill="none"/>
<path d="M250.9 626.7L258.7 634.5M258.7 626.7L250.9 634.5" stroke="#b3a2c7" stroke-width="1.1" fill="none"/>
<path d="M253.3 633.2L261.1 641.0M261.1 633.2L253.3 641.0" stroke="#b3a2c7" stroke-width="1.1" fill="none"/>
<path d="M262.7 639.7L270.5 647.5M270.5 639.7L262.7 647.5" stroke="#b3a2c7" stroke-width="1.1" fill="none"/>
<path d="M268.1 646.2L275.9 654.0M275.9 646.2L268.1 654.0" stroke="#b3a2c7" stroke-width="1.1" fill="none"/>
<path d="M259.5 652.7L267.3 660.5M267.3 652.7L259.5 660.5" stroke="#b3a2c7" stroke-width="1.1" fill="none"/>
<path d="M278.8 659.3L286.6 667.1M286.6 659.3L278.8 667.1" stroke="#b3a2c7" stroke-width="1.1" fill="none"/>
<path d="M281.1 665.8L288.9 673.6M288.9 665.8L281.1 673.6" stroke="#b3a2c7" stroke-width="1.1" fill="none"/>
<path d="M298.3 672.3L306.1 680.1M306.1 672.3L298.3 680.1" stroke="#b3a2c7" stroke-width="1.1" fill="none"/>
<path d="M299.1 678.8L306.9 686.6M306.9 678.8L299.1 686.6" stroke="#b3a2c7" stroke-width="1.1" fill="none"/>
<path d="M289.7 685.3L297.5 693.1M297.5 685.3L289.7 693.1" stroke="#b3a2c7" stroke-width="1.1" fill="none"/>
<path d="M276.4 691.9L284.2 699.7M284.2 691.9L276.4 699.7" stroke="#b3a2c7" stroke-width="1.1" fill="none"/>
<path d="M285.0 698.4L292.8 706.2M292.8 698.4L285.0 706.2" stroke="#b3a2c7" stroke-width="1.1" fill="none"/>
<path d="M289.7 704.9L297.5 712.7M297.5 704.9L289.7 712.7" stroke="#b3a2c7" stroke-width="1.1" fill="none"/>
<path d="M271.7 711.4L279.5 719.2M279.5 711.4L271.7 719.2" stroke="#b3a2c7" stroke-width="1.1" fill="none"/>
<rect x="356.7" y="509" width="62.5" height="105" fill="#fff"/>
<line x1="360.6" y1="522.7" x2="379.1" y2="522.7" stroke="#4a7ebb" stroke-width="2"/>
<path d="M369.9 518.8L373.8 522.7L369.9 526.6L366.0 522.7Z" fill="#4a7ebb"/>
<text x="380.1" y="527.8" font-family="Liberation Serif" font-size="15" fill="#000" text-anchor="start" font-weight="normal" >k=0.5</text>
<line x1="360.6" y1="549.7" x2="379.1" y2="549.7" stroke="#c00000" stroke-width="2"/>
<rect x="366.0" y="545.8" width="7.8" height="7.8" fill="#c0504d"/>
<text x="380.1" y="554.8" font-family="Liberation Serif" font-size="15" fill="#000" text-anchor="start" font-weight="normal" >k=1.0</text>
<line x1="360.6" y1="575.5" x2="379.1" y2="575.5" stroke="#92d050" stroke-width="2"/>
<path d="M369.9 571.0L373.8 578.4L366.0 578.4Z" fill="#9bbb59"/>
<text x="380.1" y="580.6" font-family="Liberation Serif" font-size="15" fill="#000" text-anchor="start" font-weight="normal" >k=1.4</text>
<line x1="360.6" y1="601.5" x2="379.1" y2="601.5" stroke="#7030a0" stroke-width="2"/>
<path d="M366.0 597.6L373.8 605.4M373.8 597.6L366.0 605.4" stroke="#b3a2c7" stroke-width="1.1" fill="none"/>
<text x="380.1" y="606.6" font-family="Liberation Serif" font-size="15" fill="#000" text-anchor="start" font-weight="normal" >k=2.0</text>
<text x="266" y="783" font-family="Liberation Serif" font-size="14.5" font-weight="bold" text-anchor="middle">Extinction coefficient (m<tspan font-size="9.5" dy="-5">-1</tspan><tspan dy="5">)</tspan></text>
<text transform="translate(20,596) rotate(-90)" font-family="Liberation Serif" font-size="14.5" font-weight="bold" text-anchor="middle">Height (m)</text>
<path d="M551.4 1147.7H847.6M915.7 1147.7H965.6" stroke="#a6a6a6" stroke-width="1.2"/>
<path d="M551.4 1113.8H847.6M915.7 1113.8H965.6" stroke="#a6a6a6" stroke-width="1.2"/>
<path d="M551.4 1079.9H847.6M915.7 1079.9H965.6" stroke="#a6a6a6" stroke-width="1.2"/>
<line x1="551.4" y1="1046.0" x2="965.6" y2="1046.0" stroke="#a6a6a6" stroke-width="1.2"/>
<line x1="551.4" y1="1012.0" x2="965.6" y2="1012.0" stroke="#a6a6a6" stroke-width="1.2"/>
<line x1="551.4" y1="978.1" x2="965.6" y2="978.1" stroke="#a6a6a6" stroke-width="1.2"/>
<line x1="551.4" y1="944.2" x2="965.6" y2="944.2" stroke="#a6a6a6" stroke-width="1.2"/>
<line x1="551.4" y1="910.3" x2="965.6" y2="910.3" stroke="#a6a6a6" stroke-width="1.2"/>
<line x1="551.4" y1="876.4" x2="551.4" y2="1181.6" stroke="#8c8c8c" stroke-width="1.2"/>
<line x1="551.4" y1="1181.6" x2="965.6" y2="1181.6" stroke="#8c8c8c" stroke-width="1.2"/>
<path d="M551.4 876.4H965.6V1181.6" fill="none" stroke="#a47cc8" stroke-width="1.3"/>
<line x1="546.4" y1="1181.6" x2="551.4" y2="1181.6" stroke="#8c8c8c" stroke-width="1"/>
<text x="537.0" y="1186.9" font-family="Liberation Serif" font-size="16" fill="#000" text-anchor="end" font-weight="normal" >0</text>
<line x1="546.4" y1="1147.7" x2="551.4" y2="1147.7" stroke="#8c8c8c" stroke-width="1"/>
<text x="537.0" y="1153.0" font-family="Liberation Serif" font-size="16" fill="#000" text-anchor="end" font-weight="normal" >500</text>
<line x1="546.4" y1="1113.8" x2="551.4" y2="1113.8" stroke="#8c8c8c" stroke-width="1"/>
<text x="537.0" y="1119.1" font-family="Liberation Serif" font-size="16" fill="#000" text-anchor="end" font-weight="normal" >1000</text>
<line x1="546.4" y1="1079.9" x2="551.4" y2="1079.9" stroke="#8c8c8c" stroke-width="1"/>
<text x="537.0" y="1085.1" font-family="Liberation Serif" font-size="16" fill="#000" text-anchor="end" font-weight="normal" >1500</text>
<line x1="546.4" y1="1046.0" x2="551.4" y2="1046.0" stroke="#8c8c8c" stroke-width="1"/>
<text x="537.0" y="1051.2" font-family="Liberation Serif" font-size="16" fill="#000" text-anchor="end" font-weight="normal" >2000</text>
<line x1="546.4" y1="1012.0" x2="551.4" y2="1012.0" stroke="#8c8c8c" stroke-width="1"/>
<text x="537.0" y="1017.3" font-family="Liberation Serif" font-size="16" fill="#000" text-anchor="end" font-weight="normal" >2500</text>
<line x1="546.4" y1="978.1" x2="551.4" y2="978.1" stroke="#8c8c8c" stroke-width="1"/>
<text x="537.0" y="983.4" font-family="Liberation Serif" font-size="16" fill="#000" text-anchor="end" font-weight="normal" >3000</text>
<line x1="546.4" y1="944.2" x2="551.4" y2="944.2" stroke="#8c8c8c" stroke-width="1"/>
<text x="537.0" y="949.5" font-family="Liberation Serif" font-size="16" fill="#000" text-anchor="end" font-weight="normal" >3500</text>
<line x1="546.4" y1="910.3" x2="551.4" y2="910.3" stroke="#8c8c8c" stroke-width="1"/>
<text x="537.0" y="915.6" font-family="Liberation Serif" font-size="16" fill="#000" text-anchor="end" font-weight="normal" >4000</text>
<line x1="546.4" y1="876.4" x2="551.4" y2="876.4" stroke="#8c8c8c" stroke-width="1"/>
<text x="537.0" y="881.7" font-family="Liberation Serif" font-size="16" fill="#000" text-anchor="end" font-weight="normal" >4500</text>
<line x1="551.4" y1="1181.6" x2="551.4" y2="1186.6" stroke="#8c8c8c" stroke-width="1"/>
<text x="551.4" y="1212.0" font-family="Liberation Serif" font-size="16" fill="#000" text-anchor="middle" font-weight="normal" >0</text>
<line x1="620.4" y1="1181.6" x2="620.4" y2="1186.6" stroke="#8c8c8c" stroke-width="1"/>
<text x="620.4" y="1212.0" font-family="Liberation Serif" font-size="16" fill="#000" text-anchor="middle" font-weight="normal" >0.0002</text>
<line x1="689.5" y1="1181.6" x2="689.5" y2="1186.6" stroke="#8c8c8c" stroke-width="1"/>
<text x="689.5" y="1212.0" font-family="Liberation Serif" font-size="16" fill="#000" text-anchor="middle" font-weight="normal" >0.0004</text>
<line x1="758.5" y1="1181.6" x2="758.5" y2="1186.6" stroke="#8c8c8c" stroke-width="1"/>
<text x="758.5" y="1212.0" font-family="Liberation Serif" font-size="16" fill="#000" text-anchor="middle" font-weight="normal" >0.0006</text>
<line x1="827.5" y1="1181.6" x2="827.5" y2="1186.6" stroke="#8c8c8c" stroke-width="1"/>
<text x="827.5" y="1212.0" font-family="Liberation Serif" font-size="16" fill="#000" text-anchor="middle" font-weight="normal" >0.0008</text>
<line x1="896.6" y1="1181.6" x2="896.6" y2="1186.6" stroke="#8c8c8c" stroke-width="1"/>
<text x="896.6" y="1212.0" font-family="Liberation Serif" font-size="16" fill="#000" text-anchor="middle" font-weight="normal" >0.001</text>
<line x1="965.6" y1="1181.6" x2="965.6" y2="1186.6" stroke="#8c8c8c" stroke-width="1"/>
<text x="965.6" y="1212.0" font-family="Liberation Serif" font-size="16" fill="#000" text-anchor="middle" font-weight="normal" >0.0012</text>
<path d="M562.2 916.6L566.9 923.4L559.7 930.2L565.3 936.9L569.1 943.7L589.1 950.5L684.4 964.1L777.9 970.8L732.7 977.6L739.5 984.4L763.9 991.2L744.6 998.0L892.7 1004.7L777.1 1011.5L838.1 1018.3L786.5 1025.1L753.5 1031.9L728.4 1038.6L707.3 1045.4L678.1 1052.2L671.7 1059.0L683.2 1065.8L668.9 1072.5L638.8 1079.3L643.2 1086.1L648.0 1092.9L646.6 1099.7L649.0 1106.4L640.2 1113.2L642.6 1120.0L643.2 1126.8L651.1 1133.6L660.0 1140.3L650.8 1147.1L671.9 1153.9L660.7 1160.7" fill="none" stroke="#4a7ebb" stroke-width="2" stroke-linejoin="round"/>
<path d="M562.2 912.5L566.3 916.6L562.2 920.7L558.1 916.6Z" fill="#4a7ebb"/>
<path d="M566.9 919.3L571.0 923.4L566.9 927.5L562.8 923.4Z" fill="#4a7ebb"/>
<path d="M559.7 926.1L563.8 930.2L559.7 934.3L555.6 930.2Z" fill="#4a7ebb"/>
<path d="M565.3 932.8L569.4 936.9L565.3 941.0L561.2 936.9Z" fill="#4a7ebb"/>
<path d="M569.1 939.6L573.2 943.7L569.1 947.8L565.0 943.7Z" fill="#4a7ebb"/>
<path d="M589.1 946.4L593.2 950.5L589.1 954.6L585.0 950.5Z" fill="#4a7ebb"/>
<path d="M684.4 960.0L688.5 964.1L684.4 968.2L680.3 964.1Z" fill="#4a7ebb"/>
<path d="M777.9 966.7L782.0 970.8L777.9 974.9L773.8 970.8Z" fill="#4a7ebb"/>
<path d="M732.7 973.5L736.8 977.6L732.7 981.7L728.6 977.6Z" fill="#4a7ebb"/>
<path d="M739.5 980.3L743.6 984.4L739.5 988.5L735.4 984.4Z" fill="#4a7ebb"/>
<path d="M763.9 987.1L768.0 991.2L763.9 995.3L759.8 991.2Z" fill="#4a7ebb"/>
<path d="M744.6 993.9L748.7 998.0L744.6 1002.1L740.5 998.0Z" fill="#4a7ebb"/>
<path d="M892.7 1000.6L896.8 1004.7L892.7 1008.8L888.6 1004.7Z" fill="#4a7ebb"/>
<path d="M777.1 1007.4L781.2 1011.5L777.1 1015.6L773.0 1011.5Z" fill="#4a7ebb"/>
<path d="M838.1 1014.2L842.2 1018.3L838.1 1022.4L834.0 1018.3Z" fill="#4a7ebb"/>
<path d="M786.5 1021.0L790.6 1025.1L786.5 1029.2L782.4 1025.1Z" fill="#4a7ebb"/>
<path d="M753.5 1027.8L757.6 1031.9L753.5 1036.0L749.4 1031.9Z" fill="#4a7ebb"/>
<path d="M728.4 1034.5L732.5 1038.6L728.4 1042.7L724.3 1038.6Z" fill="#4a7ebb"/>
<path d="M707.3 1041.3L711.4 1045.4L707.3 1049.5L703.2 1045.4Z" fill="#4a7ebb"/>
<path d="M678.1 1048.1L682.2 1052.2L678.1 1056.3L674.0 1052.2Z" fill="#4a7ebb"/>
<path d="M671.7 1054.9L675.8 1059.0L671.7 1063.1L667.6 1059.0Z" fill="#4a7ebb"/>
<path d="M683.2 1061.7L687.3 1065.8L683.2 1069.9L679.1 1065.8Z" fill="#4a7ebb"/>
<path d="M668.9 1068.4L673.0 1072.5L668.9 1076.6L664.8 1072.5Z" fill="#4a7ebb"/>
<path d="M638.8 1075.2L642.9 1079.3L638.8 1083.4L634.7 1079.3Z" fill="#4a7ebb"/>
<path d="M643.2 1082.0L647.3 1086.1L643.2 1090.2L639.1 1086.1Z" fill="#4a7ebb"/>
<path d="M648.0 1088.8L652.1 1092.9L648.0 1097.0L643.9 1092.9Z" fill="#4a7ebb"/>
<path d="M646.6 1095.6L650.7 1099.7L646.6 1103.8L642.5 1099.7Z" fill="#4a7ebb"/>
<path d="M649.0 1102.3L653.1 1106.4L649.0 1110.5L644.9 1106.4Z" fill="#4a7ebb"/>
<path d="M640.2 1109.1L644.3 1113.2L640.2 1117.3L636.1 1113.2Z" fill="#4a7ebb"/>
<path d="M642.6 1115.9L646.7 1120.0L642.6 1124.1L638.5 1120.0Z" fill="#4a7ebb"/>
<path d="M643.2 1122.7L647.3 1126.8L643.2 1130.9L639.1 1126.8Z" fill="#4a7ebb"/>
<path d="M651.1 1129.5L655.2 1133.6L651.1 1137.7L647.0 1133.6Z" fill="#4a7ebb"/>
<path d="M660.0 1136.2L664.1 1140.3L660.0 1144.4L655.9 1140.3Z" fill="#4a7ebb"/>
<path d="M650.8 1143.0L654.9 1147.1L650.8 1151.2L646.7 1147.1Z" fill="#4a7ebb"/>
<path d="M671.9 1149.8L676.0 1153.9L671.9 1158.0L667.8 1153.9Z" fill="#4a7ebb"/>
<path d="M660.7 1156.6L664.8 1160.7L660.7 1164.8L656.6 1160.7Z" fill="#4a7ebb"/>
<path d="M575.8 916.6L580.9 923.4L572.7 930.2L578.9 936.9L582.5 943.7L596.9 950.5L605.5 957.3L638.3 964.1L666.4 970.8L657.8 977.6L662.9 984.4L672.5 991.2L670.5 998.0L715.4 1004.7L690.8 1011.5L713.1 1018.3L703.5 1025.1L695.4 1031.9L688.2 1038.6L681.4 1045.4L670.0 1052.2L667.9 1059.0L672.5 1065.8L666.7 1072.5L649.0 1079.3L651.1 1086.1L655.2 1092.9L653.8 1099.7L655.9 1106.4L649.0 1113.2L649.7 1120.0L650.0 1126.8L655.9 1133.6L660.0 1140.3L654.5 1147.1L666.1 1153.9L660.4 1160.7" fill="none" stroke="#c00000" stroke-width="2" stroke-linejoin="round"/>
<rect x="571.7" y="912.5" width="8.2" height="8.2" fill="#c0504d"/>
<rect x="576.8" y="919.3" width="8.2" height="8.2" fill="#c0504d"/>
<rect x="568.6" y="926.1" width="8.2" height="8.2" fill="#c0504d"/>
<rect x="574.8" y="932.8" width="8.2" height="8.2" fill="#c0504d"/>
<rect x="578.4" y="939.6" width="8.2" height="8.2" fill="#c0504d"/>
<rect x="592.8" y="946.4" width="8.2" height="8.2" fill="#c0504d"/>
<rect x="601.4" y="953.2" width="8.2" height="8.2" fill="#c0504d"/>
<rect x="634.2" y="960.0" width="8.2" height="8.2" fill="#c0504d"/>
<rect x="662.3" y="966.7" width="8.2" height="8.2" fill="#c0504d"/>
<rect x="653.7" y="973.5" width="8.2" height="8.2" fill="#c0504d"/>
<rect x="658.8" y="980.3" width="8.2" height="8.2" fill="#c0504d"/>
<rect x="668.4" y="987.1" width="8.2" height="8.2" fill="#c0504d"/>
<rect x="666.4" y="993.9" width="8.2" height="8.2" fill="#c0504d"/>
<rect x="711.3" y="1000.6" width="8.2" height="8.2" fill="#c0504d"/>
<rect x="686.7" y="1007.4" width="8.2" height="8.2" fill="#c0504d"/>
<rect x="709.0" y="1014.2" width="8.2" height="8.2" fill="#c0504d"/>
<rect x="699.4" y="1021.0" width="8.2" height="8.2" fill="#c0504d"/>
<rect x="691.3" y="1027.8" width="8.2" height="8.2" fill="#c0504d"/>
<rect x="684.1" y="1034.5" width="8.2" height="8.2" fill="#c0504d"/>
<rect x="677.3" y="1041.3" width="8.2" height="8.2" fill="#c0504d"/>
<rect x="665.9" y="1048.1" width="8.2" height="8.2" fill="#c0504d"/>
<rect x="663.8" y="1054.9" width="8.2" height="8.2" fill="#c0504d"/>
<rect x="668.4" y="1061.7" width="8.2" height="8.2" fill="#c0504d"/>
<rect x="662.6" y="1068.4" width="8.2" height="8.2" fill="#c0504d"/>
<rect x="644.9" y="1075.2" width="8.2" height="8.2" fill="#c0504d"/>
<rect x="647.0" y="1082.0" width="8.2" height="8.2" fill="#c0504d"/>
<rect x="651.1" y="1088.8" width="8.2" height="8.2" fill="#c0504d"/>
<rect x="649.7" y="1095.6" width="8.2" height="8.2" fill="#c0504d"/>
<rect x="651.8" y="1102.3" width="8.2" height="8.2" fill="#c0504d"/>
<rect x="644.9" y="1109.1" width="8.2" height="8.2" fill="#c0504d"/>
<rect x="645.6" y="1115.9" width="8.2" height="8.2" fill="#c0504d"/>
<rect x="645.9" y="1122.7" width="8.2" height="8.2" fill="#c0504d"/>
<rect x="651.8" y="1129.5" width="8.2" height="8.2" fill="#c0504d"/>
<rect x="655.9" y="1136.2" width="8.2" height="8.2" fill="#c0504d"/>
<rect x="650.4" y="1143.0" width="8.2" height="8.2" fill="#c0504d"/>
<rect x="662.0" y="1149.8" width="8.2" height="8.2" fill="#c0504d"/>
<rect x="656.3" y="1156.6" width="8.2" height="8.2" fill="#c0504d"/>
<path d="M585.2 916.6L590.3 923.4L582.0 930.2L588.3 936.9L591.9 943.7L603.9 950.5L612.5 957.3L635.2 964.1L654.6 970.8L650.1 977.6L654.0 984.4L659.5 991.2L659.0 998.0L687.2 1004.7L673.2 1011.5L687.8 1018.3L683.2 1025.1L679.4 1031.9L675.6 1038.6L670.5 1045.4L665.4 1052.2L664.1 1059.0L665.4 1065.8L665.4 1072.5L650.4 1079.3L653.1 1086.1L654.5 1092.9L654.5 1099.7L655.9 1106.4L651.1 1113.2L651.1 1120.0L651.1 1126.8L655.2 1133.6L660.0 1140.3L654.5 1147.1L665.5 1153.9L660.7 1160.7" fill="none" stroke="#92d050" stroke-width="2" stroke-linejoin="round"/>
<path d="M585.2 911.9L589.3 919.7L581.1 919.7Z" fill="#9bbb59"/>
<path d="M590.3 918.7L594.4 926.5L586.2 926.5Z" fill="#9bbb59"/>
<path d="M582.0 925.4L586.1 933.2L577.9 933.2Z" fill="#9bbb59"/>
<path d="M588.3 932.2L592.4 940.0L584.2 940.0Z" fill="#9bbb59"/>
<path d="M591.9 939.0L596.0 946.8L587.8 946.8Z" fill="#9bbb59"/>
<path d="M603.9 945.8L608.0 953.6L599.8 953.6Z" fill="#9bbb59"/>
<path d="M612.5 952.6L616.6 960.4L608.4 960.4Z" fill="#9bbb59"/>
<path d="M635.2 959.3L639.3 967.1L631.1 967.1Z" fill="#9bbb59"/>
<path d="M654.6 966.1L658.7 973.9L650.5 973.9Z" fill="#9bbb59"/>
<path d="M650.1 972.9L654.2 980.7L646.0 980.7Z" fill="#9bbb59"/>
<path d="M654.0 979.7L658.1 987.5L649.9 987.5Z" fill="#9bbb59"/>
<path d="M659.5 986.5L663.6 994.3L655.4 994.3Z" fill="#9bbb59"/>
<path d="M659.0 993.2L663.1 1001.0L654.9 1001.0Z" fill="#9bbb59"/>
<path d="M687.2 1000.0L691.3 1007.8L683.1 1007.8Z" fill="#9bbb59"/>
<path d="M673.2 1006.8L677.3 1014.6L669.1 1014.6Z" fill="#9bbb59"/>
<path d="M687.8 1013.6L691.9 1021.4L683.7 1021.4Z" fill="#9bbb59"/>
<path d="M683.2 1020.4L687.3 1028.2L679.1 1028.2Z" fill="#9bbb59"/>
<path d="M679.4 1027.1L683.5 1034.9L675.3 1034.9Z" fill="#9bbb59"/>
<path d="M675.6 1033.9L679.7 1041.7L671.5 1041.7Z" fill="#9bbb59"/>
<path d="M670.5 1040.7L674.6 1048.5L666.4 1048.5Z" fill="#9bbb59"/>
<path d="M665.4 1047.5L669.5 1055.3L661.3 1055.3Z" fill="#9bbb59"/>
<path d="M664.1 1054.3L668.2 1062.1L660.0 1062.1Z" fill="#9bbb59"/>
<path d="M665.4 1061.0L669.5 1068.8L661.3 1068.8Z" fill="#9bbb59"/>
<path d="M665.4 1067.8L669.5 1075.6L661.3 1075.6Z" fill="#9bbb59"/>
<path d="M650.4 1074.6L654.5 1082.4L646.3 1082.4Z" fill="#9bbb59"/>
<path d="M653.1 1081.4L657.2 1089.2L649.0 1089.2Z" fill="#9bbb59"/>
<path d="M654.5 1088.2L658.6 1096.0L650.4 1096.0Z" fill="#9bbb59"/>
<path d="M654.5 1094.9L658.6 1102.7L650.4 1102.7Z" fill="#9bbb59"/>
<path d="M655.9 1101.7L660.0 1109.5L651.8 1109.5Z" fill="#9bbb59"/>
<path d="M651.1 1108.5L655.2 1116.3L647.0 1116.3Z" fill="#9bbb59"/>
<path d="M651.1 1115.3L655.2 1123.1L647.0 1123.1Z" fill="#9bbb59"/>
<path d="M651.1 1122.1L655.2 1129.9L647.0 1129.9Z" fill="#9bbb59"/>
<path d="M655.2 1128.8L659.3 1136.6L651.1 1136.6Z" fill="#9bbb59"/>
<path d="M660.0 1135.6L664.1 1143.4L655.9 1143.4Z" fill="#9bbb59"/>
<path d="M654.5 1142.4L658.6 1150.2L650.4 1150.2Z" fill="#9bbb59"/>
<path d="M665.5 1149.2L669.6 1157.0L661.4 1157.0Z" fill="#9bbb59"/>
<path d="M660.7 1156.0L664.8 1163.8L656.6 1163.8Z" fill="#9bbb59"/>
<path d="M596.6 916.6L600.3 923.4L593.0 930.2L598.4 936.9L602.3 943.7L612.5 950.5L618.8 957.3L632.8 964.1L648.0 970.8L644.5 977.6L648.6 984.4L652.2 991.2L653.5 998.0L670.4 1004.7L663.7 1011.5L671.8 1018.3L669.2 1025.1L666.7 1031.9L664.1 1038.6L662.9 1045.4L659.0 1052.2L657.8 1059.0L659.0 1065.8L655.2 1072.5L651.8 1079.3L652.5 1086.1L653.8 1092.9L654.5 1099.7L654.5 1106.4L652.5 1113.2L653.8 1120.0L654.5 1126.8L656.6 1133.6L658.6 1140.3L657.2 1147.1L662.0 1153.9L660.7 1160.7" fill="none" stroke="#7030a0" stroke-width="2" stroke-linejoin="round"/>
<path d="M592.5 912.5L600.7 920.7M600.7 912.5L592.5 920.7" stroke="#b3a2c7" stroke-width="1.1" fill="none"/>
<path d="M596.2 919.3L604.4 927.5M604.4 919.3L596.2 927.5" stroke="#b3a2c7" stroke-width="1.1" fill="none"/>
<path d="M588.9 926.1L597.1 934.3M597.1 926.1L588.9 934.3" stroke="#b3a2c7" stroke-width="1.1" fill="none"/>
<path d="M594.3 932.8L602.5 941.0M602.5 932.8L594.3 941.0" stroke="#b3a2c7" stroke-width="1.1" fill="none"/>
<path d="M598.2 939.6L606.4 947.8M606.4 939.6L598.2 947.8" stroke="#b3a2c7" stroke-width="1.1" fill="none"/>
<path d="M608.4 946.4L616.6 954.6M616.6 946.4L608.4 954.6" stroke="#b3a2c7" stroke-width="1.1" fill="none"/>
<path d="M614.7 953.2L622.9 961.4M622.9 953.2L614.7 961.4" stroke="#b3a2c7" stroke-width="1.1" fill="none"/>
<path d="M628.7 960.0L636.9 968.2M636.9 960.0L628.7 968.2" stroke="#b3a2c7" stroke-width="1.1" fill="none"/>
<path d="M643.9 966.7L652.1 974.9M652.1 966.7L643.9 974.9" stroke="#b3a2c7" stroke-width="1.1" fill="none"/>
<path d="M640.4 973.5L648.6 981.7M648.6 973.5L640.4 981.7" stroke="#b3a2c7" stroke-width="1.1" fill="none"/>
<path d="M644.5 980.3L652.7 988.5M652.7 980.3L644.5 988.5" stroke="#b3a2c7" stroke-width="1.1" fill="none"/>
<path d="M648.1 987.1L656.3 995.3M656.3 987.1L648.1 995.3" stroke="#b3a2c7" stroke-width="1.1" fill="none"/>
<path d="M649.4 993.9L657.6 1002.1M657.6 993.9L649.4 1002.1" stroke="#b3a2c7" stroke-width="1.1" fill="none"/>
<path d="M666.3 1000.6L674.5 1008.8M674.5 1000.6L666.3 1008.8" stroke="#b3a2c7" stroke-width="1.1" fill="none"/>
<path d="M659.6 1007.4L667.8 1015.6M667.8 1007.4L659.6 1015.6" stroke="#b3a2c7" stroke-width="1.1" fill="none"/>
<path d="M667.7 1014.2L675.9 1022.4M675.9 1014.2L667.7 1022.4" stroke="#b3a2c7" stroke-width="1.1" fill="none"/>
<path d="M665.1 1021.0L673.3 1029.2M673.3 1021.0L665.1 1029.2" stroke="#b3a2c7" stroke-width="1.1" fill="none"/>
<path d="M662.6 1027.8L670.8 1036.0M670.8 1027.8L662.6 1036.0" stroke="#b3a2c7" stroke-width="1.1" fill="none"/>
<path d="M660.0 1034.5L668.2 1042.7M668.2 1034.5L660.0 1042.7" stroke="#b3a2c7" stroke-width="1.1" fill="none"/>
<path d="M658.8 1041.3L667.0 1049.5M667.0 1041.3L658.8 1049.5" stroke="#b3a2c7" stroke-width="1.1" fill="none"/>
<path d="M654.9 1048.1L663.1 1056.3M663.1 1048.1L654.9 1056.3" stroke="#b3a2c7" stroke-width="1.1" fill="none"/>
<path d="M653.7 1054.9L661.9 1063.1M661.9 1054.9L653.7 1063.1" stroke="#b3a2c7" stroke-width="1.1" fill="none"/>
<path d="M654.9 1061.7L663.1 1069.9M663.1 1061.7L654.9 1069.9" stroke="#b3a2c7" stroke-width="1.1" fill="none"/>
<path d="M651.1 1068.4L659.3 1076.6M659.3 1068.4L651.1 1076.6" stroke="#b3a2c7" stroke-width="1.1" fill="none"/>
<path d="M647.7 1075.2L655.9 1083.4M655.9 1075.2L647.7 1083.4" stroke="#b3a2c7" stroke-width="1.1" fill="none"/>
<path d="M648.4 1082.0L656.6 1090.2M656.6 1082.0L648.4 1090.2" stroke="#b3a2c7" stroke-width="1.1" fill="none"/>
<path d="M649.7 1088.8L657.9 1097.0M657.9 1088.8L649.7 1097.0" stroke="#b3a2c7" stroke-width="1.1" fill="none"/>
<path d="M650.4 1095.6L658.6 1103.8M658.6 1095.6L650.4 1103.8" stroke="#b3a2c7" stroke-width="1.1" fill="none"/>
<path d="M650.4 1102.3L658.6 1110.5M658.6 1102.3L650.4 1110.5" stroke="#b3a2c7" stroke-width="1.1" fill="none"/>
<path d="M648.4 1109.1L656.6 1117.3M656.6 1109.1L648.4 1117.3" stroke="#b3a2c7" stroke-width="1.1" fill="none"/>
<path d="M649.7 1115.9L657.9 1124.1M657.9 1115.9L649.7 1124.1" stroke="#b3a2c7" stroke-width="1.1" fill="none"/>
<path d="M650.4 1122.7L658.6 1130.9M658.6 1122.7L650.4 1130.9" stroke="#b3a2c7" stroke-width="1.1" fill="none"/>
<path d="M652.5 1129.5L660.7 1137.7M660.7 1129.5L652.5 1137.7" stroke="#b3a2c7" stroke-width="1.1" fill="none"/>
<path d="M654.5 1136.2L662.7 1144.4M662.7 1136.2L654.5 1144.4" stroke="#b3a2c7" stroke-width="1.1" fill="none"/>
<path d="M653.1 1143.0L661.3 1151.2M661.3 1143.0L653.1 1151.2" stroke="#b3a2c7" stroke-width="1.1" fill="none"/>
<path d="M657.9 1149.8L666.1 1158.0M666.1 1149.8L657.9 1158.0" stroke="#b3a2c7" stroke-width="1.1" fill="none"/>
<path d="M656.6 1156.6L664.8 1164.8M664.8 1156.6L656.6 1164.8" stroke="#b3a2c7" stroke-width="1.1" fill="none"/>
<rect x="847.6" y="1058" width="68.10000000000002" height="112" fill="#fff"/>
<line x1="851.2" y1="1072" x2="872.5" y2="1072" stroke="#4a7ebb" stroke-width="2"/>
<path d="M861.9 1067.9L866.0 1072.0L861.9 1076.1L857.8 1072.0Z" fill="#4a7ebb"/>
<text x="873.6" y="1077.4" font-family="Liberation Serif" font-size="16" fill="#000" text-anchor="start" font-weight="normal" >k=0.5</text>
<line x1="851.2" y1="1100.1" x2="872.5" y2="1100.1" stroke="#c00000" stroke-width="2"/>
<rect x="857.8" y="1096.0" width="8.2" height="8.2" fill="#c0504d"/>
<text x="873.6" y="1105.5" font-family="Liberation Serif" font-size="16" fill="#000" text-anchor="start" font-weight="normal" >k=1.0</text>
<line x1="851.2" y1="1128.4" x2="872.5" y2="1128.4" stroke="#92d050" stroke-width="2"/>
<path d="M861.9 1123.7L866.0 1131.5L857.8 1131.5Z" fill="#9bbb59"/>
<text x="873.6" y="1133.8" font-family="Liberation Serif" font-size="16" fill="#000" text-anchor="start" font-weight="normal" >k=1.4</text>
<line x1="851.2" y1="1156.9" x2="872.5" y2="1156.9" stroke="#7030a0" stroke-width="2"/>
<path d="M857.8 1152.8L866.0 1161.0M866.0 1152.8L857.8 1161.0" stroke="#b3a2c7" stroke-width="1.1" fill="none"/>
<text x="873.6" y="1162.3" font-family="Liberation Serif" font-size="16" fill="#000" text-anchor="start" font-weight="normal" >k=2.0</text>
<text x="757" y="1233" font-family="Liberation Serif" font-size="16" font-weight="bold" text-anchor="middle">Extinction coefficient (m<tspan font-size="10.5" dy="-5.5">-1</tspan><tspan dy="5.5">)</tspan></text>
<text transform="translate(486,1028) rotate(-90)" font-family="Liberation Serif" font-size="16" font-weight="bold" text-anchor="middle">Height (m)</text>
</svg></body></html>
